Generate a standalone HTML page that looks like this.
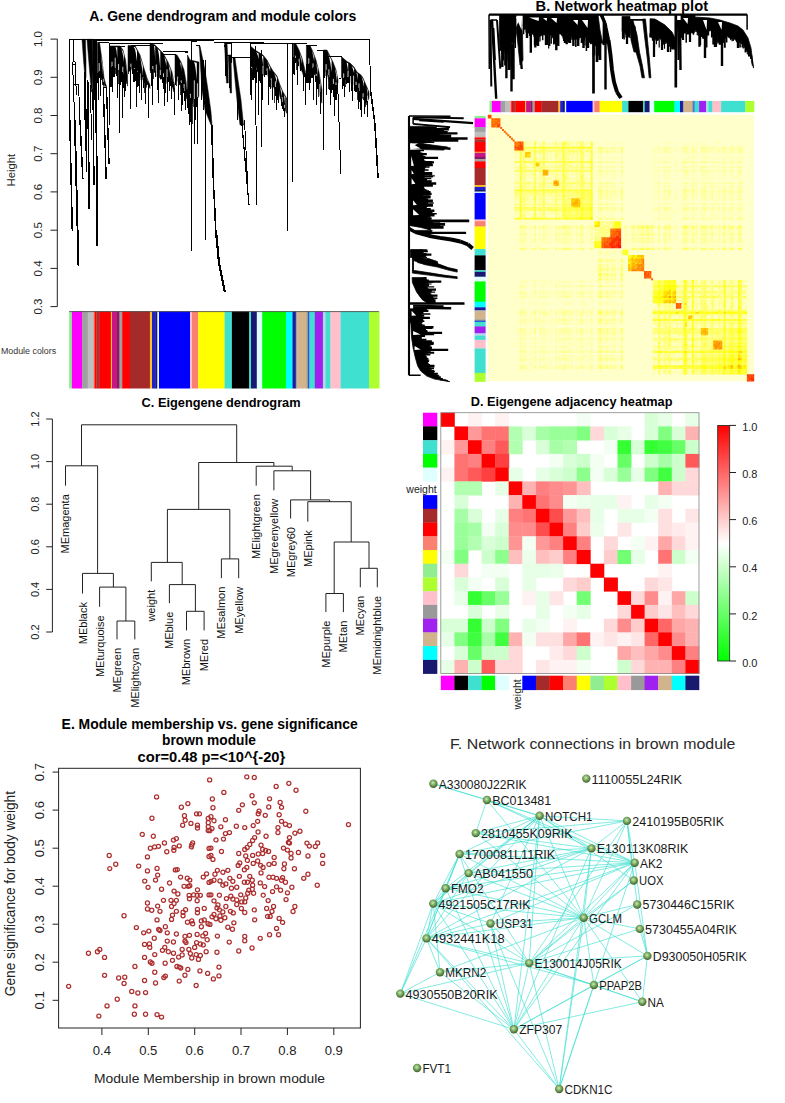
<!DOCTYPE html>
<html><head><meta charset="utf-8"><style>
html,body{margin:0;padding:0;background:#fff;}
svg{display:block;}
text{font-family:"Liberation Sans",sans-serif;}
</style></head><body>
<svg width="785" height="1103" viewBox="0 0 785 1103">
<rect width="785" height="1103" fill="#fff"/>
<text x="222.8" y="21.1" font-size="14" font-weight="bold" text-anchor="middle" fill="#000" textLength="267" lengthAdjust="spacingAndGlyphs">A. Gene dendrogram and module colors</text>
<path d="M57.3 39.1V306.6" stroke="#222" stroke-width="1" fill="none"/>
<path d="M50.5 39.1H57.3" stroke="#222" stroke-width="1"/>
<text x="42.3" y="39.1" font-size="11.5" text-anchor="middle" fill="#222" transform="rotate(-90 42.3 39.1)">1.0</text>
<path d="M50.5 77.3H57.3" stroke="#222" stroke-width="1"/>
<text x="42.3" y="77.3" font-size="11.5" text-anchor="middle" fill="#222" transform="rotate(-90 42.3 77.3)">0.9</text>
<path d="M50.5 115.5H57.3" stroke="#222" stroke-width="1"/>
<text x="42.3" y="115.5" font-size="11.5" text-anchor="middle" fill="#222" transform="rotate(-90 42.3 115.5)">0.8</text>
<path d="M50.5 153.7H57.3" stroke="#222" stroke-width="1"/>
<text x="42.3" y="153.7" font-size="11.5" text-anchor="middle" fill="#222" transform="rotate(-90 42.3 153.7)">0.7</text>
<path d="M50.5 191.9H57.3" stroke="#222" stroke-width="1"/>
<text x="42.3" y="191.9" font-size="11.5" text-anchor="middle" fill="#222" transform="rotate(-90 42.3 191.9)">0.6</text>
<path d="M50.5 230.2H57.3" stroke="#222" stroke-width="1"/>
<text x="42.3" y="230.2" font-size="11.5" text-anchor="middle" fill="#222" transform="rotate(-90 42.3 230.2)">0.5</text>
<path d="M50.5 268.4H57.3" stroke="#222" stroke-width="1"/>
<text x="42.3" y="268.4" font-size="11.5" text-anchor="middle" fill="#222" transform="rotate(-90 42.3 268.4)">0.4</text>
<path d="M50.5 306.6H57.3" stroke="#222" stroke-width="1"/>
<text x="42.3" y="306.6" font-size="11.5" text-anchor="middle" fill="#222" transform="rotate(-90 42.3 306.6)">0.3</text>
<text x="14.8" y="170.2" font-size="11.3" text-anchor="middle" fill="#222" transform="rotate(-90 14.8 170.2)">Height</text>
<text x="0.9" y="354.1" font-size="8.9" text-anchor="start" fill="#333">Module colors</text>
<rect x="69.1" y="311.2" width="3.1" height="77.3" fill="#90ee90"/>
<rect x="71.9" y="311.2" width="10.5" height="77.3" fill="#ff00ff"/>
<rect x="82.1" y="311.2" width="5.9" height="77.3" fill="#a0a0a0"/>
<rect x="87.7" y="311.2" width="6.2" height="77.3" fill="#bebebe"/>
<rect x="93.6" y="311.2" width="1.3" height="77.3" fill="#fa8072"/>
<rect x="94.6" y="311.2" width="2.1" height="77.3" fill="#ff0000"/>
<rect x="96.4" y="311.2" width="3.5" height="77.3" fill="#b03030"/>
<rect x="99.6" y="311.2" width="11.6" height="77.3" fill="#ff0000"/>
<rect x="110.9" y="311.2" width="1.4" height="77.3" fill="#ffc125"/>
<rect x="112" y="311.2" width="5.3" height="77.3" fill="#c71585"/>
<rect x="117" y="311.2" width="2.8" height="77.3" fill="#8b1a5a"/>
<rect x="119.5" y="311.2" width="3" height="77.3" fill="#a0a0a0"/>
<rect x="122.2" y="311.2" width="7.8" height="77.3" fill="#ff0000"/>
<rect x="129.7" y="311.2" width="20.5" height="77.3" fill="#a52a2a"/>
<rect x="149.9" y="311.2" width="2.4" height="77.3" fill="#ffc125"/>
<rect x="152" y="311.2" width="3.6" height="77.3" fill="#2020d0"/>
<rect x="155.3" y="311.2" width="2.4" height="77.3" fill="#191970"/>
<rect x="157.4" y="311.2" width="1.9" height="77.3" fill="#e0ffff"/>
<rect x="159" y="311.2" width="31.3" height="77.3" fill="#0000ff"/>
<rect x="190" y="311.2" width="2.3" height="77.3" fill="#ffc0cb"/>
<rect x="192" y="311.2" width="6.5" height="77.3" fill="#fa8072"/>
<rect x="198.2" y="311.2" width="26.7" height="77.3" fill="#ffff00"/>
<rect x="224.6" y="311.2" width="7.6" height="77.3" fill="#40e0d0"/>
<rect x="231.9" y="311.2" width="17.6" height="77.3" fill="#000000"/>
<rect x="249.2" y="311.2" width="2.1" height="77.3" fill="#40e0d0"/>
<rect x="251" y="311.2" width="6.1" height="77.3" fill="#191970"/>
<rect x="256.8" y="311.2" width="5.7" height="77.3" fill="#e0ffff"/>
<rect x="262.2" y="311.2" width="24.1" height="77.3" fill="#00ff00"/>
<rect x="286" y="311.2" width="6.8" height="77.3" fill="#00ffff"/>
<rect x="292.5" y="311.2" width="3.6" height="77.3" fill="#1c1ca0"/>
<rect x="295.8" y="311.2" width="1.8" height="77.3" fill="#a0a0a0"/>
<rect x="297.3" y="311.2" width="9.6" height="77.3" fill="#d2b48c"/>
<rect x="306.6" y="311.2" width="1.8" height="77.3" fill="#999999"/>
<rect x="308.1" y="311.2" width="1.6" height="77.3" fill="#2040e0"/>
<rect x="309.4" y="311.2" width="5.7" height="77.3" fill="#40e0d0"/>
<rect x="314.8" y="311.2" width="8.4" height="77.3" fill="#a020f0"/>
<rect x="322.9" y="311.2" width="3.1" height="77.3" fill="#add8e6"/>
<rect x="325.7" y="311.2" width="5" height="77.3" fill="#40e0d0"/>
<rect x="330.4" y="311.2" width="10.5" height="77.3" fill="#ffc0cb"/>
<rect x="340.6" y="311.2" width="28.7" height="77.3" fill="#40e0d0"/>
<rect x="369" y="311.2" width="10.5" height="77.3" fill="#adff2f"/>
<path d="M69.1 311.6H378.9" stroke="#555" stroke-width="0.9"/>
<path d="M82 39.3L83.5 60L85 78L86 78L86 60L85.4 39.3ZM87 39.3L89.5 70L91.5 92L92.5 92L93 70L92.8 39.3ZM97.5 42.2L99.5 42.2L102 60L104 78L106.5 87L106.5 87.6L106.1 87.6L106.1 86L105.2 84.5L105.2 86.5L103.9 83.3L103.9 87.2L102.4 78.6L102.4 79.9L101.5 77.8L101.5 79.9L99.8 73.3L99.8 73.4L98.8 75L98.8 75.4L97.5 76.5ZM110 46L120 46L123 50L125.5 60L127.5 75L127.5 86.1L127 80.7L127 84L125.3 78.6L125.3 78.7L123.8 75.6L123.8 78.2L121.7 74.9L121.7 74.6L119.7 71.6L119.7 72.7L118.3 72.8L118.3 72.3L116.7 70.9L116.7 70.9L115 69L115 71L113.3 68.4L113.3 71L112 66.5L112 70.5L110 68.4ZM128 45.6L135 45.6L140 55L143 65L147 78L150 85L150 88.4L148.1 84.1L148.1 85.3L146.5 83.3L146.5 87.5L144.8 81.6L144.8 82.9L143.3 79.9L143.3 80.2L141.7 79.2L141.7 81.7L140.6 77L140.6 79.4L139.3 74.3L139.3 76.6L137.2 73.2L137.2 74.3L135.7 72.4L135.7 75.4L133.7 69.3L133.7 73.7L132.8 70.2L132.8 70.9L131.1 68L131.1 70.5L129.9 71L129.9 71L128 71.7ZM150 43L155 45L160 50L163 53L168 62L172 72L174.5 85L174.5 92.9L173.8 90.4L173.8 91.7L171.7 84.2L171.7 84.5L170.1 81.3L170.1 82.8L168.9 80.4L168.9 80.8L166.8 78.5L166.8 83.4L164.8 79L164.8 80.5L163 76.2L163 78.4L160.9 75L160.9 79.8L159.4 76.5L159.4 78L157.9 73.7L157.9 75L156.5 72.1L156.5 76.4L154.7 71.6L154.7 72.4L153.2 72.1L153.2 71.6L151.7 70.7L151.7 71L150 70.7ZM175 54.4L177 55L181 62L184 70L186 81L188 95L188 104.1L187.5 98.5L187.5 101.8L186.7 96L186.7 98.8L185.4 93L185.4 94.2L184.2 91.1L184.2 90.6L182 88.6L182 88.7L180.9 86.4L180.9 86.2L179.3 84.2L179.3 84.7L177.1 80.3L177.1 81.4L175 77.2ZM187.5 55L190 60L199 62L198.8 96.3L196.6 99.9L196.6 101.9L195.1 102L195.1 101.9L193.6 100.1L193.6 106.8L192.7 99.3L192.7 103.7L191 100.5L191 104.1L189.2 96.7L189.2 98.1L187.5 95.5ZM199 46L199.5 50L202 90L205 110L211 125L212 125L211 112L208 90L205 70L200 46ZM224.5 43L225.3 60L226.5 83L228.3 83L227.8 60L227 43ZM228.3 55L229.2 75L230.2 93L231.6 93L231.4 75L231 55ZM233 58L235 80L237 100L240 125L243.5 125L241 100L238 80L235 58ZM250.5 46L255 50L259 52.5L263 55L267 60L270 66L273 71L277 76L280 85L283 92L286.5 98L286.5 113.3L285.1 109.1L285.1 111L283.6 106.1L283.6 107.6L281.6 99.3L281.6 103.4L280.6 96L280.6 98.8L278.9 92.7L278.9 94.5L277.6 90.5L277.6 93.5L275.5 89.3L275.5 89.5L274.5 87.2L274.5 89.4L273.5 86L273.5 87.2L271.9 85.3L271.9 87.5L269.9 80.4L269.9 81.2L268.5 76.6L268.5 77.5L266.6 73.2L266.6 74.6L265.8 71.6L265.8 74.3L264.4 73.7L264.4 74.9L262.5 75.5L262.5 78.8L260.6 74L260.6 74.3L259.4 71.4L259.4 72.3L258 69.1L258 71.5L255.8 72.9L255.8 73.7L254.8 72.4L254.8 75.7L253.1 72.6L253.1 73L251.4 71.2L251.4 71.6L250.5 70.3ZM293.5 43.9L296 44L299 50L302 58L305 70L306.5 76L306.5 78.3L306.1 77.8L306.1 79.4L303.9 74.1L303.9 77.1L302 71L302 71.4L300.4 67L300.4 69.1L298.6 61.8L298.6 66.2L297.4 60.7L297.4 63.3L295.3 58.7L295.3 59.8L293.5 57.3ZM306.4 45.6L310 45.6L313 52L316 60L319 72L322 90L321.8 103.2L319.8 94.1L319.8 95.8L318.5 88.2L318.5 87.7L316.4 80.6L316.4 82.2L314.7 73.7L314.7 75L312.6 70.3L312.6 69.9L311.5 68.4L311.5 68.8L310.5 66.3L310.5 69L309.3 67L309.3 69.5L308.5 64.8L308.5 66.6L306.4 65.2ZM323.5 50L327 50L330 56L333 62L336 70L338 80L338 82.8L336.9 84.4L336.9 85.8L335.9 87L335.9 87.7L333.8 88L333.8 89.9L333 85.2L333 89.3L331.4 83.8L331.4 85.2L329.9 81.1L329.9 83.2L328.8 77.5L328.8 81.3L327.2 72.9L327.2 74.8L325.5 71.2L325.5 75.9L323.5 71.2ZM341.5 56.5L343 58L347 61.5L350 63L354 67L357 72L361 75L363 78L366 85L369 92L369 97.7L368.4 99.5L368.4 99.5L366.4 103.2L366.4 105L364.9 101.1L364.9 102.4L363.7 99.5L363.7 99.9L361.7 97.6L361.7 98.6L359.9 93.6L359.9 93.7L358.4 91.8L358.4 93L356.9 88.1L356.9 89.6L354.8 84.6L354.8 86.7L352.8 84.3L352.8 88.5L351.9 82.8L351.9 87.5L350 79.1L350 81.7L348.9 79.2L348.9 80.4L347 75.8L347 79.6L345.6 79.5L345.6 79L344.4 80.3L344.4 80.4L343.2 79L343.2 80.1L341.5 77.3Z" fill="#000" stroke="#000" stroke-width="0.5"/>
<path d="M100.7 52.2L101 54.2L101.3 56.3L101.6 58.3L101.9 60.3L102.1 62.5L102.4 65.1L102.4 75L102.1 69.2L101.9 64.3L101.6 60.4L101.3 57.1L101 54.4L100.7 52.2ZM104.2 79.9L104.4 80.6L104.5 81.3L104.7 82L104.9 82.6L105.1 83.3L105.3 84L105.3 84.9L105.1 83.9L104.9 83L104.7 82.2L104.5 81.4L104.4 80.6L104.2 79.9ZM115.2 47.3L115.6 47.3L115.9 47.3L116.3 47.3L116.6 47.3L116.9 47.3L117.3 47.3L117.3 58.3L116.9 54.7L116.6 51.8L116.3 49.7L115.9 48.3L115.6 47.5L115.2 47.3ZM120.9 48.5L121.4 49.1L121.9 49.8L122.3 50.4L122.8 51.1L123.3 52.6L123.8 54.6L123.8 62.5L123.3 57.9L122.8 54.3L122.3 52.1L121.9 50.5L121.4 49.3L120.9 48.5ZM125.3 60.3L125.4 61L125.6 62.1L125.8 63.4L126 64.7L126.1 66L126.3 67.3L126.3 72.4L126.1 69.4L126 66.8L125.8 64.5L125.6 62.5L125.4 61.1L125.3 60.3ZM133.1 46.9L133.7 46.9L134.4 46.9L135 47L135.7 48.2L136.3 49.4L137 50.6L137 61.5L136.3 56.7L135.7 52.6L135 49.3L134.4 47.9L133.7 47.1L133.1 46.9ZM139.4 55.1L140 56.2L140.5 58.1L141.1 60L141.7 61.9L142.3 63.8L142.8 65.7L142.8 75.9L142.3 70.6L141.7 66L141.1 62.2L140.5 59L140 56.4L139.4 55.1ZM145.3 73.8L145.7 75L146.1 76.3L146.4 77.5L146.8 78.7L147.2 79.7L147.6 80.6L147.6 81.7L147.2 80.5L146.8 79.1L146.4 77.7L146.1 76.4L145.7 75.1L145.3 73.8ZM153.8 45.8L154.1 45.9L154.3 46L154.5 46.1L154.8 46.2L155 46.3L155.2 46.5L155.2 61.9L155 56.6L154.8 52.5L154.5 49.5L154.3 47.4L154.1 46.2L153.8 45.8ZM157.3 48.6L157.8 49.1L158.3 49.6L158.8 50.1L159.3 50.6L159.8 51.1L160.3 51.6L160.3 70.5L159.8 63.8L159.3 58.3L158.8 54.2L158.3 51.3L157.8 49.4L157.3 48.6ZM163.7 55.6L164.2 56.4L164.6 57.2L165.1 58L165.5 58.8L166 59.7L166.4 60.5L166.4 66.7L166 63.9L165.5 61.4L165.1 59.4L164.6 57.8L164.2 56.5L163.7 55.6ZM168.2 63.7L168.6 64.7L169 65.7L169.3 66.6L169.7 67.6L170.1 68.6L170.5 69.5L170.5 77.9L170.1 74.1L169.7 71L169.3 68.5L169 66.4L168.6 64.9L168.2 63.7ZM172 73.2L172.2 74.3L172.4 75.4L172.6 76.6L172.9 77.8L173.1 78.9L173.3 80.1L173.3 83.8L173.1 81.4L172.9 79.3L172.6 77.4L172.4 75.8L172.2 74.4L172 73.2ZM179.7 61L179.9 61.4L180.2 61.9L180.5 62.4L180.8 62.9L181.1 63.5L181.3 64.2L181.3 71.9L181.1 68.6L180.8 66.1L180.5 64.1L180.2 62.6L179.9 61.6L179.7 61ZM184.1 71.9L184.6 74.4L185 76.8L185.5 79.3L185.9 81.8L186.4 84.8L186.8 87.9L186.8 90.4L186.4 86.4L185.9 82.8L185.5 79.8L185 77.1L184.6 74.4L184.1 71.9ZM193.6 62.1L194.2 62.2L194.7 62.3L195.2 62.5L195.7 62.6L196.3 62.7L196.8 62.8L196.8 80.2L196.3 74.4L195.7 69.7L195.2 66.3L194.7 63.9L194.2 62.6L193.6 62.1ZM255.8 51.8L256.3 52.1L256.8 52.4L257.2 52.7L257.7 53L258.1 53.3L258.6 53.6L258.6 59.3L258.1 57.1L257.7 55.3L257.2 53.9L256.8 52.9L256.3 52.2L255.8 51.8ZM261.2 55.2L261.6 55.4L261.9 55.6L262.3 55.8L262.6 56.1L263 56.3L263.3 56.7L263.3 69L263 64.6L262.6 61.1L262.3 58.5L261.9 56.7L261.6 55.6L261.2 55.2ZM266.4 60.5L267 61.4L267.7 62.6L268.3 63.9L268.9 65.1L269.5 66.4L270.2 67.6L270.2 71.6L269.5 69.1L268.9 66.8L268.3 64.7L267.7 63L267 61.4L266.4 60.5ZM273.8 73.3L274.3 74L274.8 74.6L275.4 75.2L275.9 75.9L276.4 76.5L276.9 77.2L276.9 84.1L276.4 81.2L275.9 78.7L275.4 76.8L274.8 75.2L274.3 74.1L273.8 73.3ZM279.3 84.1L279.7 85.3L280.1 86.5L280.5 87.5L280.9 88.5L281.4 89.5L281.8 90.4L281.8 97.9L281.4 94.5L280.9 91.6L280.5 89.1L280.1 87.2L279.7 85.5L279.3 84.1ZM283.5 94.1L283.8 94.6L284.1 95.1L284.4 95.7L284.7 96.2L285 96.7L285.3 97.2L285.3 107.3L285 103.4L284.7 100.3L284.4 97.9L284.1 96L283.8 94.8L283.5 94.1ZM299.3 52.2L299.7 53.2L300.1 54.1L300.4 55.1L300.8 56.1L301.1 57L301.5 58L301.5 64.2L301.1 61.2L300.8 58.6L300.4 56.4L300.1 54.7L299.7 53.3L299.3 52.2ZM303.5 65.1L303.8 66.3L304.1 67.6L304.4 68.8L304.7 70L305 71.3L305.3 72.5L305.3 73.4L305 71.9L304.7 70.4L304.4 69L304.1 67.7L303.8 66.4L303.5 65.1ZM310.9 48.8L311.5 50L312 51.2L312.5 52.3L313.1 53.5L313.6 55L314.2 56.4L314.2 61.2L313.6 58.1L313.1 55.5L312.5 53.3L312 51.6L311.5 50.1L310.9 48.8ZM316 61.3L316.3 62.3L316.5 63.4L316.8 64.4L317 65.5L317.3 66.5L317.6 67.6L317.6 77L317.3 72.8L317 69.3L316.8 66.5L316.5 64.2L316.3 62.5L316 61.3ZM319.1 74.1L319.4 75.8L319.7 77.5L320 79.1L320.2 80.8L320.5 82.4L320.8 84.1L320.8 88.9L320.5 85.7L320.2 82.7L320 80.2L319.7 77.9L319.4 75.9L319.1 74.1ZM327.7 52.7L328.3 54L329 55.3L329.6 56.5L330.3 57.8L330.9 59.1L331.6 60.4L331.6 72.3L330.9 67.1L330.3 62.7L329.6 59.1L329 56.3L328.3 54.2L327.7 52.7ZM334.4 67.1L334.8 68.2L335.2 69.2L335.6 70.3L336 71.3L336.4 73.3L336.8 75.3L336.8 82.3L336.4 78L336 74.2L335.6 71.8L335.2 69.8L334.8 68.3L334.4 67.1ZM346.2 62.1L346.5 62.4L346.9 62.7L347.2 62.9L347.6 63.1L347.9 63.2L348.2 63.4L348.2 73.9L347.9 70.3L347.6 67.4L347.2 65.2L346.9 63.6L346.5 62.6L346.2 62.1ZM350.9 65.2L351.4 65.7L352 66.3L352.5 66.8L353 67.3L353.5 67.8L354.1 68.4L354.1 73.2L353.5 71L353 69.3L352.5 67.8L352 66.7L351.4 65.8L350.9 65.2ZM356.1 71.8L356.4 72.3L356.6 72.7L356.9 73.1L357.1 73.4L357.4 73.6L357.6 73.8L357.6 80.5L357.4 78.1L357.1 76.2L356.9 74.6L356.6 73.3L356.4 72.4L356.1 71.8ZM361.1 76.5L361.6 77.1L362 77.8L362.5 78.5L363 79.2L363.4 80.3L363.9 81.3L363.9 87L363.4 84.1L363 81.6L362.5 79.8L362 78.3L361.6 77.3L361.1 76.5ZM366.3 86.9L366.5 87.5L366.8 88.1L367 88.7L367.3 89.3L367.5 89.9L367.8 90.5L367.8 96.6L367.5 94L367.3 91.8L367 90L366.8 88.6L366.5 87.6L366.3 86.9Z" fill="#fff"/>
<path d="M99.2 63.1L99.2 76.6M103.2 78.8L103.2 84.8M112 61.7L112 71.5M115.2 57.7L115.2 73.1M118.6 63.9L118.6 75.3M122.8 66.8L122.8 78.7M130.9 63.6L130.9 72.5M134.4 68.1L134.4 74.8M137.3 71.3L137.3 77.1M140.2 73.3L140.2 79.5M143 77.4L143 83M152.8 66L152.8 74.6M156.3 64.6L156.3 76.8M160.3 69.8L160.3 79.5M163.5 73.3L163.5 81.4M167 69.3L167 83.1M171.1 80.7L171.1 86.1M177.7 76.6L177.7 83.7M181.2 80.3L181.2 89.3M184.1 84L184.1 93.8M190.3 93.7L190.3 103.1M194.3 80.3L194.3 104.6M197.4 83.3L197.4 102.1M251.7 66.8L251.7 74.6M255.8 67.6L255.8 75.5M258.5 67L258.5 74M263 65.8L263 78.4M267.1 68.2L267.1 77M271.2 78.4L271.2 86.4M275.4 81.3L275.4 92.1M278.7 91.3L278.7 95.4M282.2 97.1L282.2 106.2M284.7 104.8L284.7 112.3M295.3 55.7L295.3 62.9M299.2 58.7L299.2 67.4M303.9 73.5L303.9 76.9M308.8 58.2L308.8 69.2M313 63.4L313 73.4M316.2 73.9L316.2 82.7M319.8 84L319.8 96.7M326.1 64.1L326.1 76.3M328.9 69.3L328.9 81.8M333.4 78.9L333.4 90.3M336 82.4L336 89.9M343.7 73.3L343.7 82.6M348 71.1L348 81.7M350.6 76.1L350.6 85.1M353.6 75.7L353.6 88M356.1 81.8L356.1 89.9M359 83.4L359 95.7M363.1 93.2L363.1 101.9M367.6 95.5L367.6 104.9" stroke="#fff" stroke-width="0.80" fill="none"/>
<path d="M69.5 39.3L369.5 39.3M93 40.4L214 40.4M98.5 42.2L109 42.2M109 43.7L150 43.7M109.5 46L125 46M131 45.6L150 45.6M150 43L163 43M163 51.8L188 51.8M163 54.4L175.5 54.4M191.1 41L197.2 41M185 52L188 52M195.5 45.6L200 45.6M214 42.6L264 42.6M231.6 43L231.6 63M232 57.9L250 57.9M250 43.7L295 43.7M250.3 43.7L250.3 95M293 43.9L307 43.9M306.4 45.4L317 45.4M317 50L326 50M326 56.2L341.5 56.2M69.5 39.3L69.8 120M73.2 39.3L73.2 61.5M72.8 61.5L75.3 61.5M72.8 61.5L72.8 64M75.3 61.5L75.3 64M72.8 64L75.3 64M72.8 64L73.2 84M75.3 64L76.3 95M73.2 84L78.5 84M73.2 84L74.8 120M78.5 84L80 120M84 70L84.5 120M90.5 85L91.5 140M92 88L92.5 110M94.6 39.3L95 100M99.4 71.4L99.4 77.5M100.4 72.7L100.4 80.1M98 72L98 100M100.5 71.9L100.5 96M103.3 87.5L106.5 87.5M109.5 43.7L109.5 125M113.2 66.2L113.2 71.1M116.3 69.1L116.3 75.5M121.8 72.7L121.8 81.9M123.3 74.3L123.3 87.6M117.5 68.7L117.5 98M119.5 69.8L119.5 108M122 71.9L122 118M124 74.5L124 97M119.3 69.7L119.3 133M112 65.5L112 92M130.2 68.3L130.2 80.9M132.2 68.2L132.2 73.8M135.2 70.4L135.2 80.7M139.8 74.2L139.8 93.2M141.5 76.1L141.5 84.5M143 78L143 87.5M130.3 67.2L130.3 108.5M136 70.1L136 106.8M141 74.5L141 100M145.4 79.9L145.4 103.7M148 82.7L148 117.5M151.7 69L151.7 85.6M155.6 71.2L155.6 76.7M165.3 77.7L165.3 92.7M167.1 78.1L167.1 88.2M168.5 78.5L168.5 81.8M172.3 83.6L172.3 87M152.6 68.5L152.6 104.5M158.3 72.1L158.3 103M164.5 76.3L164.5 106M167 77.1L167 101.5M171.3 80.5L171.3 99M174.8 88.2L174.8 114.5M175.9 76.5L175.9 84.6M183.7 88.2L183.7 93.2M187.6 98L187.6 101.9M181.3 83.4L181.3 110.6M185.9 91.9L185.9 109.9M187.4 96.4L187.4 108.3M178 78.1L178 100M191.1 41L191.1 251.3M188.1 94.2L188.1 114.3M189.7 97L189.7 115.2M190.6 98.4L190.6 122.1M195.5 99.3L195.5 119.6M194.6 98.6L194.6 144M197 96.8L197 144M189 94.8L189 125M203 60L203 110M205.2 60L205.2 240M201 60L201 100M224.5 43L232 43M226 55L232 55M225.5 60L225.8 76M229 70L229.3 88M236 80L240.5 122M244.5 120L248 190M237 95L237.5 120M252.2 69.9L252.2 79.9M254.1 71L254.1 77.5M256.7 69.5L256.7 82.9M258.6 69L258.6 82.9M259.9 71.2L259.9 80.9M266.7 71.1L266.7 75.4M268.5 75.4L268.5 86.9M270.6 80.2L270.6 88.7M275.7 87.3L275.7 95.8M278.8 90.6L278.8 103M282.4 102.1L282.4 108.7M283.5 105.6L283.5 111.1M284.8 107.5L284.8 117.2M258 67L258 115M262 73.9L262 100M268 73.1L268 104.5M276 86.6L276 110M251 68.2L251 100M272 82.1L272 100M255 44L257 205.4M261.3 50.4L261.3 147.3M287.2 43.7L287.2 231M292.5 43.7L292.5 182M295 57.7L295 62.7M298.8 61.8L298.8 65.8M300.2 63.9L300.2 70.5M302.4 69.1L302.4 72.4M306.2 75.4L306.2 77.8M297 58.6L297 85.4M303 69.5L303 90.8M305.9 74L305.9 104.5M294 56.1L294 75M310.6 65.3L310.6 83.3M313.7 69.5L313.7 73.4M315.8 76.1L315.8 81.9M320.5 94.7L320.5 106.2M309 63.2L309 90M313 67.4L313 100M320 91.6L320 114M316 75.8L316 105M323.2 50L323.2 149.5M329.2 77.3L329.2 90.4M331 81.6L331 93.3M337.6 81.4L337.6 83.1M326 70.2L326 95M330 78.3L330 105M334 85.2L334 116M338.5 78.5L341 78.5M337.5 80L340.9 174.2M346.3 76.4L346.3 84.4M349.9 78.8L349.9 92M352.5 83.7L352.5 88.4M359 90.8L359 102.1M344.5 77.4L344.5 97.1M352.5 82.7L352.5 101M358 88.4L358 109M361 92.6L361 116.9M364 97.7L364 113.7M367 101.1L367 116.9M369.5 39.3L370.5 90" stroke="#000" stroke-width="1.00" fill="none" shape-rendering="crispEdges"/>
<path d="M69.8 120L72.3 231M80 120L82.8 178.6M85.4 78L86.5 171.6" stroke="#000" stroke-width="1.50" fill="none" shape-rendering="crispEdges"/>
<path d="M74.8 120L78.5 266.4M96 39.3L97 245.6" stroke="#000" stroke-width="1.90" fill="none" shape-rendering="crispEdges"/>
<path d="M87.7 80L89.3 208.6M105.3 83.5L105.3 85.5M110.8 67.1L110.8 86.7M114.2 67.2L114.2 77.2M125.4 77.1L125.4 90.9M133.7 69.3L133.7 81.7M137.3 72.1L137.3 86.8M138.7 73.3L138.7 85.5M161 75L161 79.1M170.6 80.1L170.6 86.4M181.5 84.7L181.5 94.3M196.7 98.2L196.7 107.3M211.7 125L213.7 190M213.9 190L215.7 230M251 69.2L251 80.7M261.1 73.4L261.1 82.8M301.3 66.4L301.3 70M312.6 67.9L312.6 77.8M324 69.1L324 78.1M332.7 84.1L332.7 90.1M333.9 86.1L333.9 96.5M336.1 84.8L336.1 100.2M351.6 82.1L351.6 91.3M356 84.7L356 92M360.9 93.5L360.9 110.4M367.4 100.5L367.4 106.7M370.5 90L372.5 105M372.5 105L375 125M375 125L378 178" stroke="#000" stroke-width="1.60" fill="none" shape-rendering="crispEdges"/>
<path d="M93.2 39.3L93.9 184.7M103.3 87.5L106.2 179.3M106.5 87.5L109 163.9" stroke="#000" stroke-width="1.40" fill="none" shape-rendering="crispEdges"/>
<path d="M98 73L98 82.6M103.8 81.7L103.8 84.6M112.2 66.4L112.2 81.2M120.5 71.5L120.5 85.1M157.3 72.4L157.3 89.6M162.7 75.9L162.7 83M163.7 76.6L163.7 89.1M169.5 78.9L169.5 90.5M182.5 86.4L182.5 105M184.9 90.6L184.9 100.7M194.4 99.6L194.4 112.6M253.1 70.4L253.1 79.9M255.3 71.1L255.3 76.9M262.7 73.9L262.7 78.7M264.7 71.2L264.7 77M265.7 70L265.7 75.2M269.7 78.1L269.7 87.3M277.7 89.2L277.7 100M280.2 92.9L280.2 97.1M281.4 98.1L281.4 105.5M293.9 57L293.9 74.2M304 72.1L304 76.7M306.9 63.7L306.9 82.5M309 64.2L309 82.6M311.6 66.5L311.6 78.4M317.1 81L317.1 88.8M342.2 76.1L342.2 89M344 77.9L344 86.3M348.1 76.8L348.1 82.6M354.7 82.3L354.7 91" stroke="#000" stroke-width="1.30" fill="none" shape-rendering="crispEdges"/>
<path d="M102.3 77.2L102.3 85.1M115.3 68.3L115.3 74.4M118.5 70.2L118.5 83.7M128.6 70.2L128.6 74.4M144.8 80.1L144.8 92.8M146.8 82.6L146.8 85M148.8 84.4L148.8 94.9M150.4 68.3L150.4 73.3M153.4 69.9L153.4 79.2M158.9 73.5L158.9 80.1M173.3 86.1L173.3 89.1M176.9 77.5L176.9 85.5M178.3 79.5L178.3 94.7M180 82.2L180 94.9M185.9 92.9L185.9 100.6M192.4 100.2L192.4 124.1M197.7 96.8L197.7 116.2M272.8 84.9L272.8 97.2M274.1 86.1L274.1 103.3M296.9 59.4L296.9 69.9M318.4 86L318.4 97.3M326 71.2L326 85.3M328 74.6L328 89M345 77.8L345 87M357.5 88.3L357.5 99.8M363 96.8L363 100.4M364.7 99.5L364.7 108.1M365.6 100.6L365.6 107.1" stroke="#000" stroke-width="0.80" fill="none" shape-rendering="crispEdges"/>
<path d="M215.9 230L219.2 265M219.4 265L224.8 292" stroke="#000" stroke-width="2.20" fill="none" shape-rendering="crispEdges"/>
<path d="M225 45L227.5 83M242 125L249 205.4" stroke="#000" stroke-width="1.20" fill="none" shape-rendering="crispEdges"/>
<text x="621.8" y="10.7" font-size="14.6" font-weight="bold" text-anchor="middle" fill="#000" textLength="172.5" lengthAdjust="spacingAndGlyphs">B. Network heatmap plot</text>
<path d="M499.5 14.6L516 14.6L516 34.4L515.2 35.2L515.2 38.2L514.2 37.1L514.2 43L513 40.5L513 41.8L511.7 43.6L511.7 47.2L509.9 49.2L509.9 50L508 50.5L508 53.1L506 48.9L506 50.8L504.3 49.5L504.3 52.7L502.7 47.6L502.7 49L500.6 45.1L500.6 50.9L499.5 43.1ZM516 28L518 45L520 65L523 60L522.5 35L521 17ZM523 14.6L566 14.6L566 35.6L565.6 32.9L565.6 35.7L564.2 33L564.2 33.6L562.3 32.7L562.3 36.4L560.4 31.4L560.4 32.9L558.2 34L558.2 34.3L556.9 34.2L556.9 37.6L556 36.9L556 39.7L553.8 34.5L553.8 35.7L552.9 33L552.9 36.9L551 33.2L551 35.4L548.9 32.7L548.9 34.2L547.8 33.7L547.8 35.4L546.6 32.8L546.6 36.5L545.5 33.7L545.5 33.9L544 32.5L544 34.1L542.7 32.6L542.7 34.9L541.6 31.9L541.6 35.8L540.6 32.6L540.6 36.2L539.6 32.8L539.6 36.8L537.6 35.8L537.6 36.6L535.8 33.3L535.8 36.3L534.6 33.7L534.6 37L533.5 32.4L533.5 34.7L532.4 32.4L532.4 33.2L530.3 31.6L530.3 34L528.9 30.2L528.9 32.9L527.9 28.4L527.9 30.8L526.3 29.4L526.3 29.5L524.4 27.8L524.4 27.4L523 25.7ZM566 14.6L590 14.6L590 38.3L589.1 35.4L589.1 38.4L587.3 38.6L587.3 39.4L586.3 36.3L586.3 37.7L584.6 36.4L584.6 40.8L582.9 36.4L582.9 39.3L582.1 37.8L582.1 38.1L581.2 35.8L581.2 38L579.1 35.2L579.1 39.3L577.4 35.7L577.4 37.7L575.6 34L575.6 37.5L574.6 34.7L574.6 35L573.3 36L573.3 35.3L571.7 33L571.7 36.9L570.2 34.3L570.2 34.3L569.3 32.3L569.3 33.5L567.5 31.4L567.5 33.1L566 32.4ZM590 14.6L603 14.6L603 42.1L601.6 42.3L601.6 42.5L599.5 41.3L599.5 43L597.5 44.5L597.5 45.4L595.9 44.2L595.9 46.1L594.7 44.4L594.7 46.7L592.9 43.8L592.9 43.6L590.9 42.6L590.9 44L590 41.2ZM598 14.6L600 30L603 45L609 42L607 30L603 14.6ZM622 16.5L630 16.5L630 38L628.5 34.6L628.5 36.8L627.4 33.8L627.4 37L625.3 33.6L625.3 32.7L624.5 32.7L624.5 32.6L622.9 31.2L622.9 34.1L622 29.9ZM629.5 20.6L632 35L636 52L640 66L642 77.8L644.5 77.8L642.5 66L639.5 52L637 35L633 20.6ZM630 26L631 40L634 52L637.6 52L637 40L635 26ZM642.6 19L645 40L647.5 60L649.2 77.8L650.9 77.8L649.5 60L647.5 40L645.5 19ZM650 18.7L655 19L665 25L672 32L676 40L676 48.5L674.9 46.3L674.9 48.1L673.3 48.1L673.3 49L672.5 47.9L672.5 48L671.3 46.2L671.3 49.2L669.9 43.6L669.9 46.2L668.9 43.4L668.9 45.4L667.5 42.2L667.5 44.5L665.5 41L665.5 43.8L664 37.9L664 39.6L663 38.5L663 39.8L661.2 38L661.2 38.1L659.9 37.2L659.9 38.2L658.6 35.5L658.6 39.8L657.6 38.3L657.6 40.4L656.5 37.3L656.5 41.1L655.2 37L655.2 40.3L653.1 37.3L653.1 37.9L652.2 36.5L652.2 38.2L651.3 36.8L651.3 36.6L650 33.3ZM681 14.6L695 14.6L695 31.9L694.2 28.5L694.2 32.8L692.3 29.3L692.3 31.3L690.2 33.2L690.2 33.7L688.3 31.5L688.3 31.5L686.1 30.5L686.1 32L684.7 29.8L684.7 31.8L683.4 30.7L683.4 33.5L682.3 28.3L682.3 31.7L681 30.8ZM695 17L710 18L720 20L730 23L738 26L743 30L748 38L751 48L753.5 68L753.5 68.1L752.4 61L752.4 65.7L750.9 55L750.9 58.6L749.3 52.8L749.3 54.4L747.4 51L747.4 54.3L746.6 47.8L746.6 50.4L744.6 45.5L744.6 47.7L743.6 42.8L743.6 44.3L741.5 40.2L741.5 44.1L739.7 40.8L739.7 42.6L737.8 38.2L737.8 43L736.3 38.7L736.3 41.1L734.5 38.3L734.5 39.5L732.6 38.4L732.6 39.2L730.8 35.8L730.8 40.1L729.3 36.2L729.3 38.1L727.3 35.5L727.3 36.6L725.3 36.4L725.3 39L723.7 38.9L723.7 42.9L721.9 40.9L721.9 44L720.6 39.2L720.6 42.4L719.4 39.8L719.4 40.2L718.3 41L718.3 43.1L716.5 39.1L716.5 39.7L714.4 35.6L714.4 40.2L713.3 33.6L713.3 35.9L712.3 31.3L712.3 32.9L710.5 28.5L710.5 30.9L709.1 30.7L709.1 30.8L707.7 33.4L707.7 34.2L706.8 34.3L706.8 37.6L705.4 36.3L705.4 38.4L703.4 37.1L703.4 38.9L702.5 36.3L702.5 37.1L701.5 34.5L701.5 37L699.6 33.7L699.6 35L698.4 31.8L698.4 35.5L696.2 28.8L696.2 31.3L695 28.1Z" fill="#000" stroke="#000" stroke-width="0.75"/>
<path d="M516 17L522 17L521.6 30ZM529 17.5L539 17.5L538.6 21ZM543 18L547 18L546.6 21ZM551 18L557 18L556.6 23ZM573 20L578 20L577.6 25ZM582 20L588 20L587.6 28ZM703 20L707 20L706.6 30ZM718 22L722 22L721.6 30ZM683 18L688 18L687.6 24ZM662 21L668 21L667.6 27Z" fill="#fff"/>
<path d="M489 14.6L747.1 14.6M678 20L678.5 60" stroke="#000" stroke-width="2.10" fill="none"/>
<path d="M747.1 14.6L747.1 29.8M489 14.6L489.3 69M490.5 20L497 20M500.5 45L500.5 49.6M509.8 47.3L509.8 66.5M513.4 39.3L513.4 43.9M515.3 34L515.3 47.9M523.6 25L523.6 34.2M526.2 26.4L526.2 32.4M529.6 29.4L529.6 36.1M532.6 31.2L532.6 34.6M534.2 31.9L534.2 37M538.6 33.2L538.6 41.5M541.4 31.1L541.4 35M542.7 30.9L542.7 40.3M551.2 31.6L551.2 43.8M552.9 32.8L552.9 38.2M553.8 33.5L553.8 44.5M556.2 35L556.2 44.4M557.5 33.5L557.5 45.8M558.7 32.1L558.7 46M562 31.1L562 35.5M565.2 31.9L565.2 34.9M570.4 32.3L570.4 39.2M575.8 33.8L575.8 47.1M577.3 34.2L577.3 39.6M578.5 34.5L578.5 45.7M580.1 34.7L580.1 37.9M586.4 35.7L586.4 51M587.6 35.8L587.6 41.3M591 40.2L591 44.2M599.5 41.3L599.5 57.2M601.6 39.5L601.6 43.4M624.1 30.4L624.1 39.4M626.2 31.8L626.2 37.6M652.6 35.4L652.6 40.7M654.4 36.6L654.4 47M660.4 35.2L660.4 39.5M662.4 36.4L662.4 44.9M669.4 42.4L669.4 46.6M670.5 43.4L670.5 51.9M681.2 28L681.2 37.6M686.2 29.1L686.2 42.7M690 30.3L690 34.4M692.4 29.2L692.4 33.6M693.5 28.6L693.5 34.8M700.7 33L700.7 36.4M702.1 34.2L702.1 36.7M705.3 35.8L705.3 40.1M709.7 26.8L709.7 29.9M718.4 38.1L718.4 41.4M721.8 39.5L721.8 49.5M722.8 38.5L722.8 41.9M726.7 33.8L726.7 42.6M728.8 34.1L728.8 37.3M733.2 35.9L733.2 41M735.1 36.8L735.1 39M740.1 39.4L740.1 47.4M745.3 44.8L745.3 52.5M747.1 48.9L747.1 52.1M752.2 59.6L752.2 63.4" stroke="#000" stroke-width="1.50" fill="none"/>
<path d="M490.5 20L491.3 86.4M497 20L500.3 68.6M505.1 48.7L505.1 65.4M524.7 25.6L524.7 29.7M546 32.1L546 39.2M547.5 31.6L547.5 45M560.4 30.7L560.4 34.5M568.9 31.7L568.9 42.8M572.2 32.8L572.2 39.8M589.3 34.9L589.3 42.8M657.6 35.7L657.6 40.7M666.3 39.3L666.3 41.9M672.7 45.3L672.7 49.4M682.3 28.2L682.3 37.9M683.3 28.4L683.3 31.6M688 29.7L688 34.6M706.5 33.5L706.5 47.6M708.2 30L708.2 35.5M711.9 30.1L711.9 37.4M716.1 37.2L716.1 46.9M724.8 36.1L724.8 47.7M730.9 34.9L730.9 39.2M749 52.2L749 56.4" stroke="#000" stroke-width="1.95" fill="none"/>
<path d="M492 20L496.2 98.7M508.3 48.5L508.3 54.7M511.8 44.1L511.8 50.7M502.3 46.1L502.3 67M506.4 48.3L506.4 78.3M511.5 43.9L511.5 91.5M513.5 38.1L513.5 79.3M509 46.9L509 70M521 60L521.7 69M527.9 27.7L527.9 33.5M535.3 32.3L535.3 47.4M537 33.2L537 45M544.3 31.5L544.3 35.2M554.8 34.2L554.8 43.8M564.2 31.7L564.2 40.9M527 25.9L527 38M530.8 29.5L530.8 52.8M535 31.1L535 45M538 32.6L538 46M556.3 33.8L556.3 50.3M546 31.1L546 45M566.7 30.9L566.7 44.2M573.4 33.1L573.4 46M574.6 33.5L574.6 39.7M582.5 35.1L582.5 43.1M583.5 35.2L583.5 47.9M565 29.6L565 43M570 31.1L570 43M578 33.4L578 46M588 34.9L588 48M598 41.7L598 55.6M605.5 30L605.5 89.5M650.5 33.2L650.5 37.6M663.3 37L663.3 44.4M680 20L680.5 70M685 28.7L685 33.6M691 29.8L691 32.8M699.5 31.9L699.5 46.7M703.4 35.2L703.4 38.4M713.5 33.7L713.5 44.6M715.1 36.8L715.1 42.4M719.8 38.6L719.8 44.7M738.2 38.3L738.2 47.7M751.2 55.4L751.2 58.9M705 35.5L705 58M722 38.5L722 66M700 31.5L700 45M715 35.8L715 47M738 37.2L738 48" stroke="#000" stroke-width="2.40" fill="none"/>
<path d="M493.5 28L495 60M624.6 19.8L643.4 19.8" stroke="#000" stroke-width="1.80" fill="none"/>
<path d="M502 46.7L502 54M503.4 48.1L503.4 60.6M507 49.5L507 61.5M531.1 30.7L531.1 33.5M540 32.1L540 41.6M548.7 31.1L548.7 48.4M549.8 30.7L549.8 46M563 31.4L563 38.5M567.7 31.3L567.7 40.8M581.3 34.9L581.3 43.1M585 35.4L585 45.5M593.2 41.5L593.2 56.7M594.8 42.5L594.8 55.6M596.8 42.1L596.8 57.8M622.6 29.5L622.6 38.9M628.2 33.3L628.2 37.4M656.4 36L656.4 44.3M659.2 35.2L659.2 47.6M661.4 35.9L661.4 40.8M664.5 37.7L664.5 48.8M668 41L668 45.7M674.3 46.3L674.3 49.7M696 27.9L696 31.7M697.3 29.4L697.3 35.3M717 37.6L717 43.7M732.1 35.4L732.1 41.2M736.5 37.5L736.5 42.2M742.2 40.6L742.2 47.6M743.3 41.2L743.3 48.6" stroke="#000" stroke-width="1.20" fill="none"/>
<path d="M593.5 40.8L593.5 93.6M597 41.1L597 62M600 40.1L600 60M675.8 14.6L675.8 87.5" stroke="#000" stroke-width="2.70" fill="none"/>
<path d="M601 14.6L605 23M605 23L606 28M606 28L608.5 40" stroke="#000" stroke-width="3.30" fill="none"/>
<path d="M608.5 40L610.5 55M610.5 55L612 70M612 70L614 82M614 82L617 92M617 92L621 98" stroke="#000" stroke-width="3.90" fill="none"/>
<path d="M623 28.7L623 38M627 31.3L627 44M654 35.8L654 57M662 35.2L662 50M668 40L668 52M683 27.3L683 40M690 29.3L690 42" stroke="#000" stroke-width="2.25" fill="none"/>
<rect x="489.5" y="100.9" width="2.7" height="11.3" fill="#90ee90"/>
<rect x="491.9" y="100.9" width="9" height="11.3" fill="#ff00ff"/>
<rect x="500.6" y="100.9" width="5.1" height="11.3" fill="#a0a0a0"/>
<rect x="505.4" y="100.9" width="5.3" height="11.3" fill="#bebebe"/>
<rect x="510.4" y="100.9" width="1.2" height="11.3" fill="#fa8072"/>
<rect x="511.3" y="100.9" width="1.8" height="11.3" fill="#ff0000"/>
<rect x="512.8" y="100.9" width="3" height="11.3" fill="#b03030"/>
<rect x="515.5" y="100.9" width="9.9" height="11.3" fill="#ff0000"/>
<rect x="525.2" y="100.9" width="1.2" height="11.3" fill="#ffc125"/>
<rect x="526.1" y="100.9" width="4.6" height="11.3" fill="#c71585"/>
<rect x="530.4" y="100.9" width="2.4" height="11.3" fill="#8b1a5a"/>
<rect x="532.5" y="100.9" width="2.6" height="11.3" fill="#a0a0a0"/>
<rect x="534.8" y="100.9" width="6.7" height="11.3" fill="#ff0000"/>
<rect x="541.2" y="100.9" width="17.5" height="11.3" fill="#a52a2a"/>
<rect x="558.4" y="100.9" width="2.1" height="11.3" fill="#ffc125"/>
<rect x="560.2" y="100.9" width="3.1" height="11.3" fill="#2020d0"/>
<rect x="563" y="100.9" width="2.1" height="11.3" fill="#191970"/>
<rect x="564.8" y="100.9" width="1.7" height="11.3" fill="#e0ffff"/>
<rect x="566.2" y="100.9" width="26.7" height="11.3" fill="#0000ff"/>
<rect x="592.6" y="100.9" width="2" height="11.3" fill="#ffc0cb"/>
<rect x="594.3" y="100.9" width="5.6" height="11.3" fill="#fa8072"/>
<rect x="599.6" y="100.9" width="22.8" height="11.3" fill="#ffff00"/>
<rect x="622.1" y="100.9" width="6.5" height="11.3" fill="#40e0d0"/>
<rect x="628.4" y="100.9" width="15.1" height="11.3" fill="#000000"/>
<rect x="643.1" y="100.9" width="1.8" height="11.3" fill="#40e0d0"/>
<rect x="644.7" y="100.9" width="5.2" height="11.3" fill="#191970"/>
<rect x="649.6" y="100.9" width="4.9" height="11.3" fill="#e0ffff"/>
<rect x="654.2" y="100.9" width="20.6" height="11.3" fill="#00ff00"/>
<rect x="674.5" y="100.9" width="5.8" height="11.3" fill="#00ffff"/>
<rect x="680" y="100.9" width="3.1" height="11.3" fill="#1c1ca0"/>
<rect x="682.9" y="100.9" width="1.6" height="11.3" fill="#a0a0a0"/>
<rect x="684.1" y="100.9" width="8.2" height="11.3" fill="#d2b48c"/>
<rect x="692.1" y="100.9" width="1.6" height="11.3" fill="#999999"/>
<rect x="693.4" y="100.9" width="1.4" height="11.3" fill="#2040e0"/>
<rect x="694.5" y="100.9" width="4.9" height="11.3" fill="#40e0d0"/>
<rect x="699.1" y="100.9" width="7.2" height="11.3" fill="#a020f0"/>
<rect x="706" y="100.9" width="2.7" height="11.3" fill="#add8e6"/>
<rect x="708.4" y="100.9" width="4.3" height="11.3" fill="#40e0d0"/>
<rect x="712.4" y="100.9" width="9" height="11.3" fill="#ffc0cb"/>
<rect x="721.1" y="100.9" width="24.5" height="11.3" fill="#40e0d0"/>
<rect x="745.3" y="100.9" width="9" height="11.3" fill="#adff2f"/>
<path d="M409 126.4L409 143L424.1 143L424.7 142.3L427 142.3L426.2 141.2L430.6 141.2L428.7 140L429.7 140L431.1 138.7L433.8 138.7L435.3 136.9L435.9 136.9L436.4 135L438.3 135L435.2 133L436.6 133L435.6 131.2L438 131.2L434.1 129.7L435.3 129.7L432.3 127.5L436.7 127.5L430.7 126.4ZM419.2 143L432.2 145L447.4 147L443.6 150.1L424.5 149.6L410.8 148ZM409 150.1L409 193.2L425 193.2L422.9 192.8L425 192.8L423 191.4L423.5 191.4L422.8 189.6L425.6 189.6L421.8 187.6L422.9 187.6L423.8 185.4L424 185.4L423.9 184.1L426.5 184.1L426 183.2L428.1 183.2L424.2 181L425.1 181L423 180.1L426 180.1L423.2 178.2L424.8 178.2L422.8 176L424 176L423.6 175L424.9 175L422.9 173.7L425.7 173.7L423.6 172.7L423.7 172.7L422.7 171.1L423.9 171.1L422.7 169.9L424.5 169.9L422.2 168.7L425.1 168.7L422.7 167.7L425.5 167.7L422.9 166.7L425.9 166.7L425.1 164.7L425.8 164.7L423.2 162.9L425.5 162.9L423.6 161.7L426.1 161.7L422.5 160.6L424.3 160.6L422.5 159.5L423.2 159.5L422 157.4L423.8 157.4L420.9 156L422.9 156L419.5 155L421.4 155L420.3 153.4L420.4 153.4L419.1 151.5L418.7 151.5L417.5 150.1ZM409 193.2L409 217.4L427.1 217.4L424.9 216.4L427.2 216.4L427.3 214.7L427.9 214.7L425.6 213.6L426.6 213.6L425.6 211.9L428.9 211.9L425.6 210.2L427.8 210.2L426.7 209.4L426.9 209.4L425.1 208.5L426.8 208.5L424.7 206.4L427.8 206.4L425 204.7L426.6 204.7L423.8 202.9L426.4 202.9L424.4 201.9L424.6 201.9L425.3 200.6L424.8 200.6L423.1 199L426 199L424 197.5L424 197.5L422.5 196.6L423.4 196.6L421.8 194.7L423.1 194.7L422.6 193.2ZM409 217.4L409 230.4L430 230.4L430.1 229L430.3 229L429.3 226.9L430.6 226.9L431.8 224.9L432.5 224.9L431.5 223.2L433 223.2L431.7 222.1L433.5 222.1L431.3 220.2L431.1 220.2L430.4 218.3L431.4 218.3L429.3 217.4ZM409 225.4L420.7 227.4L432.2 230.4L429.9 236.4L420.7 234.4L409 230.4ZM410.4 249.5L410.4 257.5L426.9 257.5L424.2 256.1L425.9 256.1L423.7 254.9L426.1 254.9L423.5 252.8L422.8 252.8L422.8 252L422.7 252L421.7 250.4L423.9 250.4L420.6 249.5ZM413.6 257L424.5 259.5L437.5 263.6L448.2 267.6L457.2 269.6L457.2 272.1L448.2 270.1L437.5 267.1L424.5 264.6L413.6 260.5ZM417.7 257.5L428.4 258.5L437.5 261.6L437.5 265.2L428.4 264.6L417.7 262.6ZM412.4 270.2L428.4 272.6L443.6 275.1L457.2 276.8L457.2 278.5L443.6 277.1L428.4 275.1L412.4 273.1ZM412.1 277.6L412.4 282.6L416.9 292.7L422.3 299.7L428.4 303.7L434.9 303.7L433.2 302.6L434.5 302.6L434.5 301L435.2 301L434.4 300.2L434.4 300.2L433.1 299L435.4 299L431.1 297.7L433.1 297.7L430.9 296.6L432.5 296.6L430 295.2L431.8 295.2L429.1 293.2L431.2 293.2L426.8 291.7L428 291.7L427.2 290.7L428.2 290.7L426.8 288.8L426.9 288.8L426.3 287.6L427 287.6L424.9 286.2L428.2 286.2L427.1 285.3L428.7 285.3L426.3 284.1L429.2 284.1L426 282.9L428.6 282.9L426.3 280.7L426.8 280.7L425.7 279.8L427 279.8L425.9 279L425.8 279L423.3 277.6ZM409 308.8L409 322.8L422.2 322.8L419.6 322L422.9 322L420.2 320.1L421.7 320.1L423.1 318L423.6 318L421.9 316.1L421.9 316.1L421.1 313.9L422.3 313.9L420.6 312.5L422.1 312.5L421.2 311.2L423.4 311.2L419.4 310L422 310L421.3 308.8ZM410.8 322.8L411.6 337.9L413.1 347.9L415.4 358L417.7 366L420.7 371L426.8 376.1L434.5 379.1L449.7 381.6L449.8 381.6L444.3 380.5L447.9 380.5L439.8 379L442.6 379L438.1 377.3L439.4 377.3L436.8 375.4L439.2 375.4L434.3 374.6L436.3 374.6L432.5 372.6L434.2 372.6L430.5 371.6L431.6 371.6L428.5 369.5L431.5 369.5L429 367.7L430.3 367.7L427 365.8L430.7 365.8L427.4 364.4L429.2 364.4L427.1 362.5L428 362.5L427.1 360.6L427.7 360.6L425.2 358.8L428.4 358.8L425.5 357.3L426.9 357.3L424.9 355.3L425.7 355.3L425.6 353.3L427.6 353.3L427.5 351.6L430.5 351.6L429 349.9L431.4 349.9L427.8 348.6L430.2 348.6L428.2 347.3L428.5 347.3L429.2 346.3L430.7 346.3L427.7 344.4L428.1 344.4L425 342.3L428.5 342.3L423.5 341.2L425.2 341.2L421.7 340.2L423 340.2L419.6 338.4L421.5 338.4L421.3 336.9L421.4 336.9L423.3 335.6L423.9 335.6L424 334.7L426.5 334.7L425.6 333.3L427.2 333.3L426.1 331.3L427.5 331.3L425.6 330.4L426.2 330.4L424.2 329.3L426 329.3L423.5 327.4L424.5 327.4L422.1 326.2L425 326.2L419.8 324L421.7 324L419.3 322.8Z" fill="#000" stroke="#000" stroke-width="0.75"/>
<path d="M410.8 143L410.8 149L420.7 148.6ZM411.2 156.1L411.2 166.1L413.9 165.7ZM411.6 170.1L411.6 174.2L413.9 173.8ZM411.6 178.2L411.6 184.2L415.4 183.8ZM413.1 200.3L413.1 205.3L416.9 204.9ZM413.1 209.3L413.1 215.3L419.2 214.9ZM413.1 330.9L413.1 334.9L420.7 334.5ZM414.6 345.9L414.6 349.9L420.7 349.5ZM411.6 310.8L411.6 315.8L416.2 315.4ZM413.9 289.7L413.9 295.7L418.4 295.3Z" fill="#fff"/>
<path d="M409 115.9L409 375.2M413.1 305.8L443.6 306.3" stroke="#000" stroke-width="2.10" fill="none"/>
<path d="M409 375.2L420.6 375.2M409 115.9L450.5 116.2M413.1 117.4L413.1 123.9M432.2 127.4L435.7 127.4M433.9 136.8L448.5 136.8M427.8 140.4L431.4 140.4M423.7 142.3L434.3 142.3M416.9 150.6L424 150.6M418 153.2L422.5 153.2M420.2 156.7L425.4 156.7M421.7 159.7L424.2 159.7M422.2 161.4L426.1 161.4M423.1 165.8L429.5 165.8M421.6 168.6L424.6 168.6M421.4 169.9L428.6 169.9M421.9 178.4L431.3 178.4M422.9 180L427 180M423.4 181L431.8 181M424.5 183.4L431.7 183.4M423.4 184.7L432.8 184.7M422.4 185.9L432.9 185.9M421.6 189.2L424.9 189.2M422.2 192.4L424.5 192.4M422.5 197.7L427.7 197.7M423.6 203.1L433.7 203.1M423.9 204.6L428.1 204.6M424.1 205.8L432.7 205.8M424.3 207.5L426.8 207.5M425 213.7L436.7 213.7M425.2 214.9L429.4 214.9M428.5 218.3L431.6 218.3M429.4 226.9L441.4 226.9M428 229.1L431 229.1M421.1 251.6L427.9 251.6M422.1 253.7L426.5 253.7M424.8 280.2L428.9 280.2M425.8 282.1L433.7 282.1M424.7 288.1L428 288.1M425.6 290.1L432.1 290.1M430.2 297.1L433.4 297.1M431 298.2L437.4 298.2M419.2 309L426.5 309M420.1 314L430.4 314M421 317.9L424.1 317.9M420.1 320.2L423.5 320.2M419.7 321.3L424.4 321.3M423 328.5L425.6 328.5M423.9 330L425.8 330M425.2 333.2L428.5 333.2M418.3 337.6L420.7 337.6M426.9 346.4L429.4 346.4M427.9 349.8L435.6 349.8M427.2 350.8L429.8 350.8M423.6 354.7L430.4 354.7M423.9 356.8L426.3 356.8M425.3 361.2L429.1 361.2M425.9 363.1L427.6 363.1M427.9 368.2L434 368.2M432 373.4L437.9 373.4M435.2 375.2L437.6 375.2M443.3 380.3L446.2 380.3" stroke="#000" stroke-width="1.50" fill="none"/>
<path d="M413.1 117.4L463.7 118.2M413.1 123.9L450.1 127.3M435 132L447.7 132M417.4 151.8L420.5 151.8M422.4 173.1L427.8 173.1M421.9 174.6L432.2 174.6M421.3 187.6L424.2 187.6M422.1 196.2L430.5 196.2M422.8 199.5L428.2 199.5M424.5 216.6L430.5 216.6M425.1 285.3L428.9 285.3M427.8 294L429.8 294M432.4 300.4L435.5 300.4M419.3 310L426.8 310M419.5 311.1L422 311.1M420.5 315.8L424.2 315.8M423.4 334.3L434.1 334.3M420.7 336.1L425 336.1M420.8 339.8L426.4 339.8M426.2 344L433.6 344M425.4 352.8L434.2 352.8M424.5 358.9L427.8 358.9M437.6 377.1L440.8 377.1" stroke="#000" stroke-width="1.95" fill="none"/>
<path d="M413.1 118.9L473.1 123.1M434.8 135.3L439.6 135.3M431.5 138.8L436.5 138.8M433 129.3L448.9 129.3M434.7 133.4L457.5 133.4M431.3 138.5L467.6 138.5M426.9 140.5L458.3 140.5M433.6 136L451.2 136M443.6 148L450.5 148.7M419 155L423.4 155M422.5 162.4L434 162.4M423.1 164.2L432.2 164.2M421.9 171.4L424.7 171.4M424 182L431.3 182M422 191.5L429 191.5M417.6 154.1L426.8 154.1M420.3 157.9L438.1 157.9M421.6 162.1L432.2 162.1M422.8 165.1L432.9 165.1M423.6 183.5L436.2 183.5M421.6 173.2L432.2 173.2M421.4 193.9L431.6 193.9M423.1 200.7L432.9 200.7M423.4 201.9L428.2 201.9M424.6 209.8L430.7 209.8M424.7 210.8L434.4 210.8M420.5 192.2L430.6 192.2M421.6 197.3L430.6 197.3M423.3 205.3L432.9 205.3M424.5 215.3L434.5 215.3M429.7 225.4L440.3 225.4M420.7 232.9L466.1 232.9M423.2 278.1L426.6 278.1M426.1 291L431.7 291M413.1 307.8L451.2 308.3M419.8 312.8L423.5 312.8M420.6 318.8L422.9 318.8M422.2 327.3L433.5 327.3M424.7 331.2L427.2 331.2M423.5 341.4L431.9 341.4M425.9 343L430.2 343M427.3 347.7L431.9 347.7M427 366.2L434.2 366.2M440.1 379.3L442.8 379.3M425 332.9L442.1 332.9M427.2 349.9L448.2 349.9M421.9 327.8L432.2 327.8M425.2 342.9L433.7 342.9M426.2 366L434.5 366" stroke="#000" stroke-width="2.40" fill="none"/>
<path d="M419.2 120.4L443.6 121.9M413 252.1L413 271" stroke="#000" stroke-width="1.80" fill="none"/>
<path d="M433.5 128.9L439 128.9M434.5 130.4L444 130.4M435.6 133.9L444.7 133.9M421.3 158.2L423.4 158.2M422.4 167.2L429.6 167.2M421.6 175.9L434.8 175.9M421.3 177L432.9 177M421.8 190.2L427.2 190.2M421.7 195L429 195M424.5 208.6L430.7 208.6M424.9 212.3L432.5 212.3M429.5 220.5L441.1 220.5M430.3 222.2L440.2 222.2M430 224.2L441.9 224.2M420.3 250.1L427.5 250.1M423.2 255.7L426.4 255.7M425.3 284L431.6 284M424.7 286.9L434.2 286.9M425.2 289.1L429 289.1M426.6 292.2L435.1 292.2M429.1 295.7L432.7 295.7M433.2 302.1L435.8 302.1M419.1 323.8L422 323.8M420.3 325.2L424.7 325.2M426.5 345L431.2 345M424.9 360.1L429.2 360.1M426.5 364.5L430 364.5M428.8 370.3L434.1 370.3M429.3 371.3L434.9 371.3" stroke="#000" stroke-width="1.20" fill="none"/>
<path d="M428.9 220.9L469.2 220.9M429.2 224.4L445.1 224.4M428.5 227.4L443.6 227.4M409 303.5L464.5 303.5" stroke="#000" stroke-width="2.70" fill="none"/>
<path d="M409 228.4L415.4 232.4M415.4 232.4L419.2 233.4M419.2 233.4L428.4 235.9" stroke="#000" stroke-width="3.30" fill="none"/>
<path d="M428.4 235.9L439.8 237.9M439.8 237.9L451.2 239.5M451.2 239.5L460.4 241.5M460.4 241.5L468 244.5M468 244.5L472.6 248.5" stroke="#000" stroke-width="3.90" fill="none"/>
<path d="M419.8 250.5L426.8 250.5M421.7 254.5L431.4 254.5M425.1 281.6L441.3 281.6M424.7 289.7L436 289.7M428.4 295.7L437.5 295.7M418.7 310.8L428.4 310.8M420.2 317.8L429.9 317.8" stroke="#000" stroke-width="2.25" fill="none"/>
<rect x="474.6" y="115.9" width="11" height="2.7" fill="#90ee90"/>
<rect x="474.6" y="118.3" width="11" height="9" fill="#ff00ff"/>
<rect x="474.6" y="127" width="11" height="5.1" fill="#a0a0a0"/>
<rect x="474.6" y="131.8" width="11" height="5.4" fill="#bebebe"/>
<rect x="474.6" y="136.9" width="11" height="1.2" fill="#fa8072"/>
<rect x="474.6" y="137.7" width="11" height="1.8" fill="#ff0000"/>
<rect x="474.6" y="139.3" width="11" height="3" fill="#b03030"/>
<rect x="474.6" y="142" width="11" height="10" fill="#ff0000"/>
<rect x="474.6" y="151.7" width="11" height="1.2" fill="#ffc125"/>
<rect x="474.6" y="152.7" width="11" height="4.6" fill="#c71585"/>
<rect x="474.6" y="156.9" width="11" height="2.4" fill="#8b1a5a"/>
<rect x="474.6" y="159.1" width="11" height="2.6" fill="#a0a0a0"/>
<rect x="474.6" y="161.4" width="11" height="6.7" fill="#ff0000"/>
<rect x="474.6" y="167.8" width="11" height="17.6" fill="#a52a2a"/>
<rect x="474.6" y="185.1" width="11" height="2.1" fill="#ffc125"/>
<rect x="474.6" y="186.9" width="11" height="3.1" fill="#2020d0"/>
<rect x="474.6" y="189.8" width="11" height="2.1" fill="#191970"/>
<rect x="474.6" y="191.6" width="11" height="1.7" fill="#e0ffff"/>
<rect x="474.6" y="192.9" width="11" height="26.9" fill="#0000ff"/>
<rect x="474.6" y="219.5" width="11" height="2" fill="#ffc0cb"/>
<rect x="474.6" y="221.2" width="11" height="5.6" fill="#fa8072"/>
<rect x="474.6" y="226.5" width="11" height="22.9" fill="#ffff00"/>
<rect x="474.6" y="249.1" width="11" height="6.6" fill="#40e0d0"/>
<rect x="474.6" y="255.4" width="11" height="15.1" fill="#000000"/>
<rect x="474.6" y="270.2" width="11" height="1.8" fill="#40e0d0"/>
<rect x="474.6" y="271.8" width="11" height="5.3" fill="#191970"/>
<rect x="474.6" y="276.7" width="11" height="4.9" fill="#e0ffff"/>
<rect x="474.6" y="281.4" width="11" height="20.7" fill="#00ff00"/>
<rect x="474.6" y="301.7" width="11" height="5.9" fill="#00ffff"/>
<rect x="474.6" y="307.3" width="11" height="3.1" fill="#1c1ca0"/>
<rect x="474.6" y="310.1" width="11" height="1.6" fill="#a0a0a0"/>
<rect x="474.6" y="311.4" width="11" height="8.3" fill="#d2b48c"/>
<rect x="474.6" y="319.4" width="11" height="1.6" fill="#999999"/>
<rect x="474.6" y="320.7" width="11" height="1.4" fill="#2040e0"/>
<rect x="474.6" y="321.8" width="11" height="4.9" fill="#40e0d0"/>
<rect x="474.6" y="326.4" width="11" height="7.2" fill="#a020f0"/>
<rect x="474.6" y="333.4" width="11" height="2.7" fill="#add8e6"/>
<rect x="474.6" y="335.8" width="11" height="4.3" fill="#40e0d0"/>
<rect x="474.6" y="339.8" width="11" height="9" fill="#ffc0cb"/>
<rect x="474.6" y="348.5" width="11" height="24.6" fill="#40e0d0"/>
<rect x="474.6" y="372.9" width="11" height="9" fill="#adff2f"/>
<rect x="487.8" y="114.7" width="266.2" height="266.6" fill="#ffffcc"/>
<path d="M526.8 141.4h2v2h-2zM530.4 141.4h2v2h-2zM537.5 141.4h2v2h-2zM546.4 141.4h2v2h-2zM560.6 141.4h2v2h-2zM573 141.4h3.7v2h-3.7zM585.4 141.4h5.5v2h-5.5zM597.8 141.4h2v2h-2zM601.4 141.4h2v2h-2zM606.7 141.4h2v2h-2zM610.3 141.4h2v2h-2zM619.1 141.4h3.7v2h-3.7zM665.3 141.4h2v2h-2zM668.8 141.4h3.7v2h-3.7zM693.7 141.4h2v2h-2zM700.8 141.4h2v2h-2zM715 141.4h5.5v2h-5.5zM729.2 141.4h2v2h-2zM738 141.4h2v2h-2zM530.4 143.1h3.7v2h-3.7zM541 143.1h2v2h-2zM546.4 143.1h2v2h-2zM549.9 143.1h2v2h-2zM574.8 143.1h2v2h-2zM610.3 143.1h2v2h-2zM613.8 143.1h2v2h-2zM619.1 143.1h2v2h-2zM661.7 143.1h2v2h-2zM668.8 143.1h2v2h-2zM675.9 143.1h2v2h-2zM683 143.1h7.3v2h-7.3zM695.4 143.1h2v2h-2zM699 143.1h2v2h-2zM702.5 143.1h3.7v2h-3.7zM525.1 144.9h2v2h-2zM528.6 144.9h2v2h-2zM532.2 144.9h2v2h-2zM541 144.9h2v2h-2zM546.4 144.9h3.7v2h-3.7zM553.5 144.9h2v2h-2zM569.4 144.9h2v2h-2zM573 144.9h3.7v2h-3.7zM578.3 144.9h2v2h-2zM583.6 144.9h3.7v2h-3.7zM589 144.9h2v2h-2zM656.4 144.9h2v2h-2zM691.9 144.9h2v2h-2zM702.5 144.9h2v2h-2zM707.9 144.9h2v2h-2zM713.2 144.9h2v2h-2zM736.3 144.9h2v2h-2zM743.4 144.9h2v2h-2zM594.3 146.7h2v2h-2zM615.6 146.7h5.5v2h-5.5zM652.8 146.7h3.7v2h-3.7zM659.9 146.7h2v2h-2zM667 146.7h2v2h-2zM670.6 146.7h2v2h-2zM675.9 146.7h2v2h-2zM681.2 146.7h2v2h-2zM688.3 146.7h2v2h-2zM693.7 146.7h2v2h-2zM699 146.7h2v2h-2zM707.9 146.7h2v2h-2zM713.2 146.7h2v2h-2zM716.7 146.7h2v2h-2zM725.6 146.7h3.7v2h-3.7zM736.3 146.7h2v2h-2zM741.6 146.7h2v2h-2zM537.5 148.5h2v2h-2zM551.7 148.5h2v2h-2zM573 148.5h2v2h-2zM583.6 148.5h3.7v2h-3.7zM601.4 148.5h5.5v2h-5.5zM610.3 148.5h3.7v2h-3.7zM615.6 148.5h5.5v2h-5.5zM652.8 148.5h3.7v2h-3.7zM665.3 148.5h3.7v2h-3.7zM672.4 148.5h5.5v2h-5.5zM679.5 148.5h3.7v2h-3.7zM688.3 148.5h2v2h-2zM693.7 148.5h3.7v2h-3.7zM706.1 148.5h5.5v2h-5.5zM715 148.5h2v2h-2zM720.3 148.5h3.7v2h-3.7zM729.2 148.5h2v2h-2zM734.5 148.5h2v2h-2zM741.6 148.5h3.7v2h-3.7zM594.3 150.2h2v2h-2zM608.5 150.2h2v2h-2zM617.4 150.2h3.7v2h-3.7zM652.8 150.2h3.7v2h-3.7zM667 150.2h2v2h-2zM674.1 150.2h3.7v2h-3.7zM681.2 150.2h2v2h-2zM686.6 150.2h3.7v2h-3.7zM693.7 150.2h2v2h-2zM715 150.2h3.7v2h-3.7zM727.4 150.2h3.7v2h-3.7zM736.3 150.2h2v2h-2zM518 152h2v2h-2zM530.4 152h3.7v2h-3.7zM541 152h2v2h-2zM548.1 152h3.7v2h-3.7zM553.5 152h2v2h-2zM557 152h2v2h-2zM560.6 152h2v2h-2zM574.8 152h2v2h-2zM578.3 152h2v2h-2zM583.6 152h7.3v2h-7.3zM594.3 152h2v2h-2zM601.4 152h2v2h-2zM604.9 152h2v2h-2zM612 152h5.5v2h-5.5zM619.1 152h2v2h-2zM652.8 152h3.7v2h-3.7zM663.5 152h2v2h-2zM667 152h2v2h-2zM681.2 152h3.7v2h-3.7zM686.6 152h3.7v2h-3.7zM693.7 152h5.5v2h-5.5zM700.8 152h9.1v2h-9.1zM711.4 152h2v2h-2zM715 152h2v2h-2zM718.5 152h2v2h-2zM722.1 152h2v2h-2zM727.4 152h3.7v2h-3.7zM732.7 152h2v2h-2zM743.4 152h2v2h-2zM514.4 153.8h2v2h-2zM530.4 153.8h2v2h-2zM553.5 153.8h2v2h-2zM573 153.8h2v2h-2zM578.3 153.8h2v2h-2zM585.4 153.8h2v2h-2zM596.1 153.8h2v2h-2zM604.9 153.8h2v2h-2zM652.8 153.8h2v2h-2zM679.5 153.8h2v2h-2zM690.1 153.8h2v2h-2zM697.2 153.8h2v2h-2zM725.6 153.8h2v2h-2zM518 155.6h2v2h-2zM535.7 155.6h2v2h-2zM544.6 155.6h7.3v2h-7.3zM560.6 155.6h2v2h-2zM574.8 155.6h2v2h-2zM578.3 155.6h2v2h-2zM583.6 155.6h2v2h-2zM587.2 155.6h3.7v2h-3.7zM597.8 155.6h2v2h-2zM601.4 155.6h2v2h-2zM608.5 155.6h2v2h-2zM617.4 155.6h2v2h-2zM620.9 155.6h2v2h-2zM668.8 155.6h2v2h-2zM675.9 155.6h2v2h-2zM688.3 155.6h2v2h-2zM691.9 155.6h3.7v2h-3.7zM700.8 155.6h2v2h-2zM704.3 155.6h7.3v2h-7.3zM718.5 155.6h2v2h-2zM723.8 155.6h2v2h-2zM727.4 155.6h2v2h-2zM730.9 155.6h3.7v2h-3.7zM738 155.6h2v2h-2zM741.6 155.6h2v2h-2zM514.4 157.4h3.7v2h-3.7zM525.1 157.4h3.7v2h-3.7zM530.4 157.4h2v2h-2zM537.5 157.4h2v2h-2zM544.6 157.4h2v2h-2zM553.5 157.4h2v2h-2zM557 157.4h2v2h-2zM573 157.4h2v2h-2zM578.3 157.4h2v2h-2zM585.4 157.4h3.7v2h-3.7zM597.8 157.4h2v2h-2zM601.4 157.4h3.7v2h-3.7zM606.7 157.4h2v2h-2zM610.3 157.4h3.7v2h-3.7zM617.4 157.4h2v2h-2zM652.8 157.4h2v2h-2zM658.2 157.4h2v2h-2zM663.5 157.4h7.3v2h-7.3zM672.4 157.4h2v2h-2zM675.9 157.4h2v2h-2zM683 157.4h2v2h-2zM686.6 157.4h3.7v2h-3.7zM693.7 157.4h3.7v2h-3.7zM700.8 157.4h3.7v2h-3.7zM706.1 157.4h2v2h-2zM709.6 157.4h3.7v2h-3.7zM715 157.4h5.5v2h-5.5zM722.1 157.4h2v2h-2zM727.4 157.4h5.5v2h-5.5zM734.5 157.4h9.1v2h-9.1zM516.2 159.1h3.7v2h-3.7zM525.1 159.1h2v2h-2zM557 159.1h2v2h-2zM560.6 159.1h2v2h-2zM574.8 159.1h2v2h-2zM585.4 159.1h3.7v2h-3.7zM606.7 159.1h2v2h-2zM620.9 159.1h2v2h-2zM654.6 159.1h3.7v2h-3.7zM686.6 159.1h3.7v2h-3.7zM730.9 159.1h2v2h-2zM734.5 159.1h2v2h-2zM594.3 160.9h2v2h-2zM601.4 160.9h2v2h-2zM608.5 160.9h2v2h-2zM619.1 160.9h2v2h-2zM654.6 160.9h2v2h-2zM661.7 160.9h2v2h-2zM667 160.9h2v2h-2zM674.1 160.9h3.7v2h-3.7zM681.2 160.9h2v2h-2zM688.3 160.9h3.7v2h-3.7zM693.7 160.9h2v2h-2zM699 160.9h2v2h-2zM706.1 160.9h3.7v2h-3.7zM713.2 160.9h2v2h-2zM727.4 160.9h2v2h-2zM736.3 160.9h2v2h-2zM528.6 162.7h2v2h-2zM548.1 162.7h2v2h-2zM569.4 162.7h2v2h-2zM573 162.7h2v2h-2zM583.6 162.7h3.7v2h-3.7zM599.6 162.7h3.7v2h-3.7zM606.7 162.7h2v2h-2zM617.4 162.7h5.5v2h-5.5zM652.8 162.7h2v2h-2zM663.5 162.7h3.7v2h-3.7zM674.1 162.7h2v2h-2zM677.7 162.7h2v2h-2zM681.2 162.7h5.5v2h-5.5zM688.3 162.7h2v2h-2zM691.9 162.7h5.5v2h-5.5zM700.8 162.7h2v2h-2zM704.3 162.7h2v2h-2zM715 162.7h2v2h-2zM718.5 162.7h3.7v2h-3.7zM723.8 162.7h2v2h-2zM727.4 162.7h2v2h-2zM730.9 162.7h2v2h-2zM734.5 162.7h2v2h-2zM738 162.7h2v2h-2zM514.4 164.5h2v2h-2zM521.5 164.5h2v2h-2zM530.4 164.5h2v2h-2zM544.6 164.5h3.7v2h-3.7zM549.9 164.5h3.7v2h-3.7zM557 164.5h2v2h-2zM560.6 164.5h2v2h-2zM573 164.5h2v2h-2zM589 164.5h2v2h-2zM599.6 164.5h2v2h-2zM606.7 164.5h2v2h-2zM610.3 164.5h2v2h-2zM615.6 164.5h2v2h-2zM619.1 164.5h2v2h-2zM654.6 164.5h2v2h-2zM670.6 164.5h2v2h-2zM675.9 164.5h2v2h-2zM681.2 164.5h3.7v2h-3.7zM693.7 164.5h3.7v2h-3.7zM713.2 164.5h2v2h-2zM732.7 164.5h2v2h-2zM741.6 164.5h2v2h-2zM594.3 166.2h2v2h-2zM601.4 166.2h5.5v2h-5.5zM608.5 166.2h2v2h-2zM619.1 166.2h2v2h-2zM652.8 166.2h2v2h-2zM661.7 166.2h2v2h-2zM667 166.2h2v2h-2zM675.9 166.2h2v2h-2zM686.6 166.2h5.5v2h-5.5zM693.7 166.2h3.7v2h-3.7zM699 166.2h2v2h-2zM706.1 166.2h5.5v2h-5.5zM715 166.2h2v2h-2zM729.2 166.2h2v2h-2zM732.7 166.2h2v2h-2zM736.3 166.2h2v2h-2zM516.2 168h3.7v2h-3.7zM525.1 168h2v2h-2zM544.6 168h3.7v2h-3.7zM549.9 168h2v2h-2zM557 168h2v2h-2zM573 168h3.7v2h-3.7zM652.8 168h2v2h-2zM675.9 168h2v2h-2zM681.2 168h2v2h-2zM693.7 168h2v2h-2zM699 168h3.7v2h-3.7zM718.5 168h3.7v2h-3.7zM723.8 168h2v2h-2zM601.4 169.8h2v2h-2zM608.5 169.8h2v2h-2zM617.4 169.8h3.7v2h-3.7zM652.8 169.8h5.5v2h-5.5zM667 169.8h2v2h-2zM672.4 169.8h10.8v2h-10.8zM688.3 169.8h2v2h-2zM699 169.8h2v2h-2zM707.9 169.8h2v2h-2zM716.7 169.8h2v2h-2zM725.6 169.8h3.7v2h-3.7zM732.7 169.8h2v2h-2zM736.3 169.8h2v2h-2zM528.6 171.6h3.7v2h-3.7zM537.5 171.6h2v2h-2zM541 171.6h2v2h-2zM578.3 171.6h2v2h-2zM585.4 171.6h3.7v2h-3.7zM596.1 171.6h12.6v2h-12.6zM610.3 171.6h2v2h-2zM613.8 171.6h2v2h-2zM652.8 171.6h3.7v2h-3.7zM663.5 171.6h2v2h-2zM667 171.6h3.7v2h-3.7zM683 171.6h2v2h-2zM686.6 171.6h3.7v2h-3.7zM691.9 171.6h2v2h-2zM700.8 171.6h9.1v2h-9.1zM711.4 171.6h3.7v2h-3.7zM718.5 171.6h2v2h-2zM725.6 171.6h2v2h-2zM730.9 171.6h3.7v2h-3.7zM736.3 171.6h3.7v2h-3.7zM514.4 173.4h5.5v2h-5.5zM528.6 173.4h2v2h-2zM537.5 173.4h2v2h-2zM541 173.4h2v2h-2zM553.5 173.4h2v2h-2zM557 173.4h2v2h-2zM560.6 173.4h2v2h-2zM569.4 173.4h2v2h-2zM573 173.4h2v2h-2zM578.3 173.4h2v2h-2zM583.6 173.4h5.5v2h-5.5zM596.1 173.4h3.7v2h-3.7zM601.4 173.4h5.5v2h-5.5zM612 173.4h2v2h-2zM615.6 173.4h2v2h-2zM652.8 173.4h3.7v2h-3.7zM658.2 173.4h2v2h-2zM665.3 173.4h2v2h-2zM668.8 173.4h2v2h-2zM675.9 173.4h2v2h-2zM683 173.4h2v2h-2zM691.9 173.4h5.5v2h-5.5zM700.8 173.4h2v2h-2zM704.3 173.4h5.5v2h-5.5zM711.4 173.4h2v2h-2zM718.5 173.4h2v2h-2zM722.1 173.4h2v2h-2zM730.9 173.4h2v2h-2zM736.3 173.4h3.7v2h-3.7zM518 175.1h2v2h-2zM525.1 175.1h2v2h-2zM528.6 175.1h2v2h-2zM535.7 175.1h2v2h-2zM551.7 175.1h2v2h-2zM557 175.1h2v2h-2zM574.8 175.1h2v2h-2zM583.6 175.1h3.7v2h-3.7zM597.8 175.1h7.3v2h-7.3zM613.8 175.1h2v2h-2zM619.1 175.1h3.7v2h-3.7zM663.5 175.1h2v2h-2zM667 175.1h3.7v2h-3.7zM675.9 175.1h2v2h-2zM684.8 175.1h2v2h-2zM688.3 175.1h2v2h-2zM702.5 175.1h3.7v2h-3.7zM718.5 175.1h2v2h-2zM723.8 175.1h2v2h-2zM727.4 175.1h5.5v2h-5.5zM736.3 175.1h3.7v2h-3.7zM516.2 176.9h2v2h-2zM525.1 176.9h2v2h-2zM528.6 176.9h2v2h-2zM537.5 176.9h2v2h-2zM541 176.9h2v2h-2zM551.7 176.9h2v2h-2zM557 176.9h2v2h-2zM560.6 176.9h2v2h-2zM569.4 176.9h7.3v2h-7.3zM578.3 176.9h2v2h-2zM583.6 176.9h2v2h-2zM589 176.9h2v2h-2zM596.1 176.9h7.3v2h-7.3zM604.9 176.9h10.8v2h-10.8zM620.9 176.9h2v2h-2zM652.8 176.9h3.7v2h-3.7zM658.2 176.9h2v2h-2zM663.5 176.9h7.3v2h-7.3zM684.8 176.9h5.5v2h-5.5zM695.4 176.9h3.7v2h-3.7zM700.8 176.9h10.8v2h-10.8zM715 176.9h2v2h-2zM718.5 176.9h2v2h-2zM722.1 176.9h3.7v2h-3.7zM730.9 176.9h10.8v2h-10.8zM521.5 178.7h2v2h-2zM537.5 178.7h2v2h-2zM548.1 178.7h3.7v2h-3.7zM557 178.7h2v2h-2zM573 178.7h3.7v2h-3.7zM587.2 178.7h2v2h-2zM597.8 178.7h2v2h-2zM601.4 178.7h2v2h-2zM606.7 178.7h2v2h-2zM620.9 178.7h2v2h-2zM652.8 178.7h2v2h-2zM665.3 178.7h2v2h-2zM674.1 178.7h2v2h-2zM691.9 178.7h5.5v2h-5.5zM704.3 178.7h3.7v2h-3.7zM720.3 178.7h2v2h-2zM723.8 178.7h2v2h-2zM739.8 178.7h2v2h-2zM518 180.5h2v2h-2zM525.1 180.5h3.7v2h-3.7zM530.4 180.5h2v2h-2zM546.4 180.5h2v2h-2zM560.6 180.5h2v2h-2zM569.4 180.5h3.7v2h-3.7zM585.4 180.5h2v2h-2zM606.7 180.5h2v2h-2zM658.2 180.5h2v2h-2zM681.2 180.5h2v2h-2zM691.9 180.5h2v2h-2zM699 180.5h3.7v2h-3.7zM722.1 180.5h2v2h-2zM739.8 180.5h2v2h-2zM601.4 182.2h2v2h-2zM608.5 182.2h2v2h-2zM619.1 182.2h2v2h-2zM652.8 182.2h5.5v2h-5.5zM667 182.2h2v2h-2zM672.4 182.2h2v2h-2zM688.3 182.2h2v2h-2zM693.7 182.2h2v2h-2zM707.9 182.2h3.7v2h-3.7zM713.2 182.2h5.5v2h-5.5zM732.7 182.2h3.7v2h-3.7zM741.6 182.2h2v2h-2zM525.1 184h2v2h-2zM530.4 184h3.7v2h-3.7zM537.5 184h2v2h-2zM541 184h2v2h-2zM546.4 184h7.3v2h-7.3zM560.6 184h2v2h-2zM569.4 184h2v2h-2zM583.6 184h3.7v2h-3.7zM589 184h2v2h-2zM599.6 184h3.7v2h-3.7zM606.7 184h2v2h-2zM612 184h2v2h-2zM656.4 184h2v2h-2zM663.5 184h2v2h-2zM684.8 184h2v2h-2zM690.1 184h2v2h-2zM693.7 184h3.7v2h-3.7zM704.3 184h2v2h-2zM709.6 184h2v2h-2zM713.2 184h2v2h-2zM729.2 184h2v2h-2zM739.8 184h2v2h-2zM608.5 185.8h2v2h-2zM619.1 185.8h2v2h-2zM652.8 185.8h5.5v2h-5.5zM667 185.8h2v2h-2zM681.2 185.8h2v2h-2zM686.6 185.8h5.5v2h-5.5zM693.7 185.8h3.7v2h-3.7zM713.2 185.8h2v2h-2zM722.1 185.8h2v2h-2zM727.4 185.8h3.7v2h-3.7zM732.7 185.8h2v2h-2zM736.3 185.8h2v2h-2zM514.4 187.6h2v2h-2zM525.1 187.6h2v2h-2zM528.6 187.6h2v2h-2zM532.2 187.6h2v2h-2zM537.5 187.6h2v2h-2zM546.4 187.6h2v2h-2zM549.9 187.6h2v2h-2zM553.5 187.6h2v2h-2zM557 187.6h2v2h-2zM560.6 187.6h2v2h-2zM569.4 187.6h2v2h-2zM583.6 187.6h5.5v2h-5.5zM597.8 187.6h2v2h-2zM601.4 187.6h2v2h-2zM606.7 187.6h2v2h-2zM613.8 187.6h3.7v2h-3.7zM684.8 187.6h2v2h-2zM691.9 187.6h2v2h-2zM700.8 187.6h2v2h-2zM704.3 187.6h2v2h-2zM720.3 187.6h2v2h-2zM723.8 187.6h2v2h-2zM727.4 187.6h2v2h-2zM730.9 187.6h2v2h-2zM738 187.6h2v2h-2zM741.6 187.6h2v2h-2zM603.2 189.3h2v2h-2zM615.6 189.3h5.5v2h-5.5zM652.8 189.3h3.7v2h-3.7zM674.1 189.3h3.7v2h-3.7zM681.2 189.3h2v2h-2zM690.1 189.3h2v2h-2zM706.1 189.3h5.5v2h-5.5zM713.2 189.3h3.7v2h-3.7zM732.7 189.3h2v2h-2zM736.3 189.3h2v2h-2zM741.6 189.3h2v2h-2zM608.5 191.1h2v2h-2zM615.6 191.1h2v2h-2zM619.1 191.1h2v2h-2zM652.8 191.1h3.7v2h-3.7zM675.9 191.1h2v2h-2zM688.3 191.1h3.7v2h-3.7zM693.7 191.1h2v2h-2zM706.1 191.1h2v2h-2zM709.6 191.1h2v2h-2zM715 191.1h3.7v2h-3.7zM732.7 191.1h5.5v2h-5.5zM741.6 191.1h2v2h-2zM601.4 192.9h2v2h-2zM612 192.9h2v2h-2zM615.6 192.9h2v2h-2zM619.1 192.9h2v2h-2zM652.8 192.9h3.7v2h-3.7zM663.5 192.9h5.5v2h-5.5zM670.6 192.9h2v2h-2zM674.1 192.9h3.7v2h-3.7zM686.6 192.9h2v2h-2zM693.7 192.9h2v2h-2zM699 192.9h2v2h-2zM706.1 192.9h2v2h-2zM709.6 192.9h2v2h-2zM715 192.9h2v2h-2zM722.1 192.9h2v2h-2zM727.4 192.9h3.7v2h-3.7zM732.7 192.9h2v2h-2zM612 194.7h2v2h-2zM615.6 194.7h5.5v2h-5.5zM652.8 194.7h2v2h-2zM665.3 194.7h3.7v2h-3.7zM674.1 194.7h3.7v2h-3.7zM679.5 194.7h2v2h-2zM688.3 194.7h3.7v2h-3.7zM702.5 194.7h2v2h-2zM707.9 194.7h2v2h-2zM715 194.7h5.5v2h-5.5zM722.1 194.7h2v2h-2zM727.4 194.7h10.8v2h-10.8zM518 196.5h2v2h-2zM535.7 196.5h2v2h-2zM546.4 196.5h2v2h-2zM549.9 196.5h2v2h-2zM553.5 196.5h2v2h-2zM557 196.5h2v2h-2zM560.6 196.5h2v2h-2zM601.4 196.5h3.7v2h-3.7zM610.3 196.5h5.5v2h-5.5zM617.4 196.5h2v2h-2zM658.2 196.5h3.7v2h-3.7zM663.5 196.5h7.3v2h-7.3zM675.9 196.5h2v2h-2zM686.6 196.5h3.7v2h-3.7zM691.9 196.5h2v2h-2zM695.4 196.5h2v2h-2zM700.8 196.5h2v2h-2zM706.1 196.5h2v2h-2zM711.4 196.5h2v2h-2zM715 196.5h2v2h-2zM718.5 196.5h2v2h-2zM722.1 196.5h2v2h-2zM729.2 196.5h5.5v2h-5.5zM738 196.5h5.5v2h-5.5zM549.9 198.2h2v2h-2zM553.5 198.2h2v2h-2zM601.4 198.2h5.5v2h-5.5zM608.5 198.2h2v2h-2zM612 198.2h3.7v2h-3.7zM619.1 198.2h2v2h-2zM652.8 198.2h3.7v2h-3.7zM661.7 198.2h3.7v2h-3.7zM667 198.2h3.7v2h-3.7zM672.4 198.2h5.5v2h-5.5zM686.6 198.2h2v2h-2zM695.4 198.2h2v2h-2zM700.8 198.2h2v2h-2zM706.1 198.2h5.5v2h-5.5zM715 198.2h5.5v2h-5.5zM729.2 198.2h2v2h-2zM732.7 198.2h2v2h-2zM736.3 198.2h2v2h-2zM514.4 200h2v2h-2zM518 200h2v2h-2zM521.5 200h2v2h-2zM526.8 200h2v2h-2zM530.4 200h2v2h-2zM535.7 200h3.7v2h-3.7zM541 200h2v2h-2zM546.4 200h2v2h-2zM549.9 200h3.7v2h-3.7zM596.1 200h5.5v2h-5.5zM612 200h2v2h-2zM672.4 200h2v2h-2zM681.2 200h3.7v2h-3.7zM707.9 200h2v2h-2zM716.7 200h2v2h-2zM723.8 200h2v2h-2zM727.4 200h2v2h-2zM514.4 201.8h5.5v2h-5.5zM525.1 201.8h2v2h-2zM528.6 201.8h2v2h-2zM532.2 201.8h2v2h-2zM541 201.8h2v2h-2zM548.1 201.8h5.5v2h-5.5zM597.8 201.8h9.1v2h-9.1zM612 201.8h3.7v2h-3.7zM620.9 201.8h2v2h-2zM654.6 201.8h2v2h-2zM658.2 201.8h2v2h-2zM663.5 201.8h3.7v2h-3.7zM668.8 201.8h2v2h-2zM683 201.8h3.7v2h-3.7zM688.3 201.8h5.5v2h-5.5zM699 201.8h7.3v2h-7.3zM711.4 201.8h7.3v2h-7.3zM722.1 201.8h3.7v2h-3.7zM729.2 201.8h5.5v2h-5.5zM738 201.8h3.7v2h-3.7zM603.2 203.6h2v2h-2zM608.5 203.6h2v2h-2zM612 203.6h2v2h-2zM615.6 203.6h2v2h-2zM652.8 203.6h2v2h-2zM667 203.6h2v2h-2zM674.1 203.6h2v2h-2zM681.2 203.6h2v2h-2zM688.3 203.6h2v2h-2zM693.7 203.6h2v2h-2zM706.1 203.6h2v2h-2zM709.6 203.6h2v2h-2zM715 203.6h3.7v2h-3.7zM727.4 203.6h3.7v2h-3.7zM732.7 203.6h3.7v2h-3.7zM743.4 203.6h2v2h-2zM518 205.3h2v2h-2zM525.1 205.3h7.3v2h-7.3zM544.6 205.3h3.7v2h-3.7zM549.9 205.3h2v2h-2zM603.2 205.3h2v2h-2zM608.5 205.3h2v2h-2zM658.2 205.3h2v2h-2zM677.7 205.3h2v2h-2zM700.8 205.3h2v2h-2zM704.3 205.3h2v2h-2zM715 205.3h2v2h-2zM730.9 205.3h2v2h-2zM608.5 207.1h2v2h-2zM615.6 207.1h5.5v2h-5.5zM654.6 207.1h2v2h-2zM659.9 207.1h2v2h-2zM667 207.1h2v2h-2zM675.9 207.1h2v2h-2zM681.2 207.1h2v2h-2zM707.9 207.1h2v2h-2zM713.2 207.1h3.7v2h-3.7zM727.4 207.1h2v2h-2zM732.7 207.1h5.5v2h-5.5zM604.9 208.9h2v2h-2zM608.5 208.9h2v2h-2zM652.8 208.9h5.5v2h-5.5zM672.4 208.9h5.5v2h-5.5zM681.2 208.9h2v2h-2zM688.3 208.9h2v2h-2zM693.7 208.9h2v2h-2zM709.6 208.9h2v2h-2zM713.2 208.9h5.5v2h-5.5zM722.1 208.9h2v2h-2zM732.7 208.9h2v2h-2zM736.3 208.9h2v2h-2zM743.4 208.9h2v2h-2zM518 210.7h2v2h-2zM521.5 210.7h2v2h-2zM525.1 210.7h2v2h-2zM528.6 210.7h2v2h-2zM535.7 210.7h2v2h-2zM546.4 210.7h5.5v2h-5.5zM557 210.7h2v2h-2zM560.6 210.7h2v2h-2zM597.8 210.7h5.5v2h-5.5zM606.7 210.7h5.5v2h-5.5zM613.8 210.7h2v2h-2zM619.1 210.7h3.7v2h-3.7zM652.8 210.7h3.7v2h-3.7zM658.2 210.7h3.7v2h-3.7zM663.5 210.7h2v2h-2zM668.8 210.7h2v2h-2zM672.4 210.7h2v2h-2zM675.9 210.7h3.7v2h-3.7zM683 210.7h3.7v2h-3.7zM691.9 210.7h3.7v2h-3.7zM700.8 210.7h2v2h-2zM704.3 210.7h2v2h-2zM709.6 210.7h3.7v2h-3.7zM715 210.7h2v2h-2zM722.1 210.7h3.7v2h-3.7zM727.4 210.7h7.3v2h-7.3zM738 210.7h3.7v2h-3.7zM514.4 212.5h2v2h-2zM518 212.5h2v2h-2zM521.5 212.5h2v2h-2zM525.1 212.5h3.7v2h-3.7zM530.4 212.5h3.7v2h-3.7zM535.7 212.5h2v2h-2zM544.6 212.5h5.5v2h-5.5zM553.5 212.5h2v2h-2zM557 212.5h2v2h-2zM560.6 212.5h2v2h-2zM599.6 212.5h2v2h-2zM604.9 212.5h2v2h-2zM608.5 212.5h2v2h-2zM620.9 212.5h2v2h-2zM659.9 212.5h2v2h-2zM663.5 212.5h3.7v2h-3.7zM668.8 212.5h2v2h-2zM675.9 212.5h2v2h-2zM683 212.5h7.3v2h-7.3zM691.9 212.5h5.5v2h-5.5zM699 212.5h7.3v2h-7.3zM711.4 212.5h3.7v2h-3.7zM716.7 212.5h3.7v2h-3.7zM722.1 212.5h3.7v2h-3.7zM727.4 212.5h2v2h-2zM736.3 212.5h5.5v2h-5.5zM514.4 214.2h2v2h-2zM525.1 214.2h2v2h-2zM528.6 214.2h5.5v2h-5.5zM544.6 214.2h3.7v2h-3.7zM551.7 214.2h2v2h-2zM560.6 214.2h2v2h-2zM597.8 214.2h10.8v2h-10.8zM610.3 214.2h3.7v2h-3.7zM620.9 214.2h2v2h-2zM652.8 214.2h2v2h-2zM661.7 214.2h9.1v2h-9.1zM677.7 214.2h2v2h-2zM683 214.2h5.5v2h-5.5zM691.9 214.2h2v2h-2zM695.4 214.2h2v2h-2zM700.8 214.2h5.5v2h-5.5zM709.6 214.2h7.3v2h-7.3zM718.5 214.2h2v2h-2zM722.1 214.2h3.7v2h-3.7zM727.4 214.2h3.7v2h-3.7zM732.7 214.2h3.7v2h-3.7zM738 214.2h3.7v2h-3.7zM514.4 216h2v2h-2zM518 216h2v2h-2zM525.1 216h2v2h-2zM528.6 216h2v2h-2zM537.5 216h2v2h-2zM549.9 216h2v2h-2zM557 216h2v2h-2zM596.1 216h5.5v2h-5.5zM603.2 216h2v2h-2zM606.7 216h2v2h-2zM610.3 216h3.7v2h-3.7zM620.9 216h2v2h-2zM654.6 216h2v2h-2zM665.3 216h2v2h-2zM668.8 216h2v2h-2zM683 216h3.7v2h-3.7zM688.3 216h2v2h-2zM691.9 216h2v2h-2zM702.5 216h2v2h-2zM709.6 216h3.7v2h-3.7zM715 216h3.7v2h-3.7zM722.1 216h7.3v2h-7.3zM730.9 216h2v2h-2zM736.3 216h7.3v2h-7.3zM608.5 217.8h2v2h-2zM615.6 217.8h5.5v2h-5.5zM652.8 217.8h2v2h-2zM667 217.8h2v2h-2zM672.4 217.8h2v2h-2zM681.2 217.8h2v2h-2zM688.3 217.8h2v2h-2zM693.7 217.8h2v2h-2zM699 217.8h2v2h-2zM707.9 217.8h2v2h-2zM715 217.8h3.7v2h-3.7zM732.7 217.8h2v2h-2zM736.3 217.8h2v2h-2zM741.6 217.8h3.7v2h-3.7zM519.7 221.3h2v2h-2zM523.3 221.3h3.7v2h-3.7zM533.9 221.3h2v2h-2zM539.3 221.3h2v2h-2zM642.2 221.3h3.7v2h-3.7zM654.6 221.3h2v2h-2zM670.6 221.3h2v2h-2zM674.1 221.3h2v2h-2zM681.2 221.3h2v2h-2zM711.4 221.3h2v2h-2zM723.8 221.3h2v2h-2zM732.7 221.3h2v2h-2zM738 221.3h2v2h-2zM526.8 223.1h2v2h-2zM544.6 223.1h3.7v2h-3.7zM549.9 223.1h2v2h-2zM573 223.1h2v2h-2zM589 223.1h2v2h-2zM638.6 223.1h2v2h-2zM652.8 223.1h2v2h-2zM665.3 223.1h3.7v2h-3.7zM690.1 223.1h2v2h-2zM695.4 223.1h2v2h-2zM723.8 223.1h2v2h-2zM727.4 223.1h2v2h-2zM514.4 224.9h2v2h-2zM528.6 224.9h3.7v2h-3.7zM544.6 224.9h9.1v2h-9.1zM560.6 224.9h2v2h-2zM573 224.9h3.7v2h-3.7zM583.6 224.9h2v2h-2zM587.2 224.9h3.7v2h-3.7zM626.2 224.9h3.7v2h-3.7zM635.1 224.9h2v2h-2zM644 224.9h2v2h-2zM649.3 224.9h2v2h-2zM654.6 224.9h2v2h-2zM670.6 224.9h7.3v2h-7.3zM681.2 224.9h2v2h-2zM688.3 224.9h3.7v2h-3.7zM707.9 224.9h2v2h-2zM713.2 224.9h2v2h-2zM716.7 224.9h2v2h-2zM727.4 224.9h2v2h-2zM734.5 224.9h3.7v2h-3.7zM535.7 226.7h3.7v2h-3.7zM544.6 226.7h2v2h-2zM548.1 226.7h3.7v2h-3.7zM557 226.7h2v2h-2zM573 226.7h3.7v2h-3.7zM583.6 226.7h7.3v2h-7.3zM622.7 226.7h2v2h-2zM626.2 226.7h2v2h-2zM635.1 226.7h2v2h-2zM654.6 226.7h3.7v2h-3.7zM661.7 226.7h2v2h-2zM672.4 226.7h3.7v2h-3.7zM677.7 226.7h2v2h-2zM690.1 226.7h2v2h-2zM699 226.7h2v2h-2zM713.2 226.7h2v2h-2zM720.3 226.7h2v2h-2zM734.5 226.7h2v2h-2zM743.4 226.7h2v2h-2zM514.4 228.4h2v2h-2zM521.5 228.4h2v2h-2zM525.1 228.4h2v2h-2zM528.6 228.4h3.7v2h-3.7zM533.9 228.4h3.7v2h-3.7zM539.3 228.4h2v2h-2zM542.8 228.4h10.8v2h-10.8zM555.2 228.4h3.7v2h-3.7zM560.6 228.4h2v2h-2zM565.9 228.4h2v2h-2zM569.4 228.4h3.7v2h-3.7zM574.8 228.4h2v2h-2zM583.6 228.4h2v2h-2zM587.2 228.4h2v2h-2zM624.4 228.4h3.7v2h-3.7zM629.8 228.4h2v2h-2zM633.3 228.4h2v2h-2zM638.6 228.4h2v2h-2zM649.3 228.4h3.7v2h-3.7zM656.4 228.4h2v2h-2zM667 228.4h2v2h-2zM674.1 228.4h3.7v2h-3.7zM688.3 228.4h3.7v2h-3.7zM693.7 228.4h3.7v2h-3.7zM699 228.4h2v2h-2zM702.5 228.4h2v2h-2zM706.1 228.4h5.5v2h-5.5zM715 228.4h2v2h-2zM722.1 228.4h2v2h-2zM727.4 228.4h2v2h-2zM732.7 228.4h5.5v2h-5.5zM521.5 230.2h2v2h-2zM530.4 230.2h2v2h-2zM539.3 230.2h2v2h-2zM544.6 230.2h5.5v2h-5.5zM562.3 230.2h2v2h-2zM569.4 230.2h3.7v2h-3.7zM574.8 230.2h5.5v2h-5.5zM587.2 230.2h3.7v2h-3.7zM624.4 230.2h5.5v2h-5.5zM631.5 230.2h2v2h-2zM638.6 230.2h2v2h-2zM644 230.2h2v2h-2zM649.3 230.2h2v2h-2zM663.5 230.2h5.5v2h-5.5zM675.9 230.2h2v2h-2zM681.2 230.2h2v2h-2zM688.3 230.2h3.7v2h-3.7zM693.7 230.2h2v2h-2zM707.9 230.2h5.5v2h-5.5zM715 230.2h2v2h-2zM720.3 230.2h3.7v2h-3.7zM727.4 230.2h2v2h-2zM732.7 230.2h2v2h-2zM521.5 232h2v2h-2zM525.1 232h3.7v2h-3.7zM539.3 232h2v2h-2zM544.6 232h3.7v2h-3.7zM549.9 232h2v2h-2zM571.2 232h2v2h-2zM574.8 232h2v2h-2zM581.9 232h2v2h-2zM585.4 232h3.7v2h-3.7zM624.4 232h3.7v2h-3.7zM636.9 232h3.7v2h-3.7zM649.3 232h2v2h-2zM652.8 232h3.7v2h-3.7zM667 232h2v2h-2zM674.1 232h3.7v2h-3.7zM681.2 232h2v2h-2zM688.3 232h2v2h-2zM697.2 232h2v2h-2zM706.1 232h5.5v2h-5.5zM713.2 232h3.7v2h-3.7zM727.4 232h2v2h-2zM736.3 232h2v2h-2zM514.4 233.8h2v2h-2zM530.4 233.8h3.7v2h-3.7zM535.7 233.8h3.7v2h-3.7zM544.6 233.8h2v2h-2zM549.9 233.8h5.5v2h-5.5zM557 233.8h2v2h-2zM560.6 233.8h2v2h-2zM583.6 233.8h2v2h-2zM587.2 233.8h3.7v2h-3.7zM622.7 233.8h2v2h-2zM626.2 233.8h3.7v2h-3.7zM635.1 233.8h2v2h-2zM644 233.8h2v2h-2zM652.8 233.8h2v2h-2zM661.7 233.8h2v2h-2zM672.4 233.8h3.7v2h-3.7zM681.2 233.8h2v2h-2zM688.3 233.8h2v2h-2zM707.9 233.8h2v2h-2zM713.2 233.8h3.7v2h-3.7zM736.3 233.8h2v2h-2zM523.3 235.6h2v2h-2zM528.6 235.6h2v2h-2zM533.9 235.6h2v2h-2zM539.3 235.6h2v2h-2zM542.8 235.6h2v2h-2zM549.9 235.6h2v2h-2zM555.2 235.6h2v2h-2zM558.8 235.6h2v2h-2zM564.1 235.6h2v2h-2zM571.2 235.6h2v2h-2zM576.5 235.6h10.8v2h-10.8zM590.7 235.6h2v2h-2zM631.5 235.6h2v2h-2zM640.4 235.6h2v2h-2zM647.5 235.6h3.7v2h-3.7zM652.8 235.6h2v2h-2zM658.2 235.6h2v2h-2zM663.5 235.6h5.5v2h-5.5zM670.6 235.6h2v2h-2zM675.9 235.6h2v2h-2zM684.8 235.6h2v2h-2zM688.3 235.6h2v2h-2zM691.9 235.6h2v2h-2zM695.4 235.6h2v2h-2zM704.3 235.6h2v2h-2zM711.4 235.6h2v2h-2zM722.1 235.6h2v2h-2zM727.4 235.6h2v2h-2zM730.9 235.6h2v2h-2zM739.8 235.6h2v2h-2zM514.4 237.3h3.7v2h-3.7zM521.5 237.3h2v2h-2zM530.4 237.3h2v2h-2zM537.5 237.3h2v2h-2zM544.6 237.3h2v2h-2zM549.9 237.3h2v2h-2zM569.4 237.3h2v2h-2zM583.6 237.3h2v2h-2zM587.2 237.3h3.7v2h-3.7zM622.7 237.3h7.3v2h-7.3zM635.1 237.3h2v2h-2zM638.6 237.3h2v2h-2zM644 237.3h2v2h-2zM649.3 237.3h2v2h-2zM652.8 237.3h3.7v2h-3.7zM667 237.3h2v2h-2zM674.1 237.3h3.7v2h-3.7zM681.2 237.3h2v2h-2zM688.3 237.3h3.7v2h-3.7zM693.7 237.3h2v2h-2zM697.2 237.3h3.7v2h-3.7zM707.9 237.3h3.7v2h-3.7zM715 237.3h3.7v2h-3.7zM722.1 237.3h2v2h-2zM734.5 237.3h3.7v2h-3.7zM521.5 239.1h2v2h-2zM525.1 239.1h2v2h-2zM530.4 239.1h2v2h-2zM546.4 239.1h2v2h-2zM549.9 239.1h2v2h-2zM557 239.1h2v2h-2zM565.9 239.1h12.6v2h-12.6zM587.2 239.1h3.7v2h-3.7zM635.1 239.1h2v2h-2zM644 239.1h2v2h-2zM649.3 239.1h2v2h-2zM652.8 239.1h3.7v2h-3.7zM667 239.1h2v2h-2zM672.4 239.1h2v2h-2zM675.9 239.1h3.7v2h-3.7zM681.2 239.1h2v2h-2zM688.3 239.1h2v2h-2zM693.7 239.1h3.7v2h-3.7zM706.1 239.1h5.5v2h-5.5zM715 239.1h3.7v2h-3.7zM722.1 239.1h2v2h-2zM727.4 239.1h2v2h-2zM732.7 239.1h2v2h-2zM741.6 239.1h2v2h-2zM516.2 240.9h2v2h-2zM525.1 240.9h2v2h-2zM544.6 240.9h2v2h-2zM548.1 240.9h3.7v2h-3.7zM560.6 240.9h2v2h-2zM569.4 240.9h3.7v2h-3.7zM574.8 240.9h2v2h-2zM583.6 240.9h2v2h-2zM622.7 240.9h2v2h-2zM628 240.9h2v2h-2zM635.1 240.9h2v2h-2zM638.6 240.9h2v2h-2zM644 240.9h2v2h-2zM649.3 240.9h2v2h-2zM652.8 240.9h2v2h-2zM656.4 240.9h2v2h-2zM667 240.9h2v2h-2zM674.1 240.9h2v2h-2zM681.2 240.9h2v2h-2zM688.3 240.9h3.7v2h-3.7zM693.7 240.9h2v2h-2zM699 240.9h2v2h-2zM709.6 240.9h2v2h-2zM713.2 240.9h5.5v2h-5.5zM727.4 240.9h3.7v2h-3.7zM736.3 240.9h2v2h-2zM519.7 242.7h3.7v2h-3.7zM525.1 242.7h2v2h-2zM537.5 242.7h2v2h-2zM546.4 242.7h2v2h-2zM560.6 242.7h9.1v2h-9.1zM576.5 242.7h2v2h-2zM580.1 242.7h2v2h-2zM590.7 242.7h2v2h-2zM622.7 242.7h2v2h-2zM642.2 242.7h2v2h-2zM645.7 242.7h2v2h-2zM663.5 242.7h3.7v2h-3.7zM677.7 242.7h2v2h-2zM681.2 242.7h5.5v2h-5.5zM693.7 242.7h2v2h-2zM699 242.7h2v2h-2zM702.5 242.7h3.7v2h-3.7zM707.9 242.7h2v2h-2zM718.5 242.7h2v2h-2zM729.2 242.7h3.7v2h-3.7zM738 242.7h2v2h-2zM519.7 244.4h5.5v2h-5.5zM528.6 244.4h3.7v2h-3.7zM535.7 244.4h2v2h-2zM542.8 244.4h2v2h-2zM562.3 244.4h2v2h-2zM567.7 244.4h3.7v2h-3.7zM580.1 244.4h2v2h-2zM590.7 244.4h2v2h-2zM624.4 244.4h2v2h-2zM629.8 244.4h2v2h-2zM635.1 244.4h2v2h-2zM638.6 244.4h5.5v2h-5.5zM651.1 244.4h2v2h-2zM663.5 244.4h3.7v2h-3.7zM675.9 244.4h2v2h-2zM683 244.4h3.7v2h-3.7zM691.9 244.4h2v2h-2zM700.8 244.4h2v2h-2zM704.3 244.4h3.7v2h-3.7zM711.4 244.4h2v2h-2zM715 244.4h2v2h-2zM722.1 244.4h3.7v2h-3.7zM730.9 244.4h2v2h-2zM736.3 244.4h2v2h-2zM741.6 244.4h2v2h-2zM514.4 246.2h3.7v2h-3.7zM519.7 246.2h7.3v2h-7.3zM533.9 246.2h7.3v2h-7.3zM542.8 246.2h2v2h-2zM548.1 246.2h2v2h-2zM555.2 246.2h2v2h-2zM558.8 246.2h2v2h-2zM562.3 246.2h7.3v2h-7.3zM571.2 246.2h2v2h-2zM580.1 246.2h2v2h-2zM583.6 246.2h2v2h-2zM590.7 246.2h2v2h-2zM624.4 246.2h2v2h-2zM631.5 246.2h3.7v2h-3.7zM636.9 246.2h2v2h-2zM640.4 246.2h5.5v2h-5.5zM647.5 246.2h7.3v2h-7.3zM656.4 246.2h3.7v2h-3.7zM665.3 246.2h3.7v2h-3.7zM670.6 246.2h2v2h-2zM677.7 246.2h2v2h-2zM683 246.2h2v2h-2zM686.6 246.2h3.7v2h-3.7zM691.9 246.2h5.5v2h-5.5zM700.8 246.2h5.5v2h-5.5zM707.9 246.2h2v2h-2zM711.4 246.2h2v2h-2zM716.7 246.2h3.7v2h-3.7zM722.1 246.2h2v2h-2zM727.4 246.2h5.5v2h-5.5zM738 246.2h3.7v2h-3.7zM514.4 248h2v2h-2zM528.6 248h2v2h-2zM532.2 248h2v2h-2zM535.7 248h2v2h-2zM548.1 248h5.5v2h-5.5zM574.8 248h2v2h-2zM583.6 248h7.3v2h-7.3zM622.7 248h2v2h-2zM626.2 248h3.7v2h-3.7zM654.6 248h3.7v2h-3.7zM661.7 248h2v2h-2zM672.4 248h2v2h-2zM679.5 248h3.7v2h-3.7zM690.1 248h2v2h-2zM716.7 248h2v2h-2zM725.6 248h2v2h-2zM734.5 248h3.7v2h-3.7zM741.6 248h2v2h-2zM599.6 249.8h2v2h-2zM606.7 249.8h2v2h-2zM610.3 249.8h2v2h-2zM613.8 249.8h3.7v2h-3.7zM620.9 249.8h2v2h-2zM601.4 251.6h5.5v2h-5.5zM610.3 251.6h2v2h-2zM617.4 251.6h3.7v2h-3.7zM597.8 253.3h10.8v2h-10.8zM610.3 253.3h2v2h-2zM620.9 253.3h2v2h-2zM597.8 255.1h2v2h-2zM603.2 255.1h2v2h-2zM606.7 255.1h2v2h-2zM610.3 255.1h2v2h-2zM613.8 255.1h2v2h-2zM620.9 255.1h2v2h-2zM601.4 256.9h2v2h-2zM617.4 256.9h2v2h-2zM603.2 258.7h2v2h-2zM608.5 258.7h2v2h-2zM619.1 258.7h2v2h-2zM601.4 260.4h2v2h-2zM619.1 260.4h2v2h-2zM597.8 262.2h3.7v2h-3.7zM606.7 262.2h2v2h-2zM610.3 262.2h5.5v2h-5.5zM617.4 262.2h2v2h-2zM604.9 264h2v2h-2zM619.1 264h2v2h-2zM596.1 265.8h2v2h-2zM601.4 265.8h5.5v2h-5.5zM610.3 265.8h2v2h-2zM613.8 265.8h2v2h-2zM617.4 265.8h2v2h-2zM608.5 267.6h2v2h-2zM617.4 267.6h3.7v2h-3.7zM594.3 269.3h2v2h-2zM615.6 269.3h5.5v2h-5.5zM594.3 271.1h2v2h-2zM597.8 271.1h2v2h-2zM603.2 271.1h2v2h-2zM606.7 271.1h2v2h-2zM610.3 271.1h5.5v2h-5.5zM619.1 271.1h2v2h-2zM615.6 272.9h2v2h-2zM608.5 274.7h2v2h-2zM619.1 274.7h2v2h-2zM597.8 276.4h2v2h-2zM601.4 276.4h5.5v2h-5.5zM608.5 276.4h7.3v2h-7.3zM619.1 276.4h2v2h-2zM601.4 278.2h2v2h-2zM617.4 278.2h3.7v2h-3.7zM519.7 280h9.1v2h-9.1zM530.4 280h2v2h-2zM535.7 280h2v2h-2zM539.3 280h9.1v2h-9.1zM549.9 280h3.7v2h-3.7zM555.2 280h2v2h-2zM558.8 280h2v2h-2zM562.3 280h7.3v2h-7.3zM571.2 280h2v2h-2zM576.5 280h2v2h-2zM581.9 280h3.7v2h-3.7zM587.2 280h2v2h-2zM590.7 280h2v2h-2zM596.1 280h2v2h-2zM604.9 280h10.8v2h-10.8zM619.1 280h2v2h-2zM688.3 280h2v2h-2zM693.7 280h2v2h-2zM706.1 280h2v2h-2zM709.6 280h2v2h-2zM713.2 280h5.5v2h-5.5zM720.3 280h2v2h-2zM725.6 280h3.7v2h-3.7zM732.7 280h2v2h-2zM519.7 281.8h7.3v2h-7.3zM532.2 281.8h3.7v2h-3.7zM537.5 281.8h2v2h-2zM542.8 281.8h5.5v2h-5.5zM549.9 281.8h2v2h-2zM555.2 281.8h2v2h-2zM558.8 281.8h2v2h-2zM562.3 281.8h5.5v2h-5.5zM571.2 281.8h2v2h-2zM574.8 281.8h2v2h-2zM580.1 281.8h5.5v2h-5.5zM589 281.8h2v2h-2zM594.3 281.8h2v2h-2zM597.8 281.8h3.7v2h-3.7zM604.9 281.8h2v2h-2zM610.3 281.8h3.7v2h-3.7zM620.9 281.8h2v2h-2zM675.9 281.8h2v2h-2zM697.2 281.8h3.7v2h-3.7zM706.1 281.8h2v2h-2zM709.6 281.8h2v2h-2zM713.2 281.8h2v2h-2zM725.6 281.8h3.7v2h-3.7zM734.5 281.8h2v2h-2zM743.4 281.8h2v2h-2zM518 283.5h2v2h-2zM532.2 283.5h2v2h-2zM542.8 283.5h2v2h-2zM555.2 283.5h5.5v2h-5.5zM581.9 283.5h2v2h-2zM599.6 283.5h3.7v2h-3.7zM613.8 283.5h2v2h-2zM619.1 283.5h3.7v2h-3.7zM677.7 283.5h3.7v2h-3.7zM688.3 283.5h2v2h-2zM693.7 283.5h2v2h-2zM699 283.5h2v2h-2zM706.1 283.5h2v2h-2zM709.6 283.5h2v2h-2zM720.3 283.5h2v2h-2zM729.2 283.5h2v2h-2zM732.7 283.5h3.7v2h-3.7zM741.6 283.5h2v2h-2zM530.4 285.3h2v2h-2zM546.4 285.3h2v2h-2zM549.9 285.3h2v2h-2zM553.5 285.3h2v2h-2zM569.4 285.3h2v2h-2zM574.8 285.3h2v2h-2zM578.3 285.3h2v2h-2zM583.6 285.3h2v2h-2zM608.5 285.3h2v2h-2zM619.1 285.3h2v2h-2zM519.7 287.1h2v2h-2zM569.4 287.1h2v2h-2zM580.1 287.1h2v2h-2zM583.6 287.1h3.7v2h-3.7zM675.9 287.1h2v2h-2zM679.5 287.1h2v2h-2zM688.3 287.1h3.7v2h-3.7zM706.1 287.1h2v2h-2zM709.6 287.1h2v2h-2zM713.2 287.1h3.7v2h-3.7zM720.3 287.1h2v2h-2zM727.4 287.1h2v2h-2zM736.3 287.1h2v2h-2zM741.6 287.1h2v2h-2zM745.1 287.1h2v2h-2zM516.2 288.9h2v2h-2zM533.9 288.9h2v2h-2zM539.3 288.9h2v2h-2zM571.2 288.9h2v2h-2zM587.2 288.9h2v2h-2zM599.6 288.9h2v2h-2zM606.7 288.9h2v2h-2zM620.9 288.9h2v2h-2zM675.9 288.9h7.3v2h-7.3zM690.1 288.9h2v2h-2zM699 288.9h2v2h-2zM713.2 288.9h2v2h-2zM716.7 288.9h2v2h-2zM745.1 288.9h2v2h-2zM525.1 290.7h2v2h-2zM530.4 290.7h2v2h-2zM535.7 290.7h2v2h-2zM544.6 290.7h2v2h-2zM548.1 290.7h3.7v2h-3.7zM557 290.7h2v2h-2zM565.9 290.7h2v2h-2zM569.4 290.7h3.7v2h-3.7zM574.8 290.7h2v2h-2zM583.6 290.7h5.5v2h-5.5zM603.2 290.7h2v2h-2zM608.5 290.7h2v2h-2zM615.6 290.7h3.7v2h-3.7zM514.4 292.4h2v2h-2zM521.5 292.4h2v2h-2zM530.4 292.4h2v2h-2zM535.7 292.4h2v2h-2zM546.4 292.4h2v2h-2zM549.9 292.4h3.7v2h-3.7zM565.9 292.4h5.5v2h-5.5zM574.8 292.4h2v2h-2zM585.4 292.4h5.5v2h-5.5zM596.1 292.4h2v2h-2zM603.2 292.4h2v2h-2zM608.5 292.4h2v2h-2zM615.6 292.4h5.5v2h-5.5zM519.7 294.2h7.3v2h-7.3zM530.4 294.2h2v2h-2zM533.9 294.2h2v2h-2zM539.3 294.2h2v2h-2zM542.8 294.2h3.7v2h-3.7zM548.1 294.2h3.7v2h-3.7zM555.2 294.2h2v2h-2zM558.8 294.2h2v2h-2zM565.9 294.2h7.3v2h-7.3zM576.5 294.2h2v2h-2zM580.1 294.2h2v2h-2zM587.2 294.2h2v2h-2zM590.7 294.2h2v2h-2zM596.1 294.2h2v2h-2zM601.4 294.2h5.5v2h-5.5zM608.5 294.2h7.3v2h-7.3zM619.1 294.2h2v2h-2zM677.7 294.2h2v2h-2zM681.2 294.2h2v2h-2zM693.7 294.2h2v2h-2zM699 294.2h2v2h-2zM706.1 294.2h2v2h-2zM720.3 294.2h2v2h-2zM725.6 294.2h2v2h-2zM734.5 294.2h3.7v2h-3.7zM743.4 294.2h3.7v2h-3.7zM514.4 296h3.7v2h-3.7zM528.6 296h3.7v2h-3.7zM544.6 296h7.3v2h-7.3zM569.4 296h3.7v2h-3.7zM574.8 296h2v2h-2zM583.6 296h7.3v2h-7.3zM514.4 297.8h2v2h-2zM519.7 297.8h2v2h-2zM537.5 297.8h2v2h-2zM565.9 297.8h2v2h-2zM594.3 297.8h2v2h-2zM597.8 297.8h2v2h-2zM608.5 297.8h2v2h-2zM619.1 297.8h2v2h-2zM693.7 297.8h2v2h-2zM697.2 297.8h2v2h-2zM706.1 297.8h5.5v2h-5.5zM715 297.8h3.7v2h-3.7zM725.6 297.8h2v2h-2zM734.5 297.8h3.7v2h-3.7zM743.4 297.8h2v2h-2zM521.5 299.5h2v2h-2zM530.4 299.5h2v2h-2zM542.8 299.5h2v2h-2zM555.2 299.5h2v2h-2zM571.2 299.5h3.7v2h-3.7zM581.9 299.5h3.7v2h-3.7zM590.7 299.5h2v2h-2zM597.8 299.5h3.7v2h-3.7zM606.7 299.5h2v2h-2zM612 299.5h2v2h-2zM620.9 299.5h2v2h-2zM697.2 299.5h2v2h-2zM707.9 299.5h2v2h-2zM713.2 299.5h3.7v2h-3.7zM722.1 299.5h2v2h-2zM727.4 299.5h3.7v2h-3.7zM521.5 301.3h3.7v2h-3.7zM533.9 301.3h3.7v2h-3.7zM542.8 301.3h2v2h-2zM551.7 301.3h2v2h-2zM562.3 301.3h2v2h-2zM565.9 301.3h3.7v2h-3.7zM571.2 301.3h2v2h-2zM576.5 301.3h2v2h-2zM581.9 301.3h2v2h-2zM594.3 301.3h2v2h-2zM597.8 301.3h5.5v2h-5.5zM604.9 301.3h3.7v2h-3.7zM610.3 301.3h2v2h-2zM613.8 301.3h2v2h-2zM675.9 301.3h2v2h-2zM688.3 301.3h3.7v2h-3.7zM693.7 301.3h2v2h-2zM706.1 301.3h5.5v2h-5.5zM734.5 301.3h2v2h-2zM741.6 301.3h2v2h-2zM516.2 303.1h2v2h-2zM519.7 303.1h5.5v2h-5.5zM528.6 303.1h3.7v2h-3.7zM533.9 303.1h2v2h-2zM537.5 303.1h7.3v2h-7.3zM546.4 303.1h3.7v2h-3.7zM562.3 303.1h10.8v2h-10.8zM580.1 303.1h7.3v2h-7.3zM597.8 303.1h2v2h-2zM601.4 303.1h5.5v2h-5.5zM608.5 303.1h5.5v2h-5.5zM617.4 303.1h2v2h-2zM654.6 303.1h2v2h-2zM659.9 303.1h3.7v2h-3.7zM674.1 303.1h2v2h-2zM693.7 303.1h2v2h-2zM706.1 303.1h2v2h-2zM716.7 303.1h2v2h-2zM741.6 303.1h2v2h-2zM745.1 303.1h2v2h-2zM535.7 304.9h2v2h-2zM542.8 304.9h2v2h-2zM578.3 304.9h2v2h-2zM583.6 304.9h2v2h-2zM587.2 304.9h2v2h-2zM599.6 304.9h2v2h-2zM612 304.9h2v2h-2zM615.6 304.9h2v2h-2zM619.1 304.9h2v2h-2zM656.4 304.9h2v2h-2zM661.7 304.9h2v2h-2zM667 304.9h2v2h-2zM688.3 304.9h2v2h-2zM697.2 304.9h2v2h-2zM715 304.9h3.7v2h-3.7zM725.6 304.9h5.5v2h-5.5zM734.5 304.9h2v2h-2zM745.1 304.9h2v2h-2zM521.5 306.7h2v2h-2zM526.8 306.7h2v2h-2zM542.8 306.7h2v2h-2zM567.7 306.7h2v2h-2zM620.9 306.7h2v2h-2zM656.4 306.7h2v2h-2zM659.9 306.7h3.7v2h-3.7zM681.2 306.7h2v2h-2zM693.7 306.7h2v2h-2zM709.6 306.7h2v2h-2zM715 306.7h2v2h-2zM722.1 306.7h2v2h-2zM741.6 306.7h3.7v2h-3.7zM519.7 308.4h7.3v2h-7.3zM533.9 308.4h5.5v2h-5.5zM541 308.4h3.7v2h-3.7zM553.5 308.4h2v2h-2zM558.8 308.4h2v2h-2zM562.3 308.4h2v2h-2zM573 308.4h2v2h-2zM576.5 308.4h2v2h-2zM580.1 308.4h3.7v2h-3.7zM590.7 308.4h2v2h-2zM594.3 308.4h2v2h-2zM597.8 308.4h2v2h-2zM603.2 308.4h5.5v2h-5.5zM610.3 308.4h7.3v2h-7.3zM620.9 308.4h2v2h-2zM661.7 308.4h2v2h-2zM667 308.4h2v2h-2zM679.5 308.4h2v2h-2zM688.3 308.4h2v2h-2zM693.7 308.4h2v2h-2zM697.2 308.4h2v2h-2zM709.6 308.4h2v2h-2zM716.7 308.4h2v2h-2zM725.6 308.4h3.7v2h-3.7zM736.3 308.4h2v2h-2zM516.2 310.2h2v2h-2zM525.1 310.2h2v2h-2zM530.4 310.2h2v2h-2zM535.7 310.2h3.7v2h-3.7zM544.6 310.2h3.7v2h-3.7zM573 310.2h3.7v2h-3.7zM583.6 310.2h7.3v2h-7.3zM615.6 310.2h5.5v2h-5.5zM516.2 312h2v2h-2zM535.7 312h2v2h-2zM548.1 312h3.7v2h-3.7zM557 312h2v2h-2zM560.6 312h2v2h-2zM574.8 312h2v2h-2zM583.6 312h7.3v2h-7.3zM608.5 312h2v2h-2zM615.6 312h3.7v2h-3.7zM516.2 313.8h2v2h-2zM523.3 313.8h3.7v2h-3.7zM530.4 313.8h3.7v2h-3.7zM539.3 313.8h2v2h-2zM544.6 313.8h2v2h-2zM549.9 313.8h2v2h-2zM558.8 313.8h2v2h-2zM565.9 313.8h2v2h-2zM569.4 313.8h3.7v2h-3.7zM585.4 313.8h3.7v2h-3.7zM619.1 313.8h2v2h-2zM516.2 315.5h2v2h-2zM519.7 315.5h7.3v2h-7.3zM528.6 315.5h9.1v2h-9.1zM539.3 315.5h2v2h-2zM542.8 315.5h3.7v2h-3.7zM548.1 315.5h3.7v2h-3.7zM555.2 315.5h2v2h-2zM558.8 315.5h2v2h-2zM564.1 315.5h2v2h-2zM567.7 315.5h3.7v2h-3.7zM574.8 315.5h3.7v2h-3.7zM581.9 315.5h2v2h-2zM585.4 315.5h2v2h-2zM589 315.5h3.7v2h-3.7zM597.8 315.5h2v2h-2zM601.4 315.5h14.4v2h-14.4zM619.1 315.5h2v2h-2zM652.8 315.5h2v2h-2zM656.4 315.5h2v2h-2zM659.9 315.5h2v2h-2zM674.1 315.5h2v2h-2zM677.7 315.5h2v2h-2zM681.2 315.5h2v2h-2zM693.7 315.5h2v2h-2zM706.1 315.5h2v2h-2zM709.6 315.5h2v2h-2zM720.3 315.5h2v2h-2zM725.6 315.5h2v2h-2zM729.2 315.5h2v2h-2zM732.7 315.5h2v2h-2zM743.4 315.5h3.7v2h-3.7zM526.8 317.3h2v2h-2zM533.9 317.3h2v2h-2zM539.3 317.3h2v2h-2zM557 317.3h3.7v2h-3.7zM562.3 317.3h3.7v2h-3.7zM567.7 317.3h2v2h-2zM574.8 317.3h2v2h-2zM596.1 317.3h9.1v2h-9.1zM610.3 317.3h2v2h-2zM613.8 317.3h2v2h-2zM620.9 317.3h2v2h-2zM659.9 317.3h3.7v2h-3.7zM674.1 317.3h2v2h-2zM699 317.3h2v2h-2zM725.6 317.3h3.7v2h-3.7zM741.6 317.3h2v2h-2zM518 319.1h2v2h-2zM528.6 319.1h2v2h-2zM535.7 319.1h2v2h-2zM544.6 319.1h3.7v2h-3.7zM551.7 319.1h3.7v2h-3.7zM560.6 319.1h2v2h-2zM569.4 319.1h2v2h-2zM574.8 319.1h2v2h-2zM583.6 319.1h7.3v2h-7.3zM608.5 319.1h2v2h-2zM617.4 319.1h3.7v2h-3.7zM514.4 320.9h2v2h-2zM519.7 320.9h7.3v2h-7.3zM528.6 320.9h3.7v2h-3.7zM533.9 320.9h9.1v2h-9.1zM546.4 320.9h2v2h-2zM551.7 320.9h2v2h-2zM555.2 320.9h5.5v2h-5.5zM564.1 320.9h3.7v2h-3.7zM576.5 320.9h2v2h-2zM581.9 320.9h5.5v2h-5.5zM590.7 320.9h2v2h-2zM601.4 320.9h3.7v2h-3.7zM610.3 320.9h7.3v2h-7.3zM619.1 320.9h2v2h-2zM652.8 320.9h2v2h-2zM656.4 320.9h2v2h-2zM667 320.9h2v2h-2zM670.6 320.9h2v2h-2zM674.1 320.9h3.7v2h-3.7zM679.5 320.9h3.7v2h-3.7zM688.3 320.9h2v2h-2zM693.7 320.9h2v2h-2zM706.1 320.9h3.7v2h-3.7zM713.2 320.9h2v2h-2zM725.6 320.9h2v2h-2zM516.2 322.6h2v2h-2zM521.5 322.6h2v2h-2zM525.1 322.6h2v2h-2zM530.4 322.6h2v2h-2zM535.7 322.6h5.5v2h-5.5zM546.4 322.6h2v2h-2zM549.9 322.6h3.7v2h-3.7zM557 322.6h3.7v2h-3.7zM569.4 322.6h3.7v2h-3.7zM585.4 322.6h3.7v2h-3.7zM596.1 322.6h2v2h-2zM601.4 322.6h2v2h-2zM608.5 322.6h2v2h-2zM612 322.6h2v2h-2zM619.1 322.6h2v2h-2zM525.1 324.4h3.7v2h-3.7zM549.9 324.4h2v2h-2zM604.9 324.4h2v2h-2zM610.3 324.4h2v2h-2zM654.6 324.4h2v2h-2zM670.6 324.4h3.7v2h-3.7zM677.7 324.4h2v2h-2zM681.2 324.4h2v2h-2zM706.1 324.4h2v2h-2zM713.2 324.4h3.7v2h-3.7zM725.6 324.4h2v2h-2zM734.5 324.4h2v2h-2zM516.2 326.2h2v2h-2zM519.7 326.2h2v2h-2zM533.9 326.2h2v2h-2zM539.3 326.2h5.5v2h-5.5zM553.5 326.2h2v2h-2zM565.9 326.2h2v2h-2zM574.8 326.2h2v2h-2zM585.4 326.2h2v2h-2zM590.7 326.2h2v2h-2zM599.6 326.2h3.7v2h-3.7zM610.3 326.2h2v2h-2zM613.8 326.2h3.7v2h-3.7zM654.6 326.2h3.7v2h-3.7zM661.7 326.2h2v2h-2zM667 326.2h2v2h-2zM690.1 326.2h2v2h-2zM706.1 326.2h2v2h-2zM715 326.2h3.7v2h-3.7zM725.6 326.2h2v2h-2zM734.5 326.2h2v2h-2zM514.4 328h2v2h-2zM525.1 328h2v2h-2zM528.6 328h3.7v2h-3.7zM535.7 328h2v2h-2zM541 328h2v2h-2zM544.6 328h3.7v2h-3.7zM549.9 328h2v2h-2zM553.5 328h2v2h-2zM560.6 328h2v2h-2zM569.4 328h3.7v2h-3.7zM574.8 328h2v2h-2zM578.3 328h2v2h-2zM583.6 328h5.5v2h-5.5zM617.4 328h3.7v2h-3.7zM516.2 329.8h3.7v2h-3.7zM525.1 329.8h2v2h-2zM530.4 329.8h2v2h-2zM544.6 329.8h2v2h-2zM548.1 329.8h3.7v2h-3.7zM567.7 329.8h2v2h-2zM574.8 329.8h2v2h-2zM585.4 329.8h5.5v2h-5.5zM601.4 329.8h2v2h-2zM615.6 329.8h2v2h-2zM619.1 329.8h2v2h-2zM516.2 331.5h2v2h-2zM525.1 331.5h2v2h-2zM528.6 331.5h2v2h-2zM535.7 331.5h2v2h-2zM544.6 331.5h9.1v2h-9.1zM557 331.5h2v2h-2zM560.6 331.5h2v2h-2zM574.8 331.5h2v2h-2zM578.3 331.5h2v2h-2zM583.6 331.5h5.5v2h-5.5zM608.5 331.5h2v2h-2zM615.6 331.5h5.5v2h-5.5zM521.5 333.3h2v2h-2zM525.1 333.3h2v2h-2zM528.6 333.3h3.7v2h-3.7zM533.9 333.3h2v2h-2zM539.3 333.3h2v2h-2zM544.6 333.3h3.7v2h-3.7zM549.9 333.3h3.7v2h-3.7zM562.3 333.3h5.5v2h-5.5zM569.4 333.3h3.7v2h-3.7zM576.5 333.3h2v2h-2zM601.4 333.3h2v2h-2zM604.9 333.3h2v2h-2zM612 333.3h2v2h-2zM617.4 333.3h2v2h-2zM652.8 333.3h5.5v2h-5.5zM659.9 333.3h2v2h-2zM667 333.3h2v2h-2zM670.6 333.3h2v2h-2zM674.1 333.3h3.7v2h-3.7zM688.3 333.3h2v2h-2zM693.7 333.3h2v2h-2zM697.2 333.3h3.7v2h-3.7zM518 335.1h5.5v2h-5.5zM525.1 335.1h2v2h-2zM528.6 335.1h2v2h-2zM533.9 335.1h2v2h-2zM539.3 335.1h2v2h-2zM542.8 335.1h5.5v2h-5.5zM549.9 335.1h2v2h-2zM555.2 335.1h2v2h-2zM562.3 335.1h2v2h-2zM567.7 335.1h2v2h-2zM571.2 335.1h3.7v2h-3.7zM580.1 335.1h2v2h-2zM590.7 335.1h2v2h-2zM597.8 335.1h2v2h-2zM601.4 335.1h7.3v2h-7.3zM610.3 335.1h3.7v2h-3.7zM615.6 335.1h2v2h-2zM619.1 335.1h2v2h-2zM670.6 335.1h5.5v2h-5.5zM693.7 335.1h2v2h-2zM707.9 335.1h2v2h-2zM521.5 336.9h2v2h-2zM528.6 336.9h3.7v2h-3.7zM539.3 336.9h2v2h-2zM549.9 336.9h2v2h-2zM555.2 336.9h3.7v2h-3.7zM562.3 336.9h5.5v2h-5.5zM571.2 336.9h2v2h-2zM576.5 336.9h2v2h-2zM581.9 336.9h3.7v2h-3.7zM587.2 336.9h3.7v2h-3.7zM601.4 336.9h5.5v2h-5.5zM610.3 336.9h5.5v2h-5.5zM652.8 336.9h5.5v2h-5.5zM659.9 336.9h2v2h-2zM670.6 336.9h2v2h-2zM674.1 336.9h2v2h-2zM679.5 336.9h3.7v2h-3.7zM688.3 336.9h2v2h-2zM525.1 338.6h2v2h-2zM530.4 338.6h2v2h-2zM544.6 338.6h3.7v2h-3.7zM569.4 338.6h2v2h-2zM574.8 338.6h2v2h-2zM583.6 338.6h7.3v2h-7.3zM594.3 338.6h2v2h-2zM603.2 338.6h2v2h-2zM608.5 338.6h2v2h-2zM617.4 338.6h3.7v2h-3.7zM518 340.4h3.7v2h-3.7zM533.9 340.4h2v2h-2zM537.5 340.4h2v2h-2zM544.6 340.4h2v2h-2zM555.2 340.4h5.5v2h-5.5zM562.3 340.4h2v2h-2zM574.8 340.4h2v2h-2zM580.1 340.4h3.7v2h-3.7zM585.4 340.4h3.7v2h-3.7zM597.8 340.4h3.7v2h-3.7zM604.9 340.4h3.7v2h-3.7zM613.8 340.4h2v2h-2zM652.8 340.4h3.7v2h-3.7zM659.9 340.4h3.7v2h-3.7zM672.4 340.4h2v2h-2zM693.7 340.4h2v2h-2zM697.2 340.4h2v2h-2zM514.4 342.2h2v2h-2zM521.5 342.2h5.5v2h-5.5zM530.4 342.2h2v2h-2zM535.7 342.2h2v2h-2zM539.3 342.2h2v2h-2zM549.9 342.2h2v2h-2zM555.2 342.2h2v2h-2zM562.3 342.2h10.8v2h-10.8zM574.8 342.2h10.8v2h-10.8zM587.2 342.2h5.5v2h-5.5zM601.4 342.2h7.3v2h-7.3zM610.3 342.2h5.5v2h-5.5zM617.4 342.2h2v2h-2zM652.8 342.2h2v2h-2zM659.9 342.2h2v2h-2zM670.6 342.2h3.7v2h-3.7zM677.7 342.2h3.7v2h-3.7zM697.2 342.2h3.7v2h-3.7zM514.4 344h2v2h-2zM519.7 344h2v2h-2zM523.3 344h2v2h-2zM530.4 344h2v2h-2zM542.8 344h2v2h-2zM555.2 344h2v2h-2zM564.1 344h2v2h-2zM567.7 344h2v2h-2zM571.2 344h7.3v2h-7.3zM581.9 344h2v2h-2zM585.4 344h2v2h-2zM589 344h3.7v2h-3.7zM597.8 344h2v2h-2zM610.3 344h5.5v2h-5.5zM619.1 344h3.7v2h-3.7zM652.8 344h2v2h-2zM661.7 344h2v2h-2zM670.6 344h2v2h-2zM675.9 344h3.7v2h-3.7zM681.2 344h2v2h-2zM699 344h2v2h-2zM514.4 345.8h2v2h-2zM525.1 345.8h2v2h-2zM528.6 345.8h3.7v2h-3.7zM535.7 345.8h2v2h-2zM541 345.8h2v2h-2zM544.6 345.8h7.3v2h-7.3zM567.7 345.8h5.5v2h-5.5zM585.4 345.8h3.7v2h-3.7zM615.6 345.8h2v2h-2zM619.1 345.8h2v2h-2zM521.5 347.5h2v2h-2zM535.7 347.5h2v2h-2zM541 347.5h2v2h-2zM551.7 347.5h2v2h-2zM560.6 347.5h2v2h-2zM599.6 347.5h2v2h-2zM603.2 347.5h2v2h-2zM652.8 347.5h2v2h-2zM656.4 347.5h2v2h-2zM659.9 347.5h2v2h-2zM667 347.5h2v2h-2zM688.3 347.5h2v2h-2zM521.5 349.3h2v2h-2zM525.1 349.3h2v2h-2zM530.4 349.3h2v2h-2zM546.4 349.3h2v2h-2zM549.9 349.3h2v2h-2zM553.5 349.3h2v2h-2zM558.8 349.3h2v2h-2zM565.9 349.3h5.5v2h-5.5zM574.8 349.3h2v2h-2zM581.9 349.3h9.1v2h-9.1zM601.4 349.3h3.7v2h-3.7zM608.5 349.3h5.5v2h-5.5zM617.4 349.3h3.7v2h-3.7zM672.4 349.3h2v2h-2zM679.5 349.3h2v2h-2zM528.6 351.1h2v2h-2zM535.7 351.1h2v2h-2zM541 351.1h2v2h-2zM548.1 351.1h5.5v2h-5.5zM560.6 351.1h2v2h-2zM573 351.1h3.7v2h-3.7zM583.6 351.1h7.3v2h-7.3zM594.3 351.1h3.7v2h-3.7zM617.4 351.1h2v2h-2zM519.7 352.9h2v2h-2zM526.8 352.9h2v2h-2zM542.8 352.9h3.7v2h-3.7zM589 352.9h2v2h-2zM620.9 352.9h2v2h-2zM652.8 352.9h3.7v2h-3.7zM667 352.9h2v2h-2zM670.6 352.9h2v2h-2zM677.7 352.9h2v2h-2zM681.2 352.9h2v2h-2zM688.3 352.9h3.7v2h-3.7zM693.7 352.9h2v2h-2zM697.2 352.9h3.7v2h-3.7zM519.7 354.6h2v2h-2zM523.3 354.6h3.7v2h-3.7zM528.6 354.6h3.7v2h-3.7zM533.9 354.6h3.7v2h-3.7zM542.8 354.6h2v2h-2zM548.1 354.6h2v2h-2zM558.8 354.6h3.7v2h-3.7zM565.9 354.6h3.7v2h-3.7zM573 354.6h2v2h-2zM576.5 354.6h2v2h-2zM580.1 354.6h2v2h-2zM583.6 354.6h7.3v2h-7.3zM596.1 354.6h3.7v2h-3.7zM601.4 354.6h5.5v2h-5.5zM608.5 354.6h2v2h-2zM612 354.6h3.7v2h-3.7zM619.1 354.6h2v2h-2zM652.8 354.6h3.7v2h-3.7zM659.9 354.6h2v2h-2zM672.4 354.6h2v2h-2zM677.7 354.6h2v2h-2zM681.2 354.6h2v2h-2zM690.1 354.6h2v2h-2zM514.4 356.4h2v2h-2zM521.5 356.4h5.5v2h-5.5zM530.4 356.4h2v2h-2zM539.3 356.4h2v2h-2zM548.1 356.4h2v2h-2zM557 356.4h3.7v2h-3.7zM565.9 356.4h7.3v2h-7.3zM574.8 356.4h3.7v2h-3.7zM583.6 356.4h2v2h-2zM587.2 356.4h2v2h-2zM613.8 356.4h3.7v2h-3.7zM619.1 356.4h2v2h-2zM656.4 356.4h2v2h-2zM672.4 356.4h2v2h-2zM677.7 356.4h2v2h-2zM688.3 356.4h2v2h-2zM528.6 358.2h5.5v2h-5.5zM535.7 358.2h2v2h-2zM544.6 358.2h7.3v2h-7.3zM560.6 358.2h2v2h-2zM567.7 358.2h3.7v2h-3.7zM574.8 358.2h2v2h-2zM578.3 358.2h2v2h-2zM583.6 358.2h2v2h-2zM589 358.2h2v2h-2zM608.5 358.2h2v2h-2zM615.6 358.2h5.5v2h-5.5zM525.1 360h2v2h-2zM528.6 360h2v2h-2zM537.5 360h3.7v2h-3.7zM542.8 360h3.7v2h-3.7zM549.9 360h2v2h-2zM555.2 360h2v2h-2zM558.8 360h2v2h-2zM562.3 360h10.8v2h-10.8zM574.8 360h3.7v2h-3.7zM580.1 360h5.5v2h-5.5zM587.2 360h2v2h-2zM590.7 360h2v2h-2zM594.3 360h2v2h-2zM601.4 360h3.7v2h-3.7zM612 360h2v2h-2zM652.8 360h2v2h-2zM656.4 360h2v2h-2zM688.3 360h2v2h-2zM521.5 361.7h2v2h-2zM530.4 361.7h3.7v2h-3.7zM535.7 361.7h2v2h-2zM549.9 361.7h2v2h-2zM555.2 361.7h2v2h-2zM564.1 361.7h2v2h-2zM567.7 361.7h2v2h-2zM576.5 361.7h2v2h-2zM580.1 361.7h2v2h-2zM587.2 361.7h2v2h-2zM597.8 361.7h5.5v2h-5.5zM610.3 361.7h2v2h-2zM620.9 361.7h2v2h-2zM654.6 361.7h3.7v2h-3.7zM667 361.7h2v2h-2zM670.6 361.7h2v2h-2zM674.1 361.7h2v2h-2zM677.7 361.7h2v2h-2zM697.2 361.7h3.7v2h-3.7zM518 363.5h3.7v2h-3.7zM523.3 363.5h2v2h-2zM530.4 363.5h2v2h-2zM533.9 363.5h2v2h-2zM539.3 363.5h2v2h-2zM542.8 363.5h9.1v2h-9.1zM558.8 363.5h2v2h-2zM562.3 363.5h3.7v2h-3.7zM567.7 363.5h2v2h-2zM571.2 363.5h2v2h-2zM580.1 363.5h3.7v2h-3.7zM585.4 363.5h2v2h-2zM589 363.5h3.7v2h-3.7zM597.8 363.5h2v2h-2zM601.4 363.5h2v2h-2zM604.9 363.5h3.7v2h-3.7zM610.3 363.5h2v2h-2zM613.8 363.5h2v2h-2zM617.4 363.5h2v2h-2zM620.9 363.5h2v2h-2zM659.9 363.5h2v2h-2zM667 363.5h2v2h-2zM670.6 363.5h2v2h-2zM681.2 363.5h2v2h-2zM514.4 365.3h2v2h-2zM528.6 365.3h3.7v2h-3.7zM535.7 365.3h2v2h-2zM544.6 365.3h7.3v2h-7.3zM560.6 365.3h2v2h-2zM569.4 365.3h2v2h-2zM574.8 365.3h2v2h-2zM583.6 365.3h7.3v2h-7.3zM594.3 365.3h2v2h-2zM615.6 365.3h2v2h-2zM619.1 365.3h2v2h-2zM530.4 367.1h2v2h-2zM549.9 367.1h5.5v2h-5.5zM557 367.1h2v2h-2zM569.4 367.1h2v2h-2zM574.8 367.1h2v2h-2zM583.6 367.1h7.3v2h-7.3zM608.5 367.1h2v2h-2zM619.1 367.1h2v2h-2zM519.7 368.9h3.7v2h-3.7zM528.6 368.9h3.7v2h-3.7zM537.5 368.9h2v2h-2zM555.2 368.9h2v2h-2zM560.6 368.9h5.5v2h-5.5zM569.4 368.9h2v2h-2zM589 368.9h3.7v2h-3.7zM612 368.9h2v2h-2zM617.4 368.9h2v2h-2zM620.9 368.9h2v2h-2zM656.4 368.9h2v2h-2zM659.9 368.9h2v2h-2zM674.1 368.9h3.7v2h-3.7zM679.5 368.9h2v2h-2zM690.1 368.9h2v2h-2zM518 370.6h2v2h-2zM521.5 370.6h2v2h-2zM525.1 370.6h2v2h-2zM576.5 370.6h2v2h-2zM581.9 370.6h2v2h-2zM590.7 370.6h2v2h-2zM599.6 370.6h2v2h-2zM654.6 370.6h2v2h-2zM667 370.6h2v2h-2zM670.6 370.6h2v2h-2zM679.5 370.6h2v2h-2zM688.3 370.6h2v2h-2zM659.9 372.4h3.7v2h-3.7zM667 372.4h2v2h-2zM675.9 372.4h3.7v2h-3.7zM688.3 372.4h2v2h-2z" fill="#ffffb8"/>
<path d="M525.1 141.4h2v2h-2zM528.6 141.4h2v2h-2zM535.7 141.4h2v2h-2zM539.3 141.4h2v2h-2zM558.8 141.4h2v2h-2zM569.4 141.4h2v2h-2zM578.3 141.4h2v2h-2zM525.1 143.1h2v2h-2zM528.6 143.1h2v2h-2zM544.6 143.1h2v2h-2zM548.1 143.1h2v2h-2zM551.7 143.1h2v2h-2zM569.4 143.1h3.7v2h-3.7zM576.5 143.1h2v2h-2zM583.6 143.1h3.7v2h-3.7zM558.8 144.9h2v2h-2zM565.9 144.9h2v2h-2zM571.2 144.9h2v2h-2zM601.4 146.7h5.5v2h-5.5zM613.8 146.7h2v2h-2zM668.8 146.7h2v2h-2zM686.6 146.7h2v2h-2zM695.4 146.7h2v2h-2zM706.1 146.7h2v2h-2zM709.6 146.7h2v2h-2zM715 146.7h2v2h-2zM718.5 146.7h2v2h-2zM729.2 146.7h2v2h-2zM732.7 146.7h2v2h-2zM525.1 148.5h3.7v2h-3.7zM530.4 148.5h3.7v2h-3.7zM535.7 148.5h2v2h-2zM548.1 148.5h3.7v2h-3.7zM557 148.5h2v2h-2zM560.6 148.5h2v2h-2zM569.4 148.5h2v2h-2zM574.8 148.5h2v2h-2zM578.3 148.5h2v2h-2zM587.2 148.5h3.7v2h-3.7zM606.7 148.5h2v2h-2zM613.8 148.5h2v2h-2zM658.2 148.5h2v2h-2zM663.5 148.5h2v2h-2zM668.8 148.5h2v2h-2zM683 148.5h5.5v2h-5.5zM691.9 148.5h2v2h-2zM700.8 148.5h5.5v2h-5.5zM711.4 148.5h2v2h-2zM718.5 148.5h2v2h-2zM723.8 148.5h2v2h-2zM727.4 148.5h2v2h-2zM730.9 148.5h3.7v2h-3.7zM739.8 148.5h2v2h-2zM601.4 150.2h5.5v2h-5.5zM610.3 150.2h3.7v2h-3.7zM658.2 150.2h2v2h-2zM663.5 150.2h2v2h-2zM668.8 150.2h2v2h-2zM683 150.2h2v2h-2zM695.4 150.2h2v2h-2zM702.5 150.2h2v2h-2zM706.1 150.2h2v2h-2zM709.6 150.2h3.7v2h-3.7zM722.1 150.2h2v2h-2zM730.9 150.2h3.7v2h-3.7zM514.4 152h3.7v2h-3.7zM521.5 152h2v2h-2zM535.7 152h2v2h-2zM544.6 152h3.7v2h-3.7zM567.7 152h5.5v2h-5.5zM597.8 152h2v2h-2zM606.7 152h2v2h-2zM610.3 152h2v2h-2zM658.2 152h2v2h-2zM665.3 152h2v2h-2zM668.8 152h2v2h-2zM684.8 152h2v2h-2zM691.9 152h2v2h-2zM723.8 152h2v2h-2zM730.9 152h2v2h-2zM738 152h3.7v2h-3.7zM521.5 153.8h2v2h-2zM532.2 153.8h2v2h-2zM544.6 153.8h3.7v2h-3.7zM549.9 153.8h2v2h-2zM557 153.8h2v2h-2zM565.9 153.8h2v2h-2zM583.6 153.8h2v2h-2zM514.4 155.6h3.7v2h-3.7zM530.4 155.6h2v2h-2zM539.3 155.6h2v2h-2zM553.5 155.6h2v2h-2zM557 155.6h3.7v2h-3.7zM565.9 155.6h3.7v2h-3.7zM571.2 155.6h3.7v2h-3.7zM585.4 155.6h2v2h-2zM599.6 155.6h2v2h-2zM521.5 157.4h2v2h-2zM528.6 157.4h2v2h-2zM532.2 157.4h2v2h-2zM560.6 157.4h2v2h-2zM571.2 157.4h2v2h-2zM574.8 157.4h2v2h-2zM599.6 157.4h2v2h-2zM613.8 157.4h2v2h-2zM620.9 157.4h2v2h-2zM684.8 157.4h2v2h-2zM691.9 157.4h2v2h-2zM704.3 157.4h2v2h-2zM723.8 157.4h2v2h-2zM521.5 159.1h2v2h-2zM526.8 159.1h2v2h-2zM530.4 159.1h3.7v2h-3.7zM535.7 159.1h3.7v2h-3.7zM544.6 159.1h3.7v2h-3.7zM565.9 159.1h2v2h-2zM578.3 159.1h2v2h-2zM603.2 160.9h3.7v2h-3.7zM652.8 160.9h2v2h-2zM665.3 160.9h2v2h-2zM668.8 160.9h2v2h-2zM686.6 160.9h2v2h-2zM695.4 160.9h2v2h-2zM709.6 160.9h3.7v2h-3.7zM715 160.9h2v2h-2zM722.1 160.9h2v2h-2zM729.2 160.9h5.5v2h-5.5zM514.4 162.7h2v2h-2zM521.5 162.7h2v2h-2zM525.1 162.7h2v2h-2zM532.2 162.7h2v2h-2zM541 162.7h2v2h-2zM549.9 162.7h3.7v2h-3.7zM558.8 162.7h2v2h-2zM571.2 162.7h2v2h-2zM587.2 162.7h3.7v2h-3.7zM532.2 164.5h2v2h-2zM548.1 164.5h2v2h-2zM567.7 164.5h3.7v2h-3.7zM514.4 166.2h2v2h-2zM528.6 166.2h2v2h-2zM548.1 166.2h2v2h-2zM597.8 166.2h2v2h-2zM606.7 166.2h2v2h-2zM610.3 166.2h5.5v2h-5.5zM658.2 166.2h2v2h-2zM663.5 166.2h3.7v2h-3.7zM683 166.2h2v2h-2zM711.4 166.2h2v2h-2zM718.5 166.2h2v2h-2zM722.1 166.2h3.7v2h-3.7zM727.4 166.2h2v2h-2zM535.7 168h2v2h-2zM548.1 168h2v2h-2zM567.7 168h2v2h-2zM571.2 168h2v2h-2zM587.2 168h2v2h-2zM603.2 169.8h3.7v2h-3.7zM612 169.8h3.7v2h-3.7zM665.3 169.8h2v2h-2zM693.7 169.8h3.7v2h-3.7zM702.5 169.8h2v2h-2zM706.1 169.8h2v2h-2zM709.6 169.8h3.7v2h-3.7zM715 169.8h2v2h-2zM718.5 169.8h2v2h-2zM722.1 169.8h2v2h-2zM729.2 169.8h2v2h-2zM516.2 171.6h2v2h-2zM525.1 171.6h3.7v2h-3.7zM532.2 171.6h2v2h-2zM551.7 171.6h3.7v2h-3.7zM557 171.6h3.7v2h-3.7zM567.7 171.6h2v2h-2zM571.2 171.6h2v2h-2zM574.8 171.6h2v2h-2zM589 171.6h2v2h-2zM620.9 171.6h2v2h-2zM684.8 171.6h2v2h-2zM723.8 171.6h2v2h-2zM739.8 171.6h2v2h-2zM525.1 173.4h3.7v2h-3.7zM532.2 173.4h2v2h-2zM549.9 173.4h3.7v2h-3.7zM567.7 173.4h2v2h-2zM571.2 173.4h2v2h-2zM574.8 173.4h2v2h-2zM599.6 173.4h2v2h-2zM606.7 173.4h2v2h-2zM610.3 173.4h2v2h-2zM613.8 173.4h2v2h-2zM620.9 173.4h2v2h-2zM663.5 173.4h2v2h-2zM684.8 173.4h3.7v2h-3.7zM702.5 173.4h2v2h-2zM723.8 173.4h2v2h-2zM739.8 173.4h2v2h-2zM516.2 175.1h2v2h-2zM521.5 175.1h2v2h-2zM537.5 175.1h5.5v2h-5.5zM549.9 175.1h2v2h-2zM558.8 175.1h2v2h-2zM565.9 175.1h3.7v2h-3.7zM571.2 175.1h2v2h-2zM521.5 176.9h2v2h-2zM526.8 176.9h2v2h-2zM535.7 176.9h2v2h-2zM546.4 176.9h5.5v2h-5.5zM585.4 176.9h2v2h-2zM683 176.9h2v2h-2zM691.9 176.9h2v2h-2zM711.4 176.9h2v2h-2zM516.2 178.7h2v2h-2zM535.7 178.7h2v2h-2zM544.6 178.7h3.7v2h-3.7zM553.5 178.7h2v2h-2zM565.9 178.7h5.5v2h-5.5zM585.4 178.7h2v2h-2zM528.6 180.5h2v2h-2zM544.6 180.5h2v2h-2zM551.7 180.5h2v2h-2zM558.8 180.5h2v2h-2zM565.9 180.5h3.7v2h-3.7zM573 180.5h2v2h-2zM597.8 182.2h2v2h-2zM603.2 182.2h3.7v2h-3.7zM612 182.2h3.7v2h-3.7zM663.5 182.2h3.7v2h-3.7zM668.8 182.2h2v2h-2zM686.6 182.2h2v2h-2zM695.4 182.2h2v2h-2zM700.8 182.2h7.3v2h-7.3zM718.5 182.2h2v2h-2zM722.1 182.2h2v2h-2zM727.4 182.2h3.7v2h-3.7zM521.5 184h2v2h-2zM526.8 184h3.7v2h-3.7zM544.6 184h2v2h-2zM571.2 184h2v2h-2zM578.3 184h2v2h-2zM587.2 184h2v2h-2zM514.4 185.8h2v2h-2zM518 185.8h2v2h-2zM528.6 185.8h2v2h-2zM535.7 185.8h2v2h-2zM544.6 185.8h2v2h-2zM548.1 185.8h2v2h-2zM553.5 185.8h2v2h-2zM573 185.8h3.7v2h-3.7zM578.3 185.8h2v2h-2zM585.4 185.8h3.7v2h-3.7zM597.8 185.8h2v2h-2zM601.4 185.8h5.5v2h-5.5zM610.3 185.8h5.5v2h-5.5zM658.2 185.8h2v2h-2zM663.5 185.8h3.7v2h-3.7zM668.8 185.8h2v2h-2zM683 185.8h3.7v2h-3.7zM700.8 185.8h7.3v2h-7.3zM709.6 185.8h3.7v2h-3.7zM715 185.8h2v2h-2zM718.5 185.8h2v2h-2zM739.8 185.8h2v2h-2zM521.5 187.6h2v2h-2zM530.4 187.6h2v2h-2zM565.9 187.6h3.7v2h-3.7zM574.8 187.6h2v2h-2zM601.4 189.3h2v2h-2zM604.9 189.3h2v2h-2zM612 189.3h3.7v2h-3.7zM665.3 189.3h3.7v2h-3.7zM686.6 189.3h3.7v2h-3.7zM693.7 189.3h3.7v2h-3.7zM722.1 189.3h2v2h-2zM727.4 189.3h3.7v2h-3.7zM601.4 191.1h5.5v2h-5.5zM610.3 191.1h3.7v2h-3.7zM658.2 191.1h2v2h-2zM665.3 191.1h5.5v2h-5.5zM686.6 191.1h2v2h-2zM695.4 191.1h2v2h-2zM700.8 191.1h3.7v2h-3.7zM718.5 191.1h2v2h-2zM722.1 191.1h2v2h-2zM727.4 191.1h3.7v2h-3.7zM518 192.9h2v2h-2zM526.8 192.9h3.7v2h-3.7zM532.2 192.9h2v2h-2zM548.1 192.9h2v2h-2zM551.7 192.9h3.7v2h-3.7zM560.6 192.9h2v2h-2zM597.8 192.9h2v2h-2zM603.2 192.9h3.7v2h-3.7zM610.3 192.9h2v2h-2zM613.8 192.9h2v2h-2zM658.2 192.9h2v2h-2zM684.8 192.9h2v2h-2zM691.9 192.9h2v2h-2zM695.4 192.9h2v2h-2zM700.8 192.9h5.5v2h-5.5zM711.4 192.9h2v2h-2zM718.5 192.9h2v2h-2zM723.8 192.9h2v2h-2zM730.9 192.9h2v2h-2zM738 192.9h3.7v2h-3.7zM525.1 194.7h2v2h-2zM528.6 194.7h2v2h-2zM537.5 194.7h2v2h-2zM541 194.7h2v2h-2zM544.6 194.7h5.5v2h-5.5zM551.7 194.7h3.7v2h-3.7zM560.6 194.7h2v2h-2zM597.8 194.7h2v2h-2zM601.4 194.7h5.5v2h-5.5zM610.3 194.7h2v2h-2zM613.8 194.7h2v2h-2zM658.2 194.7h2v2h-2zM663.5 194.7h2v2h-2zM668.8 194.7h2v2h-2zM683 194.7h5.5v2h-5.5zM691.9 194.7h2v2h-2zM695.4 194.7h2v2h-2zM700.8 194.7h2v2h-2zM704.3 194.7h3.7v2h-3.7zM709.6 194.7h2v2h-2zM738 194.7h3.7v2h-3.7zM514.4 196.5h3.7v2h-3.7zM521.5 196.5h2v2h-2zM525.1 196.5h2v2h-2zM537.5 196.5h2v2h-2zM551.7 196.5h2v2h-2zM573 196.5h2v2h-2zM597.8 196.5h3.7v2h-3.7zM604.9 196.5h3.7v2h-3.7zM620.9 196.5h2v2h-2zM683 196.5h3.7v2h-3.7zM702.5 196.5h3.7v2h-3.7zM723.8 196.5h2v2h-2zM516.2 198.2h3.7v2h-3.7zM525.1 198.2h2v2h-2zM528.6 198.2h3.7v2h-3.7zM535.7 198.2h2v2h-2zM541 198.2h2v2h-2zM544.6 198.2h5.5v2h-5.5zM557 198.2h2v2h-2zM597.8 198.2h2v2h-2zM606.7 198.2h2v2h-2zM610.3 198.2h2v2h-2zM658.2 198.2h2v2h-2zM665.3 198.2h2v2h-2zM683 198.2h2v2h-2zM702.5 198.2h3.7v2h-3.7zM711.4 198.2h2v2h-2zM722.1 198.2h3.7v2h-3.7zM727.4 198.2h2v2h-2zM730.9 198.2h2v2h-2zM739.8 198.2h2v2h-2zM528.6 200h2v2h-2zM553.5 200h2v2h-2zM558.8 200h2v2h-2zM569.4 200h2v2h-2zM521.5 201.8h2v2h-2zM530.4 201.8h2v2h-2zM544.6 201.8h3.7v2h-3.7zM558.8 201.8h3.7v2h-3.7zM606.7 201.8h2v2h-2zM516.2 203.6h2v2h-2zM601.4 203.6h2v2h-2zM604.9 203.6h2v2h-2zM610.3 203.6h2v2h-2zM613.8 203.6h2v2h-2zM658.2 203.6h2v2h-2zM663.5 203.6h3.7v2h-3.7zM668.8 203.6h2v2h-2zM683 203.6h5.5v2h-5.5zM691.9 203.6h2v2h-2zM695.4 203.6h2v2h-2zM700.8 203.6h3.7v2h-3.7zM718.5 203.6h2v2h-2zM722.1 203.6h3.7v2h-3.7zM730.9 203.6h2v2h-2zM738 203.6h2v2h-2zM514.4 205.3h2v2h-2zM521.5 205.3h2v2h-2zM532.2 205.3h2v2h-2zM557 205.3h3.7v2h-3.7zM601.4 207.1h5.5v2h-5.5zM610.3 207.1h3.7v2h-3.7zM652.8 207.1h2v2h-2zM683 207.1h2v2h-2zM688.3 207.1h2v2h-2zM693.7 207.1h3.7v2h-3.7zM700.8 207.1h2v2h-2zM704.3 207.1h3.7v2h-3.7zM709.6 207.1h2v2h-2zM722.1 207.1h2v2h-2zM729.2 207.1h3.7v2h-3.7zM739.8 207.1h2v2h-2zM597.8 208.9h2v2h-2zM601.4 208.9h3.7v2h-3.7zM610.3 208.9h3.7v2h-3.7zM663.5 208.9h2v2h-2zM667 208.9h3.7v2h-3.7zM686.6 208.9h2v2h-2zM695.4 208.9h2v2h-2zM700.8 208.9h3.7v2h-3.7zM706.1 208.9h2v2h-2zM711.4 208.9h2v2h-2zM718.5 208.9h2v2h-2zM727.4 208.9h5.5v2h-5.5zM738 208.9h2v2h-2zM516.2 210.7h2v2h-2zM526.8 210.7h2v2h-2zM516.2 212.5h2v2h-2zM528.6 212.5h2v2h-2zM549.9 212.5h3.7v2h-3.7zM558.8 212.5h2v2h-2zM521.5 214.2h2v2h-2zM535.7 214.2h2v2h-2zM541 214.2h2v2h-2zM557 214.2h3.7v2h-3.7zM658.2 214.2h2v2h-2zM521.5 216h2v2h-2zM535.7 216h2v2h-2zM544.6 216h2v2h-2zM601.4 217.8h5.5v2h-5.5zM612 217.8h2v2h-2zM665.3 217.8h2v2h-2zM686.6 217.8h2v2h-2zM695.4 217.8h2v2h-2zM700.8 217.8h2v2h-2zM706.1 217.8h2v2h-2zM709.6 217.8h3.7v2h-3.7zM718.5 217.8h2v2h-2zM722.1 217.8h2v2h-2zM727.4 217.8h3.7v2h-3.7zM603.2 221.3h2v2h-2zM608.5 221.3h2v2h-2zM601.4 223.1h7.3v2h-7.3zM612 223.1h2v2h-2zM525.1 224.9h2v2h-2zM539.3 224.9h2v2h-2zM555.2 224.9h2v2h-2zM558.8 224.9h2v2h-2zM565.9 224.9h7.3v2h-7.3zM581.9 224.9h2v2h-2zM599.6 224.9h3.7v2h-3.7zM608.5 224.9h3.7v2h-3.7zM624.4 224.9h2v2h-2zM638.6 224.9h2v2h-2zM652.8 224.9h2v2h-2zM665.3 224.9h3.7v2h-3.7zM693.7 224.9h2v2h-2zM706.1 224.9h2v2h-2zM709.6 224.9h2v2h-2zM715 224.9h2v2h-2zM722.1 224.9h2v2h-2zM732.7 224.9h2v2h-2zM528.6 226.7h3.7v2h-3.7zM546.4 226.7h2v2h-2zM569.4 226.7h2v2h-2zM597.8 226.7h2v2h-2zM606.7 226.7h2v2h-2zM610.3 226.7h2v2h-2zM644 226.7h2v2h-2zM675.9 226.7h2v2h-2zM681.2 226.7h2v2h-2zM688.3 226.7h2v2h-2zM707.9 226.7h2v2h-2zM736.3 226.7h2v2h-2zM519.7 228.4h2v2h-2zM523.3 228.4h2v2h-2zM558.8 228.4h2v2h-2zM562.3 228.4h3.7v2h-3.7zM567.7 228.4h2v2h-2zM576.5 228.4h2v2h-2zM580.1 228.4h3.7v2h-3.7zM590.7 228.4h2v2h-2zM596.1 228.4h3.7v2h-3.7zM631.5 228.4h2v2h-2zM636.9 228.4h2v2h-2zM640.4 228.4h3.7v2h-3.7zM647.5 228.4h2v2h-2zM658.2 228.4h2v2h-2zM663.5 228.4h3.7v2h-3.7zM668.8 228.4h2v2h-2zM683 228.4h5.5v2h-5.5zM691.9 228.4h2v2h-2zM700.8 228.4h2v2h-2zM704.3 228.4h2v2h-2zM711.4 228.4h2v2h-2zM718.5 228.4h2v2h-2zM723.8 228.4h2v2h-2zM729.2 228.4h3.7v2h-3.7zM738 228.4h2v2h-2zM519.7 230.2h2v2h-2zM523.3 230.2h2v2h-2zM533.9 230.2h2v2h-2zM542.8 230.2h2v2h-2zM555.2 230.2h2v2h-2zM558.8 230.2h2v2h-2zM564.1 230.2h5.5v2h-5.5zM580.1 230.2h3.7v2h-3.7zM590.7 230.2h2v2h-2zM594.3 230.2h3.7v2h-3.7zM633.3 230.2h2v2h-2zM636.9 230.2h2v2h-2zM640.4 230.2h3.7v2h-3.7zM647.5 230.2h2v2h-2zM651.1 230.2h2v2h-2zM658.2 230.2h2v2h-2zM668.8 230.2h2v2h-2zM683 230.2h5.5v2h-5.5zM691.9 230.2h2v2h-2zM695.4 230.2h2v2h-2zM700.8 230.2h7.3v2h-7.3zM718.5 230.2h2v2h-2zM723.8 230.2h2v2h-2zM729.2 230.2h3.7v2h-3.7zM738 230.2h3.7v2h-3.7zM519.7 232h2v2h-2zM523.3 232h2v2h-2zM533.9 232h2v2h-2zM542.8 232h2v2h-2zM555.2 232h2v2h-2zM558.8 232h2v2h-2zM562.3 232h9.1v2h-9.1zM576.5 232h2v2h-2zM580.1 232h2v2h-2zM590.7 232h2v2h-2zM596.1 232h2v2h-2zM631.5 232h3.7v2h-3.7zM640.4 232h2v2h-2zM658.2 232h2v2h-2zM663.5 232h3.7v2h-3.7zM668.8 232h2v2h-2zM683 232h2v2h-2zM686.6 232h2v2h-2zM691.9 232h5.5v2h-5.5zM700.8 232h5.5v2h-5.5zM718.5 232h2v2h-2zM722.1 232h2v2h-2zM729.2 232h5.5v2h-5.5zM738 232h2v2h-2zM521.5 233.8h2v2h-2zM525.1 233.8h2v2h-2zM539.3 233.8h2v2h-2zM546.4 233.8h2v2h-2zM569.4 233.8h3.7v2h-3.7zM574.8 233.8h2v2h-2zM596.1 233.8h2v2h-2zM599.6 233.8h2v2h-2zM608.5 233.8h2v2h-2zM649.3 233.8h2v2h-2zM654.6 233.8h2v2h-2zM667 233.8h2v2h-2zM675.9 233.8h2v2h-2zM693.7 233.8h2v2h-2zM706.1 233.8h2v2h-2zM709.6 233.8h2v2h-2zM727.4 233.8h3.7v2h-3.7zM732.7 233.8h2v2h-2zM594.3 235.6h2v2h-2zM597.8 235.6h2v2h-2zM606.7 235.6h2v2h-2zM523.3 237.3h3.7v2h-3.7zM539.3 237.3h2v2h-2zM546.4 237.3h2v2h-2zM558.8 237.3h2v2h-2zM564.1 237.3h5.5v2h-5.5zM571.2 237.3h2v2h-2zM576.5 237.3h2v2h-2zM580.1 237.3h3.7v2h-3.7zM597.8 237.3h3.7v2h-3.7zM636.9 237.3h2v2h-2zM651.1 237.3h2v2h-2zM663.5 237.3h3.7v2h-3.7zM686.6 237.3h2v2h-2zM695.4 237.3h2v2h-2zM702.5 237.3h5.5v2h-5.5zM718.5 237.3h2v2h-2zM727.4 237.3h3.7v2h-3.7zM732.7 237.3h2v2h-2zM523.3 239.1h2v2h-2zM539.3 239.1h2v2h-2zM542.8 239.1h2v2h-2zM555.2 239.1h2v2h-2zM558.8 239.1h2v2h-2zM562.3 239.1h3.7v2h-3.7zM580.1 239.1h3.7v2h-3.7zM590.7 239.1h2v2h-2zM596.1 239.1h2v2h-2zM624.4 239.1h2v2h-2zM631.5 239.1h3.7v2h-3.7zM636.9 239.1h7.3v2h-7.3zM645.7 239.1h2v2h-2zM651.1 239.1h2v2h-2zM665.3 239.1h2v2h-2zM668.8 239.1h2v2h-2zM683 239.1h2v2h-2zM686.6 239.1h2v2h-2zM700.8 239.1h3.7v2h-3.7zM711.4 239.1h2v2h-2zM718.5 239.1h2v2h-2zM729.2 239.1h3.7v2h-3.7zM739.8 239.1h2v2h-2zM519.7 240.9h3.7v2h-3.7zM530.4 240.9h2v2h-2zM539.3 240.9h2v2h-2zM542.8 240.9h2v2h-2zM546.4 240.9h2v2h-2zM555.2 240.9h2v2h-2zM558.8 240.9h2v2h-2zM562.3 240.9h2v2h-2zM565.9 240.9h3.7v2h-3.7zM576.5 240.9h2v2h-2zM624.4 240.9h2v2h-2zM633.3 240.9h2v2h-2zM636.9 240.9h2v2h-2zM665.3 240.9h2v2h-2zM668.8 240.9h2v2h-2zM686.6 240.9h2v2h-2zM695.4 240.9h2v2h-2zM702.5 240.9h2v2h-2zM706.1 240.9h2v2h-2zM718.5 240.9h2v2h-2zM722.1 240.9h2v2h-2zM732.7 240.9h2v2h-2zM645.7 246.2h2v2h-2zM663.5 246.2h2v2h-2zM668.8 246.2h2v2h-2zM684.8 246.2h2v2h-2zM723.8 246.2h2v2h-2zM530.4 248h2v2h-2zM544.6 248h3.7v2h-3.7zM569.4 248h2v2h-2zM635.1 248h2v2h-2zM644 248h2v2h-2zM667 248h2v2h-2zM675.9 248h2v2h-2zM688.3 248h2v2h-2zM693.7 248h2v2h-2zM706.1 248h3.7v2h-3.7zM713.2 248h3.7v2h-3.7zM597.8 251.6h2v2h-2zM612 251.6h3.7v2h-3.7zM601.4 258.7h2v2h-2zM604.9 258.7h2v2h-2zM612 258.7h2v2h-2zM603.2 260.4h3.7v2h-3.7zM612 260.4h3.7v2h-3.7zM620.9 262.2h2v2h-2zM601.4 264h3.7v2h-3.7zM610.3 264h5.5v2h-5.5zM597.8 265.8h2v2h-2zM612 265.8h2v2h-2zM601.4 267.6h5.5v2h-5.5zM612 267.6h2v2h-2zM601.4 269.3h3.7v2h-3.7zM612 269.3h2v2h-2zM599.6 271.1h2v2h-2zM620.9 271.1h2v2h-2zM612 272.9h2v2h-2zM619.1 272.9h2v2h-2zM601.4 274.7h3.7v2h-3.7zM606.7 276.4h2v2h-2zM603.2 278.2h2v2h-2zM610.3 278.2h3.7v2h-3.7zM533.9 280h2v2h-2zM580.1 280h2v2h-2zM597.8 280h2v2h-2zM681.2 280h2v2h-2zM686.6 280h2v2h-2zM707.9 280h2v2h-2zM734.5 280h3.7v2h-3.7zM745.1 280h2v2h-2zM606.7 281.8h2v2h-2zM679.5 281.8h2v2h-2zM688.3 281.8h3.7v2h-3.7zM729.2 281.8h2v2h-2zM732.7 281.8h2v2h-2zM741.6 281.8h2v2h-2zM697.2 283.5h2v2h-2zM715 283.5h2v2h-2zM722.1 283.5h2v2h-2zM727.4 283.5h2v2h-2zM736.3 283.5h2v2h-2zM521.5 285.3h5.5v2h-5.5zM539.3 285.3h2v2h-2zM558.8 285.3h2v2h-2zM564.1 285.3h5.5v2h-5.5zM571.2 285.3h2v2h-2zM576.5 285.3h2v2h-2zM587.2 285.3h2v2h-2zM601.4 285.3h5.5v2h-5.5zM686.6 287.1h2v2h-2zM693.7 287.1h2v2h-2zM707.9 287.1h2v2h-2zM722.1 287.1h2v2h-2zM725.6 287.1h2v2h-2zM729.2 287.1h2v2h-2zM693.7 288.9h2v2h-2zM706.1 288.9h2v2h-2zM709.6 288.9h2v2h-2zM720.3 288.9h2v2h-2zM727.4 288.9h3.7v2h-3.7zM732.7 288.9h3.7v2h-3.7zM521.5 290.7h3.7v2h-3.7zM539.3 290.7h2v2h-2zM546.4 290.7h2v2h-2zM555.2 290.7h2v2h-2zM558.8 290.7h2v2h-2zM567.7 290.7h2v2h-2zM576.5 290.7h2v2h-2zM581.9 290.7h2v2h-2zM601.4 290.7h2v2h-2zM604.9 290.7h2v2h-2zM610.3 290.7h2v2h-2zM619.1 290.7h2v2h-2zM525.1 292.4h2v2h-2zM533.9 292.4h2v2h-2zM539.3 292.4h2v2h-2zM542.8 292.4h2v2h-2zM555.2 292.4h2v2h-2zM558.8 292.4h2v2h-2zM562.3 292.4h3.7v2h-3.7zM571.2 292.4h2v2h-2zM576.5 292.4h2v2h-2zM590.7 292.4h2v2h-2zM597.8 292.4h2v2h-2zM601.4 292.4h2v2h-2zM604.9 292.4h2v2h-2zM610.3 292.4h5.5v2h-5.5zM675.9 292.4h2v2h-2zM681.2 292.4h2v2h-2zM688.3 292.4h2v2h-2zM716.7 292.4h2v2h-2zM732.7 292.4h2v2h-2zM745.1 292.4h2v2h-2zM562.3 294.2h3.7v2h-3.7zM581.9 294.2h2v2h-2zM597.8 294.2h2v2h-2zM606.7 294.2h2v2h-2zM620.9 294.2h2v2h-2zM675.9 294.2h2v2h-2zM679.5 294.2h2v2h-2zM686.6 294.2h2v2h-2zM690.1 294.2h2v2h-2zM707.9 294.2h2v2h-2zM716.7 294.2h2v2h-2zM722.1 294.2h2v2h-2zM732.7 294.2h2v2h-2zM741.6 294.2h2v2h-2zM519.7 296h7.3v2h-7.3zM533.9 296h2v2h-2zM555.2 296h2v2h-2zM558.8 296h2v2h-2zM564.1 296h2v2h-2zM567.7 296h2v2h-2zM576.5 296h2v2h-2zM581.9 296h2v2h-2zM601.4 296h5.5v2h-5.5zM612 296h3.7v2h-3.7zM619.1 296h2v2h-2zM677.7 297.8h2v2h-2zM681.2 297.8h2v2h-2zM713.2 297.8h2v2h-2zM722.1 297.8h2v2h-2zM729.2 297.8h2v2h-2zM732.7 297.8h2v2h-2zM745.1 297.8h2v2h-2zM679.5 299.5h2v2h-2zM695.4 299.5h2v2h-2zM699 299.5h2v2h-2zM706.1 299.5h2v2h-2zM709.6 299.5h2v2h-2zM695.4 301.3h2v2h-2zM713.2 301.3h3.7v2h-3.7zM727.4 301.3h3.7v2h-3.7zM599.6 303.1h2v2h-2zM606.7 303.1h2v2h-2zM620.9 303.1h2v2h-2zM665.3 303.1h3.7v2h-3.7zM686.6 303.1h2v2h-2zM709.6 303.1h2v2h-2zM729.2 303.1h2v2h-2zM670.6 304.9h2v2h-2zM707.9 304.9h2v2h-2zM713.2 304.9h2v2h-2zM654.6 306.7h2v2h-2zM667 306.7h2v2h-2zM672.4 306.7h2v2h-2zM688.3 306.7h2v2h-2zM699 306.7h2v2h-2zM707.9 306.7h2v2h-2zM713.2 306.7h2v2h-2zM718.5 306.7h2v2h-2zM727.4 306.7h3.7v2h-3.7zM745.1 306.7h2v2h-2zM599.6 308.4h2v2h-2zM652.8 308.4h2v2h-2zM665.3 308.4h2v2h-2zM670.6 308.4h2v2h-2zM695.4 308.4h2v2h-2zM720.3 308.4h2v2h-2zM734.5 308.4h2v2h-2zM743.4 308.4h3.7v2h-3.7zM521.5 310.2h3.7v2h-3.7zM539.3 310.2h2v2h-2zM549.9 310.2h2v2h-2zM558.8 310.2h2v2h-2zM567.7 310.2h5.5v2h-5.5zM576.5 310.2h2v2h-2zM580.1 310.2h2v2h-2zM601.4 310.2h5.5v2h-5.5zM612 310.2h2v2h-2zM521.5 312h2v2h-2zM525.1 312h2v2h-2zM530.4 312h2v2h-2zM544.6 312h3.7v2h-3.7zM558.8 312h2v2h-2zM565.9 312h5.5v2h-5.5zM576.5 312h2v2h-2zM601.4 312h3.7v2h-3.7zM619.1 312h2v2h-2zM519.7 313.8h3.7v2h-3.7zM533.9 313.8h2v2h-2zM546.4 313.8h2v2h-2zM555.2 313.8h2v2h-2zM562.3 313.8h3.7v2h-3.7zM567.7 313.8h2v2h-2zM576.5 313.8h2v2h-2zM581.9 313.8h2v2h-2zM590.7 313.8h2v2h-2zM601.4 313.8h5.5v2h-5.5zM610.3 313.8h5.5v2h-5.5zM652.8 313.8h2v2h-2zM659.9 313.8h2v2h-2zM667 313.8h2v2h-2zM675.9 313.8h2v2h-2zM690.1 313.8h2v2h-2zM695.4 313.8h2v2h-2zM699 313.8h2v2h-2zM709.6 313.8h2v2h-2zM713.2 313.8h3.7v2h-3.7zM722.1 313.8h2v2h-2zM725.6 313.8h2v2h-2zM736.3 313.8h2v2h-2zM562.3 315.5h2v2h-2zM580.1 315.5h2v2h-2zM599.6 315.5h2v2h-2zM620.9 315.5h2v2h-2zM654.6 315.5h2v2h-2zM665.3 315.5h2v2h-2zM679.5 315.5h2v2h-2zM695.4 315.5h2v2h-2zM699 315.5h2v2h-2zM727.4 315.5h2v2h-2zM736.3 315.5h2v2h-2zM654.6 317.3h2v2h-2zM667 317.3h2v2h-2zM686.6 317.3h2v2h-2zM695.4 317.3h3.7v2h-3.7zM706.1 317.3h2v2h-2zM709.6 317.3h2v2h-2zM722.1 317.3h2v2h-2zM729.2 317.3h2v2h-2zM736.3 317.3h2v2h-2zM521.5 319.1h2v2h-2zM525.1 319.1h2v2h-2zM530.4 319.1h2v2h-2zM549.9 319.1h2v2h-2zM565.9 319.1h3.7v2h-3.7zM576.5 319.1h2v2h-2zM601.4 319.1h5.5v2h-5.5zM542.8 320.9h2v2h-2zM562.3 320.9h2v2h-2zM580.1 320.9h2v2h-2zM597.8 320.9h2v2h-2zM604.9 320.9h3.7v2h-3.7zM620.9 320.9h2v2h-2zM659.9 320.9h3.7v2h-3.7zM697.2 320.9h2v2h-2zM709.6 320.9h2v2h-2zM715 320.9h3.7v2h-3.7zM720.3 320.9h2v2h-2zM519.7 322.6h2v2h-2zM523.3 322.6h2v2h-2zM533.9 322.6h2v2h-2zM542.8 322.6h2v2h-2zM555.2 322.6h2v2h-2zM562.3 322.6h7.3v2h-7.3zM576.5 322.6h2v2h-2zM580.1 322.6h3.7v2h-3.7zM590.7 322.6h2v2h-2zM603.2 322.6h3.7v2h-3.7zM610.3 322.6h2v2h-2zM613.8 322.6h2v2h-2zM672.4 322.6h3.7v2h-3.7zM681.2 322.6h2v2h-2zM686.6 322.6h5.5v2h-5.5zM720.3 322.6h2v2h-2zM656.4 324.4h2v2h-2zM690.1 324.4h2v2h-2zM693.7 324.4h2v2h-2zM707.9 324.4h3.7v2h-3.7zM722.1 324.4h2v2h-2zM727.4 324.4h2v2h-2zM736.3 324.4h2v2h-2zM745.1 324.4h2v2h-2zM672.4 326.2h2v2h-2zM679.5 326.2h2v2h-2zM686.6 326.2h3.7v2h-3.7zM720.3 326.2h2v2h-2zM736.3 326.2h2v2h-2zM741.6 326.2h2v2h-2zM521.5 328h2v2h-2zM555.2 328h2v2h-2zM558.8 328h2v2h-2zM564.1 328h5.5v2h-5.5zM576.5 328h2v2h-2zM580.1 328h3.7v2h-3.7zM590.7 328h2v2h-2zM601.4 328h5.5v2h-5.5zM612 328h2v2h-2zM521.5 329.8h3.7v2h-3.7zM542.8 329.8h2v2h-2zM546.4 329.8h2v2h-2zM555.2 329.8h2v2h-2zM558.8 329.8h2v2h-2zM564.1 329.8h3.7v2h-3.7zM569.4 329.8h3.7v2h-3.7zM576.5 329.8h2v2h-2zM581.9 329.8h2v2h-2zM603.2 329.8h3.7v2h-3.7zM610.3 329.8h5.5v2h-5.5zM521.5 331.5h2v2h-2zM530.4 331.5h2v2h-2zM555.2 331.5h2v2h-2zM558.8 331.5h2v2h-2zM565.9 331.5h7.3v2h-7.3zM580.1 331.5h2v2h-2zM601.4 331.5h5.5v2h-5.5zM610.3 331.5h2v2h-2zM519.7 333.3h2v2h-2zM523.3 333.3h2v2h-2zM542.8 333.3h2v2h-2zM555.2 333.3h2v2h-2zM558.8 333.3h2v2h-2zM567.7 333.3h2v2h-2zM580.1 333.3h3.7v2h-3.7zM590.7 333.3h2v2h-2zM597.8 333.3h2v2h-2zM603.2 333.3h2v2h-2zM606.7 333.3h2v2h-2zM610.3 333.3h2v2h-2zM613.8 333.3h2v2h-2zM620.9 333.3h2v2h-2zM661.7 333.3h2v2h-2zM672.4 333.3h2v2h-2zM690.1 333.3h2v2h-2zM720.3 333.3h2v2h-2zM599.6 335.1h2v2h-2zM620.9 335.1h2v2h-2zM652.8 335.1h2v2h-2zM659.9 335.1h2v2h-2zM667 335.1h2v2h-2zM677.7 335.1h3.7v2h-3.7zM697.2 335.1h2v2h-2zM713.2 335.1h2v2h-2zM716.7 335.1h2v2h-2zM725.6 335.1h2v2h-2zM519.7 336.9h2v2h-2zM523.3 336.9h2v2h-2zM533.9 336.9h2v2h-2zM542.8 336.9h2v2h-2zM558.8 336.9h2v2h-2zM567.7 336.9h2v2h-2zM580.1 336.9h2v2h-2zM590.7 336.9h2v2h-2zM597.8 336.9h2v2h-2zM606.7 336.9h2v2h-2zM661.7 336.9h2v2h-2zM672.4 336.9h2v2h-2zM675.9 336.9h2v2h-2zM686.6 336.9h2v2h-2zM690.1 336.9h2v2h-2zM693.7 336.9h2v2h-2zM697.2 336.9h2v2h-2zM713.2 336.9h2v2h-2zM720.3 336.9h2v2h-2zM521.5 338.6h3.7v2h-3.7zM533.9 338.6h2v2h-2zM539.3 338.6h2v2h-2zM542.8 338.6h2v2h-2zM549.9 338.6h2v2h-2zM558.8 338.6h2v2h-2zM565.9 338.6h2v2h-2zM571.2 338.6h2v2h-2zM581.9 338.6h2v2h-2zM590.7 338.6h2v2h-2zM601.4 338.6h2v2h-2zM612 338.6h2v2h-2zM620.9 340.4h2v2h-2zM670.6 340.4h2v2h-2zM674.1 340.4h2v2h-2zM677.7 340.4h3.7v2h-3.7zM686.6 340.4h2v2h-2zM707.9 340.4h3.7v2h-3.7zM519.7 342.2h2v2h-2zM533.9 342.2h2v2h-2zM542.8 342.2h2v2h-2zM558.8 342.2h2v2h-2zM597.8 342.2h2v2h-2zM620.9 342.2h2v2h-2zM656.4 342.2h2v2h-2zM674.1 342.2h2v2h-2zM686.6 342.2h2v2h-2zM693.7 342.2h2v2h-2zM665.3 344h3.7v2h-3.7zM693.7 344h2v2h-2zM707.9 344h2v2h-2zM725.6 344h2v2h-2zM519.7 345.8h3.7v2h-3.7zM539.3 345.8h2v2h-2zM542.8 345.8h2v2h-2zM555.2 345.8h2v2h-2zM558.8 345.8h2v2h-2zM564.1 345.8h3.7v2h-3.7zM576.5 345.8h2v2h-2zM581.9 345.8h2v2h-2zM590.7 345.8h2v2h-2zM601.4 345.8h5.5v2h-5.5zM610.3 345.8h5.5v2h-5.5zM679.5 345.8h2v2h-2zM661.7 347.5h2v2h-2zM681.2 347.5h2v2h-2zM693.7 347.5h3.7v2h-3.7zM699 347.5h2v2h-2zM706.1 347.5h2v2h-2zM709.6 347.5h2v2h-2zM523.3 349.3h2v2h-2zM533.9 349.3h2v2h-2zM539.3 349.3h2v2h-2zM542.8 349.3h2v2h-2zM555.2 349.3h2v2h-2zM562.3 349.3h3.7v2h-3.7zM571.2 349.3h2v2h-2zM576.5 349.3h2v2h-2zM580.1 349.3h2v2h-2zM590.7 349.3h2v2h-2zM597.8 349.3h2v2h-2zM604.9 349.3h2v2h-2zM613.8 349.3h2v2h-2zM656.4 349.3h2v2h-2zM659.9 349.3h2v2h-2zM667 349.3h2v2h-2zM670.6 349.3h2v2h-2zM686.6 349.3h2v2h-2zM690.1 349.3h2v2h-2zM697.2 349.3h2v2h-2zM521.5 351.1h2v2h-2zM525.1 351.1h2v2h-2zM530.4 351.1h2v2h-2zM539.3 351.1h2v2h-2zM544.6 351.1h3.7v2h-3.7zM565.9 351.1h2v2h-2zM569.4 351.1h3.7v2h-3.7zM576.5 351.1h2v2h-2zM601.4 351.1h3.7v2h-3.7zM619.1 351.1h2v2h-2zM659.9 352.9h2v2h-2zM686.6 352.9h2v2h-2zM707.9 352.9h2v2h-2zM716.7 352.9h2v2h-2zM521.5 354.6h2v2h-2zM539.3 354.6h2v2h-2zM555.2 354.6h2v2h-2zM562.3 354.6h3.7v2h-3.7zM571.2 354.6h2v2h-2zM581.9 354.6h2v2h-2zM590.7 354.6h2v2h-2zM606.7 354.6h2v2h-2zM610.3 354.6h2v2h-2zM656.4 354.6h2v2h-2zM661.7 354.6h2v2h-2zM674.1 354.6h2v2h-2zM679.5 354.6h2v2h-2zM688.3 354.6h2v2h-2zM697.2 354.6h2v2h-2zM519.7 356.4h2v2h-2zM533.9 356.4h2v2h-2zM542.8 356.4h2v2h-2zM555.2 356.4h2v2h-2zM562.3 356.4h3.7v2h-3.7zM580.1 356.4h3.7v2h-3.7zM590.7 356.4h2v2h-2zM601.4 356.4h7.3v2h-7.3zM610.3 356.4h3.7v2h-3.7zM654.6 356.4h2v2h-2zM659.9 356.4h3.7v2h-3.7zM670.6 356.4h2v2h-2zM674.1 356.4h3.7v2h-3.7zM679.5 356.4h2v2h-2zM690.1 356.4h2v2h-2zM521.5 358.2h5.5v2h-5.5zM533.9 358.2h2v2h-2zM565.9 358.2h2v2h-2zM571.2 358.2h2v2h-2zM576.5 358.2h2v2h-2zM580.1 358.2h3.7v2h-3.7zM601.4 358.2h5.5v2h-5.5zM612 358.2h2v2h-2zM519.7 360h5.5v2h-5.5zM533.9 360h2v2h-2zM597.8 360h2v2h-2zM604.9 360h3.7v2h-3.7zM610.3 360h2v2h-2zM613.8 360h2v2h-2zM654.6 360h2v2h-2zM661.7 360h2v2h-2zM665.3 360h3.7v2h-3.7zM670.6 360h2v2h-2zM652.8 361.7h2v2h-2zM661.7 361.7h2v2h-2zM681.2 361.7h2v2h-2zM599.6 363.5h2v2h-2zM652.8 363.5h2v2h-2zM656.4 363.5h2v2h-2zM686.6 363.5h5.5v2h-5.5zM697.2 363.5h3.7v2h-3.7zM525.1 365.3h2v2h-2zM565.9 365.3h3.7v2h-3.7zM576.5 365.3h2v2h-2zM581.9 365.3h2v2h-2zM601.4 365.3h5.5v2h-5.5zM521.5 367.1h2v2h-2zM525.1 367.1h2v2h-2zM544.6 367.1h3.7v2h-3.7zM558.8 367.1h2v2h-2zM565.9 367.1h3.7v2h-3.7zM571.2 367.1h2v2h-2zM580.1 367.1h2v2h-2zM603.2 367.1h2v2h-2zM612 367.1h2v2h-2zM654.6 368.9h2v2h-2zM667 368.9h2v2h-2zM699 368.9h2v2h-2zM681.2 370.6h2v2h-2zM652.8 372.4h2v2h-2zM665.3 372.4h2v2h-2zM670.6 372.4h2v2h-2zM679.5 372.4h3.7v2h-3.7zM697.2 372.4h2v2h-2z" fill="#ffffa3"/>
<path d="M567.7 141.4h2v2h-2zM571.2 141.4h2v2h-2zM539.3 143.1h2v2h-2zM553.5 143.1h2v2h-2zM558.8 143.1h2v2h-2zM567.7 143.1h2v2h-2zM539.3 144.9h2v2h-2zM576.5 144.9h2v2h-2zM606.7 146.7h2v2h-2zM610.3 146.7h3.7v2h-3.7zM658.2 146.7h2v2h-2zM663.5 146.7h3.7v2h-3.7zM683 146.7h2v2h-2zM691.9 146.7h2v2h-2zM700.8 146.7h5.5v2h-5.5zM711.4 146.7h2v2h-2zM722.1 146.7h2v2h-2zM730.9 146.7h2v2h-2zM738 146.7h3.7v2h-3.7zM539.3 148.5h3.7v2h-3.7zM544.6 148.5h3.7v2h-3.7zM553.5 148.5h3.7v2h-3.7zM558.8 148.5h2v2h-2zM565.9 148.5h2v2h-2zM571.2 148.5h2v2h-2zM576.5 148.5h2v2h-2zM597.8 148.5h2v2h-2zM738 148.5h2v2h-2zM525.1 150.2h3.7v2h-3.7zM565.9 150.2h2v2h-2zM583.6 150.2h2v2h-2zM597.8 150.2h2v2h-2zM613.8 150.2h2v2h-2zM665.3 150.2h2v2h-2zM684.8 150.2h2v2h-2zM691.9 150.2h2v2h-2zM700.8 150.2h2v2h-2zM704.3 150.2h2v2h-2zM718.5 150.2h2v2h-2zM723.8 150.2h2v2h-2zM738 150.2h3.7v2h-3.7zM523.3 152h2v2h-2zM537.5 152h2v2h-2zM573 152h2v2h-2zM576.5 152h2v2h-2zM599.6 152h2v2h-2zM620.9 152h2v2h-2zM523.3 153.8h2v2h-2zM539.3 153.8h2v2h-2zM558.8 153.8h2v2h-2zM567.7 153.8h5.5v2h-5.5zM576.5 155.6h2v2h-2zM535.7 157.4h2v2h-2zM539.3 157.4h2v2h-2zM546.4 157.4h2v2h-2zM549.9 157.4h2v2h-2zM555.2 157.4h2v2h-2zM558.8 157.4h2v2h-2zM567.7 157.4h2v2h-2zM576.5 157.4h2v2h-2zM555.2 159.1h2v2h-2zM558.8 159.1h2v2h-2zM567.7 159.1h2v2h-2zM571.2 159.1h2v2h-2zM576.5 159.1h2v2h-2zM589 159.1h2v2h-2zM606.7 160.9h2v2h-2zM610.3 160.9h5.5v2h-5.5zM658.2 160.9h2v2h-2zM663.5 160.9h2v2h-2zM683 160.9h2v2h-2zM700.8 160.9h3.7v2h-3.7zM718.5 160.9h2v2h-2zM723.8 160.9h2v2h-2zM738 160.9h3.7v2h-3.7zM530.4 162.7h2v2h-2zM539.3 162.7h2v2h-2zM555.2 162.7h2v2h-2zM567.7 162.7h2v2h-2zM576.5 162.7h2v2h-2zM525.1 164.5h2v2h-2zM539.3 164.5h2v2h-2zM555.2 164.5h2v2h-2zM565.9 164.5h2v2h-2zM571.2 164.5h2v2h-2zM516.2 166.2h3.7v2h-3.7zM521.5 166.2h2v2h-2zM526.8 166.2h2v2h-2zM530.4 166.2h2v2h-2zM535.7 166.2h5.5v2h-5.5zM546.4 166.2h2v2h-2zM549.9 166.2h7.3v2h-7.3zM558.8 166.2h2v2h-2zM565.9 166.2h2v2h-2zM569.4 166.2h5.5v2h-5.5zM576.5 166.2h3.7v2h-3.7zM583.6 166.2h2v2h-2zM587.2 166.2h2v2h-2zM668.8 166.2h2v2h-2zM684.8 166.2h2v2h-2zM691.9 166.2h2v2h-2zM700.8 166.2h5.5v2h-5.5zM730.9 166.2h2v2h-2zM738 166.2h3.7v2h-3.7zM521.5 168h2v2h-2zM558.8 168h2v2h-2zM565.9 168h2v2h-2zM576.5 168h2v2h-2zM597.8 169.8h2v2h-2zM606.7 169.8h2v2h-2zM610.3 169.8h2v2h-2zM658.2 169.8h2v2h-2zM663.5 169.8h2v2h-2zM668.8 169.8h2v2h-2zM683 169.8h2v2h-2zM686.6 169.8h2v2h-2zM691.9 169.8h2v2h-2zM700.8 169.8h2v2h-2zM704.3 169.8h2v2h-2zM723.8 169.8h2v2h-2zM730.9 169.8h2v2h-2zM738 169.8h3.7v2h-3.7zM521.5 171.6h2v2h-2zM549.9 171.6h2v2h-2zM555.2 171.6h2v2h-2zM565.9 171.6h2v2h-2zM576.5 171.6h2v2h-2zM521.5 173.4h2v2h-2zM530.4 173.4h2v2h-2zM539.3 173.4h2v2h-2zM558.8 173.4h2v2h-2zM565.9 173.4h2v2h-2zM576.5 173.4h2v2h-2zM555.2 175.1h2v2h-2zM576.5 175.1h2v2h-2zM530.4 176.9h2v2h-2zM539.3 176.9h2v2h-2zM544.6 176.9h2v2h-2zM558.8 176.9h2v2h-2zM567.7 176.9h2v2h-2zM576.5 176.9h2v2h-2zM539.3 178.7h2v2h-2zM558.8 178.7h2v2h-2zM571.2 178.7h2v2h-2zM576.5 178.7h3.7v2h-3.7zM583.6 178.7h2v2h-2zM516.2 180.5h2v2h-2zM521.5 180.5h2v2h-2zM539.3 180.5h2v2h-2zM583.6 180.5h2v2h-2zM521.5 182.2h2v2h-2zM530.4 182.2h3.7v2h-3.7zM535.7 182.2h5.5v2h-5.5zM544.6 182.2h2v2h-2zM548.1 182.2h2v2h-2zM576.5 182.2h2v2h-2zM587.2 182.2h2v2h-2zM610.3 182.2h2v2h-2zM658.2 182.2h2v2h-2zM683 182.2h3.7v2h-3.7zM691.9 182.2h2v2h-2zM711.4 182.2h2v2h-2zM723.8 182.2h2v2h-2zM730.9 182.2h2v2h-2zM738 182.2h3.7v2h-3.7zM558.8 184h2v2h-2zM565.9 184h3.7v2h-3.7zM516.2 185.8h2v2h-2zM521.5 185.8h2v2h-2zM526.8 185.8h2v2h-2zM530.4 185.8h3.7v2h-3.7zM539.3 185.8h3.7v2h-3.7zM546.4 185.8h2v2h-2zM549.9 185.8h3.7v2h-3.7zM557 185.8h2v2h-2zM560.6 185.8h2v2h-2zM567.7 185.8h3.7v2h-3.7zM589 185.8h2v2h-2zM606.7 185.8h2v2h-2zM620.9 185.8h2v2h-2zM691.9 185.8h2v2h-2zM723.8 185.8h2v2h-2zM730.9 185.8h2v2h-2zM738 185.8h2v2h-2zM558.8 187.6h2v2h-2zM571.2 187.6h2v2h-2zM576.5 187.6h2v2h-2zM606.7 189.3h2v2h-2zM610.3 189.3h2v2h-2zM658.2 189.3h2v2h-2zM663.5 189.3h2v2h-2zM668.8 189.3h2v2h-2zM683 189.3h2v2h-2zM700.8 189.3h5.5v2h-5.5zM711.4 189.3h2v2h-2zM718.5 189.3h2v2h-2zM730.9 189.3h2v2h-2zM738 189.3h3.7v2h-3.7zM597.8 191.1h2v2h-2zM606.7 191.1h2v2h-2zM613.8 191.1h2v2h-2zM663.5 191.1h2v2h-2zM683 191.1h3.7v2h-3.7zM691.9 191.1h2v2h-2zM704.3 191.1h2v2h-2zM711.4 191.1h2v2h-2zM723.8 191.1h2v2h-2zM730.9 191.1h2v2h-2zM738 191.1h3.7v2h-3.7zM521.5 192.9h3.7v2h-3.7zM537.5 192.9h5.5v2h-5.5zM544.6 192.9h3.7v2h-3.7zM557 192.9h2v2h-2zM565.9 192.9h2v2h-2zM569.4 192.9h2v2h-2zM574.8 192.9h2v2h-2zM599.6 192.9h2v2h-2zM606.7 192.9h2v2h-2zM668.8 192.9h2v2h-2zM683 192.9h2v2h-2zM514.4 194.7h3.7v2h-3.7zM526.8 194.7h2v2h-2zM530.4 194.7h3.7v2h-3.7zM535.7 194.7h2v2h-2zM549.9 194.7h2v2h-2zM557 194.7h3.7v2h-3.7zM606.7 194.7h2v2h-2zM711.4 194.7h2v2h-2zM723.8 194.7h2v2h-2zM526.8 196.5h2v2h-2zM539.3 196.5h2v2h-2zM558.8 196.5h2v2h-2zM565.9 196.5h2v2h-2zM569.4 196.5h2v2h-2zM574.8 196.5h2v2h-2zM514.4 198.2h2v2h-2zM521.5 198.2h2v2h-2zM526.8 198.2h2v2h-2zM532.2 198.2h2v2h-2zM537.5 198.2h3.7v2h-3.7zM551.7 198.2h2v2h-2zM560.6 198.2h2v2h-2zM599.6 198.2h2v2h-2zM684.8 198.2h2v2h-2zM691.9 198.2h2v2h-2zM738 198.2h2v2h-2zM525.1 200h2v2h-2zM539.3 200h2v2h-2zM583.6 200h2v2h-2zM565.9 201.8h2v2h-2zM569.4 201.8h2v2h-2zM518 203.6h2v2h-2zM521.5 203.6h2v2h-2zM525.1 203.6h2v2h-2zM528.6 203.6h5.5v2h-5.5zM535.7 203.6h2v2h-2zM539.3 203.6h3.7v2h-3.7zM544.6 203.6h9.1v2h-9.1zM555.2 203.6h2v2h-2zM560.6 203.6h2v2h-2zM597.8 203.6h2v2h-2zM606.7 203.6h2v2h-2zM704.3 203.6h2v2h-2zM711.4 203.6h2v2h-2zM739.8 203.6h2v2h-2zM539.3 205.3h2v2h-2zM551.7 205.3h2v2h-2zM597.8 207.1h2v2h-2zM613.8 207.1h2v2h-2zM658.2 207.1h2v2h-2zM663.5 207.1h3.7v2h-3.7zM668.8 207.1h2v2h-2zM684.8 207.1h3.7v2h-3.7zM691.9 207.1h2v2h-2zM702.5 207.1h2v2h-2zM711.4 207.1h2v2h-2zM718.5 207.1h2v2h-2zM723.8 207.1h2v2h-2zM738 207.1h2v2h-2zM606.7 208.9h2v2h-2zM613.8 208.9h2v2h-2zM658.2 208.9h2v2h-2zM665.3 208.9h2v2h-2zM683 208.9h3.7v2h-3.7zM691.9 208.9h2v2h-2zM704.3 208.9h2v2h-2zM723.8 208.9h2v2h-2zM739.8 208.9h2v2h-2zM523.3 210.7h2v2h-2zM539.3 210.7h2v2h-2zM551.7 210.7h3.7v2h-3.7zM573 210.7h2v2h-2zM539.3 214.2h2v2h-2zM555.2 214.2h2v2h-2zM532.2 216h2v2h-2zM558.8 216h2v2h-2zM597.8 217.8h2v2h-2zM610.3 217.8h2v2h-2zM613.8 217.8h2v2h-2zM663.5 217.8h2v2h-2zM668.8 217.8h2v2h-2zM683 217.8h2v2h-2zM702.5 217.8h3.7v2h-3.7zM730.9 217.8h2v2h-2zM739.8 217.8h2v2h-2zM599.6 221.3h2v2h-2zM604.9 221.3h3.7v2h-3.7zM612 221.3h2v2h-2zM608.5 223.1h3.7v2h-3.7zM521.5 224.9h3.7v2h-3.7zM542.8 224.9h2v2h-2zM564.1 224.9h2v2h-2zM576.5 224.9h2v2h-2zM580.1 224.9h2v2h-2zM590.7 224.9h2v2h-2zM603.2 224.9h3.7v2h-3.7zM631.5 224.9h3.7v2h-3.7zM636.9 224.9h2v2h-2zM658.2 224.9h2v2h-2zM663.5 224.9h2v2h-2zM668.8 224.9h2v2h-2zM686.6 224.9h2v2h-2zM691.9 224.9h2v2h-2zM695.4 224.9h2v2h-2zM702.5 224.9h2v2h-2zM718.5 224.9h2v2h-2zM729.2 224.9h3.7v2h-3.7zM739.8 224.9h2v2h-2zM525.1 226.7h2v2h-2zM565.9 226.7h2v2h-2zM571.2 226.7h2v2h-2zM594.3 226.7h2v2h-2zM603.2 226.7h3.7v2h-3.7zM612 226.7h2v2h-2zM649.3 226.7h2v2h-2zM652.8 226.7h2v2h-2zM667 226.7h2v2h-2zM693.7 226.7h2v2h-2zM706.1 226.7h2v2h-2zM709.6 226.7h2v2h-2zM715 226.7h2v2h-2zM732.7 226.7h2v2h-2zM606.7 228.4h2v2h-2zM645.7 228.4h2v2h-2zM739.8 228.4h2v2h-2zM597.8 230.2h3.7v2h-3.7zM603.2 230.2h5.5v2h-5.5zM645.7 230.2h2v2h-2zM594.3 232h2v2h-2zM597.8 232h3.7v2h-3.7zM603.2 232h2v2h-2zM606.7 232h3.7v2h-3.7zM642.2 232h2v2h-2zM645.7 232h3.7v2h-3.7zM651.1 232h2v2h-2zM684.8 232h2v2h-2zM711.4 232h2v2h-2zM723.8 232h2v2h-2zM739.8 232h2v2h-2zM519.7 233.8h2v2h-2zM533.9 233.8h2v2h-2zM542.8 233.8h2v2h-2zM558.8 233.8h2v2h-2zM562.3 233.8h7.3v2h-7.3zM576.5 233.8h2v2h-2zM581.9 233.8h2v2h-2zM594.3 233.8h2v2h-2zM601.4 233.8h7.3v2h-7.3zM624.4 233.8h2v2h-2zM633.3 233.8h2v2h-2zM636.9 233.8h3.7v2h-3.7zM658.2 233.8h2v2h-2zM663.5 233.8h3.7v2h-3.7zM686.6 233.8h2v2h-2zM695.4 233.8h2v2h-2zM702.5 233.8h2v2h-2zM718.5 233.8h2v2h-2zM722.1 233.8h2v2h-2zM739.8 233.8h2v2h-2zM596.1 235.6h2v2h-2zM604.9 235.6h2v2h-2zM608.5 235.6h2v2h-2zM519.7 237.3h2v2h-2zM533.9 237.3h2v2h-2zM542.8 237.3h2v2h-2zM555.2 237.3h2v2h-2zM562.3 237.3h2v2h-2zM590.7 237.3h2v2h-2zM596.1 237.3h2v2h-2zM631.5 237.3h3.7v2h-3.7zM640.4 237.3h3.7v2h-3.7zM647.5 237.3h2v2h-2zM658.2 237.3h2v2h-2zM668.8 237.3h2v2h-2zM683 237.3h3.7v2h-3.7zM691.9 237.3h2v2h-2zM700.8 237.3h2v2h-2zM711.4 237.3h2v2h-2zM723.8 237.3h2v2h-2zM730.9 237.3h2v2h-2zM738 237.3h3.7v2h-3.7zM519.7 239.1h2v2h-2zM533.9 239.1h2v2h-2zM594.3 239.1h2v2h-2zM599.6 239.1h2v2h-2zM647.5 239.1h2v2h-2zM658.2 239.1h2v2h-2zM663.5 239.1h2v2h-2zM684.8 239.1h2v2h-2zM691.9 239.1h2v2h-2zM704.3 239.1h2v2h-2zM723.8 239.1h2v2h-2zM738 239.1h2v2h-2zM523.3 240.9h2v2h-2zM533.9 240.9h2v2h-2zM564.1 240.9h2v2h-2zM580.1 240.9h3.7v2h-3.7zM590.7 240.9h2v2h-2zM631.5 240.9h2v2h-2zM640.4 240.9h3.7v2h-3.7zM645.7 240.9h3.7v2h-3.7zM651.1 240.9h2v2h-2zM658.2 240.9h2v2h-2zM663.5 240.9h2v2h-2zM683 240.9h3.7v2h-3.7zM700.8 240.9h2v2h-2zM704.3 240.9h2v2h-2zM711.4 240.9h2v2h-2zM730.9 240.9h2v2h-2zM738 240.9h3.7v2h-3.7zM525.1 248h2v2h-2zM558.8 248h2v2h-2zM624.4 248h2v2h-2zM636.9 248h2v2h-2zM649.3 248h2v2h-2zM652.8 248h2v2h-2zM695.4 248h2v2h-2zM709.6 248h2v2h-2zM722.1 248h2v2h-2zM727.4 248h3.7v2h-3.7zM732.7 248h2v2h-2zM606.7 251.6h2v2h-2zM620.9 251.6h2v2h-2zM597.8 258.7h2v2h-2zM610.3 258.7h2v2h-2zM613.8 258.7h2v2h-2zM597.8 260.4h2v2h-2zM606.7 260.4h2v2h-2zM610.3 260.4h2v2h-2zM597.8 264h2v2h-2zM606.7 264h2v2h-2zM620.9 264h2v2h-2zM606.7 265.8h2v2h-2zM610.3 267.6h2v2h-2zM613.8 267.6h2v2h-2zM604.9 269.3h2v2h-2zM610.3 269.3h2v2h-2zM613.8 269.3h2v2h-2zM601.4 272.9h5.5v2h-5.5zM613.8 272.9h2v2h-2zM604.9 274.7h2v2h-2zM610.3 274.7h5.5v2h-5.5zM599.6 276.4h2v2h-2zM620.9 276.4h2v2h-2zM604.9 278.2h2v2h-2zM613.8 278.2h2v2h-2zM599.6 280h2v2h-2zM620.9 280h2v2h-2zM690.1 280h2v2h-2zM702.5 280h2v2h-2zM718.5 280h2v2h-2zM741.6 280h2v2h-2zM686.6 281.8h2v2h-2zM693.7 281.8h3.7v2h-3.7zM702.5 281.8h2v2h-2zM722.1 281.8h2v2h-2zM675.9 283.5h2v2h-2zM690.1 283.5h2v2h-2zM695.4 283.5h2v2h-2zM718.5 283.5h2v2h-2zM519.7 285.3h2v2h-2zM533.9 285.3h2v2h-2zM542.8 285.3h2v2h-2zM555.2 285.3h2v2h-2zM562.3 285.3h2v2h-2zM580.1 285.3h3.7v2h-3.7zM597.8 285.3h2v2h-2zM606.7 285.3h2v2h-2zM610.3 285.3h5.5v2h-5.5zM677.7 287.1h2v2h-2zM695.4 287.1h3.7v2h-3.7zM732.7 287.1h2v2h-2zM686.6 288.9h2v2h-2zM695.4 288.9h2v2h-2zM702.5 288.9h2v2h-2zM718.5 288.9h2v2h-2zM722.1 288.9h2v2h-2zM519.7 290.7h2v2h-2zM533.9 290.7h2v2h-2zM542.8 290.7h2v2h-2zM562.3 290.7h3.7v2h-3.7zM580.1 290.7h2v2h-2zM590.7 290.7h2v2h-2zM597.8 290.7h2v2h-2zM606.7 290.7h2v2h-2zM612 290.7h3.7v2h-3.7zM677.7 290.7h3.7v2h-3.7zM699 290.7h2v2h-2zM715 290.7h2v2h-2zM725.6 290.7h5.5v2h-5.5zM734.5 290.7h3.7v2h-3.7zM745.1 290.7h2v2h-2zM519.7 292.4h2v2h-2zM523.3 292.4h2v2h-2zM580.1 292.4h3.7v2h-3.7zM606.7 292.4h2v2h-2zM679.5 292.4h2v2h-2zM686.6 292.4h2v2h-2zM690.1 292.4h2v2h-2zM693.7 292.4h5.5v2h-5.5zM707.9 292.4h3.7v2h-3.7zM718.5 292.4h5.5v2h-5.5zM725.6 292.4h5.5v2h-5.5zM734.5 292.4h3.7v2h-3.7zM741.6 292.4h3.7v2h-3.7zM599.6 294.2h2v2h-2zM695.4 294.2h2v2h-2zM702.5 294.2h2v2h-2zM709.6 294.2h2v2h-2zM715 294.2h2v2h-2zM729.2 294.2h2v2h-2zM539.3 296h2v2h-2zM542.8 296h2v2h-2zM562.3 296h2v2h-2zM565.9 296h2v2h-2zM580.1 296h2v2h-2zM590.7 296h2v2h-2zM597.8 296h2v2h-2zM610.3 296h2v2h-2zM722.1 296h2v2h-2zM734.5 296h2v2h-2zM741.6 296h2v2h-2zM675.9 297.8h2v2h-2zM686.6 297.8h2v2h-2zM695.4 297.8h2v2h-2zM700.8 297.8h2v2h-2zM718.5 297.8h3.7v2h-3.7zM675.9 299.5h2v2h-2zM681.2 299.5h2v2h-2zM686.6 299.5h2v2h-2zM693.7 299.5h2v2h-2zM702.5 299.5h2v2h-2zM718.5 299.5h2v2h-2zM725.6 299.5h2v2h-2zM681.2 301.3h2v2h-2zM686.6 301.3h2v2h-2zM718.5 301.3h5.5v2h-5.5zM732.7 301.3h2v2h-2zM743.4 301.3h2v2h-2zM656.4 303.1h2v2h-2zM670.6 303.1h3.7v2h-3.7zM695.4 303.1h5.5v2h-5.5zM702.5 303.1h2v2h-2zM713.2 303.1h2v2h-2zM732.7 303.1h2v2h-2zM659.9 304.9h2v2h-2zM663.5 304.9h2v2h-2zM686.6 304.9h2v2h-2zM690.1 304.9h2v2h-2zM695.4 304.9h2v2h-2zM718.5 304.9h2v2h-2zM722.1 304.9h2v2h-2zM732.7 304.9h2v2h-2zM663.5 306.7h3.7v2h-3.7zM702.5 306.7h2v2h-2zM706.1 306.7h2v2h-2zM672.4 308.4h3.7v2h-3.7zM686.6 308.4h2v2h-2zM715 308.4h2v2h-2zM722.1 308.4h2v2h-2zM519.7 310.2h2v2h-2zM533.9 310.2h2v2h-2zM542.8 310.2h2v2h-2zM555.2 310.2h2v2h-2zM562.3 310.2h5.5v2h-5.5zM581.9 310.2h2v2h-2zM590.7 310.2h2v2h-2zM610.3 310.2h2v2h-2zM613.8 310.2h2v2h-2zM523.3 312h2v2h-2zM539.3 312h2v2h-2zM555.2 312h2v2h-2zM564.1 312h2v2h-2zM571.2 312h2v2h-2zM580.1 312h3.7v2h-3.7zM604.9 312h2v2h-2zM610.3 312h5.5v2h-5.5zM542.8 313.8h2v2h-2zM580.1 313.8h2v2h-2zM597.8 313.8h2v2h-2zM606.7 313.8h2v2h-2zM654.6 313.8h2v2h-2zM661.7 313.8h2v2h-2zM665.3 313.8h2v2h-2zM670.6 313.8h5.5v2h-5.5zM677.7 313.8h2v2h-2zM681.2 313.8h2v2h-2zM688.3 313.8h2v2h-2zM700.8 313.8h2v2h-2zM706.1 313.8h2v2h-2zM718.5 313.8h2v2h-2zM727.4 313.8h2v2h-2zM734.5 313.8h2v2h-2zM741.6 313.8h5.5v2h-5.5zM686.6 315.5h2v2h-2zM697.2 315.5h2v2h-2zM718.5 315.5h2v2h-2zM734.5 315.5h2v2h-2zM652.8 317.3h2v2h-2zM656.4 317.3h2v2h-2zM665.3 317.3h2v2h-2zM677.7 317.3h2v2h-2zM702.5 317.3h2v2h-2zM716.7 317.3h2v2h-2zM732.7 317.3h2v2h-2zM743.4 317.3h2v2h-2zM519.7 319.1h2v2h-2zM523.3 319.1h2v2h-2zM539.3 319.1h2v2h-2zM542.8 319.1h2v2h-2zM555.2 319.1h2v2h-2zM558.8 319.1h2v2h-2zM564.1 319.1h2v2h-2zM571.2 319.1h2v2h-2zM580.1 319.1h3.7v2h-3.7zM597.8 319.1h2v2h-2zM610.3 319.1h3.7v2h-3.7zM599.6 320.9h2v2h-2zM654.6 320.9h2v2h-2zM665.3 320.9h2v2h-2zM672.4 320.9h2v2h-2zM702.5 320.9h2v2h-2zM718.5 320.9h2v2h-2zM722.1 320.9h2v2h-2zM727.4 320.9h3.7v2h-3.7zM732.7 320.9h5.5v2h-5.5zM741.6 320.9h5.5v2h-5.5zM597.8 322.6h2v2h-2zM606.7 322.6h2v2h-2zM620.9 322.6h2v2h-2zM654.6 322.6h3.7v2h-3.7zM659.9 322.6h3.7v2h-3.7zM665.3 322.6h3.7v2h-3.7zM670.6 322.6h2v2h-2zM675.9 322.6h3.7v2h-3.7zM695.4 322.6h3.7v2h-3.7zM702.5 322.6h2v2h-2zM706.1 322.6h5.5v2h-5.5zM715 322.6h2v2h-2zM725.6 322.6h2v2h-2zM734.5 322.6h2v2h-2zM659.9 324.4h2v2h-2zM665.3 324.4h2v2h-2zM675.9 324.4h2v2h-2zM688.3 324.4h2v2h-2zM695.4 324.4h2v2h-2zM700.8 324.4h3.7v2h-3.7zM718.5 324.4h2v2h-2zM729.2 324.4h2v2h-2zM732.7 324.4h2v2h-2zM741.6 324.4h3.7v2h-3.7zM663.5 326.2h2v2h-2zM675.9 326.2h2v2h-2zM709.6 326.2h2v2h-2zM718.5 326.2h2v2h-2zM722.1 326.2h2v2h-2zM727.4 326.2h3.7v2h-3.7zM732.7 326.2h2v2h-2zM743.4 326.2h3.7v2h-3.7zM519.7 328h2v2h-2zM523.3 328h2v2h-2zM533.9 328h2v2h-2zM539.3 328h2v2h-2zM542.8 328h2v2h-2zM562.3 328h2v2h-2zM610.3 328h2v2h-2zM613.8 328h2v2h-2zM670.6 328h2v2h-2zM686.6 328h2v2h-2zM697.2 328h2v2h-2zM519.7 329.8h2v2h-2zM533.9 329.8h2v2h-2zM539.3 329.8h2v2h-2zM562.3 329.8h2v2h-2zM580.1 329.8h2v2h-2zM590.7 329.8h2v2h-2zM597.8 329.8h2v2h-2zM606.7 329.8h2v2h-2zM652.8 329.8h3.7v2h-3.7zM661.7 329.8h2v2h-2zM667 329.8h2v2h-2zM672.4 329.8h2v2h-2zM675.9 329.8h2v2h-2zM679.5 329.8h2v2h-2zM690.1 329.8h2v2h-2zM693.7 329.8h5.5v2h-5.5zM707.9 329.8h2v2h-2zM725.6 329.8h2v2h-2zM519.7 331.5h2v2h-2zM523.3 331.5h2v2h-2zM539.3 331.5h2v2h-2zM542.8 331.5h2v2h-2zM562.3 331.5h3.7v2h-3.7zM576.5 331.5h2v2h-2zM581.9 331.5h2v2h-2zM590.7 331.5h2v2h-2zM612 331.5h3.7v2h-3.7zM599.6 333.3h2v2h-2zM679.5 333.3h2v2h-2zM686.6 333.3h2v2h-2zM695.4 333.3h2v2h-2zM707.9 333.3h3.7v2h-3.7zM713.2 333.3h2v2h-2zM725.6 333.3h2v2h-2zM665.3 335.1h2v2h-2zM695.4 335.1h2v2h-2zM702.5 335.1h2v2h-2zM706.1 335.1h2v2h-2zM709.6 335.1h2v2h-2zM720.3 335.1h2v2h-2zM741.6 335.1h2v2h-2zM599.6 336.9h2v2h-2zM620.9 336.9h2v2h-2zM665.3 336.9h3.7v2h-3.7zM695.4 336.9h2v2h-2zM699 336.9h2v2h-2zM706.1 336.9h5.5v2h-5.5zM716.7 336.9h2v2h-2zM725.6 336.9h2v2h-2zM519.7 338.6h2v2h-2zM555.2 338.6h2v2h-2zM562.3 338.6h3.7v2h-3.7zM567.7 338.6h2v2h-2zM576.5 338.6h2v2h-2zM580.1 338.6h2v2h-2zM604.9 338.6h2v2h-2zM610.3 338.6h2v2h-2zM613.8 338.6h2v2h-2zM675.9 340.4h2v2h-2zM706.1 340.4h2v2h-2zM725.6 340.4h2v2h-2zM599.6 342.2h2v2h-2zM663.5 342.2h2v2h-2zM667 342.2h2v2h-2zM681.2 342.2h2v2h-2zM695.4 342.2h2v2h-2zM690.1 344h2v2h-2zM709.6 344h2v2h-2zM523.3 345.8h2v2h-2zM533.9 345.8h2v2h-2zM562.3 345.8h2v2h-2zM580.1 345.8h2v2h-2zM597.8 345.8h2v2h-2zM606.7 345.8h2v2h-2zM652.8 345.8h2v2h-2zM656.4 345.8h2v2h-2zM661.7 345.8h2v2h-2zM665.3 345.8h2v2h-2zM670.6 345.8h5.5v2h-5.5zM677.7 345.8h2v2h-2zM686.6 345.8h3.7v2h-3.7zM693.7 345.8h2v2h-2zM697.2 345.8h3.7v2h-3.7zM665.3 347.5h2v2h-2zM670.6 347.5h2v2h-2zM674.1 347.5h2v2h-2zM707.9 347.5h2v2h-2zM725.6 347.5h2v2h-2zM519.7 349.3h2v2h-2zM606.7 349.3h2v2h-2zM620.9 349.3h2v2h-2zM654.6 349.3h2v2h-2zM661.7 349.3h2v2h-2zM665.3 349.3h2v2h-2zM668.8 349.3h2v2h-2zM674.1 349.3h2v2h-2zM677.7 349.3h2v2h-2zM681.2 349.3h2v2h-2zM693.7 349.3h2v2h-2zM699 349.3h2v2h-2zM523.3 351.1h2v2h-2zM533.9 351.1h2v2h-2zM542.8 351.1h2v2h-2zM555.2 351.1h2v2h-2zM558.8 351.1h2v2h-2zM564.1 351.1h2v2h-2zM567.7 351.1h2v2h-2zM580.1 351.1h3.7v2h-3.7zM604.9 351.1h2v2h-2zM610.3 351.1h3.7v2h-3.7zM663.5 352.9h3.7v2h-3.7zM672.4 352.9h2v2h-2zM695.4 352.9h2v2h-2zM702.5 352.9h2v2h-2zM706.1 352.9h2v2h-2zM709.6 352.9h2v2h-2zM713.2 352.9h2v2h-2zM720.3 352.9h2v2h-2zM725.6 352.9h2v2h-2zM620.9 354.6h2v2h-2zM663.5 354.6h3.7v2h-3.7zM686.6 354.6h2v2h-2zM693.7 354.6h2v2h-2zM699 354.6h2v2h-2zM597.8 356.4h2v2h-2zM620.9 356.4h2v2h-2zM663.5 356.4h5.5v2h-5.5zM693.7 356.4h2v2h-2zM697.2 356.4h3.7v2h-3.7zM519.7 358.2h2v2h-2zM539.3 358.2h2v2h-2zM542.8 358.2h2v2h-2zM555.2 358.2h2v2h-2zM558.8 358.2h2v2h-2zM562.3 358.2h3.7v2h-3.7zM590.7 358.2h2v2h-2zM597.8 358.2h2v2h-2zM610.3 358.2h2v2h-2zM613.8 358.2h2v2h-2zM599.6 360h2v2h-2zM620.9 360h2v2h-2zM659.9 360h2v2h-2zM674.1 360h5.5v2h-5.5zM690.1 360h2v2h-2zM693.7 360h2v2h-2zM697.2 360h3.7v2h-3.7zM663.5 361.7h3.7v2h-3.7zM668.8 361.7h2v2h-2zM686.6 361.7h3.7v2h-3.7zM693.7 361.7h3.7v2h-3.7zM663.5 363.5h3.7v2h-3.7zM693.7 363.5h2v2h-2zM519.7 365.3h5.5v2h-5.5zM533.9 365.3h2v2h-2zM539.3 365.3h2v2h-2zM542.8 365.3h2v2h-2zM555.2 365.3h2v2h-2zM558.8 365.3h2v2h-2zM562.3 365.3h3.7v2h-3.7zM571.2 365.3h2v2h-2zM580.1 365.3h2v2h-2zM610.3 365.3h5.5v2h-5.5zM519.7 367.1h2v2h-2zM523.3 367.1h2v2h-2zM533.9 367.1h2v2h-2zM539.3 367.1h2v2h-2zM542.8 367.1h2v2h-2zM555.2 367.1h2v2h-2zM562.3 367.1h3.7v2h-3.7zM576.5 367.1h2v2h-2zM581.9 367.1h2v2h-2zM590.7 367.1h2v2h-2zM597.8 367.1h2v2h-2zM601.4 367.1h2v2h-2zM604.9 367.1h3.7v2h-3.7zM610.3 367.1h2v2h-2zM613.8 367.1h2v2h-2zM652.8 368.9h2v2h-2zM665.3 368.9h2v2h-2zM668.8 368.9h2v2h-2zM686.6 368.9h2v2h-2zM693.7 368.9h2v2h-2zM697.2 368.9h2v2h-2zM707.9 368.9h2v2h-2zM665.3 370.6h2v2h-2zM674.1 370.6h2v2h-2zM686.6 370.6h2v2h-2zM690.1 370.6h2v2h-2zM693.7 370.6h2v2h-2zM697.2 370.6h3.7v2h-3.7zM663.5 372.4h2v2h-2zM686.6 372.4h2v2h-2zM693.7 372.4h2v2h-2zM699 372.4h2v2h-2z" fill="#ffff8f"/>
<path d="M523.3 141.4h2v2h-2zM565.9 141.4h2v2h-2zM581.9 141.4h2v2h-2zM523.3 143.1h2v2h-2zM555.2 143.1h2v2h-2zM565.9 143.1h2v2h-2zM581.9 143.1h2v2h-2zM523.3 144.9h2v2h-2zM555.2 144.9h2v2h-2zM564.1 144.9h2v2h-2zM567.7 144.9h2v2h-2zM581.9 144.9h2v2h-2zM597.8 146.7h2v2h-2zM684.8 146.7h2v2h-2zM723.8 146.7h2v2h-2zM528.6 148.5h2v2h-2zM567.7 148.5h2v2h-2zM581.9 148.5h2v2h-2zM599.6 148.5h2v2h-2zM620.9 148.5h2v2h-2zM514.4 150.2h5.5v2h-5.5zM523.3 150.2h2v2h-2zM528.6 150.2h3.7v2h-3.7zM535.7 150.2h3.7v2h-3.7zM544.6 150.2h10.8v2h-10.8zM557 150.2h5.5v2h-5.5zM564.1 150.2h2v2h-2zM569.4 150.2h2v2h-2zM576.5 150.2h3.7v2h-3.7zM581.9 150.2h2v2h-2zM585.4 150.2h2v2h-2zM589 150.2h2v2h-2zM599.6 150.2h2v2h-2zM606.7 150.2h2v2h-2zM620.9 150.2h2v2h-2zM539.3 152h2v2h-2zM555.2 152h2v2h-2zM558.8 152h2v2h-2zM564.1 152h3.7v2h-3.7zM564.1 153.8h2v2h-2zM576.5 153.8h2v2h-2zM581.9 153.8h2v2h-2zM521.5 155.6h3.7v2h-3.7zM580.1 155.6h2v2h-2zM523.3 157.4h2v2h-2zM564.1 157.4h3.7v2h-3.7zM539.3 159.1h2v2h-2zM564.1 159.1h2v2h-2zM597.8 160.9h2v2h-2zM684.8 160.9h2v2h-2zM691.9 160.9h2v2h-2zM704.3 160.9h2v2h-2zM523.3 162.7h2v2h-2zM565.9 162.7h2v2h-2zM580.1 162.7h3.7v2h-3.7zM523.3 164.5h2v2h-2zM558.8 164.5h2v2h-2zM581.9 164.5h2v2h-2zM525.1 166.2h2v2h-2zM532.2 166.2h2v2h-2zM544.6 166.2h2v2h-2zM560.6 166.2h2v2h-2zM564.1 166.2h2v2h-2zM567.7 166.2h2v2h-2zM574.8 166.2h2v2h-2zM585.4 166.2h2v2h-2zM589 166.2h2v2h-2zM599.6 166.2h2v2h-2zM620.9 166.2h2v2h-2zM555.2 168h2v2h-2zM564.1 168h2v2h-2zM580.1 168h3.7v2h-3.7zM684.8 169.8h2v2h-2zM523.3 171.6h2v2h-2zM539.3 171.6h2v2h-2zM523.3 173.4h2v2h-2zM555.2 173.4h2v2h-2zM564.1 173.4h2v2h-2zM580.1 173.4h3.7v2h-3.7zM523.3 175.1h2v2h-2zM564.1 175.1h2v2h-2zM523.3 176.9h2v2h-2zM565.9 176.9h2v2h-2zM523.3 178.7h2v2h-2zM555.2 178.7h2v2h-2zM523.3 180.5h2v2h-2zM580.1 180.5h2v2h-2zM516.2 182.2h3.7v2h-3.7zM525.1 182.2h2v2h-2zM541 182.2h2v2h-2zM546.4 182.2h2v2h-2zM551.7 182.2h2v2h-2zM560.6 182.2h2v2h-2zM565.9 182.2h2v2h-2zM569.4 182.2h2v2h-2zM580.1 182.2h2v2h-2zM585.4 182.2h2v2h-2zM589 182.2h2v2h-2zM606.7 182.2h2v2h-2zM620.9 182.2h2v2h-2zM523.3 184h2v2h-2zM564.1 184h2v2h-2zM576.5 184h2v2h-2zM523.3 185.8h3.7v2h-3.7zM537.5 185.8h2v2h-2zM558.8 185.8h2v2h-2zM564.1 185.8h3.7v2h-3.7zM571.2 185.8h2v2h-2zM576.5 185.8h2v2h-2zM581.9 185.8h3.7v2h-3.7zM599.6 185.8h2v2h-2zM523.3 187.6h2v2h-2zM539.3 187.6h2v2h-2zM555.2 187.6h2v2h-2zM564.1 187.6h2v2h-2zM581.9 187.6h2v2h-2zM597.8 189.3h2v2h-2zM684.8 189.3h2v2h-2zM691.9 189.3h2v2h-2zM723.8 189.3h2v2h-2zM518 191.1h2v2h-2zM523.3 191.1h5.5v2h-5.5zM530.4 191.1h3.7v2h-3.7zM539.3 191.1h3.7v2h-3.7zM546.4 191.1h3.7v2h-3.7zM557 191.1h5.5v2h-5.5zM567.7 191.1h2v2h-2zM571.2 191.1h2v2h-2zM514.4 192.9h3.7v2h-3.7zM525.1 192.9h2v2h-2zM530.4 192.9h2v2h-2zM535.7 192.9h2v2h-2zM549.9 192.9h2v2h-2zM555.2 192.9h2v2h-2zM558.8 192.9h2v2h-2zM567.7 192.9h2v2h-2zM571.2 192.9h3.7v2h-3.7zM578.3 192.9h2v2h-2zM585.4 192.9h2v2h-2zM620.9 192.9h2v2h-2zM518 194.7h2v2h-2zM521.5 194.7h2v2h-2zM539.3 194.7h2v2h-2zM564.1 194.7h12.6v2h-12.6zM578.3 194.7h2v2h-2zM599.6 194.7h2v2h-2zM620.9 194.7h2v2h-2zM523.3 196.5h2v2h-2zM555.2 196.5h2v2h-2zM567.7 196.5h2v2h-2zM571.2 196.5h2v2h-2zM578.3 196.5h2v2h-2zM558.8 198.2h2v2h-2zM564.1 198.2h7.3v2h-7.3zM585.4 198.2h2v2h-2zM620.9 198.2h2v2h-2zM565.9 200h3.7v2h-3.7zM585.4 200h2v2h-2zM589 200h2v2h-2zM539.3 201.8h2v2h-2zM567.7 201.8h2v2h-2zM583.6 201.8h3.7v2h-3.7zM523.3 203.6h2v2h-2zM526.8 203.6h2v2h-2zM557 203.6h3.7v2h-3.7zM599.6 203.6h2v2h-2zM620.9 203.6h2v2h-2zM523.3 205.3h2v2h-2zM565.9 205.3h5.5v2h-5.5zM583.6 205.3h2v2h-2zM589 205.3h2v2h-2zM528.6 207.1h2v2h-2zM535.7 207.1h2v2h-2zM541 207.1h2v2h-2zM546.4 207.1h2v2h-2zM553.5 207.1h3.7v2h-3.7zM606.7 207.1h2v2h-2zM620.9 207.1h2v2h-2zM514.4 208.9h5.5v2h-5.5zM521.5 208.9h3.7v2h-3.7zM526.8 208.9h2v2h-2zM535.7 208.9h3.7v2h-3.7zM541 208.9h2v2h-2zM546.4 208.9h2v2h-2zM558.8 208.9h3.7v2h-3.7zM599.6 208.9h2v2h-2zM620.9 208.9h2v2h-2zM558.8 210.7h2v2h-2zM574.8 210.7h2v2h-2zM578.3 210.7h2v2h-2zM523.3 212.5h2v2h-2zM539.3 212.5h2v2h-2zM555.2 212.5h2v2h-2zM565.9 212.5h2v2h-2zM571.2 212.5h5.5v2h-5.5zM523.3 216h2v2h-2zM539.3 216h2v2h-2zM555.2 216h2v2h-2zM573 216h2v2h-2zM578.3 216h2v2h-2zM606.7 217.8h2v2h-2zM658.2 217.8h2v2h-2zM684.8 217.8h2v2h-2zM691.9 217.8h2v2h-2zM723.8 217.8h2v2h-2zM738 217.8h2v2h-2zM601.4 221.3h2v2h-2zM599.6 223.1h2v2h-2zM519.7 224.9h2v2h-2zM533.9 224.9h2v2h-2zM562.3 224.9h2v2h-2zM606.7 224.9h2v2h-2zM640.4 224.9h3.7v2h-3.7zM647.5 224.9h2v2h-2zM651.1 224.9h2v2h-2zM683 224.9h2v2h-2zM700.8 224.9h2v2h-2zM704.3 224.9h2v2h-2zM711.4 224.9h2v2h-2zM723.8 224.9h2v2h-2zM738 224.9h2v2h-2zM521.5 226.7h3.7v2h-3.7zM539.3 226.7h2v2h-2zM558.8 226.7h2v2h-2zM567.7 226.7h2v2h-2zM576.5 226.7h2v2h-2zM581.9 226.7h2v2h-2zM596.1 226.7h2v2h-2zM599.6 226.7h3.7v2h-3.7zM608.5 226.7h2v2h-2zM624.4 226.7h2v2h-2zM636.9 226.7h3.7v2h-3.7zM686.6 226.7h2v2h-2zM695.4 226.7h2v2h-2zM718.5 226.7h2v2h-2zM722.1 226.7h2v2h-2zM727.4 226.7h3.7v2h-3.7zM594.3 228.4h2v2h-2zM599.6 228.4h7.3v2h-7.3zM608.5 228.4h2v2h-2zM601.4 230.2h2v2h-2zM608.5 230.2h2v2h-2zM601.4 232h2v2h-2zM604.9 232h2v2h-2zM523.3 233.8h2v2h-2zM555.2 233.8h2v2h-2zM580.1 233.8h2v2h-2zM590.7 233.8h2v2h-2zM597.8 233.8h2v2h-2zM631.5 233.8h2v2h-2zM640.4 233.8h2v2h-2zM651.1 233.8h2v2h-2zM668.8 233.8h2v2h-2zM683 233.8h3.7v2h-3.7zM691.9 233.8h2v2h-2zM700.8 233.8h2v2h-2zM704.3 233.8h2v2h-2zM711.4 233.8h2v2h-2zM723.8 233.8h2v2h-2zM730.9 233.8h2v2h-2zM599.6 235.6h5.5v2h-5.5zM645.7 237.3h2v2h-2zM691.9 240.9h2v2h-2zM723.8 240.9h2v2h-2zM521.5 248h3.7v2h-3.7zM539.3 248h2v2h-2zM555.2 248h2v2h-2zM565.9 248h3.7v2h-3.7zM571.2 248h2v2h-2zM576.5 248h2v2h-2zM580.1 248h3.7v2h-3.7zM638.6 248h2v2h-2zM663.5 248h3.7v2h-3.7zM668.8 248h2v2h-2zM686.6 248h2v2h-2zM718.5 248h2v2h-2zM599.6 251.6h2v2h-2zM606.7 258.7h2v2h-2zM599.6 264h2v2h-2zM599.6 265.8h2v2h-2zM620.9 265.8h2v2h-2zM597.8 267.6h2v2h-2zM606.7 267.6h2v2h-2zM597.8 269.3h2v2h-2zM610.3 272.9h2v2h-2zM597.8 274.7h2v2h-2zM597.8 278.2h2v2h-2zM606.7 278.2h2v2h-2zM654.6 280h2v2h-2zM695.4 280h2v2h-2zM700.8 280h2v2h-2zM711.4 280h2v2h-2zM722.1 280h2v2h-2zM729.2 280h3.7v2h-3.7zM652.8 281.8h2v2h-2zM718.5 281.8h2v2h-2zM700.8 283.5h3.7v2h-3.7zM711.4 283.5h2v2h-2zM730.9 283.5h2v2h-2zM590.7 285.3h2v2h-2zM679.5 285.3h3.7v2h-3.7zM707.9 285.3h5.5v2h-5.5zM700.8 287.1h2v2h-2zM718.5 287.1h2v2h-2zM730.9 287.1h2v2h-2zM700.8 288.9h2v2h-2zM730.9 288.9h2v2h-2zM620.9 290.7h2v2h-2zM675.9 290.7h2v2h-2zM681.2 290.7h2v2h-2zM686.6 290.7h2v2h-2zM693.7 290.7h3.7v2h-3.7zM700.8 290.7h2v2h-2zM706.1 290.7h3.7v2h-3.7zM716.7 290.7h7.3v2h-7.3zM732.7 290.7h2v2h-2zM620.9 292.4h2v2h-2zM677.7 292.4h2v2h-2zM700.8 292.4h3.7v2h-3.7zM706.1 292.4h2v2h-2zM711.4 292.4h3.7v2h-3.7zM730.9 292.4h2v2h-2zM700.8 294.2h2v2h-2zM727.4 294.2h2v2h-2zM606.7 296h2v2h-2zM620.9 296h2v2h-2zM675.9 296h2v2h-2zM690.1 296h2v2h-2zM693.7 296h5.5v2h-5.5zM700.8 296h2v2h-2zM715 296h2v2h-2zM718.5 296h3.7v2h-3.7zM727.4 296h3.7v2h-3.7zM736.3 296h2v2h-2zM745.1 296h2v2h-2zM688.3 297.8h2v2h-2zM702.5 297.8h3.7v2h-3.7zM730.9 299.5h2v2h-2zM702.5 301.3h2v2h-2zM730.9 301.3h2v2h-2zM663.5 303.1h2v2h-2zM668.8 303.1h2v2h-2zM718.5 303.1h2v2h-2zM722.1 303.1h2v2h-2zM665.3 304.9h2v2h-2zM700.8 304.9h2v2h-2zM704.3 304.9h3.7v2h-3.7zM658.2 306.7h2v2h-2zM686.6 306.7h2v2h-2zM695.4 306.7h2v2h-2zM700.8 306.7h2v2h-2zM711.4 306.7h2v2h-2zM658.2 308.4h2v2h-2zM663.5 308.4h2v2h-2zM700.8 308.4h3.7v2h-3.7zM706.1 308.4h2v2h-2zM729.2 308.4h3.7v2h-3.7zM597.8 310.2h2v2h-2zM606.7 310.2h2v2h-2zM519.7 312h2v2h-2zM533.9 312h2v2h-2zM542.8 312h2v2h-2zM562.3 312h2v2h-2zM590.7 312h2v2h-2zM606.7 312h2v2h-2zM599.6 313.8h2v2h-2zM620.9 313.8h2v2h-2zM663.5 313.8h2v2h-2zM679.5 313.8h2v2h-2zM693.7 313.8h2v2h-2zM697.2 313.8h2v2h-2zM707.9 313.8h2v2h-2zM711.4 313.8h2v2h-2zM716.7 313.8h2v2h-2zM720.3 313.8h2v2h-2zM729.2 313.8h2v2h-2zM732.7 313.8h2v2h-2zM670.6 315.5h2v2h-2zM722.1 315.5h2v2h-2zM668.8 317.3h2v2h-2zM711.4 317.3h2v2h-2zM730.9 317.3h2v2h-2zM533.9 319.1h2v2h-2zM562.3 319.1h2v2h-2zM590.7 319.1h2v2h-2zM606.7 319.1h2v2h-2zM613.8 319.1h2v2h-2zM663.5 320.9h2v2h-2zM668.8 320.9h2v2h-2zM686.6 320.9h2v2h-2zM695.4 320.9h2v2h-2zM730.9 320.9h2v2h-2zM599.6 322.6h2v2h-2zM652.8 322.6h2v2h-2zM663.5 322.6h2v2h-2zM668.8 322.6h2v2h-2zM679.5 322.6h2v2h-2zM693.7 322.6h2v2h-2zM699 322.6h3.7v2h-3.7zM713.2 322.6h2v2h-2zM716.7 322.6h2v2h-2zM722.1 322.6h2v2h-2zM727.4 322.6h2v2h-2zM736.3 322.6h2v2h-2zM743.4 322.6h3.7v2h-3.7zM668.8 324.4h2v2h-2zM686.6 324.4h2v2h-2zM695.4 326.2h2v2h-2zM700.8 326.2h3.7v2h-3.7zM597.8 328h2v2h-2zM606.7 328h2v2h-2zM652.8 328h2v2h-2zM656.4 328h2v2h-2zM659.9 328h10.8v2h-10.8zM677.7 328h5.5v2h-5.5zM695.4 328h2v2h-2zM699 328h2v2h-2zM715 328h2v2h-2zM656.4 329.8h2v2h-2zM665.3 329.8h2v2h-2zM670.6 329.8h2v2h-2zM674.1 329.8h2v2h-2zM681.2 329.8h2v2h-2zM699 329.8h2v2h-2zM709.6 329.8h2v2h-2zM713.2 329.8h2v2h-2zM716.7 329.8h2v2h-2zM720.3 329.8h2v2h-2zM533.9 331.5h2v2h-2zM597.8 331.5h2v2h-2zM606.7 331.5h2v2h-2zM670.6 331.5h2v2h-2zM677.7 331.5h2v2h-2zM663.5 333.3h3.7v2h-3.7zM677.7 333.3h2v2h-2zM681.2 333.3h2v2h-2zM715 333.3h3.7v2h-3.7zM722.1 333.3h2v2h-2zM734.5 333.3h2v2h-2zM741.6 333.3h2v2h-2zM745.1 333.3h2v2h-2zM658.2 335.1h2v2h-2zM663.5 335.1h2v2h-2zM686.6 335.1h2v2h-2zM711.4 335.1h2v2h-2zM715 335.1h2v2h-2zM718.5 335.1h2v2h-2zM722.1 335.1h2v2h-2zM729.2 335.1h2v2h-2zM734.5 335.1h3.7v2h-3.7zM745.1 335.1h2v2h-2zM658.2 336.9h2v2h-2zM702.5 336.9h2v2h-2zM715 336.9h2v2h-2zM597.8 338.6h2v2h-2zM606.7 338.6h2v2h-2zM652.8 338.6h2v2h-2zM656.4 338.6h3.7v2h-3.7zM665.3 338.6h2v2h-2zM679.5 338.6h2v2h-2zM686.6 338.6h2v2h-2zM690.1 338.6h2v2h-2zM707.9 338.6h2v2h-2zM716.7 338.6h2v2h-2zM725.6 338.6h2v2h-2zM665.3 340.4h2v2h-2zM695.4 340.4h2v2h-2zM702.5 340.4h2v2h-2zM722.1 340.4h2v2h-2zM727.4 340.4h2v2h-2zM734.5 340.4h3.7v2h-3.7zM741.6 340.4h2v2h-2zM668.8 342.2h2v2h-2zM700.8 342.2h2v2h-2zM706.1 342.2h5.5v2h-5.5zM725.6 342.2h2v2h-2zM663.5 344h2v2h-2zM686.6 344h2v2h-2zM695.4 344h2v2h-2zM702.5 344h2v2h-2zM706.1 344h2v2h-2zM711.4 344h2v2h-2zM722.1 344h2v2h-2zM727.4 344h2v2h-2zM734.5 344h2v2h-2zM741.6 344h2v2h-2zM599.6 345.8h2v2h-2zM620.9 345.8h2v2h-2zM654.6 345.8h2v2h-2zM659.9 345.8h2v2h-2zM663.5 345.8h2v2h-2zM668.8 345.8h2v2h-2zM675.9 345.8h2v2h-2zM707.9 345.8h2v2h-2zM663.5 347.5h2v2h-2zM668.8 347.5h2v2h-2zM686.6 347.5h2v2h-2zM702.5 347.5h2v2h-2zM722.1 347.5h2v2h-2zM734.5 347.5h2v2h-2zM745.1 347.5h2v2h-2zM599.6 349.3h2v2h-2zM652.8 349.3h2v2h-2zM663.5 349.3h2v2h-2zM675.9 349.3h2v2h-2zM688.3 349.3h2v2h-2zM695.4 349.3h2v2h-2zM706.1 349.3h3.7v2h-3.7zM713.2 349.3h2v2h-2zM716.7 349.3h2v2h-2zM720.3 349.3h2v2h-2zM519.7 351.1h2v2h-2zM562.3 351.1h2v2h-2zM590.7 351.1h2v2h-2zM597.8 351.1h2v2h-2zM606.7 351.1h2v2h-2zM613.8 351.1h2v2h-2zM711.4 352.9h2v2h-2zM715 352.9h2v2h-2zM727.4 352.9h2v2h-2zM599.6 354.6h2v2h-2zM667 354.6h3.7v2h-3.7zM695.4 354.6h2v2h-2zM713.2 354.6h2v2h-2zM716.7 354.6h2v2h-2zM725.6 354.6h2v2h-2zM599.6 356.4h2v2h-2zM652.8 356.4h2v2h-2zM668.8 356.4h2v2h-2zM681.2 356.4h2v2h-2zM686.6 356.4h2v2h-2zM707.9 356.4h2v2h-2zM606.7 358.2h2v2h-2zM652.8 358.2h2v2h-2zM656.4 358.2h2v2h-2zM659.9 358.2h3.7v2h-3.7zM665.3 358.2h2v2h-2zM672.4 358.2h3.7v2h-3.7zM681.2 358.2h2v2h-2zM690.1 358.2h2v2h-2zM693.7 358.2h2v2h-2zM663.5 360h2v2h-2zM686.6 360h2v2h-2zM706.1 361.7h3.7v2h-3.7zM713.2 361.7h2v2h-2zM716.7 361.7h2v2h-2zM720.3 361.7h2v2h-2zM668.8 363.5h2v2h-2zM695.4 363.5h2v2h-2zM707.9 363.5h2v2h-2zM713.2 363.5h2v2h-2zM590.7 365.3h2v2h-2zM597.8 365.3h2v2h-2zM706.1 368.9h2v2h-2zM713.2 368.9h2v2h-2zM716.7 368.9h2v2h-2zM695.4 370.6h2v2h-2zM668.8 372.4h2v2h-2zM695.4 372.4h2v2h-2zM706.1 372.4h3.7v2h-3.7zM720.3 372.4h2v2h-2z" fill="#ffff7a"/>
<path d="M555.2 141.4h2v2h-2zM564.1 141.4h2v2h-2zM576.5 141.4h2v2h-2zM580.1 141.4h2v2h-2zM542.8 143.1h2v2h-2zM564.1 143.1h2v2h-2zM580.1 143.1h2v2h-2zM542.8 144.9h2v2h-2zM580.1 144.9h2v2h-2zM599.6 146.7h2v2h-2zM620.9 146.7h2v2h-2zM564.1 148.5h2v2h-2zM580.1 148.5h2v2h-2zM532.2 150.2h2v2h-2zM541 150.2h3.7v2h-3.7zM555.2 150.2h2v2h-2zM567.7 150.2h2v2h-2zM573 150.2h3.7v2h-3.7zM587.2 150.2h2v2h-2zM581.9 152h2v2h-2zM533.9 153.8h2v2h-2zM542.8 153.8h2v2h-2zM580.1 153.8h2v2h-2zM555.2 155.6h2v2h-2zM581.9 155.6h2v2h-2zM580.1 157.4h3.7v2h-3.7zM523.3 159.1h2v2h-2zM542.8 159.1h2v2h-2zM580.1 159.1h3.7v2h-3.7zM526.8 160.9h2v2h-2zM541 160.9h2v2h-2zM544.6 160.9h2v2h-2zM548.1 160.9h5.5v2h-5.5zM557 160.9h2v2h-2zM565.9 160.9h2v2h-2zM574.8 160.9h5.5v2h-5.5zM599.6 160.9h2v2h-2zM620.9 160.9h2v2h-2zM564.1 162.7h2v2h-2zM542.8 164.5h2v2h-2zM564.1 164.5h2v2h-2zM576.5 164.5h2v2h-2zM580.1 164.5h2v2h-2zM541 166.2h3.7v2h-3.7zM557 166.2h2v2h-2zM580.1 166.2h2v2h-2zM523.3 168h2v2h-2zM533.9 168h2v2h-2zM539.3 168h2v2h-2zM516.2 169.8h3.7v2h-3.7zM523.3 169.8h2v2h-2zM526.8 169.8h2v2h-2zM532.2 169.8h2v2h-2zM537.5 169.8h3.7v2h-3.7zM549.9 169.8h3.7v2h-3.7zM555.2 169.8h2v2h-2zM558.8 169.8h2v2h-2zM564.1 169.8h2v2h-2zM567.7 169.8h3.7v2h-3.7zM573 169.8h2v2h-2zM580.1 169.8h3.7v2h-3.7zM585.4 169.8h5.5v2h-5.5zM620.9 169.8h2v2h-2zM533.9 171.6h2v2h-2zM564.1 171.6h2v2h-2zM580.1 171.6h3.7v2h-3.7zM533.9 175.1h2v2h-2zM533.9 176.9h2v2h-2zM542.8 176.9h2v2h-2zM555.2 176.9h2v2h-2zM562.3 176.9h3.7v2h-3.7zM580.1 176.9h3.7v2h-3.7zM533.9 178.7h2v2h-2zM542.8 178.7h2v2h-2zM580.1 178.7h3.7v2h-3.7zM564.1 180.5h2v2h-2zM576.5 180.5h2v2h-2zM514.4 182.2h2v2h-2zM523.3 182.2h2v2h-2zM528.6 182.2h2v2h-2zM542.8 182.2h2v2h-2zM549.9 182.2h2v2h-2zM558.8 182.2h2v2h-2zM564.1 182.2h2v2h-2zM567.7 182.2h2v2h-2zM574.8 182.2h2v2h-2zM578.3 182.2h2v2h-2zM583.6 182.2h2v2h-2zM599.6 182.2h2v2h-2zM533.9 184h2v2h-2zM539.3 184h2v2h-2zM580.1 184h3.7v2h-3.7zM542.8 185.8h2v2h-2zM555.2 185.8h2v2h-2zM580.1 185.8h2v2h-2zM580.1 187.6h2v2h-2zM549.9 189.3h2v2h-2zM565.9 189.3h2v2h-2zM599.6 189.3h2v2h-2zM620.9 189.3h2v2h-2zM514.4 191.1h3.7v2h-3.7zM521.5 191.1h2v2h-2zM535.7 191.1h3.7v2h-3.7zM542.8 191.1h3.7v2h-3.7zM549.9 191.1h2v2h-2zM553.5 191.1h3.7v2h-3.7zM564.1 191.1h3.7v2h-3.7zM569.4 191.1h2v2h-2zM573 191.1h3.7v2h-3.7zM578.3 191.1h2v2h-2zM585.4 191.1h2v2h-2zM599.6 191.1h2v2h-2zM620.9 191.1h2v2h-2zM533.9 192.9h2v2h-2zM562.3 192.9h3.7v2h-3.7zM583.6 192.9h2v2h-2zM523.3 194.7h2v2h-2zM542.8 194.7h2v2h-2zM555.2 194.7h2v2h-2zM576.5 194.7h2v2h-2zM585.4 194.7h5.5v2h-5.5zM542.8 196.5h2v2h-2zM564.1 196.5h2v2h-2zM576.5 196.5h2v2h-2zM583.6 196.5h7.3v2h-7.3zM583.6 198.2h2v2h-2zM587.2 198.2h2v2h-2zM523.3 200h2v2h-2zM542.8 200h2v2h-2zM564.1 200h2v2h-2zM580.1 200h3.7v2h-3.7zM587.2 200h2v2h-2zM523.3 201.8h2v2h-2zM533.9 201.8h2v2h-2zM555.2 201.8h2v2h-2zM564.1 201.8h2v2h-2zM587.2 201.8h3.7v2h-3.7zM514.4 203.6h2v2h-2zM533.9 203.6h2v2h-2zM537.5 203.6h2v2h-2zM553.5 203.6h2v2h-2zM567.7 203.6h3.7v2h-3.7zM533.9 205.3h2v2h-2zM555.2 205.3h2v2h-2zM564.1 205.3h2v2h-2zM580.1 205.3h2v2h-2zM585.4 205.3h3.7v2h-3.7zM514.4 207.1h5.5v2h-5.5zM521.5 207.1h2v2h-2zM526.8 207.1h2v2h-2zM530.4 207.1h3.7v2h-3.7zM537.5 207.1h3.7v2h-3.7zM542.8 207.1h3.7v2h-3.7zM549.9 207.1h3.7v2h-3.7zM557 207.1h5.5v2h-5.5zM573 207.1h2v2h-2zM578.3 207.1h2v2h-2zM599.6 207.1h2v2h-2zM525.1 208.9h2v2h-2zM528.6 208.9h5.5v2h-5.5zM542.8 208.9h3.7v2h-3.7zM549.9 208.9h3.7v2h-3.7zM557 208.9h2v2h-2zM573 208.9h2v2h-2zM555.2 210.7h2v2h-2zM565.9 210.7h2v2h-2zM569.4 210.7h3.7v2h-3.7zM585.4 210.7h3.7v2h-3.7zM542.8 212.5h2v2h-2zM564.1 212.5h2v2h-2zM567.7 212.5h3.7v2h-3.7zM578.3 212.5h2v2h-2zM583.6 212.5h2v2h-2zM589 212.5h2v2h-2zM523.3 214.2h2v2h-2zM542.8 214.2h2v2h-2zM567.7 214.2h9.1v2h-9.1zM578.3 214.2h2v2h-2zM583.6 214.2h2v2h-2zM589 214.2h2v2h-2zM542.8 216h2v2h-2zM567.7 216h3.7v2h-3.7zM574.8 216h2v2h-2zM585.4 216h3.7v2h-3.7zM599.6 217.8h2v2h-2zM620.9 217.8h2v2h-2zM610.3 221.3h2v2h-2zM612 224.9h2v2h-2zM645.7 224.9h2v2h-2zM684.8 224.9h2v2h-2zM519.7 226.7h2v2h-2zM533.9 226.7h2v2h-2zM555.2 226.7h2v2h-2zM562.3 226.7h3.7v2h-3.7zM580.1 226.7h2v2h-2zM590.7 226.7h2v2h-2zM631.5 226.7h3.7v2h-3.7zM640.4 226.7h2v2h-2zM663.5 226.7h3.7v2h-3.7zM683 226.7h2v2h-2zM700.8 226.7h5.5v2h-5.5zM711.4 226.7h2v2h-2zM730.9 226.7h2v2h-2zM642.2 233.8h2v2h-2zM645.7 233.8h3.7v2h-3.7zM738 233.8h2v2h-2zM594.3 237.3h2v2h-2zM597.8 239.1h2v2h-2zM519.7 248h2v2h-2zM533.9 248h2v2h-2zM542.8 248h2v2h-2zM562.3 248h3.7v2h-3.7zM590.7 248h2v2h-2zM631.5 248h3.7v2h-3.7zM651.1 248h2v2h-2zM658.2 248h2v2h-2zM683 248h2v2h-2zM691.9 248h2v2h-2zM700.8 248h5.5v2h-5.5zM711.4 248h2v2h-2zM730.9 248h2v2h-2zM599.6 258.7h2v2h-2zM620.9 258.7h2v2h-2zM599.6 260.4h2v2h-2zM620.9 260.4h2v2h-2zM599.6 267.6h2v2h-2zM606.7 269.3h2v2h-2zM597.8 272.9h2v2h-2zM606.7 272.9h2v2h-2zM606.7 274.7h2v2h-2zM620.9 278.2h2v2h-2zM652.8 280h2v2h-2zM656.4 280h2v2h-2zM659.9 280h3.7v2h-3.7zM704.3 280h2v2h-2zM654.6 281.8h3.7v2h-3.7zM700.8 281.8h2v2h-2zM711.4 281.8h2v2h-2zM730.9 281.8h2v2h-2zM652.8 283.5h5.5v2h-5.5zM659.9 283.5h3.7v2h-3.7zM686.6 283.5h2v2h-2zM704.3 283.5h2v2h-2zM739.8 283.5h2v2h-2zM620.9 285.3h2v2h-2zM677.7 285.3h2v2h-2zM686.6 285.3h3.7v2h-3.7zM693.7 285.3h2v2h-2zM699 285.3h9.1v2h-9.1zM713.2 285.3h2v2h-2zM716.7 285.3h2v2h-2zM720.3 285.3h2v2h-2zM725.6 285.3h2v2h-2zM729.2 285.3h3.7v2h-3.7zM734.5 285.3h3.7v2h-3.7zM741.6 285.3h5.5v2h-5.5zM652.8 287.1h2v2h-2zM656.4 287.1h2v2h-2zM702.5 287.1h2v2h-2zM711.4 287.1h2v2h-2zM652.8 288.9h2v2h-2zM656.4 288.9h2v2h-2zM704.3 288.9h2v2h-2zM711.4 288.9h2v2h-2zM599.6 290.7h2v2h-2zM688.3 290.7h3.7v2h-3.7zM697.2 290.7h2v2h-2zM702.5 290.7h2v2h-2zM709.6 290.7h5.5v2h-5.5zM730.9 290.7h2v2h-2zM739.8 290.7h5.5v2h-5.5zM599.6 292.4h2v2h-2zM699 292.4h2v2h-2zM704.3 292.4h2v2h-2zM715 292.4h2v2h-2zM711.4 294.2h2v2h-2zM718.5 294.2h2v2h-2zM739.8 294.2h2v2h-2zM677.7 296h5.5v2h-5.5zM686.6 296h2v2h-2zM704.3 296h2v2h-2zM709.6 296h2v2h-2zM725.6 296h2v2h-2zM730.9 296h3.7v2h-3.7zM739.8 296h2v2h-2zM700.8 299.5h2v2h-2zM704.3 299.5h2v2h-2zM711.4 299.5h2v2h-2zM683 301.3h2v2h-2zM700.8 301.3h2v2h-2zM704.3 301.3h2v2h-2zM711.4 301.3h2v2h-2zM700.8 303.1h2v2h-2zM730.9 303.1h2v2h-2zM658.2 304.9h2v2h-2zM668.8 304.9h2v2h-2zM702.5 304.9h2v2h-2zM711.4 304.9h2v2h-2zM730.9 304.9h2v2h-2zM668.8 306.7h2v2h-2zM668.8 308.4h2v2h-2zM704.3 308.4h2v2h-2zM711.4 308.4h2v2h-2zM718.5 308.4h2v2h-2zM599.6 310.2h2v2h-2zM620.9 310.2h2v2h-2zM674.1 310.2h2v2h-2zM683 310.2h2v2h-2zM695.4 310.2h2v2h-2zM707.9 310.2h5.5v2h-5.5zM715 310.2h2v2h-2zM720.3 310.2h2v2h-2zM725.6 310.2h2v2h-2zM729.2 310.2h2v2h-2zM734.5 310.2h2v2h-2zM597.8 312h2v2h-2zM656.4 313.8h3.7v2h-3.7zM668.8 313.8h2v2h-2zM686.6 313.8h2v2h-2zM702.5 313.8h2v2h-2zM730.9 313.8h2v2h-2zM658.2 315.5h2v2h-2zM663.5 315.5h2v2h-2zM700.8 315.5h2v2h-2zM704.3 315.5h2v2h-2zM711.4 315.5h2v2h-2zM730.9 315.5h2v2h-2zM663.5 317.3h2v2h-2zM718.5 317.3h2v2h-2zM739.8 317.3h2v2h-2zM620.9 319.1h2v2h-2zM658.2 320.9h2v2h-2zM700.8 320.9h2v2h-2zM711.4 320.9h2v2h-2zM683 322.6h2v2h-2zM704.3 322.6h2v2h-2zM711.4 322.6h2v2h-2zM718.5 322.6h2v2h-2zM729.2 322.6h2v2h-2zM741.6 322.6h2v2h-2zM663.5 324.4h2v2h-2zM704.3 324.4h2v2h-2zM711.4 324.4h2v2h-2zM730.9 324.4h2v2h-2zM658.2 326.2h2v2h-2zM665.3 326.2h2v2h-2zM704.3 326.2h2v2h-2zM711.4 326.2h2v2h-2zM730.9 326.2h2v2h-2zM739.8 326.2h2v2h-2zM599.6 328h2v2h-2zM620.9 328h2v2h-2zM654.6 328h2v2h-2zM658.2 328h2v2h-2zM672.4 328h5.5v2h-5.5zM688.3 328h2v2h-2zM693.7 328h2v2h-2zM707.9 328h2v2h-2zM713.2 328h2v2h-2zM716.7 328h7.3v2h-7.3zM725.6 328h3.7v2h-3.7zM732.7 328h2v2h-2zM599.6 329.8h2v2h-2zM620.9 329.8h2v2h-2zM658.2 329.8h3.7v2h-3.7zM663.5 329.8h2v2h-2zM677.7 329.8h2v2h-2zM686.6 329.8h2v2h-2zM711.4 329.8h2v2h-2zM715 329.8h2v2h-2zM718.5 329.8h2v2h-2zM722.1 329.8h2v2h-2zM727.4 329.8h2v2h-2zM734.5 329.8h2v2h-2zM745.1 329.8h2v2h-2zM599.6 331.5h2v2h-2zM620.9 331.5h2v2h-2zM652.8 331.5h2v2h-2zM656.4 331.5h3.7v2h-3.7zM661.7 331.5h2v2h-2zM665.3 331.5h2v2h-2zM668.8 331.5h2v2h-2zM672.4 331.5h3.7v2h-3.7zM681.2 331.5h2v2h-2zM688.3 331.5h2v2h-2zM695.4 331.5h5.5v2h-5.5zM707.9 331.5h3.7v2h-3.7zM713.2 331.5h3.7v2h-3.7zM720.3 331.5h2v2h-2zM725.6 331.5h2v2h-2zM658.2 333.3h2v2h-2zM711.4 333.3h2v2h-2zM718.5 333.3h2v2h-2zM727.4 333.3h2v2h-2zM736.3 333.3h2v2h-2zM743.4 333.3h2v2h-2zM683 335.1h2v2h-2zM700.8 335.1h2v2h-2zM704.3 335.1h2v2h-2zM727.4 335.1h2v2h-2zM743.4 335.1h2v2h-2zM663.5 336.9h2v2h-2zM668.8 336.9h2v2h-2zM683 336.9h2v2h-2zM704.3 336.9h2v2h-2zM711.4 336.9h2v2h-2zM718.5 336.9h2v2h-2zM727.4 336.9h3.7v2h-3.7zM732.7 336.9h5.5v2h-5.5zM741.6 336.9h3.7v2h-3.7zM599.6 338.6h2v2h-2zM620.9 338.6h2v2h-2zM654.6 338.6h2v2h-2zM659.9 338.6h5.5v2h-5.5zM667 338.6h2v2h-2zM672.4 338.6h3.7v2h-3.7zM677.7 338.6h2v2h-2zM681.2 338.6h3.7v2h-3.7zM688.3 338.6h2v2h-2zM693.7 338.6h7.3v2h-7.3zM702.5 338.6h2v2h-2zM706.1 338.6h2v2h-2zM709.6 338.6h2v2h-2zM713.2 338.6h2v2h-2zM720.3 338.6h2v2h-2zM734.5 338.6h2v2h-2zM658.2 340.4h2v2h-2zM663.5 340.4h2v2h-2zM700.8 340.4h2v2h-2zM704.3 340.4h2v2h-2zM711.4 340.4h2v2h-2zM729.2 340.4h5.5v2h-5.5zM743.4 340.4h3.7v2h-3.7zM665.3 342.2h2v2h-2zM683 342.2h2v2h-2zM702.5 342.2h3.7v2h-3.7zM722.1 342.2h2v2h-2zM727.4 342.2h2v2h-2zM745.1 342.2h2v2h-2zM658.2 344h2v2h-2zM700.8 344h2v2h-2zM729.2 344h2v2h-2zM736.3 344h2v2h-2zM743.4 344h3.7v2h-3.7zM667 345.8h2v2h-2zM681.2 345.8h2v2h-2zM690.1 345.8h2v2h-2zM695.4 345.8h2v2h-2zM700.8 345.8h3.7v2h-3.7zM706.1 345.8h2v2h-2zM709.6 345.8h2v2h-2zM725.6 345.8h2v2h-2zM658.2 347.5h2v2h-2zM683 347.5h2v2h-2zM700.8 347.5h2v2h-2zM704.3 347.5h2v2h-2zM711.4 347.5h2v2h-2zM727.4 347.5h3.7v2h-3.7zM732.7 347.5h2v2h-2zM736.3 347.5h2v2h-2zM741.6 347.5h3.7v2h-3.7zM700.8 349.3h3.7v2h-3.7zM715 349.3h2v2h-2zM725.6 349.3h2v2h-2zM658.2 352.9h2v2h-2zM668.8 352.9h2v2h-2zM683 352.9h2v2h-2zM700.8 352.9h2v2h-2zM704.3 352.9h2v2h-2zM718.5 352.9h2v2h-2zM722.1 352.9h2v2h-2zM732.7 352.9h5.5v2h-5.5zM741.6 352.9h5.5v2h-5.5zM700.8 354.6h3.7v2h-3.7zM706.1 354.6h5.5v2h-5.5zM715 354.6h2v2h-2zM720.3 354.6h2v2h-2zM658.2 356.4h2v2h-2zM683 356.4h2v2h-2zM695.4 356.4h2v2h-2zM709.6 356.4h2v2h-2zM713.2 356.4h2v2h-2zM716.7 356.4h2v2h-2zM720.3 356.4h2v2h-2zM599.6 358.2h2v2h-2zM620.9 358.2h2v2h-2zM654.6 358.2h2v2h-2zM658.2 358.2h2v2h-2zM663.5 358.2h2v2h-2zM668.8 358.2h2v2h-2zM675.9 358.2h3.7v2h-3.7zM686.6 358.2h3.7v2h-3.7zM697.2 358.2h3.7v2h-3.7zM713.2 358.2h2v2h-2zM668.8 360h2v2h-2zM700.8 360h2v2h-2zM709.6 360h2v2h-2zM713.2 360h2v2h-2zM720.3 360h2v2h-2zM725.6 360h2v2h-2zM658.2 361.7h2v2h-2zM683 361.7h2v2h-2zM702.5 361.7h2v2h-2zM709.6 361.7h3.7v2h-3.7zM725.6 361.7h2v2h-2zM658.2 363.5h2v2h-2zM706.1 363.5h2v2h-2zM709.6 363.5h2v2h-2zM716.7 363.5h2v2h-2zM720.3 363.5h2v2h-2zM725.6 363.5h2v2h-2zM606.7 365.3h2v2h-2zM656.4 367.1h2v2h-2zM663.5 367.1h2v2h-2zM667 367.1h3.7v2h-3.7zM690.1 367.1h2v2h-2zM699 367.1h2v2h-2zM658.2 368.9h2v2h-2zM663.5 368.9h2v2h-2zM695.4 368.9h2v2h-2zM709.6 368.9h2v2h-2zM720.3 368.9h2v2h-2zM725.6 368.9h2v2h-2zM658.2 370.6h2v2h-2zM663.5 370.6h2v2h-2zM706.1 370.6h5.5v2h-5.5zM713.2 370.6h2v2h-2zM716.7 370.6h2v2h-2zM720.3 370.6h2v2h-2zM725.6 370.6h2v2h-2zM658.2 372.4h2v2h-2zM702.5 372.4h2v2h-2zM713.2 372.4h5.5v2h-5.5zM725.6 372.4h2v2h-2z" fill="#ffff66"/>
<path d="M533.9 141.4h2v2h-2zM542.8 141.4h2v2h-2zM562.3 141.4h2v2h-2zM533.9 143.1h2v2h-2zM533.9 144.9h2v2h-2zM523.3 146.7h2v2h-2zM553.5 146.7h3.7v2h-3.7zM567.7 146.7h2v2h-2zM523.3 148.5h2v2h-2zM533.9 148.5h2v2h-2zM590.7 148.5h2v2h-2zM519.7 150.2h3.7v2h-3.7zM539.3 150.2h2v2h-2zM562.3 150.2h2v2h-2zM571.2 150.2h2v2h-2zM580.1 150.2h2v2h-2zM542.8 152h2v2h-2zM562.3 152h2v2h-2zM580.1 152h2v2h-2zM555.2 153.8h2v2h-2zM542.8 155.6h2v2h-2zM564.1 155.6h2v2h-2zM533.9 157.4h2v2h-2zM542.8 157.4h2v2h-2zM562.3 157.4h2v2h-2zM533.9 159.1h2v2h-2zM514.4 160.9h5.5v2h-5.5zM521.5 160.9h2v2h-2zM530.4 160.9h5.5v2h-5.5zM537.5 160.9h3.7v2h-3.7zM542.8 160.9h2v2h-2zM546.4 160.9h2v2h-2zM553.5 160.9h3.7v2h-3.7zM558.8 160.9h3.7v2h-3.7zM564.1 160.9h2v2h-2zM567.7 160.9h2v2h-2zM573 160.9h2v2h-2zM581.9 160.9h5.5v2h-5.5zM589 160.9h2v2h-2zM562.3 162.7h2v2h-2zM533.9 164.5h2v2h-2zM562.3 164.5h2v2h-2zM523.3 166.2h2v2h-2zM533.9 166.2h2v2h-2zM562.3 166.2h2v2h-2zM581.9 166.2h2v2h-2zM542.8 168h2v2h-2zM562.3 168h2v2h-2zM514.4 169.8h2v2h-2zM525.1 169.8h2v2h-2zM528.6 169.8h3.7v2h-3.7zM533.9 169.8h2v2h-2zM541 169.8h2v2h-2zM548.1 169.8h2v2h-2zM557 169.8h2v2h-2zM560.6 169.8h2v2h-2zM571.2 169.8h2v2h-2zM576.5 169.8h3.7v2h-3.7zM599.6 169.8h2v2h-2zM562.3 171.6h2v2h-2zM533.9 173.4h2v2h-2zM562.3 173.4h2v2h-2zM542.8 175.1h2v2h-2zM580.1 175.1h3.7v2h-3.7zM590.7 175.1h2v2h-2zM562.3 178.7h3.7v2h-3.7zM519.7 180.5h2v2h-2zM533.9 180.5h2v2h-2zM562.3 180.5h2v2h-2zM581.9 180.5h2v2h-2zM590.7 180.5h2v2h-2zM519.7 182.2h2v2h-2zM526.8 182.2h2v2h-2zM533.9 182.2h2v2h-2zM562.3 182.2h2v2h-2zM571.2 182.2h3.7v2h-3.7zM581.9 182.2h2v2h-2zM542.8 184h2v2h-2zM562.3 184h2v2h-2zM533.9 185.8h2v2h-2zM562.3 185.8h2v2h-2zM533.9 187.6h2v2h-2zM542.8 187.6h2v2h-2zM590.7 187.6h2v2h-2zM514.4 189.3h2v2h-2zM523.3 189.3h3.7v2h-3.7zM530.4 189.3h2v2h-2zM535.7 189.3h7.3v2h-7.3zM544.6 189.3h3.7v2h-3.7zM551.7 189.3h9.1v2h-9.1zM562.3 189.3h2v2h-2zM571.2 189.3h5.5v2h-5.5zM578.3 189.3h3.7v2h-3.7zM590.7 189.3h2v2h-2zM528.6 191.1h2v2h-2zM533.9 191.1h2v2h-2zM551.7 191.1h2v2h-2zM576.5 191.1h2v2h-2zM583.6 191.1h2v2h-2zM587.2 191.1h3.7v2h-3.7zM576.5 192.9h2v2h-2zM580.1 192.9h2v2h-2zM587.2 192.9h3.7v2h-3.7zM519.7 194.7h2v2h-2zM533.9 194.7h2v2h-2zM580.1 194.7h5.5v2h-5.5zM523.3 198.2h2v2h-2zM542.8 198.2h2v2h-2zM555.2 198.2h2v2h-2zM562.3 198.2h2v2h-2zM580.1 198.2h2v2h-2zM589 198.2h2v2h-2zM533.9 200h2v2h-2zM555.2 200h2v2h-2zM562.3 200h2v2h-2zM590.7 200h2v2h-2zM562.3 201.8h2v2h-2zM581.9 201.8h2v2h-2zM542.8 203.6h2v2h-2zM564.1 203.6h3.7v2h-3.7zM587.2 203.6h3.7v2h-3.7zM542.8 205.3h2v2h-2zM562.3 205.3h2v2h-2zM581.9 205.3h2v2h-2zM523.3 207.1h3.7v2h-3.7zM548.1 207.1h2v2h-2zM562.3 207.1h2v2h-2zM565.9 207.1h3.7v2h-3.7zM571.2 207.1h2v2h-2zM583.6 207.1h3.7v2h-3.7zM533.9 208.9h2v2h-2zM539.3 208.9h2v2h-2zM548.1 208.9h2v2h-2zM553.5 208.9h3.7v2h-3.7zM567.7 208.9h2v2h-2zM574.8 208.9h2v2h-2zM578.3 208.9h2v2h-2zM583.6 208.9h2v2h-2zM533.9 210.7h2v2h-2zM564.1 210.7h2v2h-2zM567.7 210.7h2v2h-2zM580.1 210.7h5.5v2h-5.5zM589 210.7h2v2h-2zM533.9 212.5h2v2h-2zM580.1 212.5h2v2h-2zM585.4 212.5h3.7v2h-3.7zM564.1 214.2h3.7v2h-3.7zM576.5 214.2h2v2h-2zM585.4 214.2h3.7v2h-3.7zM533.9 216h2v2h-2zM564.1 216h3.7v2h-3.7zM571.2 216h2v2h-2zM576.5 216h2v2h-2zM583.6 216h2v2h-2zM521.5 217.8h2v2h-2zM548.1 217.8h2v2h-2zM553.5 217.8h2v2h-2zM560.6 217.8h3.7v2h-3.7zM573 217.8h2v2h-2zM542.8 226.7h2v2h-2zM647.5 226.7h2v2h-2zM651.1 226.7h2v2h-2zM658.2 226.7h2v2h-2zM668.8 226.7h2v2h-2zM723.8 226.7h2v2h-2zM738 226.7h3.7v2h-3.7zM640.4 248h3.7v2h-3.7zM645.7 248h3.7v2h-3.7zM684.8 248h2v2h-2zM723.8 248h2v2h-2zM738 248h3.7v2h-3.7zM620.9 267.6h2v2h-2zM620.9 269.3h2v2h-2zM620.9 272.9h2v2h-2zM599.6 274.7h2v2h-2zM620.9 274.7h2v2h-2zM599.6 278.2h2v2h-2zM683 280h2v2h-2zM723.8 280h2v2h-2zM659.9 281.8h3.7v2h-3.7zM683 281.8h2v2h-2zM704.3 281.8h2v2h-2zM739.8 281.8h2v2h-2zM683 283.5h2v2h-2zM599.6 285.3h2v2h-2zM695.4 285.3h2v2h-2zM722.1 285.3h2v2h-2zM727.4 285.3h2v2h-2zM732.7 285.3h2v2h-2zM654.6 287.1h2v2h-2zM659.9 287.1h2v2h-2zM683 287.1h2v2h-2zM704.3 287.1h2v2h-2zM654.6 288.9h2v2h-2zM683 288.9h2v2h-2zM739.8 288.9h2v2h-2zM683 292.4h2v2h-2zM739.8 292.4h2v2h-2zM683 294.2h2v2h-2zM730.9 294.2h2v2h-2zM599.6 296h2v2h-2zM683 296h2v2h-2zM706.1 296h3.7v2h-3.7zM716.7 296h2v2h-2zM683 297.8h2v2h-2zM691.9 297.8h2v2h-2zM711.4 297.8h2v2h-2zM739.8 297.8h2v2h-2zM683 299.5h2v2h-2zM739.8 299.5h2v2h-2zM739.8 301.3h2v2h-2zM711.4 303.1h2v2h-2zM739.8 303.1h2v2h-2zM739.8 304.9h2v2h-2zM704.3 306.7h2v2h-2zM723.8 306.7h2v2h-2zM739.8 308.4h2v2h-2zM652.8 310.2h5.5v2h-5.5zM659.9 310.2h3.7v2h-3.7zM665.3 310.2h9.1v2h-9.1zM686.6 310.2h5.5v2h-5.5zM697.2 310.2h3.7v2h-3.7zM704.3 310.2h3.7v2h-3.7zM713.2 310.2h2v2h-2zM716.7 310.2h2v2h-2zM722.1 310.2h2v2h-2zM730.9 310.2h2v2h-2zM736.3 310.2h2v2h-2zM743.4 310.2h3.7v2h-3.7zM620.9 312h2v2h-2zM683 313.8h2v2h-2zM704.3 313.8h2v2h-2zM739.8 313.8h2v2h-2zM683 315.5h2v2h-2zM702.5 315.5h2v2h-2zM739.8 315.5h2v2h-2zM683 317.3h2v2h-2zM700.8 317.3h2v2h-2zM704.3 317.3h2v2h-2zM670.6 319.1h2v2h-2zM704.3 320.9h2v2h-2zM658.2 322.6h2v2h-2zM732.7 322.6h2v2h-2zM683 324.4h2v2h-2zM683 326.2h2v2h-2zM690.1 328h2v2h-2zM711.4 328h2v2h-2zM729.2 328h2v2h-2zM734.5 328h3.7v2h-3.7zM741.6 328h5.5v2h-5.5zM688.3 329.8h2v2h-2zM732.7 329.8h2v2h-2zM736.3 329.8h2v2h-2zM741.6 329.8h3.7v2h-3.7zM654.6 331.5h2v2h-2zM659.9 331.5h2v2h-2zM679.5 331.5h2v2h-2zM683 331.5h2v2h-2zM686.6 331.5h2v2h-2zM690.1 331.5h2v2h-2zM693.7 331.5h2v2h-2zM718.5 331.5h2v2h-2zM722.1 331.5h2v2h-2zM727.4 331.5h2v2h-2zM734.5 331.5h2v2h-2zM743.4 331.5h2v2h-2zM668.8 333.3h2v2h-2zM683 333.3h2v2h-2zM729.2 333.3h2v2h-2zM732.7 333.3h2v2h-2zM668.8 335.1h2v2h-2zM730.9 335.1h3.7v2h-3.7zM722.1 336.9h2v2h-2zM730.9 336.9h2v2h-2zM745.1 336.9h2v2h-2zM670.6 338.6h2v2h-2zM675.9 338.6h2v2h-2zM700.8 338.6h2v2h-2zM711.4 338.6h2v2h-2zM715 338.6h2v2h-2zM718.5 338.6h2v2h-2zM727.4 338.6h2v2h-2zM736.3 338.6h2v2h-2zM743.4 338.6h3.7v2h-3.7zM683 340.4h2v2h-2zM711.4 342.2h2v2h-2zM732.7 342.2h5.5v2h-5.5zM741.6 342.2h3.7v2h-3.7zM668.8 344h2v2h-2zM683 344h2v2h-2zM732.7 344h2v2h-2zM704.3 345.8h2v2h-2zM711.4 345.8h2v2h-2zM658.2 349.3h2v2h-2zM683 349.3h2v2h-2zM704.3 349.3h2v2h-2zM709.6 349.3h2v2h-2zM734.5 349.3h2v2h-2zM741.6 349.3h2v2h-2zM599.6 351.1h2v2h-2zM620.9 351.1h2v2h-2zM652.8 351.1h2v2h-2zM679.5 351.1h2v2h-2zM729.2 352.9h3.7v2h-3.7zM658.2 354.6h2v2h-2zM704.3 354.6h2v2h-2zM711.4 354.6h2v2h-2zM741.6 354.6h2v2h-2zM700.8 356.4h2v2h-2zM706.1 356.4h2v2h-2zM725.6 356.4h2v2h-2zM734.5 356.4h2v2h-2zM667 358.2h2v2h-2zM683 358.2h2v2h-2zM707.9 358.2h3.7v2h-3.7zM725.6 358.2h2v2h-2zM658.2 360h2v2h-2zM695.4 360h2v2h-2zM702.5 360h2v2h-2zM706.1 360h3.7v2h-3.7zM715 360h3.7v2h-3.7zM700.8 361.7h2v2h-2zM704.3 361.7h2v2h-2zM715 361.7h2v2h-2zM722.1 361.7h2v2h-2zM729.2 361.7h2v2h-2zM734.5 361.7h3.7v2h-3.7zM741.6 361.7h3.7v2h-3.7zM683 363.5h2v2h-2zM700.8 363.5h3.7v2h-3.7zM711.4 363.5h2v2h-2zM715 363.5h2v2h-2zM734.5 363.5h2v2h-2zM741.6 363.5h2v2h-2zM599.6 365.3h2v2h-2zM620.9 365.3h2v2h-2zM599.6 367.1h2v2h-2zM620.9 367.1h2v2h-2zM654.6 367.1h2v2h-2zM661.7 367.1h2v2h-2zM665.3 367.1h2v2h-2zM670.6 367.1h9.1v2h-9.1zM681.2 367.1h2v2h-2zM686.6 367.1h3.7v2h-3.7zM700.8 368.9h3.7v2h-3.7zM715 368.9h2v2h-2zM722.1 368.9h2v2h-2zM727.4 368.9h2v2h-2zM734.5 368.9h3.7v2h-3.7zM683 370.6h2v2h-2zM700.8 370.6h5.5v2h-5.5zM711.4 370.6h2v2h-2zM715 370.6h2v2h-2zM734.5 370.6h2v2h-2zM683 372.4h2v2h-2zM700.8 372.4h2v2h-2zM709.6 372.4h3.7v2h-3.7z" fill="#ffff52"/>
<path d="M590.7 141.4h2v2h-2zM562.3 144.9h2v2h-2zM590.7 144.9h2v2h-2zM525.1 146.7h14.4v2h-14.4zM541 146.7h3.7v2h-3.7zM546.4 146.7h3.7v2h-3.7zM551.7 146.7h2v2h-2zM557 146.7h3.7v2h-3.7zM564.1 146.7h3.7v2h-3.7zM569.4 146.7h2v2h-2zM574.8 146.7h3.7v2h-3.7zM580.1 146.7h2v2h-2zM585.4 146.7h2v2h-2zM542.8 148.5h2v2h-2zM562.3 148.5h2v2h-2zM533.9 150.2h2v2h-2zM590.7 150.2h2v2h-2zM519.7 152h2v2h-2zM533.9 152h2v2h-2zM590.7 152h2v2h-2zM519.7 153.8h2v2h-2zM562.3 153.8h2v2h-2zM519.7 155.6h2v2h-2zM533.9 155.6h2v2h-2zM562.3 155.6h2v2h-2zM590.7 155.6h2v2h-2zM519.7 157.4h2v2h-2zM519.7 159.1h2v2h-2zM562.3 159.1h2v2h-2zM590.7 159.1h2v2h-2zM519.7 160.9h2v2h-2zM523.3 160.9h3.7v2h-3.7zM528.6 160.9h2v2h-2zM535.7 160.9h2v2h-2zM562.3 160.9h2v2h-2zM569.4 160.9h3.7v2h-3.7zM587.2 160.9h2v2h-2zM519.7 162.7h2v2h-2zM533.9 162.7h2v2h-2zM542.8 162.7h2v2h-2zM519.7 164.5h2v2h-2zM590.7 164.5h2v2h-2zM519.7 168h2v2h-2zM519.7 169.8h3.7v2h-3.7zM535.7 169.8h2v2h-2zM553.5 169.8h2v2h-2zM562.3 169.8h2v2h-2zM565.9 169.8h2v2h-2zM574.8 169.8h2v2h-2zM583.6 169.8h2v2h-2zM590.7 169.8h2v2h-2zM590.7 171.6h2v2h-2zM519.7 173.4h2v2h-2zM590.7 173.4h2v2h-2zM519.7 175.1h2v2h-2zM590.7 176.9h2v2h-2zM519.7 178.7h2v2h-2zM590.7 178.7h2v2h-2zM542.8 180.5h2v2h-2zM519.7 184h2v2h-2zM590.7 184h2v2h-2zM519.7 185.8h2v2h-2zM590.7 185.8h2v2h-2zM518 189.3h2v2h-2zM521.5 189.3h2v2h-2zM526.8 189.3h3.7v2h-3.7zM532.2 189.3h3.7v2h-3.7zM542.8 189.3h2v2h-2zM564.1 189.3h2v2h-2zM569.4 189.3h2v2h-2zM576.5 189.3h2v2h-2zM581.9 189.3h9.1v2h-9.1zM519.7 191.1h2v2h-2zM562.3 191.1h2v2h-2zM580.1 191.1h3.7v2h-3.7zM519.7 192.9h2v2h-2zM542.8 192.9h2v2h-2zM581.9 192.9h2v2h-2zM519.7 196.5h2v2h-2zM533.9 196.5h2v2h-2zM562.3 196.5h2v2h-2zM580.1 196.5h3.7v2h-3.7zM533.9 198.2h2v2h-2zM581.9 198.2h2v2h-2zM519.7 201.8h2v2h-2zM542.8 201.8h2v2h-2zM580.1 201.8h2v2h-2zM590.7 201.8h2v2h-2zM519.7 203.6h2v2h-2zM562.3 203.6h2v2h-2zM581.9 203.6h5.5v2h-5.5zM519.7 207.1h2v2h-2zM564.1 207.1h2v2h-2zM569.4 207.1h2v2h-2zM574.8 207.1h2v2h-2zM587.2 207.1h2v2h-2zM562.3 208.9h5.5v2h-5.5zM569.4 208.9h3.7v2h-3.7zM576.5 208.9h2v2h-2zM585.4 208.9h5.5v2h-5.5zM542.8 210.7h2v2h-2zM562.3 210.7h2v2h-2zM576.5 210.7h2v2h-2zM519.7 212.5h2v2h-2zM562.3 212.5h2v2h-2zM576.5 212.5h2v2h-2zM581.9 212.5h2v2h-2zM533.9 214.2h2v2h-2zM562.3 214.2h2v2h-2zM580.1 214.2h3.7v2h-3.7zM562.3 216h2v2h-2zM581.9 216h2v2h-2zM589 216h2v2h-2zM514.4 217.8h2v2h-2zM518 217.8h2v2h-2zM523.3 217.8h3.7v2h-3.7zM528.6 217.8h2v2h-2zM532.2 217.8h2v2h-2zM537.5 217.8h2v2h-2zM542.8 217.8h5.5v2h-5.5zM549.9 217.8h3.7v2h-3.7zM557 217.8h3.7v2h-3.7zM574.8 217.8h2v2h-2zM642.2 226.7h2v2h-2zM645.7 226.7h2v2h-2zM684.8 226.7h2v2h-2zM691.9 226.7h2v2h-2zM599.6 269.3h2v2h-2zM599.6 272.9h2v2h-2zM658.2 280h2v2h-2zM663.5 280h2v2h-2zM667 280h2v2h-2zM670.6 280h2v2h-2zM739.8 280h2v2h-2zM667 281.8h2v2h-2zM691.9 281.8h2v2h-2zM723.8 281.8h2v2h-2zM738 281.8h2v2h-2zM684.8 283.5h2v2h-2zM691.9 283.5h2v2h-2zM652.8 285.3h2v2h-2zM683 285.3h2v2h-2zM690.1 285.3h2v2h-2zM697.2 285.3h2v2h-2zM715 285.3h2v2h-2zM718.5 285.3h2v2h-2zM739.8 285.3h2v2h-2zM661.7 287.1h2v2h-2zM738 287.1h2v2h-2zM659.9 288.9h3.7v2h-3.7zM691.9 288.9h2v2h-2zM723.8 288.9h2v2h-2zM652.8 290.7h2v2h-2zM691.9 290.7h2v2h-2zM704.3 290.7h2v2h-2zM691.9 292.4h2v2h-2zM723.8 292.4h2v2h-2zM652.8 294.2h3.7v2h-3.7zM704.3 294.2h2v2h-2zM723.8 294.2h2v2h-2zM688.3 296h2v2h-2zM699 296h2v2h-2zM702.5 296h2v2h-2zM711.4 296h3.7v2h-3.7zM723.8 296h2v2h-2zM738 296h2v2h-2zM743.4 296h2v2h-2zM652.8 297.8h2v2h-2zM723.8 297.8h2v2h-2zM730.9 297.8h2v2h-2zM738 297.8h2v2h-2zM684.8 299.5h2v2h-2zM691.9 299.5h2v2h-2zM723.8 299.5h2v2h-2zM738 301.3h2v2h-2zM683 303.1h2v2h-2zM691.9 303.1h2v2h-2zM704.3 303.1h2v2h-2zM723.8 303.1h2v2h-2zM683 306.7h2v2h-2zM691.9 306.7h2v2h-2zM730.9 306.7h2v2h-2zM739.8 306.7h2v2h-2zM691.9 308.4h2v2h-2zM723.8 308.4h2v2h-2zM658.2 310.2h2v2h-2zM675.9 310.2h2v2h-2zM679.5 310.2h2v2h-2zM691.9 310.2h3.7v2h-3.7zM702.5 310.2h2v2h-2zM732.7 310.2h2v2h-2zM738 310.2h2v2h-2zM741.6 310.2h2v2h-2zM599.6 312h2v2h-2zM656.4 312h2v2h-2zM672.4 312h2v2h-2zM718.5 312h2v2h-2zM722.1 312h2v2h-2zM738 312h2v2h-2zM691.9 313.8h2v2h-2zM723.8 313.8h2v2h-2zM668.8 315.5h2v2h-2zM691.9 315.5h2v2h-2zM723.8 315.5h2v2h-2zM658.2 317.3h2v2h-2zM691.9 317.3h2v2h-2zM723.8 317.3h2v2h-2zM738 317.3h2v2h-2zM599.6 319.1h2v2h-2zM654.6 319.1h3.7v2h-3.7zM661.7 319.1h5.5v2h-5.5zM672.4 319.1h2v2h-2zM675.9 319.1h2v2h-2zM679.5 319.1h5.5v2h-5.5zM686.6 319.1h5.5v2h-5.5zM697.2 319.1h2v2h-2zM702.5 319.1h5.5v2h-5.5zM709.6 319.1h2v2h-2zM715 319.1h2v2h-2zM720.3 319.1h5.5v2h-5.5zM729.2 319.1h3.7v2h-3.7zM736.3 319.1h2v2h-2zM739.8 319.1h7.3v2h-7.3zM683 320.9h2v2h-2zM723.8 320.9h2v2h-2zM738 320.9h3.7v2h-3.7zM723.8 322.6h2v2h-2zM730.9 322.6h2v2h-2zM658.2 324.4h2v2h-2zM691.9 324.4h2v2h-2zM738 324.4h3.7v2h-3.7zM668.8 326.2h2v2h-2zM709.6 328h2v2h-2zM668.8 329.8h2v2h-2zM683 329.8h2v2h-2zM691.9 329.8h2v2h-2zM729.2 329.8h3.7v2h-3.7zM663.5 331.5h2v2h-2zM667 331.5h2v2h-2zM675.9 331.5h2v2h-2zM691.9 331.5h2v2h-2zM711.4 331.5h2v2h-2zM716.7 331.5h2v2h-2zM723.8 331.5h2v2h-2zM729.2 331.5h5.5v2h-5.5zM736.3 331.5h2v2h-2zM745.1 331.5h2v2h-2zM691.9 333.3h2v2h-2zM723.8 333.3h2v2h-2zM730.9 333.3h2v2h-2zM738 333.3h3.7v2h-3.7zM739.8 335.1h2v2h-2zM691.9 336.9h2v2h-2zM700.8 336.9h2v2h-2zM668.8 338.6h2v2h-2zM704.3 338.6h2v2h-2zM722.1 338.6h2v2h-2zM729.2 338.6h2v2h-2zM741.6 338.6h2v2h-2zM668.8 340.4h2v2h-2zM723.8 340.4h2v2h-2zM738 340.4h2v2h-2zM658.2 342.2h2v2h-2zM691.9 342.2h2v2h-2zM729.2 342.2h3.7v2h-3.7zM704.3 344h2v2h-2zM723.8 344h2v2h-2zM730.9 344h2v2h-2zM739.8 344h2v2h-2zM658.2 345.8h2v2h-2zM684.8 345.8h2v2h-2zM722.1 345.8h2v2h-2zM727.4 345.8h3.7v2h-3.7zM732.7 345.8h3.7v2h-3.7zM741.6 345.8h5.5v2h-5.5zM691.9 347.5h2v2h-2zM723.8 347.5h2v2h-2zM730.9 347.5h2v2h-2zM684.8 349.3h2v2h-2zM691.9 349.3h2v2h-2zM711.4 349.3h2v2h-2zM718.5 349.3h2v2h-2zM722.1 349.3h2v2h-2zM727.4 349.3h2v2h-2zM732.7 349.3h2v2h-2zM736.3 349.3h2v2h-2zM743.4 349.3h2v2h-2zM654.6 351.1h2v2h-2zM661.7 351.1h2v2h-2zM665.3 351.1h9.1v2h-9.1zM675.9 351.1h2v2h-2zM681.2 351.1h2v2h-2zM686.6 351.1h10.8v2h-10.8zM704.3 351.1h3.7v2h-3.7zM713.2 351.1h2v2h-2zM716.7 351.1h2v2h-2zM720.3 351.1h2v2h-2zM725.6 351.1h2v2h-2zM723.8 352.9h2v2h-2zM718.5 354.6h2v2h-2zM722.1 354.6h2v2h-2zM727.4 354.6h3.7v2h-3.7zM734.5 354.6h3.7v2h-3.7zM743.4 354.6h2v2h-2zM691.9 356.4h2v2h-2zM702.5 356.4h3.7v2h-3.7zM711.4 356.4h2v2h-2zM715 356.4h2v2h-2zM718.5 356.4h2v2h-2zM727.4 356.4h2v2h-2zM736.3 356.4h2v2h-2zM741.6 356.4h2v2h-2zM670.6 358.2h2v2h-2zM679.5 358.2h2v2h-2zM691.9 358.2h2v2h-2zM695.4 358.2h2v2h-2zM702.5 358.2h5.5v2h-5.5zM715 358.2h3.7v2h-3.7zM720.3 358.2h2v2h-2zM683 360h2v2h-2zM704.3 360h2v2h-2zM718.5 360h2v2h-2zM722.1 360h2v2h-2zM734.5 360h2v2h-2zM741.6 360h2v2h-2zM718.5 361.7h2v2h-2zM727.4 361.7h2v2h-2zM732.7 361.7h2v2h-2zM745.1 361.7h2v2h-2zM691.9 363.5h2v2h-2zM704.3 363.5h2v2h-2zM722.1 363.5h2v2h-2zM727.4 363.5h3.7v2h-3.7zM743.4 363.5h3.7v2h-3.7zM654.6 365.3h2v2h-2zM659.9 365.3h2v2h-2zM668.8 365.3h3.7v2h-3.7zM674.1 365.3h2v2h-2zM683 365.3h3.7v2h-3.7zM690.1 365.3h2v2h-2zM693.7 365.3h2v2h-2zM697.2 365.3h2v2h-2zM706.1 365.3h2v2h-2zM713.2 365.3h2v2h-2zM652.8 367.1h2v2h-2zM658.2 367.1h2v2h-2zM679.5 367.1h2v2h-2zM691.9 367.1h3.7v2h-3.7zM697.2 367.1h2v2h-2zM706.1 367.1h3.7v2h-3.7zM716.7 367.1h2v2h-2zM683 368.9h2v2h-2zM691.9 368.9h2v2h-2zM711.4 368.9h2v2h-2zM718.5 368.9h2v2h-2zM729.2 368.9h2v2h-2zM732.7 368.9h2v2h-2zM743.4 368.9h3.7v2h-3.7zM668.8 370.6h2v2h-2zM691.9 370.6h2v2h-2zM718.5 370.6h2v2h-2zM722.1 370.6h2v2h-2zM727.4 370.6h2v2h-2zM736.3 370.6h2v2h-2zM741.6 370.6h3.7v2h-3.7zM691.9 372.4h2v2h-2zM704.3 372.4h2v2h-2zM718.5 372.4h2v2h-2zM734.5 372.4h3.7v2h-3.7zM741.6 372.4h2v2h-2z" fill="#ffff3d"/>
<path d="M562.3 143.1h2v2h-2zM590.7 143.1h2v2h-2zM544.6 146.7h2v2h-2zM549.9 146.7h2v2h-2zM560.6 146.7h3.7v2h-3.7zM571.2 146.7h3.7v2h-3.7zM583.6 146.7h2v2h-2zM589 146.7h3.7v2h-3.7zM590.7 153.8h2v2h-2zM590.7 157.4h2v2h-2zM580.1 160.9h2v2h-2zM590.7 160.9h2v2h-2zM590.7 166.2h2v2h-2zM590.7 168h2v2h-2zM519.7 171.6h2v2h-2zM562.3 175.1h2v2h-2zM519.7 176.9h2v2h-2zM590.7 182.2h2v2h-2zM519.7 187.6h2v2h-2zM562.3 187.6h2v2h-2zM516.2 189.3h2v2h-2zM519.7 189.3h2v2h-2zM548.1 189.3h2v2h-2zM560.6 189.3h2v2h-2zM567.7 189.3h2v2h-2zM590.7 191.1h2v2h-2zM590.7 192.9h2v2h-2zM562.3 194.7h2v2h-2zM590.7 194.7h2v2h-2zM590.7 196.5h2v2h-2zM519.7 198.2h2v2h-2zM590.7 198.2h2v2h-2zM519.7 200h2v2h-2zM580.1 203.6h2v2h-2zM590.7 205.3h2v2h-2zM533.9 207.1h2v2h-2zM576.5 207.1h2v2h-2zM580.1 207.1h2v2h-2zM589 207.1h2v2h-2zM581.9 208.9h2v2h-2zM519.7 210.7h2v2h-2zM590.7 210.7h2v2h-2zM590.7 214.2h2v2h-2zM519.7 216h2v2h-2zM580.1 216h2v2h-2zM516.2 217.8h2v2h-2zM519.7 217.8h2v2h-2zM526.8 217.8h2v2h-2zM530.4 217.8h2v2h-2zM533.9 217.8h2v2h-2zM539.3 217.8h3.7v2h-3.7zM555.2 217.8h2v2h-2zM564.1 217.8h9.1v2h-9.1zM578.3 217.8h2v2h-2zM583.6 217.8h2v2h-2zM587.2 217.8h2v2h-2zM613.8 221.3h2v2h-2zM613.8 224.9h3.7v2h-3.7zM615.6 226.7h3.7v2h-3.7zM594.3 240.9h2v2h-2zM597.8 240.9h2v2h-2zM597.8 242.7h3.7v2h-3.7zM599.6 244.4h2v2h-2zM622.7 249.8h2v2h-2zM626.2 249.8h2v2h-2zM626.2 251.6h2v2h-2zM622.7 253.3h3.7v2h-3.7zM628 255.1h2v2h-2zM665.3 280h2v2h-2zM738 280h2v2h-2zM658.2 281.8h2v2h-2zM663.5 281.8h3.7v2h-3.7zM670.6 281.8h5.5v2h-5.5zM684.8 281.8h2v2h-2zM658.2 283.5h2v2h-2zM663.5 283.5h5.5v2h-5.5zM670.6 283.5h5.5v2h-5.5zM738 283.5h2v2h-2zM654.6 285.3h9.1v2h-9.1zM675.9 285.3h2v2h-2zM684.8 285.3h2v2h-2zM723.8 285.3h2v2h-2zM658.2 287.1h2v2h-2zM665.3 287.1h3.7v2h-3.7zM670.6 287.1h2v2h-2zM739.8 287.1h2v2h-2zM658.2 288.9h2v2h-2zM684.8 288.9h2v2h-2zM738 288.9h2v2h-2zM654.6 290.7h3.7v2h-3.7zM683 290.7h3.7v2h-3.7zM723.8 290.7h2v2h-2zM738 290.7h2v2h-2zM652.8 292.4h5.5v2h-5.5zM659.9 292.4h2v2h-2zM684.8 292.4h2v2h-2zM656.4 294.2h2v2h-2zM659.9 294.2h2v2h-2zM684.8 294.2h2v2h-2zM691.9 294.2h2v2h-2zM738 294.2h2v2h-2zM684.8 296h2v2h-2zM691.9 296h2v2h-2zM654.6 297.8h3.7v2h-3.7zM659.9 297.8h2v2h-2zM654.6 299.5h3.7v2h-3.7zM738 299.5h2v2h-2zM654.6 301.3h3.7v2h-3.7zM723.8 301.3h2v2h-2zM658.2 303.1h2v2h-2zM738 303.1h2v2h-2zM683 304.9h3.7v2h-3.7zM691.9 304.9h2v2h-2zM738 304.9h2v2h-2zM684.8 306.7h2v2h-2zM683 308.4h3.7v2h-3.7zM738 308.4h2v2h-2zM663.5 310.2h2v2h-2zM677.7 310.2h2v2h-2zM681.2 310.2h2v2h-2zM684.8 310.2h2v2h-2zM700.8 310.2h2v2h-2zM718.5 310.2h2v2h-2zM727.4 310.2h2v2h-2zM739.8 310.2h2v2h-2zM654.6 312h2v2h-2zM658.2 312h2v2h-2zM661.7 312h9.1v2h-9.1zM677.7 312h9.1v2h-9.1zM688.3 312h2v2h-2zM693.7 312h2v2h-2zM699 312h7.3v2h-7.3zM707.9 312h3.7v2h-3.7zM713.2 312h2v2h-2zM720.3 312h2v2h-2zM727.4 312h2v2h-2zM734.5 312h2v2h-2zM739.8 312h5.5v2h-5.5zM738 313.8h2v2h-2zM684.8 315.5h2v2h-2zM667 319.1h3.7v2h-3.7zM677.7 319.1h2v2h-2zM693.7 319.1h3.7v2h-3.7zM707.9 319.1h2v2h-2zM716.7 319.1h2v2h-2zM725.6 319.1h2v2h-2zM732.7 319.1h2v2h-2zM684.8 320.9h2v2h-2zM691.9 320.9h2v2h-2zM691.9 322.6h2v2h-2zM738 322.6h3.7v2h-3.7zM723.8 324.4h2v2h-2zM684.8 326.2h2v2h-2zM723.8 326.2h2v2h-2zM738 326.2h2v2h-2zM683 328h3.7v2h-3.7zM730.9 328h2v2h-2zM684.8 329.8h2v2h-2zM739.8 329.8h2v2h-2zM684.8 331.5h2v2h-2zM741.6 331.5h2v2h-2zM684.8 335.1h2v2h-2zM691.9 335.1h2v2h-2zM723.8 335.1h2v2h-2zM738 335.1h2v2h-2zM684.8 336.9h2v2h-2zM723.8 336.9h2v2h-2zM738 336.9h3.7v2h-3.7zM723.8 338.6h2v2h-2zM730.9 338.6h3.7v2h-3.7zM684.8 340.4h2v2h-2zM739.8 340.4h2v2h-2zM723.8 342.2h2v2h-2zM738 342.2h3.7v2h-3.7zM691.9 344h2v2h-2zM738 344h2v2h-2zM683 345.8h2v2h-2zM736.3 345.8h2v2h-2zM684.8 347.5h2v2h-2zM738 347.5h3.7v2h-3.7zM729.2 349.3h2v2h-2zM745.1 349.3h2v2h-2zM658.2 351.1h2v2h-2zM663.5 351.1h2v2h-2zM674.1 351.1h2v2h-2zM697.2 351.1h3.7v2h-3.7zM707.9 351.1h5.5v2h-5.5zM715 351.1h2v2h-2zM743.4 351.1h2v2h-2zM691.9 352.9h2v2h-2zM738 352.9h3.7v2h-3.7zM683 354.6h3.7v2h-3.7zM732.7 354.6h2v2h-2zM745.1 354.6h2v2h-2zM722.1 356.4h2v2h-2zM729.2 356.4h2v2h-2zM732.7 356.4h2v2h-2zM743.4 356.4h3.7v2h-3.7zM700.8 358.2h2v2h-2zM711.4 358.2h2v2h-2zM741.6 358.2h3.7v2h-3.7zM691.9 360h2v2h-2zM711.4 360h2v2h-2zM727.4 360h3.7v2h-3.7zM732.7 360h2v2h-2zM736.3 360h2v2h-2zM743.4 360h3.7v2h-3.7zM684.8 361.7h2v2h-2zM718.5 363.5h2v2h-2zM732.7 363.5h2v2h-2zM736.3 363.5h2v2h-2zM652.8 365.3h2v2h-2zM656.4 365.3h2v2h-2zM661.7 365.3h3.7v2h-3.7zM667 365.3h2v2h-2zM672.4 365.3h2v2h-2zM675.9 365.3h3.7v2h-3.7zM681.2 365.3h2v2h-2zM686.6 365.3h2v2h-2zM695.4 365.3h2v2h-2zM699 365.3h2v2h-2zM707.9 365.3h3.7v2h-3.7zM715 365.3h3.7v2h-3.7zM720.3 365.3h2v2h-2zM725.6 365.3h2v2h-2zM659.9 367.1h2v2h-2zM683 367.1h3.7v2h-3.7zM695.4 367.1h2v2h-2zM702.5 367.1h2v2h-2zM709.6 367.1h2v2h-2zM713.2 367.1h3.7v2h-3.7zM720.3 367.1h2v2h-2zM725.6 367.1h2v2h-2zM684.8 368.9h2v2h-2zM704.3 368.9h2v2h-2zM730.9 368.9h2v2h-2zM741.6 368.9h2v2h-2zM684.8 370.6h2v2h-2zM723.8 370.6h2v2h-2zM729.2 370.6h5.5v2h-5.5zM745.1 370.6h2v2h-2zM722.1 372.4h2v2h-2zM727.4 372.4h3.7v2h-3.7zM732.7 372.4h2v2h-2zM743.4 372.4h3.7v2h-3.7z" fill="#ffff29"/>
<path d="M539.3 146.7h2v2h-2zM578.3 146.7h2v2h-2zM581.9 146.7h2v2h-2zM587.2 146.7h2v2h-2zM590.7 162.7h2v2h-2zM519.7 166.2h2v2h-2zM590.7 203.6h2v2h-2zM519.7 205.3h2v2h-2zM581.9 207.1h2v2h-2zM519.7 208.9h2v2h-2zM580.1 208.9h2v2h-2zM590.7 212.5h2v2h-2zM519.7 214.2h2v2h-2zM590.7 216h2v2h-2zM535.7 217.8h2v2h-2zM576.5 217.8h2v2h-2zM585.4 217.8h2v2h-2zM589 217.8h2v2h-2zM596.1 221.3h2v2h-2zM615.6 221.3h5.5v2h-5.5zM594.3 223.1h3.7v2h-3.7zM613.8 223.1h7.3v2h-7.3zM617.4 224.9h3.7v2h-3.7zM613.8 226.7h2v2h-2zM619.1 226.7h2v2h-2zM596.1 240.9h2v2h-2zM599.6 240.9h2v2h-2zM594.3 242.7h3.7v2h-3.7zM594.3 244.4h5.5v2h-5.5zM594.3 246.2h7.3v2h-7.3zM624.4 249.8h2v2h-2zM622.7 251.6h3.7v2h-3.7zM626.2 253.3h2v2h-2zM629.8 255.1h2v2h-2zM628 256.9h3.7v2h-3.7zM668.8 280h2v2h-2zM672.4 280h3.7v2h-3.7zM668.8 281.8h2v2h-2zM668.8 283.5h2v2h-2zM723.8 283.5h2v2h-2zM691.9 285.3h2v2h-2zM738 285.3h2v2h-2zM663.5 287.1h2v2h-2zM672.4 287.1h3.7v2h-3.7zM691.9 287.1h2v2h-2zM723.8 287.1h2v2h-2zM663.5 288.9h5.5v2h-5.5zM670.6 288.9h3.7v2h-3.7zM659.9 290.7h3.7v2h-3.7zM661.7 292.4h2v2h-2zM738 292.4h2v2h-2zM661.7 294.2h2v2h-2zM670.6 294.2h2v2h-2zM652.8 296h5.5v2h-5.5zM661.7 297.8h2v2h-2zM667 297.8h2v2h-2zM684.8 297.8h2v2h-2zM652.8 299.5h2v2h-2zM659.9 299.5h3.7v2h-3.7zM652.8 301.3h2v2h-2zM659.9 301.3h2v2h-2zM684.8 301.3h2v2h-2zM691.9 301.3h2v2h-2zM723.8 304.9h2v2h-2zM723.8 310.2h2v2h-2zM670.6 312h2v2h-2zM674.1 312h2v2h-2zM686.6 312h2v2h-2zM690.1 312h3.7v2h-3.7zM715 312h2v2h-2zM725.6 312h2v2h-2zM730.9 312h2v2h-2zM736.3 312h2v2h-2zM745.1 312h2v2h-2zM684.8 313.8h2v2h-2zM738 315.5h2v2h-2zM684.8 317.3h2v2h-2zM658.2 319.1h3.7v2h-3.7zM674.1 319.1h2v2h-2zM684.8 319.1h2v2h-2zM691.9 319.1h2v2h-2zM699 319.1h3.7v2h-3.7zM711.4 319.1h3.7v2h-3.7zM727.4 319.1h2v2h-2zM734.5 319.1h2v2h-2zM738 319.1h2v2h-2zM691.9 326.2h2v2h-2zM691.9 328h2v2h-2zM723.8 328h2v2h-2zM738 328h3.7v2h-3.7zM723.8 329.8h2v2h-2zM691.9 338.6h2v2h-2zM738 338.6h3.7v2h-3.7zM691.9 340.4h2v2h-2zM684.8 342.2h2v2h-2zM723.8 345.8h2v2h-2zM730.9 345.8h2v2h-2zM723.8 349.3h2v2h-2zM730.9 349.3h2v2h-2zM739.8 349.3h2v2h-2zM656.4 351.1h2v2h-2zM659.9 351.1h2v2h-2zM677.7 351.1h2v2h-2zM683 351.1h2v2h-2zM700.8 351.1h3.7v2h-3.7zM718.5 351.1h2v2h-2zM722.1 351.1h3.7v2h-3.7zM727.4 351.1h3.7v2h-3.7zM732.7 351.1h3.7v2h-3.7zM741.6 351.1h2v2h-2zM745.1 351.1h2v2h-2zM684.8 352.9h2v2h-2zM691.9 354.6h2v2h-2zM723.8 354.6h2v2h-2zM730.9 354.6h2v2h-2zM723.8 356.4h2v2h-2zM730.9 356.4h2v2h-2zM684.8 358.2h2v2h-2zM718.5 358.2h2v2h-2zM722.1 358.2h2v2h-2zM727.4 358.2h3.7v2h-3.7zM734.5 358.2h3.7v2h-3.7zM745.1 358.2h2v2h-2zM723.8 360h2v2h-2zM691.9 361.7h2v2h-2zM723.8 361.7h2v2h-2zM730.9 361.7h2v2h-2zM738 361.7h3.7v2h-3.7zM684.8 363.5h2v2h-2zM730.9 363.5h2v2h-2zM658.2 365.3h2v2h-2zM665.3 365.3h2v2h-2zM688.3 365.3h2v2h-2zM691.9 365.3h2v2h-2zM700.8 365.3h2v2h-2zM711.4 365.3h2v2h-2zM734.5 365.3h2v2h-2zM700.8 367.1h2v2h-2zM711.4 367.1h2v2h-2zM722.1 367.1h2v2h-2zM734.5 367.1h2v2h-2zM723.8 368.9h2v2h-2zM684.8 372.4h2v2h-2zM723.8 372.4h2v2h-2zM730.9 372.4h2v2h-2z" fill="#ffff14"/>
<path d="M590.7 207.1h2v2h-2zM590.7 208.9h2v2h-2zM580.1 217.8h3.7v2h-3.7zM594.3 221.3h2v2h-2zM635.1 255.1h2v2h-2zM633.3 256.9h2v2h-2zM629.8 260.4h2v2h-2zM628 262.2h2v2h-2zM684.8 280h2v2h-2zM691.9 280h2v2h-2zM663.5 285.3h12.6v2h-12.6zM668.8 287.1h2v2h-2zM684.8 287.1h2v2h-2zM674.1 288.9h2v2h-2zM658.2 290.7h2v2h-2zM670.6 290.7h2v2h-2zM658.2 292.4h2v2h-2zM670.6 292.4h2v2h-2zM658.2 294.2h2v2h-2zM667 294.2h2v2h-2zM658.2 296h3.7v2h-3.7zM658.2 297.8h2v2h-2zM663.5 297.8h3.7v2h-3.7zM670.6 297.8h2v2h-2zM658.2 299.5h2v2h-2zM658.2 301.3h2v2h-2zM661.7 301.3h2v2h-2zM738 306.7h2v2h-2zM652.8 312h2v2h-2zM659.9 312h2v2h-2zM706.1 312h2v2h-2zM711.4 312h2v2h-2zM716.7 312h2v2h-2zM729.2 312h2v2h-2zM732.7 312h2v2h-2zM652.8 319.1h2v2h-2zM718.5 319.1h2v2h-2zM738 329.8h2v2h-2zM738 331.5h3.7v2h-3.7zM684.8 333.3h2v2h-2zM684.8 338.6h2v2h-2zM684.8 344h2v2h-2zM691.9 345.8h2v2h-2zM738 345.8h3.7v2h-3.7zM738 349.3h2v2h-2zM730.9 351.1h2v2h-2zM736.3 351.1h2v2h-2zM739.8 354.6h2v2h-2zM684.8 356.4h2v2h-2zM723.8 358.2h2v2h-2zM730.9 358.2h3.7v2h-3.7zM684.8 360h2v2h-2zM730.9 360h2v2h-2zM738 360h3.7v2h-3.7zM723.8 363.5h2v2h-2zM739.8 363.5h2v2h-2zM679.5 365.3h2v2h-2zM702.5 365.3h3.7v2h-3.7zM718.5 365.3h2v2h-2zM722.1 365.3h2v2h-2zM732.7 365.3h2v2h-2zM741.6 365.3h2v2h-2zM745.1 365.3h2v2h-2zM704.3 367.1h2v2h-2zM718.5 367.1h2v2h-2zM727.4 367.1h2v2h-2zM732.7 367.1h2v2h-2zM736.3 367.1h2v2h-2zM741.6 367.1h5.5v2h-5.5zM738 368.9h3.7v2h-3.7zM739.8 370.6h2v2h-2zM738 372.4h3.7v2h-3.7z" fill="#ffff00"/>
<path d="M526.8 153.8h3.7v2h-3.7zM526.8 155.6h2v2h-2zM578.3 198.2h2v2h-2zM573 200h2v2h-2zM571.2 205.3h2v2h-2zM590.7 217.8h2v2h-2zM597.8 221.3h2v2h-2zM597.8 223.1h2v2h-2zM594.3 224.9h5.5v2h-5.5zM631.5 255.1h3.7v2h-3.7zM635.1 256.9h5.5v2h-5.5zM628 258.7h2v2h-2zM628 260.4h2v2h-2zM629.8 262.2h2v2h-2zM635.1 262.2h2v2h-2zM629.8 264h2v2h-2zM629.8 265.8h2v2h-2zM668.8 288.9h2v2h-2zM663.5 290.7h5.5v2h-5.5zM672.4 290.7h2v2h-2zM663.5 292.4h3.7v2h-3.7zM663.5 294.2h2v2h-2zM668.8 294.2h2v2h-2zM672.4 294.2h3.7v2h-3.7zM661.7 296h2v2h-2zM667 296h2v2h-2zM670.6 296h2v2h-2zM668.8 297.8h2v2h-2zM672.4 297.8h3.7v2h-3.7zM663.5 299.5h2v2h-2zM667 299.5h2v2h-2zM670.6 299.5h3.7v2h-3.7zM667 301.3h2v2h-2zM670.6 301.3h2v2h-2zM684.8 303.1h2v2h-2zM675.9 312h2v2h-2zM695.4 312h3.7v2h-3.7zM723.8 312h2v2h-2zM690.1 317.3h2v2h-2zM684.8 322.6h2v2h-2zM684.8 324.4h2v2h-2zM684.8 351.1h2v2h-2zM738 351.1h2v2h-2zM738 354.6h2v2h-2zM738 356.4h3.7v2h-3.7zM738 363.5h2v2h-2zM723.8 365.3h2v2h-2zM727.4 365.3h3.7v2h-3.7zM736.3 365.3h2v2h-2zM743.4 365.3h2v2h-2zM729.2 367.1h2v2h-2zM738 370.6h2v2h-2z" fill="#ffe500"/>
<path d="M525.1 152h5.5v2h-5.5zM525.1 153.8h2v2h-2zM525.1 155.6h2v2h-2zM528.6 155.6h2v2h-2zM535.7 162.7h3.7v2h-3.7zM535.7 164.5h3.7v2h-3.7zM557 180.5h2v2h-2zM553.5 184h2v2h-2zM571.2 198.2h5.5v2h-5.5zM571.2 200h2v2h-2zM578.3 200h2v2h-2zM571.2 201.8h2v2h-2zM578.3 201.8h2v2h-2zM578.3 203.6h2v2h-2zM573 205.3h7.3v2h-7.3zM636.9 255.1h3.7v2h-3.7zM642.2 255.1h2v2h-2zM631.5 256.9h2v2h-2zM640.4 256.9h3.7v2h-3.7zM629.8 258.7h2v2h-2zM633.3 258.7h2v2h-2zM631.5 260.4h3.7v2h-3.7zM636.9 260.4h2v2h-2zM638.6 262.2h2v2h-2zM628 264h2v2h-2zM633.3 264h2v2h-2zM628 265.8h2v2h-2zM635.1 265.8h2v2h-2zM629.8 267.6h2v2h-2zM628 269.3h3.7v2h-3.7zM668.8 290.7h2v2h-2zM674.1 290.7h2v2h-2zM667 292.4h3.7v2h-3.7zM672.4 292.4h3.7v2h-3.7zM665.3 294.2h2v2h-2zM663.5 296h3.7v2h-3.7zM672.4 296h2v2h-2zM665.3 299.5h2v2h-2zM668.8 299.5h2v2h-2zM663.5 301.3h3.7v2h-3.7zM674.1 301.3h2v2h-2zM688.3 315.5h2v2h-2zM700.8 328h3.7v2h-3.7zM706.1 328h2v2h-2zM700.8 329.8h2v2h-2zM706.1 329.8h2v2h-2zM700.8 333.3h3.7v2h-3.7zM706.1 333.3h2v2h-2zM739.8 351.1h2v2h-2zM739.8 358.2h2v2h-2zM739.8 365.3h2v2h-2zM723.8 367.1h2v2h-2zM730.9 367.1h2v2h-2zM738 367.1h3.7v2h-3.7z" fill="#ffcc00"/>
<path d="M542.8 169.8h5.5v2h-5.5zM542.8 171.6h5.5v2h-5.5zM542.8 173.4h5.5v2h-5.5zM553.5 180.5h2v2h-2zM557 182.2h2v2h-2zM555.2 184h3.7v2h-3.7zM576.5 198.2h2v2h-2zM574.8 200h3.7v2h-3.7zM573 201.8h5.5v2h-5.5zM571.2 203.6h7.3v2h-7.3zM640.4 255.1h2v2h-2zM631.5 258.7h2v2h-2zM635.1 258.7h5.5v2h-5.5zM635.1 260.4h2v2h-2zM640.4 260.4h2v2h-2zM631.5 262.2h3.7v2h-3.7zM636.9 262.2h2v2h-2zM640.4 262.2h2v2h-2zM631.5 264h2v2h-2zM635.1 264h2v2h-2zM631.5 265.8h2v2h-2zM628 267.6h2v2h-2zM633.3 267.6h3.7v2h-3.7zM674.1 296h2v2h-2zM674.1 299.5h2v2h-2zM668.8 301.3h2v2h-2zM672.4 301.3h2v2h-2zM690.1 315.5h2v2h-2zM688.3 317.3h2v2h-2zM704.3 328h2v2h-2zM702.5 329.8h3.7v2h-3.7zM700.8 331.5h7.3v2h-7.3zM704.3 333.3h2v2h-2zM715 340.4h2v2h-2zM718.5 340.4h3.7v2h-3.7zM713.2 342.2h2v2h-2zM720.3 344h2v2h-2zM713.2 345.8h2v2h-2zM713.2 347.5h2v2h-2zM716.7 347.5h2v2h-2zM738 358.2h2v2h-2zM730.9 365.3h2v2h-2zM738 365.3h2v2h-2z" fill="#ffb200"/>
<path d="M555.2 180.5h2v2h-2zM553.5 182.2h3.7v2h-3.7zM640.4 258.7h2v2h-2zM638.6 260.4h2v2h-2zM636.9 264h3.7v2h-3.7zM642.2 264h2v2h-2zM633.3 265.8h2v2h-2zM636.9 265.8h2v2h-2zM640.4 265.8h2v2h-2zM631.5 267.6h2v2h-2zM638.6 267.6h2v2h-2zM636.9 269.3h2v2h-2zM668.8 296h2v2h-2zM713.2 340.4h2v2h-2zM716.7 340.4h2v2h-2zM715 342.2h3.7v2h-3.7zM720.3 342.2h2v2h-2zM713.2 344h7.3v2h-7.3zM716.7 345.8h5.5v2h-5.5zM715 347.5h2v2h-2zM718.5 347.5h3.7v2h-3.7z" fill="#ff9900"/>
<path d="M493.1 118.3h2v2h-2zM491.3 120h5.5v2h-5.5zM493.1 121.8h2v2h-2zM498.4 121.8h2v2h-2zM494.9 125.4h2v2h-2zM516.2 141.4h2v2h-2zM514.4 143.1h5.5v2h-5.5zM516.2 144.9h2v2h-2zM610.3 228.4h5.5v2h-5.5zM610.3 232h3.7v2h-3.7zM601.4 237.3h2v2h-2zM604.9 237.3h2v2h-2zM601.4 239.1h2v2h-2zM604.9 239.1h2v2h-2zM601.4 240.9h2v2h-2zM642.2 258.7h2v2h-2zM642.2 260.4h2v2h-2zM642.2 262.2h2v2h-2zM640.4 264h2v2h-2zM638.6 265.8h2v2h-2zM642.2 265.8h2v2h-2zM636.9 267.6h2v2h-2zM640.4 267.6h3.7v2h-3.7zM631.5 269.3h5.5v2h-5.5zM638.6 269.3h3.7v2h-3.7zM718.5 342.2h2v2h-2zM715 345.8h2v2h-2z" fill="#ff8000"/>
<path d="M491.3 118.3h2v2h-2zM494.9 118.3h5.5v2h-5.5zM496.7 120h3.7v2h-3.7zM491.3 121.8h2v2h-2zM494.9 121.8h3.7v2h-3.7zM491.3 123.6h5.5v2h-5.5zM491.3 125.4h3.7v2h-3.7zM500.2 127.1h2v2h-2zM502 128.9h2v2h-2zM503.8 130.7h2v2h-2zM505.5 132.5h2v2h-2zM507.3 134.3h2v2h-2zM509.1 136h2v2h-2zM510.9 137.8h2v2h-2zM512.6 139.6h2v2h-2zM514.4 141.4h2v2h-2zM518 141.4h2v2h-2zM521.5 141.4h2v2h-2zM521.5 143.1h2v2h-2zM514.4 144.9h2v2h-2zM518 144.9h2v2h-2zM514.4 148.5h3.7v2h-3.7zM615.6 228.4h5.5v2h-5.5zM610.3 230.2h5.5v2h-5.5zM613.8 232h3.7v2h-3.7zM610.3 233.8h3.7v2h-3.7zM615.6 233.8h2v2h-2zM612 235.6h3.7v2h-3.7zM603.2 237.3h2v2h-2zM606.7 237.3h2v2h-2zM603.2 239.1h2v2h-2zM606.7 239.1h3.7v2h-3.7zM603.2 240.9h3.7v2h-3.7zM608.5 240.9h2v2h-2zM601.4 242.7h2v2h-2zM604.9 242.7h3.7v2h-3.7zM601.4 244.4h2v2h-2zM601.4 246.2h2v2h-2zM642.2 269.3h2v2h-2zM644 271.1h2v2h-2zM647.5 271.1h2v2h-2zM645.7 272.9h2v2h-2zM649.3 272.9h2v2h-2zM644 274.7h2v2h-2zM649.3 274.7h2v2h-2zM645.7 276.4h3.7v2h-3.7zM651.1 278.2h2v2h-2zM675.9 303.1h3.7v2h-3.7zM675.9 304.9h5.5v2h-5.5zM677.7 306.7h3.7v2h-3.7z" fill="#ff6600"/>
<path d="M487.8 114.7h3.7v2h-3.7zM487.8 116.5h3.7v2h-3.7zM496.7 123.6h3.7v2h-3.7zM496.7 125.4h3.7v2h-3.7zM519.7 141.4h2v2h-2zM519.7 143.1h2v2h-2zM519.7 144.9h3.7v2h-3.7zM514.4 146.7h5.5v2h-5.5zM521.5 146.7h2v2h-2zM518 148.5h5.5v2h-5.5zM615.6 230.2h5.5v2h-5.5zM617.4 232h3.7v2h-3.7zM613.8 233.8h2v2h-2zM617.4 233.8h3.7v2h-3.7zM610.3 235.6h2v2h-2zM619.1 235.6h2v2h-2zM608.5 237.3h5.5v2h-5.5zM610.3 239.1h2v2h-2zM606.7 240.9h2v2h-2zM615.6 240.9h2v2h-2zM603.2 242.7h2v2h-2zM613.8 242.7h2v2h-2zM603.2 244.4h5.5v2h-5.5zM603.2 246.2h7.3v2h-7.3zM645.7 271.1h2v2h-2zM649.3 271.1h2v2h-2zM644 272.9h2v2h-2zM647.5 272.9h2v2h-2zM645.7 274.7h3.7v2h-3.7zM644 276.4h2v2h-2zM649.3 276.4h2v2h-2zM679.5 303.1h2v2h-2zM675.9 306.7h2v2h-2zM748.7 374.2h3.7v2h-3.7zM746.9 376h3.7v2h-3.7zM752.2 376h2v2h-2zM746.9 377.7h2v2h-2zM748.7 379.5h2v2h-2z" fill="#ff4d00"/>
<path d="M519.7 146.7h2v2h-2zM615.6 235.6h3.7v2h-3.7zM613.8 237.3h7.3v2h-7.3zM612 239.1h7.3v2h-7.3zM610.3 240.9h5.5v2h-5.5zM617.4 240.9h3.7v2h-3.7zM608.5 242.7h5.5v2h-5.5zM615.6 242.7h2v2h-2zM619.1 242.7h2v2h-2zM608.5 244.4h7.3v2h-7.3zM610.3 246.2h2v2h-2zM613.8 246.2h3.7v2h-3.7zM746.9 374.2h2v2h-2zM752.2 374.2h2v2h-2zM750.5 376h2v2h-2zM748.7 377.7h5.5v2h-5.5zM746.9 379.5h2v2h-2zM750.5 379.5h3.7v2h-3.7z" fill="#ff3300"/>
<path d="M619.1 239.1h2v2h-2zM617.4 242.7h2v2h-2zM615.6 244.4h5.5v2h-5.5zM612 246.2h2v2h-2zM617.4 246.2h2v2h-2z" fill="#ff1a00"/>
<path d="M619.1 246.2h2v2h-2z" fill="#ff0000"/>
<text x="221.1" y="407.4" font-size="12.8" font-weight="bold" text-anchor="middle" fill="#000" textLength="159" lengthAdjust="spacingAndGlyphs">C. Eigengene dendrogram</text>
<path d="M52.4 419V632" stroke="#222" stroke-width="1" fill="none"/>
<path d="M46.2 419H52.4" stroke="#222" stroke-width="1"/>
<text x="39.1" y="419" font-size="11" text-anchor="middle" fill="#222" transform="rotate(-90 39.1 419)">1.2</text>
<path d="M46.2 461.6H52.4" stroke="#222" stroke-width="1"/>
<text x="39.1" y="461.6" font-size="11" text-anchor="middle" fill="#222" transform="rotate(-90 39.1 461.6)">1.0</text>
<path d="M46.2 504.2H52.4" stroke="#222" stroke-width="1"/>
<text x="39.1" y="504.2" font-size="11" text-anchor="middle" fill="#222" transform="rotate(-90 39.1 504.2)">0.8</text>
<path d="M46.2 546.8H52.4" stroke="#222" stroke-width="1"/>
<text x="39.1" y="546.8" font-size="11" text-anchor="middle" fill="#222" transform="rotate(-90 39.1 546.8)">0.6</text>
<path d="M46.2 589.4H52.4" stroke="#222" stroke-width="1"/>
<text x="39.1" y="589.4" font-size="11" text-anchor="middle" fill="#222" transform="rotate(-90 39.1 589.4)">0.4</text>
<path d="M46.2 632H52.4" stroke="#222" stroke-width="1"/>
<text x="39.1" y="632" font-size="11" text-anchor="middle" fill="#222" transform="rotate(-90 39.1 632)">0.2</text>
<path d="M81.5 465.8L81.5 424.8L236.7 424.8L236.7 462.5M65.5 485.7L65.5 465.8L97.6 465.8L97.6 573.4M82.5 593.5L82.5 573.4L113.4 573.4L113.4 587.1M99.6 606.8L99.6 587.1L125.9 587.1L125.9 621M117 639.4L117 621L134.8 621L134.8 639.4M198.7 509.4L198.7 462.5L273.9 462.5L273.9 466.2M167.4 562.4L167.4 509.4L229.8 509.4L229.8 558.9M151.3 581.3L151.3 562.4L182.2 562.4L182.2 584.6M169.4 603.2L169.4 584.6L195.4 584.6L195.4 611.3M186.5 630.4L186.5 611.3L204.1 611.3L204.1 630.4M221.4 578.2L221.4 558.9L238.7 558.9L238.7 578.2M256.2 485.7L256.2 466.2L292.2 466.2L292.2 470.8M273.9 490.3L273.9 470.8L310.6 470.8L310.6 499.9M290.6 518.5L290.6 499.9L329.6 499.9L329.6 501.7M307.8 521.7L307.8 501.7L351.2 501.7L351.2 542M334.2 593.5L334.2 542L369 542L369 568.3M325.9 612.1L325.9 593.5L343.4 593.5L343.4 612.1M360.3 587.3L360.3 568.3L377.3 568.3L377.3 587.3" stroke="#222" stroke-width="1" fill="none"/>
<text x="69.5" y="494.2" font-size="11" text-anchor="end" fill="#111" transform="rotate(-90 69.5 494.2)">MEmagenta</text>
<text x="86.5" y="602" font-size="11" text-anchor="end" fill="#111" transform="rotate(-90 86.5 602)">MEblack</text>
<text x="103.6" y="615.3" font-size="11" text-anchor="end" fill="#111" transform="rotate(-90 103.6 615.3)">MEturquoise</text>
<text x="121" y="647.9" font-size="11" text-anchor="end" fill="#111" transform="rotate(-90 121 647.9)">MEgreen</text>
<text x="138.8" y="647.9" font-size="11" text-anchor="end" fill="#111" transform="rotate(-90 138.8 647.9)">MElightcyan</text>
<text x="155.3" y="589.8" font-size="11" text-anchor="end" fill="#111" transform="rotate(-90 155.3 589.8)">weight</text>
<text x="173.4" y="611.7" font-size="11" text-anchor="end" fill="#111" transform="rotate(-90 173.4 611.7)">MEblue</text>
<text x="190.5" y="638.9" font-size="11" text-anchor="end" fill="#111" transform="rotate(-90 190.5 638.9)">MEbrown</text>
<text x="208.1" y="638.9" font-size="11" text-anchor="end" fill="#111" transform="rotate(-90 208.1 638.9)">MEred</text>
<text x="225.4" y="586.7" font-size="11" text-anchor="end" fill="#111" transform="rotate(-90 225.4 586.7)">MEsalmon</text>
<text x="242.7" y="586.7" font-size="11" text-anchor="end" fill="#111" transform="rotate(-90 242.7 586.7)">MEyellow</text>
<text x="260.2" y="494.2" font-size="11" text-anchor="end" fill="#111" transform="rotate(-90 260.2 494.2)">MElightgreen</text>
<text x="277.9" y="498.8" font-size="11" text-anchor="end" fill="#111" transform="rotate(-90 277.9 498.8)">MEgreenyellow</text>
<text x="294.6" y="527" font-size="11" text-anchor="end" fill="#111" transform="rotate(-90 294.6 527)">MEgrey60</text>
<text x="311.8" y="530.2" font-size="11" text-anchor="end" fill="#111" transform="rotate(-90 311.8 530.2)">MEpink</text>
<text x="329.9" y="620.6" font-size="11" text-anchor="end" fill="#111" transform="rotate(-90 329.9 620.6)">MEpurple</text>
<text x="347.4" y="620.6" font-size="11" text-anchor="end" fill="#111" transform="rotate(-90 347.4 620.6)">MEtan</text>
<text x="364.3" y="595.8" font-size="11" text-anchor="end" fill="#111" transform="rotate(-90 364.3 595.8)">MEcyan</text>
<text x="381.3" y="595.8" font-size="11" text-anchor="end" fill="#111" transform="rotate(-90 381.3 595.8)">MEmidnightblue</text>
<text x="571.6" y="406.4" font-size="12.7" font-weight="bold" text-anchor="middle" fill="#000" textLength="201.8" lengthAdjust="spacingAndGlyphs">D. Eigengene adjacency heatmap</text>
<rect x="440.8" y="412.7" width="14" height="14.1" fill="#ff0000"/>
<rect x="468" y="412.7" width="14" height="14.1" fill="#fff2f2"/>
<rect x="495.2" y="412.7" width="14" height="14.1" fill="#fff2f2"/>
<rect x="576.7" y="412.7" width="14" height="14.1" fill="#f2fff2"/>
<rect x="644.6" y="412.7" width="14" height="14.1" fill="#d9ffd9"/>
<rect x="658.2" y="412.7" width="14" height="14.1" fill="#e6ffe6"/>
<rect x="685.4" y="412.7" width="14" height="14.1" fill="#e6ffe6"/>
<rect x="454.4" y="426.4" width="14" height="14.1" fill="#ff0000"/>
<rect x="468" y="426.4" width="14" height="14.1" fill="#ff9999"/>
<rect x="481.6" y="426.4" width="14" height="14.1" fill="#ff7373"/>
<rect x="495.2" y="426.4" width="14" height="14.1" fill="#ff7373"/>
<rect x="508.7" y="426.4" width="14" height="14.1" fill="#b2ffb2"/>
<rect x="522.3" y="426.4" width="14" height="14.1" fill="#d9ffd9"/>
<rect x="535.9" y="426.4" width="14" height="14.1" fill="#a6ffa6"/>
<rect x="549.5" y="426.4" width="14" height="14.1" fill="#99ff99"/>
<rect x="563.1" y="426.4" width="14" height="14.1" fill="#99ff99"/>
<rect x="576.7" y="426.4" width="14" height="14.1" fill="#80ff80"/>
<rect x="590.3" y="426.4" width="14" height="14.1" fill="#ffd9d9"/>
<rect x="603.9" y="426.4" width="14" height="14.1" fill="#d9ffd9"/>
<rect x="617.5" y="426.4" width="14" height="14.1" fill="#e6ffe6"/>
<rect x="644.6" y="426.4" width="14" height="14.1" fill="#d9ffd9"/>
<rect x="658.2" y="426.4" width="14" height="14.1" fill="#80ff80"/>
<rect x="671.8" y="426.4" width="14" height="14.1" fill="#d9ffd9"/>
<rect x="685.4" y="426.4" width="14" height="14.1" fill="#ffb2b2"/>
<rect x="440.8" y="440.2" width="14" height="14.1" fill="#fff2f2"/>
<rect x="454.4" y="440.2" width="14" height="14.1" fill="#ff9999"/>
<rect x="468" y="440.2" width="14" height="14.1" fill="#ff0000"/>
<rect x="481.6" y="440.2" width="14" height="14.1" fill="#ff8080"/>
<rect x="495.2" y="440.2" width="14" height="14.1" fill="#ff5959"/>
<rect x="508.7" y="440.2" width="14" height="14.1" fill="#b2ffb2"/>
<rect x="535.9" y="440.2" width="14" height="14.1" fill="#d9ffd9"/>
<rect x="549.5" y="440.2" width="14" height="14.1" fill="#a6ffa6"/>
<rect x="563.1" y="440.2" width="14" height="14.1" fill="#b2ffb2"/>
<rect x="603.9" y="440.2" width="14" height="14.1" fill="#f2fff2"/>
<rect x="617.5" y="440.2" width="14" height="14.1" fill="#33ff33"/>
<rect x="631.1" y="440.2" width="14" height="14.1" fill="#d9ffd9"/>
<rect x="644.6" y="440.2" width="14" height="14.1" fill="#33ff33"/>
<rect x="658.2" y="440.2" width="14" height="14.1" fill="#40ff40"/>
<rect x="671.8" y="440.2" width="14" height="14.1" fill="#66ff66"/>
<rect x="685.4" y="440.2" width="14" height="14.1" fill="#ccffcc"/>
<rect x="454.4" y="453.9" width="14" height="14.1" fill="#ff7373"/>
<rect x="468" y="453.9" width="14" height="14.1" fill="#ff8080"/>
<rect x="481.6" y="453.9" width="14" height="14.1" fill="#ff0000"/>
<rect x="495.2" y="453.9" width="14" height="14.1" fill="#ff4040"/>
<rect x="549.5" y="453.9" width="14" height="14.1" fill="#f2fff2"/>
<rect x="563.1" y="453.9" width="14" height="14.1" fill="#d9ffd9"/>
<rect x="576.7" y="453.9" width="14" height="14.1" fill="#ccffcc"/>
<rect x="590.3" y="453.9" width="14" height="14.1" fill="#f2fff2"/>
<rect x="617.5" y="453.9" width="14" height="14.1" fill="#66ff66"/>
<rect x="644.6" y="453.9" width="14" height="14.1" fill="#ccffcc"/>
<rect x="658.2" y="453.9" width="14" height="14.1" fill="#a6ffa6"/>
<rect x="671.8" y="453.9" width="14" height="14.1" fill="#ccffcc"/>
<rect x="685.4" y="453.9" width="14" height="14.1" fill="#ff5959"/>
<rect x="440.8" y="467.6" width="14" height="14.1" fill="#fff2f2"/>
<rect x="454.4" y="467.6" width="14" height="14.1" fill="#ff7373"/>
<rect x="468" y="467.6" width="14" height="14.1" fill="#ff5959"/>
<rect x="481.6" y="467.6" width="14" height="14.1" fill="#ff4040"/>
<rect x="495.2" y="467.6" width="14" height="14.1" fill="#ff0000"/>
<rect x="508.7" y="467.6" width="14" height="14.1" fill="#e6ffe6"/>
<rect x="535.9" y="467.6" width="14" height="14.1" fill="#e6ffe6"/>
<rect x="549.5" y="467.6" width="14" height="14.1" fill="#d9ffd9"/>
<rect x="563.1" y="467.6" width="14" height="14.1" fill="#ccffcc"/>
<rect x="576.7" y="467.6" width="14" height="14.1" fill="#8cff8c"/>
<rect x="590.3" y="467.6" width="14" height="14.1" fill="#f2fff2"/>
<rect x="603.9" y="467.6" width="14" height="14.1" fill="#d9ffd9"/>
<rect x="617.5" y="467.6" width="14" height="14.1" fill="#99ff99"/>
<rect x="631.1" y="467.6" width="14" height="14.1" fill="#e6ffe6"/>
<rect x="644.6" y="467.6" width="14" height="14.1" fill="#80ff80"/>
<rect x="658.2" y="467.6" width="14" height="14.1" fill="#40ff40"/>
<rect x="671.8" y="467.6" width="14" height="14.1" fill="#ccffcc"/>
<rect x="685.4" y="467.6" width="14" height="14.1" fill="#ffd9d9"/>
<rect x="454.4" y="481.4" width="14" height="14.1" fill="#b2ffb2"/>
<rect x="468" y="481.4" width="14" height="14.1" fill="#b2ffb2"/>
<rect x="495.2" y="481.4" width="14" height="14.1" fill="#e6ffe6"/>
<rect x="508.7" y="481.4" width="14" height="14.1" fill="#ff0000"/>
<rect x="522.3" y="481.4" width="14" height="14.1" fill="#ffb2b2"/>
<rect x="535.9" y="481.4" width="14" height="14.1" fill="#ff8080"/>
<rect x="549.5" y="481.4" width="14" height="14.1" fill="#ff8c8c"/>
<rect x="563.1" y="481.4" width="14" height="14.1" fill="#ff9494"/>
<rect x="576.7" y="481.4" width="14" height="14.1" fill="#ffbfbf"/>
<rect x="658.2" y="481.4" width="14" height="14.1" fill="#ffb2b2"/>
<rect x="671.8" y="481.4" width="14" height="14.1" fill="#ffd9d9"/>
<rect x="685.4" y="481.4" width="14" height="14.1" fill="#ffd9d9"/>
<rect x="454.4" y="495.1" width="14" height="14.1" fill="#d9ffd9"/>
<rect x="508.7" y="495.1" width="14" height="14.1" fill="#ffb2b2"/>
<rect x="522.3" y="495.1" width="14" height="14.1" fill="#ff0000"/>
<rect x="535.9" y="495.1" width="14" height="14.1" fill="#ff7373"/>
<rect x="549.5" y="495.1" width="14" height="14.1" fill="#ff8c8c"/>
<rect x="563.1" y="495.1" width="14" height="14.1" fill="#f2fff2"/>
<rect x="576.7" y="495.1" width="14" height="14.1" fill="#ebffeb"/>
<rect x="590.3" y="495.1" width="14" height="14.1" fill="#e6ffe6"/>
<rect x="603.9" y="495.1" width="14" height="14.1" fill="#e6ffe6"/>
<rect x="617.5" y="495.1" width="14" height="14.1" fill="#fff2f2"/>
<rect x="644.6" y="495.1" width="14" height="14.1" fill="#e6ffe6"/>
<rect x="658.2" y="495.1" width="14" height="14.1" fill="#f2fff2"/>
<rect x="454.4" y="508.8" width="14" height="14.1" fill="#a6ffa6"/>
<rect x="468" y="508.8" width="14" height="14.1" fill="#d9ffd9"/>
<rect x="495.2" y="508.8" width="14" height="14.1" fill="#e6ffe6"/>
<rect x="508.7" y="508.8" width="14" height="14.1" fill="#ff8080"/>
<rect x="522.3" y="508.8" width="14" height="14.1" fill="#ff7373"/>
<rect x="535.9" y="508.8" width="14" height="14.1" fill="#ff0000"/>
<rect x="549.5" y="508.8" width="14" height="14.1" fill="#ff4d4d"/>
<rect x="563.1" y="508.8" width="14" height="14.1" fill="#ff9999"/>
<rect x="576.7" y="508.8" width="14" height="14.1" fill="#ffbfbf"/>
<rect x="590.3" y="508.8" width="14" height="14.1" fill="#e6ffe6"/>
<rect x="617.5" y="508.8" width="14" height="14.1" fill="#e6ffe6"/>
<rect x="631.1" y="508.8" width="14" height="14.1" fill="#e6ffe6"/>
<rect x="644.6" y="508.8" width="14" height="14.1" fill="#f2fff2"/>
<rect x="658.2" y="508.8" width="14" height="14.1" fill="#ffe0e0"/>
<rect x="685.4" y="508.8" width="14" height="14.1" fill="#ffe6e6"/>
<rect x="454.4" y="522.6" width="14" height="14.1" fill="#99ff99"/>
<rect x="468" y="522.6" width="14" height="14.1" fill="#a6ffa6"/>
<rect x="481.6" y="522.6" width="14" height="14.1" fill="#f2fff2"/>
<rect x="495.2" y="522.6" width="14" height="14.1" fill="#d9ffd9"/>
<rect x="508.7" y="522.6" width="14" height="14.1" fill="#ff8c8c"/>
<rect x="522.3" y="522.6" width="14" height="14.1" fill="#ff8c8c"/>
<rect x="535.9" y="522.6" width="14" height="14.1" fill="#ff4d4d"/>
<rect x="549.5" y="522.6" width="14" height="14.1" fill="#ff0000"/>
<rect x="563.1" y="522.6" width="14" height="14.1" fill="#ff8080"/>
<rect x="576.7" y="522.6" width="14" height="14.1" fill="#ffcccc"/>
<rect x="590.3" y="522.6" width="14" height="14.1" fill="#ebffeb"/>
<rect x="617.5" y="522.6" width="14" height="14.1" fill="#ffe6e6"/>
<rect x="658.2" y="522.6" width="14" height="14.1" fill="#ffe0e0"/>
<rect x="671.8" y="522.6" width="14" height="14.1" fill="#ffebeb"/>
<rect x="685.4" y="522.6" width="14" height="14.1" fill="#fff2f2"/>
<rect x="454.4" y="536.3" width="14" height="14.1" fill="#99ff99"/>
<rect x="468" y="536.3" width="14" height="14.1" fill="#b2ffb2"/>
<rect x="481.6" y="536.3" width="14" height="14.1" fill="#d9ffd9"/>
<rect x="495.2" y="536.3" width="14" height="14.1" fill="#ccffcc"/>
<rect x="508.7" y="536.3" width="14" height="14.1" fill="#ff9494"/>
<rect x="522.3" y="536.3" width="14" height="14.1" fill="#f2fff2"/>
<rect x="535.9" y="536.3" width="14" height="14.1" fill="#ff9999"/>
<rect x="549.5" y="536.3" width="14" height="14.1" fill="#ff8080"/>
<rect x="563.1" y="536.3" width="14" height="14.1" fill="#ff0000"/>
<rect x="576.7" y="536.3" width="14" height="14.1" fill="#ff8080"/>
<rect x="603.9" y="536.3" width="14" height="14.1" fill="#ffd9d9"/>
<rect x="631.1" y="536.3" width="14" height="14.1" fill="#f2fff2"/>
<rect x="644.6" y="536.3" width="14" height="14.1" fill="#fff2f2"/>
<rect x="658.2" y="536.3" width="14" height="14.1" fill="#ffa6a6"/>
<rect x="671.8" y="536.3" width="14" height="14.1" fill="#ffd9d9"/>
<rect x="685.4" y="536.3" width="14" height="14.1" fill="#fff2f2"/>
<rect x="440.8" y="550" width="14" height="14.1" fill="#f2fff2"/>
<rect x="454.4" y="550" width="14" height="14.1" fill="#80ff80"/>
<rect x="481.6" y="550" width="14" height="14.1" fill="#ccffcc"/>
<rect x="495.2" y="550" width="14" height="14.1" fill="#8cff8c"/>
<rect x="508.7" y="550" width="14" height="14.1" fill="#ffbfbf"/>
<rect x="522.3" y="550" width="14" height="14.1" fill="#ebffeb"/>
<rect x="535.9" y="550" width="14" height="14.1" fill="#ffbfbf"/>
<rect x="549.5" y="550" width="14" height="14.1" fill="#ffcccc"/>
<rect x="563.1" y="550" width="14" height="14.1" fill="#ff8080"/>
<rect x="576.7" y="550" width="14" height="14.1" fill="#ff0000"/>
<rect x="603.9" y="550" width="14" height="14.1" fill="#ffcccc"/>
<rect x="617.5" y="550" width="14" height="14.1" fill="#73ff73"/>
<rect x="631.1" y="550" width="14" height="14.1" fill="#e6ffe6"/>
<rect x="658.2" y="550" width="14" height="14.1" fill="#ff7373"/>
<rect x="671.8" y="550" width="14" height="14.1" fill="#ccffcc"/>
<rect x="685.4" y="550" width="14" height="14.1" fill="#f2fff2"/>
<rect x="454.4" y="563.7" width="14" height="14.1" fill="#ffd9d9"/>
<rect x="481.6" y="563.7" width="14" height="14.1" fill="#f2fff2"/>
<rect x="495.2" y="563.7" width="14" height="14.1" fill="#f2fff2"/>
<rect x="522.3" y="563.7" width="14" height="14.1" fill="#e6ffe6"/>
<rect x="535.9" y="563.7" width="14" height="14.1" fill="#e6ffe6"/>
<rect x="549.5" y="563.7" width="14" height="14.1" fill="#ebffeb"/>
<rect x="590.3" y="563.7" width="14" height="14.1" fill="#ff0000"/>
<rect x="658.2" y="563.7" width="14" height="14.1" fill="#fff2f2"/>
<rect x="454.4" y="577.5" width="14" height="14.1" fill="#d9ffd9"/>
<rect x="468" y="577.5" width="14" height="14.1" fill="#f2fff2"/>
<rect x="495.2" y="577.5" width="14" height="14.1" fill="#d9ffd9"/>
<rect x="522.3" y="577.5" width="14" height="14.1" fill="#e6ffe6"/>
<rect x="563.1" y="577.5" width="14" height="14.1" fill="#ffd9d9"/>
<rect x="576.7" y="577.5" width="14" height="14.1" fill="#ffcccc"/>
<rect x="603.9" y="577.5" width="14" height="14.1" fill="#ff0000"/>
<rect x="644.6" y="577.5" width="14" height="14.1" fill="#ffd9d9"/>
<rect x="658.2" y="577.5" width="14" height="14.1" fill="#ffe6e6"/>
<rect x="454.4" y="591.2" width="14" height="14.1" fill="#e6ffe6"/>
<rect x="468" y="591.2" width="14" height="14.1" fill="#33ff33"/>
<rect x="481.6" y="591.2" width="14" height="14.1" fill="#66ff66"/>
<rect x="495.2" y="591.2" width="14" height="14.1" fill="#99ff99"/>
<rect x="522.3" y="591.2" width="14" height="14.1" fill="#fff2f2"/>
<rect x="535.9" y="591.2" width="14" height="14.1" fill="#e6ffe6"/>
<rect x="549.5" y="591.2" width="14" height="14.1" fill="#ffe6e6"/>
<rect x="576.7" y="591.2" width="14" height="14.1" fill="#73ff73"/>
<rect x="617.5" y="591.2" width="14" height="14.1" fill="#ff0000"/>
<rect x="631.1" y="591.2" width="14" height="14.1" fill="#ffd9d9"/>
<rect x="644.6" y="591.2" width="14" height="14.1" fill="#ff8c8c"/>
<rect x="658.2" y="591.2" width="14" height="14.1" fill="#fff2f2"/>
<rect x="671.8" y="591.2" width="14" height="14.1" fill="#ffa6a6"/>
<rect x="685.4" y="591.2" width="14" height="14.1" fill="#ccffcc"/>
<rect x="468" y="604.9" width="14" height="14.1" fill="#d9ffd9"/>
<rect x="495.2" y="604.9" width="14" height="14.1" fill="#e6ffe6"/>
<rect x="535.9" y="604.9" width="14" height="14.1" fill="#e6ffe6"/>
<rect x="563.1" y="604.9" width="14" height="14.1" fill="#f2fff2"/>
<rect x="576.7" y="604.9" width="14" height="14.1" fill="#e6ffe6"/>
<rect x="617.5" y="604.9" width="14" height="14.1" fill="#ffd9d9"/>
<rect x="631.1" y="604.9" width="14" height="14.1" fill="#ff0000"/>
<rect x="644.6" y="604.9" width="14" height="14.1" fill="#ffcccc"/>
<rect x="658.2" y="604.9" width="14" height="14.1" fill="#ffe6e6"/>
<rect x="671.8" y="604.9" width="14" height="14.1" fill="#ffbfbf"/>
<rect x="685.4" y="604.9" width="14" height="14.1" fill="#ffd9d9"/>
<rect x="440.8" y="618.7" width="14" height="14.1" fill="#d9ffd9"/>
<rect x="454.4" y="618.7" width="14" height="14.1" fill="#d9ffd9"/>
<rect x="468" y="618.7" width="14" height="14.1" fill="#33ff33"/>
<rect x="481.6" y="618.7" width="14" height="14.1" fill="#ccffcc"/>
<rect x="495.2" y="618.7" width="14" height="14.1" fill="#80ff80"/>
<rect x="522.3" y="618.7" width="14" height="14.1" fill="#e6ffe6"/>
<rect x="535.9" y="618.7" width="14" height="14.1" fill="#f2fff2"/>
<rect x="563.1" y="618.7" width="14" height="14.1" fill="#fff2f2"/>
<rect x="603.9" y="618.7" width="14" height="14.1" fill="#ffd9d9"/>
<rect x="617.5" y="618.7" width="14" height="14.1" fill="#ff8c8c"/>
<rect x="631.1" y="618.7" width="14" height="14.1" fill="#ffcccc"/>
<rect x="644.6" y="618.7" width="14" height="14.1" fill="#ff0000"/>
<rect x="658.2" y="618.7" width="14" height="14.1" fill="#ff6666"/>
<rect x="671.8" y="618.7" width="14" height="14.1" fill="#ffa6a6"/>
<rect x="685.4" y="618.7" width="14" height="14.1" fill="#ffb2b2"/>
<rect x="440.8" y="632.4" width="14" height="14.1" fill="#e6ffe6"/>
<rect x="454.4" y="632.4" width="14" height="14.1" fill="#80ff80"/>
<rect x="468" y="632.4" width="14" height="14.1" fill="#40ff40"/>
<rect x="481.6" y="632.4" width="14" height="14.1" fill="#a6ffa6"/>
<rect x="495.2" y="632.4" width="14" height="14.1" fill="#40ff40"/>
<rect x="508.7" y="632.4" width="14" height="14.1" fill="#ffb2b2"/>
<rect x="522.3" y="632.4" width="14" height="14.1" fill="#f2fff2"/>
<rect x="535.9" y="632.4" width="14" height="14.1" fill="#ffe0e0"/>
<rect x="549.5" y="632.4" width="14" height="14.1" fill="#ffe0e0"/>
<rect x="563.1" y="632.4" width="14" height="14.1" fill="#ffa6a6"/>
<rect x="576.7" y="632.4" width="14" height="14.1" fill="#ff7373"/>
<rect x="590.3" y="632.4" width="14" height="14.1" fill="#fff2f2"/>
<rect x="603.9" y="632.4" width="14" height="14.1" fill="#ffe6e6"/>
<rect x="617.5" y="632.4" width="14" height="14.1" fill="#fff2f2"/>
<rect x="631.1" y="632.4" width="14" height="14.1" fill="#ffe6e6"/>
<rect x="644.6" y="632.4" width="14" height="14.1" fill="#ff6666"/>
<rect x="658.2" y="632.4" width="14" height="14.1" fill="#ff0000"/>
<rect x="671.8" y="632.4" width="14" height="14.1" fill="#ff8c8c"/>
<rect x="685.4" y="632.4" width="14" height="14.1" fill="#ffb2b2"/>
<rect x="454.4" y="646.1" width="14" height="14.1" fill="#d9ffd9"/>
<rect x="468" y="646.1" width="14" height="14.1" fill="#66ff66"/>
<rect x="481.6" y="646.1" width="14" height="14.1" fill="#ccffcc"/>
<rect x="495.2" y="646.1" width="14" height="14.1" fill="#ccffcc"/>
<rect x="508.7" y="646.1" width="14" height="14.1" fill="#ffd9d9"/>
<rect x="549.5" y="646.1" width="14" height="14.1" fill="#ffebeb"/>
<rect x="563.1" y="646.1" width="14" height="14.1" fill="#ffd9d9"/>
<rect x="576.7" y="646.1" width="14" height="14.1" fill="#ccffcc"/>
<rect x="617.5" y="646.1" width="14" height="14.1" fill="#ffa6a6"/>
<rect x="631.1" y="646.1" width="14" height="14.1" fill="#ffbfbf"/>
<rect x="644.6" y="646.1" width="14" height="14.1" fill="#ffa6a6"/>
<rect x="658.2" y="646.1" width="14" height="14.1" fill="#ff8c8c"/>
<rect x="671.8" y="646.1" width="14" height="14.1" fill="#ff0000"/>
<rect x="685.4" y="646.1" width="14" height="14.1" fill="#ff8080"/>
<rect x="440.8" y="659.9" width="14" height="14.1" fill="#e6ffe6"/>
<rect x="454.4" y="659.9" width="14" height="14.1" fill="#ffb2b2"/>
<rect x="468" y="659.9" width="14" height="14.1" fill="#ccffcc"/>
<rect x="481.6" y="659.9" width="14" height="14.1" fill="#ff5959"/>
<rect x="495.2" y="659.9" width="14" height="14.1" fill="#ffd9d9"/>
<rect x="508.7" y="659.9" width="14" height="14.1" fill="#ffd9d9"/>
<rect x="535.9" y="659.9" width="14" height="14.1" fill="#ffe6e6"/>
<rect x="549.5" y="659.9" width="14" height="14.1" fill="#fff2f2"/>
<rect x="563.1" y="659.9" width="14" height="14.1" fill="#fff2f2"/>
<rect x="576.7" y="659.9" width="14" height="14.1" fill="#f2fff2"/>
<rect x="617.5" y="659.9" width="14" height="14.1" fill="#ccffcc"/>
<rect x="631.1" y="659.9" width="14" height="14.1" fill="#ffd9d9"/>
<rect x="644.6" y="659.9" width="14" height="14.1" fill="#ffb2b2"/>
<rect x="658.2" y="659.9" width="14" height="14.1" fill="#ffb2b2"/>
<rect x="671.8" y="659.9" width="14" height="14.1" fill="#ff8080"/>
<rect x="685.4" y="659.9" width="14" height="14.1" fill="#ff0000"/>
<rect x="440.8" y="412.7" width="258.2" height="260.9" fill="none" stroke="#888" stroke-width="0.8"/>
<rect x="423" y="412.7" width="14.3" height="14" fill="#ff00ff"/>
<rect x="440.8" y="675.7" width="13.9" height="14.4" fill="#ff00ff"/>
<rect x="423" y="426.4" width="14.3" height="14" fill="#000000"/>
<rect x="454.4" y="675.7" width="13.9" height="14.4" fill="#000000"/>
<rect x="423" y="440.2" width="14.3" height="14" fill="#40e0d0"/>
<rect x="468" y="675.7" width="13.9" height="14.4" fill="#40e0d0"/>
<rect x="423" y="453.9" width="14.3" height="14" fill="#00ff00"/>
<rect x="481.6" y="675.7" width="13.9" height="14.4" fill="#00ff00"/>
<rect x="423" y="467.6" width="14.3" height="14" fill="#e0ffff"/>
<rect x="495.2" y="675.7" width="13.9" height="14.4" fill="#e0ffff"/>
<rect x="423" y="495.1" width="14.3" height="14" fill="#0000ff"/>
<rect x="522.3" y="675.7" width="13.9" height="14.4" fill="#0000ff"/>
<rect x="423" y="508.8" width="14.3" height="14" fill="#a52a2a"/>
<rect x="535.9" y="675.7" width="13.9" height="14.4" fill="#a52a2a"/>
<rect x="423" y="522.6" width="14.3" height="14" fill="#ff0000"/>
<rect x="549.5" y="675.7" width="13.9" height="14.4" fill="#ff0000"/>
<rect x="423" y="536.3" width="14.3" height="14" fill="#fa8072"/>
<rect x="563.1" y="675.7" width="13.9" height="14.4" fill="#fa8072"/>
<rect x="423" y="550" width="14.3" height="14" fill="#ffff00"/>
<rect x="576.7" y="675.7" width="13.9" height="14.4" fill="#ffff00"/>
<rect x="423" y="563.7" width="14.3" height="14" fill="#90ee90"/>
<rect x="590.3" y="675.7" width="13.9" height="14.4" fill="#90ee90"/>
<rect x="423" y="577.5" width="14.3" height="14" fill="#adff2f"/>
<rect x="603.9" y="675.7" width="13.9" height="14.4" fill="#adff2f"/>
<rect x="423" y="591.2" width="14.3" height="14" fill="#ffc0cb"/>
<rect x="617.5" y="675.7" width="13.9" height="14.4" fill="#ffc0cb"/>
<rect x="423" y="604.9" width="14.3" height="14" fill="#999999"/>
<rect x="631.1" y="675.7" width="13.9" height="14.4" fill="#999999"/>
<rect x="423" y="618.7" width="14.3" height="14" fill="#a020f0"/>
<rect x="644.6" y="675.7" width="13.9" height="14.4" fill="#a020f0"/>
<rect x="423" y="632.4" width="14.3" height="14" fill="#d2b48c"/>
<rect x="658.2" y="675.7" width="13.9" height="14.4" fill="#d2b48c"/>
<rect x="423" y="646.1" width="14.3" height="14" fill="#00ffff"/>
<rect x="671.8" y="675.7" width="13.9" height="14.4" fill="#00ffff"/>
<rect x="423" y="659.9" width="14.3" height="14" fill="#191970"/>
<rect x="685.4" y="675.7" width="13.9" height="14.4" fill="#191970"/>
<text x="436.7" y="492.6" font-size="10.5" text-anchor="end" fill="#222">weight</text>
<text x="520.6" y="679.2" font-size="10.5" text-anchor="end" fill="#222" transform="rotate(-90 520.6 679.2)">weight</text>
<defs><linearGradient id="lg" x1="0" y1="0" x2="0" y2="1"><stop offset="0" stop-color="#ff0000"/><stop offset="0.5" stop-color="#ffffff"/><stop offset="1" stop-color="#00ff00"/></linearGradient><radialGradient id="ng" cx="0.45" cy="0.4" r="0.6"><stop offset="0" stop-color="#c8ecb0"/><stop offset="0.5" stop-color="#7aa860"/><stop offset="1" stop-color="#3c5e2a"/></radialGradient></defs>
<rect x="717.7" y="425.4" width="12" height="235.6" fill="url(#lg)" stroke="#222" stroke-width="0.8"/>
<path d="M729.7 425.4H736" stroke="#222" stroke-width="1"/>
<text x="742.2" y="431" font-size="11" text-anchor="start" fill="#222">1.0</text>
<path d="M729.7 472.5H736" stroke="#222" stroke-width="1"/>
<text x="742.2" y="478.1" font-size="11" text-anchor="start" fill="#222">0.8</text>
<path d="M729.7 519.6H736" stroke="#222" stroke-width="1"/>
<text x="742.2" y="525.2" font-size="11" text-anchor="start" fill="#222">0.6</text>
<path d="M729.7 566.8H736" stroke="#222" stroke-width="1"/>
<text x="742.2" y="572.4" font-size="11" text-anchor="start" fill="#222">0.4</text>
<path d="M729.7 613.9H736" stroke="#222" stroke-width="1"/>
<text x="742.2" y="619.5" font-size="11" text-anchor="start" fill="#222">0.2</text>
<path d="M729.7 661H736" stroke="#222" stroke-width="1"/>
<text x="742.2" y="666.6" font-size="11" text-anchor="start" fill="#222">0.0</text>
<text x="209.7" y="728.5" font-size="13.9" font-weight="bold" text-anchor="middle" fill="#000" textLength="296.2" lengthAdjust="spacingAndGlyphs">E. Module membership vs. gene significance</text>
<text x="209" y="745" font-size="13.8" font-weight="bold" text-anchor="middle" fill="#000" textLength="93.8" lengthAdjust="spacingAndGlyphs">brown module</text>
<text x="211.4" y="762" font-size="13.8" font-weight="bold" text-anchor="middle" fill="#000" textLength="147.6" lengthAdjust="spacingAndGlyphs">cor=0.48 p=&lt;10^{-20}</text>
<rect x="58.6" y="768.3" width="301.8" height="259.7" fill="none" stroke="#222" stroke-width="1"/>
<path d="M101.9 1028.0V1035.0" stroke="#222" stroke-width="1"/>
<text x="101.9" y="1054.9" font-size="13.1" text-anchor="middle" fill="#222">0.4</text>
<path d="M148.3 1028.0V1035.0" stroke="#222" stroke-width="1"/>
<text x="148.3" y="1054.9" font-size="13.1" text-anchor="middle" fill="#222">0.5</text>
<path d="M194.7 1028.0V1035.0" stroke="#222" stroke-width="1"/>
<text x="194.7" y="1054.9" font-size="13.1" text-anchor="middle" fill="#222">0.6</text>
<path d="M241 1028.0V1035.0" stroke="#222" stroke-width="1"/>
<text x="241" y="1054.9" font-size="13.1" text-anchor="middle" fill="#222">0.7</text>
<path d="M287.4 1028.0V1035.0" stroke="#222" stroke-width="1"/>
<text x="287.4" y="1054.9" font-size="13.1" text-anchor="middle" fill="#222">0.8</text>
<path d="M333.8 1028.0V1035.0" stroke="#222" stroke-width="1"/>
<text x="333.8" y="1054.9" font-size="13.1" text-anchor="middle" fill="#222">0.9</text>
<path d="M52.6 1000.3H58.6" stroke="#222" stroke-width="1"/>
<text x="43.7" y="1000.3" font-size="13.1" text-anchor="middle" fill="#222" transform="rotate(-90 43.7 1000.3)">0.1</text>
<path d="M52.6 962.2H58.6" stroke="#222" stroke-width="1"/>
<text x="43.7" y="962.2" font-size="13.1" text-anchor="middle" fill="#222" transform="rotate(-90 43.7 962.2)">0.2</text>
<path d="M52.6 924.2H58.6" stroke="#222" stroke-width="1"/>
<text x="43.7" y="924.2" font-size="13.1" text-anchor="middle" fill="#222" transform="rotate(-90 43.7 924.2)">0.3</text>
<path d="M52.6 886.2H58.6" stroke="#222" stroke-width="1"/>
<text x="43.7" y="886.2" font-size="13.1" text-anchor="middle" fill="#222" transform="rotate(-90 43.7 886.2)">0.4</text>
<path d="M52.6 848.2H58.6" stroke="#222" stroke-width="1"/>
<text x="43.7" y="848.2" font-size="13.1" text-anchor="middle" fill="#222" transform="rotate(-90 43.7 848.2)">0.5</text>
<path d="M52.6 810.1H58.6" stroke="#222" stroke-width="1"/>
<text x="43.7" y="810.1" font-size="13.1" text-anchor="middle" fill="#222" transform="rotate(-90 43.7 810.1)">0.6</text>
<path d="M52.6 772.1H58.6" stroke="#222" stroke-width="1"/>
<text x="43.7" y="772.1" font-size="13.1" text-anchor="middle" fill="#222" transform="rotate(-90 43.7 772.1)">0.7</text>
<text x="209.5" y="1083" font-size="13.7" text-anchor="middle" fill="#222" textLength="231.2" lengthAdjust="spacingAndGlyphs">Module Membership in brown module</text>
<text x="15.5" y="893.6" font-size="13.9" text-anchor="middle" fill="#222" transform="rotate(-90 15.5 893.6)" textLength="205.2" lengthAdjust="spacingAndGlyphs">Gene significance for body weight</text>
<path d="M158.6 796.9a2.05 2.05 0 1 0-4.1 0a2.05 2.05 0 1 0 4.1 0M189.9 803.6a2.05 2.05 0 1 0-4.1 0a2.05 2.05 0 1 0 4.1 0M183.4 807.2a2.05 2.05 0 1 0-4.1 0a2.05 2.05 0 1 0 4.1 0M154 818.2a2.05 2.05 0 1 0-4.1 0a2.05 2.05 0 1 0 4.1 0M186.5 815.7a2.05 2.05 0 1 0-4.1 0a2.05 2.05 0 1 0 4.1 0M198.6 813.8a2.05 2.05 0 1 0-4.1 0a2.05 2.05 0 1 0 4.1 0M201.5 813.8a2.05 2.05 0 1 0-4.1 0a2.05 2.05 0 1 0 4.1 0M187.2 820.3a2.05 2.05 0 1 0-4.1 0a2.05 2.05 0 1 0 4.1 0M193 823.4a2.05 2.05 0 1 0-4.1 0a2.05 2.05 0 1 0 4.1 0M184.7 825.3a2.05 2.05 0 1 0-4.1 0a2.05 2.05 0 1 0 4.1 0M199.5 825.3a2.05 2.05 0 1 0-4.1 0a2.05 2.05 0 1 0 4.1 0M199.5 828a2.05 2.05 0 1 0-4.1 0a2.05 2.05 0 1 0 4.1 0M210.3 818.4a2.05 2.05 0 1 0-4.1 0a2.05 2.05 0 1 0 4.1 0M210.3 822.8a2.05 2.05 0 1 0-4.1 0a2.05 2.05 0 1 0 4.1 0M210.3 826.7a2.05 2.05 0 1 0-4.1 0a2.05 2.05 0 1 0 4.1 0M210.3 830.5a2.05 2.05 0 1 0-4.1 0a2.05 2.05 0 1 0 4.1 0M144.3 834.4a2.05 2.05 0 1 0-4.1 0a2.05 2.05 0 1 0 4.1 0M155.3 836.3a2.05 2.05 0 1 0-4.1 0a2.05 2.05 0 1 0 4.1 0M175.5 840.1a2.05 2.05 0 1 0-4.1 0a2.05 2.05 0 1 0 4.1 0M178.4 838.6a2.05 2.05 0 1 0-4.1 0a2.05 2.05 0 1 0 4.1 0M166.5 843a2.05 2.05 0 1 0-4.1 0a2.05 2.05 0 1 0 4.1 0M152.4 848.2a2.05 2.05 0 1 0-4.1 0a2.05 2.05 0 1 0 4.1 0M156.6 846.9a2.05 2.05 0 1 0-4.1 0a2.05 2.05 0 1 0 4.1 0M160.5 846.3a2.05 2.05 0 1 0-4.1 0a2.05 2.05 0 1 0 4.1 0M176.1 847.4a2.05 2.05 0 1 0-4.1 0a2.05 2.05 0 1 0 4.1 0M181.3 845.9a2.05 2.05 0 1 0-4.1 0a2.05 2.05 0 1 0 4.1 0M175.9 850.3a2.05 2.05 0 1 0-4.1 0a2.05 2.05 0 1 0 4.1 0M168.8 851.7a2.05 2.05 0 1 0-4.1 0a2.05 2.05 0 1 0 4.1 0M193.8 844.9a2.05 2.05 0 1 0-4.1 0a2.05 2.05 0 1 0 4.1 0M194.7 843a2.05 2.05 0 1 0-4.1 0a2.05 2.05 0 1 0 4.1 0M193.4 846.9a2.05 2.05 0 1 0-4.1 0a2.05 2.05 0 1 0 4.1 0M211.1 848.4a2.05 2.05 0 1 0-4.1 0a2.05 2.05 0 1 0 4.1 0M111.3 855.5a2.05 2.05 0 1 0-4.1 0a2.05 2.05 0 1 0 4.1 0M149.5 856.9a2.05 2.05 0 1 0-4.1 0a2.05 2.05 0 1 0 4.1 0M117.8 864.2a2.05 2.05 0 1 0-4.1 0a2.05 2.05 0 1 0 4.1 0M111.8 868.6a2.05 2.05 0 1 0-4.1 0a2.05 2.05 0 1 0 4.1 0M140.7 866.1a2.05 2.05 0 1 0-4.1 0a2.05 2.05 0 1 0 4.1 0M149.5 870.9a2.05 2.05 0 1 0-4.1 0a2.05 2.05 0 1 0 4.1 0M159.1 868.4a2.05 2.05 0 1 0-4.1 0a2.05 2.05 0 1 0 4.1 0M159.7 875.1a2.05 2.05 0 1 0-4.1 0a2.05 2.05 0 1 0 4.1 0M157.6 880.1a2.05 2.05 0 1 0-4.1 0a2.05 2.05 0 1 0 4.1 0M146.8 881.1a2.05 2.05 0 1 0-4.1 0a2.05 2.05 0 1 0 4.1 0M150.1 887.3a2.05 2.05 0 1 0-4.1 0a2.05 2.05 0 1 0 4.1 0M163.6 889.2a2.05 2.05 0 1 0-4.1 0a2.05 2.05 0 1 0 4.1 0M171.6 883a2.05 2.05 0 1 0-4.1 0a2.05 2.05 0 1 0 4.1 0M177.4 869.9a2.05 2.05 0 1 0-4.1 0a2.05 2.05 0 1 0 4.1 0M179.3 869.6a2.05 2.05 0 1 0-4.1 0a2.05 2.05 0 1 0 4.1 0M182.6 877.1a2.05 2.05 0 1 0-4.1 0a2.05 2.05 0 1 0 4.1 0M189.3 878.2a2.05 2.05 0 1 0-4.1 0a2.05 2.05 0 1 0 4.1 0M191.8 880.1a2.05 2.05 0 1 0-4.1 0a2.05 2.05 0 1 0 4.1 0M186.1 886.3a2.05 2.05 0 1 0-4.1 0a2.05 2.05 0 1 0 4.1 0M190.3 886.3a2.05 2.05 0 1 0-4.1 0a2.05 2.05 0 1 0 4.1 0M191.8 885.7a2.05 2.05 0 1 0-4.1 0a2.05 2.05 0 1 0 4.1 0M176.1 891.1a2.05 2.05 0 1 0-4.1 0a2.05 2.05 0 1 0 4.1 0M179.9 894a2.05 2.05 0 1 0-4.1 0a2.05 2.05 0 1 0 4.1 0M199.5 889.8a2.05 2.05 0 1 0-4.1 0a2.05 2.05 0 1 0 4.1 0M205.3 877.1a2.05 2.05 0 1 0-4.1 0a2.05 2.05 0 1 0 4.1 0M208.6 873.8a2.05 2.05 0 1 0-4.1 0a2.05 2.05 0 1 0 4.1 0M211.1 856.5a2.05 2.05 0 1 0-4.1 0a2.05 2.05 0 1 0 4.1 0M211.1 882.4a2.05 2.05 0 1 0-4.1 0a2.05 2.05 0 1 0 4.1 0M191.1 895.3a2.05 2.05 0 1 0-4.1 0a2.05 2.05 0 1 0 4.1 0M195.7 894.9a2.05 2.05 0 1 0-4.1 0a2.05 2.05 0 1 0 4.1 0M199.2 895.3a2.05 2.05 0 1 0-4.1 0a2.05 2.05 0 1 0 4.1 0M202.4 895.3a2.05 2.05 0 1 0-4.1 0a2.05 2.05 0 1 0 4.1 0M211.1 894.9a2.05 2.05 0 1 0-4.1 0a2.05 2.05 0 1 0 4.1 0M211.7 779.9a2.05 2.05 0 1 0-4.1 0a2.05 2.05 0 1 0 4.1 0M248.8 776.9a2.05 2.05 0 1 0-4.1 0a2.05 2.05 0 1 0 4.1 0M256.3 777.5a2.05 2.05 0 1 0-4.1 0a2.05 2.05 0 1 0 4.1 0M278.2 786.5a2.05 2.05 0 1 0-4.1 0a2.05 2.05 0 1 0 4.1 0M290.9 783.3a2.05 2.05 0 1 0-4.1 0a2.05 2.05 0 1 0 4.1 0M298.1 790.3a2.05 2.05 0 1 0-4.1 0a2.05 2.05 0 1 0 4.1 0M225.9 792.4a2.05 2.05 0 1 0-4.1 0a2.05 2.05 0 1 0 4.1 0M214.4 799a2.05 2.05 0 1 0-4.1 0a2.05 2.05 0 1 0 4.1 0M254.1 795.8a2.05 2.05 0 1 0-4.1 0a2.05 2.05 0 1 0 4.1 0M256.3 802.8a2.05 2.05 0 1 0-4.1 0a2.05 2.05 0 1 0 4.1 0M271.6 798.8a2.05 2.05 0 1 0-4.1 0a2.05 2.05 0 1 0 4.1 0M282.2 802.4a2.05 2.05 0 1 0-4.1 0a2.05 2.05 0 1 0 4.1 0M283.6 807.3a2.05 2.05 0 1 0-4.1 0a2.05 2.05 0 1 0 4.1 0M270.8 807a2.05 2.05 0 1 0-4.1 0a2.05 2.05 0 1 0 4.1 0M215 807.7a2.05 2.05 0 1 0-4.1 0a2.05 2.05 0 1 0 4.1 0M244.4 804.8a2.05 2.05 0 1 0-4.1 0a2.05 2.05 0 1 0 4.1 0M240.8 810.3a2.05 2.05 0 1 0-4.1 0a2.05 2.05 0 1 0 4.1 0M261.1 811.3a2.05 2.05 0 1 0-4.1 0a2.05 2.05 0 1 0 4.1 0M260.3 813.7a2.05 2.05 0 1 0-4.1 0a2.05 2.05 0 1 0 4.1 0M267.3 815.3a2.05 2.05 0 1 0-4.1 0a2.05 2.05 0 1 0 4.1 0M281.2 814.7a2.05 2.05 0 1 0-4.1 0a2.05 2.05 0 1 0 4.1 0M307.8 811.3a2.05 2.05 0 1 0-4.1 0a2.05 2.05 0 1 0 4.1 0M350.5 824.6a2.05 2.05 0 1 0-4.1 0a2.05 2.05 0 1 0 4.1 0M213 816.7a2.05 2.05 0 1 0-4.1 0a2.05 2.05 0 1 0 4.1 0M216 820.7a2.05 2.05 0 1 0-4.1 0a2.05 2.05 0 1 0 4.1 0M227.5 819.7a2.05 2.05 0 1 0-4.1 0a2.05 2.05 0 1 0 4.1 0M259.7 821.3a2.05 2.05 0 1 0-4.1 0a2.05 2.05 0 1 0 4.1 0M255.3 825.6a2.05 2.05 0 1 0-4.1 0a2.05 2.05 0 1 0 4.1 0M238.4 826.2a2.05 2.05 0 1 0-4.1 0a2.05 2.05 0 1 0 4.1 0M246.8 827.6a2.05 2.05 0 1 0-4.1 0a2.05 2.05 0 1 0 4.1 0M222.9 826.8a2.05 2.05 0 1 0-4.1 0a2.05 2.05 0 1 0 4.1 0M214 828.6a2.05 2.05 0 1 0-4.1 0a2.05 2.05 0 1 0 4.1 0M212 830.6a2.05 2.05 0 1 0-4.1 0a2.05 2.05 0 1 0 4.1 0M283.6 821.3a2.05 2.05 0 1 0-4.1 0a2.05 2.05 0 1 0 4.1 0M287.5 824.2a2.05 2.05 0 1 0-4.1 0a2.05 2.05 0 1 0 4.1 0M291.5 825.6a2.05 2.05 0 1 0-4.1 0a2.05 2.05 0 1 0 4.1 0M280 827.6a2.05 2.05 0 1 0-4.1 0a2.05 2.05 0 1 0 4.1 0M280 832.6a2.05 2.05 0 1 0-4.1 0a2.05 2.05 0 1 0 4.1 0M296.9 833.2a2.05 2.05 0 1 0-4.1 0a2.05 2.05 0 1 0 4.1 0M302 831.2a2.05 2.05 0 1 0-4.1 0a2.05 2.05 0 1 0 4.1 0M260.1 832a2.05 2.05 0 1 0-4.1 0a2.05 2.05 0 1 0 4.1 0M227.5 833.6a2.05 2.05 0 1 0-4.1 0a2.05 2.05 0 1 0 4.1 0M231.5 832.6a2.05 2.05 0 1 0-4.1 0a2.05 2.05 0 1 0 4.1 0M225.5 839.1a2.05 2.05 0 1 0-4.1 0a2.05 2.05 0 1 0 4.1 0M218 839.9a2.05 2.05 0 1 0-4.1 0a2.05 2.05 0 1 0 4.1 0M256.7 837.6a2.05 2.05 0 1 0-4.1 0a2.05 2.05 0 1 0 4.1 0M254.7 840.5a2.05 2.05 0 1 0-4.1 0a2.05 2.05 0 1 0 4.1 0M268.1 836.2a2.05 2.05 0 1 0-4.1 0a2.05 2.05 0 1 0 4.1 0M291.5 837.6a2.05 2.05 0 1 0-4.1 0a2.05 2.05 0 1 0 4.1 0M290.5 842.5a2.05 2.05 0 1 0-4.1 0a2.05 2.05 0 1 0 4.1 0M291.5 843.1a2.05 2.05 0 1 0-4.1 0a2.05 2.05 0 1 0 4.1 0M309 843.1a2.05 2.05 0 1 0-4.1 0a2.05 2.05 0 1 0 4.1 0M311.4 846.1a2.05 2.05 0 1 0-4.1 0a2.05 2.05 0 1 0 4.1 0M317.3 846.5a2.05 2.05 0 1 0-4.1 0a2.05 2.05 0 1 0 4.1 0M319.7 842.9a2.05 2.05 0 1 0-4.1 0a2.05 2.05 0 1 0 4.1 0M213 848.1a2.05 2.05 0 1 0-4.1 0a2.05 2.05 0 1 0 4.1 0M223.5 851.5a2.05 2.05 0 1 0-4.1 0a2.05 2.05 0 1 0 4.1 0M251.8 844.5a2.05 2.05 0 1 0-4.1 0a2.05 2.05 0 1 0 4.1 0M249.2 847.5a2.05 2.05 0 1 0-4.1 0a2.05 2.05 0 1 0 4.1 0M246.8 849.5a2.05 2.05 0 1 0-4.1 0a2.05 2.05 0 1 0 4.1 0M263.1 845.1a2.05 2.05 0 1 0-4.1 0a2.05 2.05 0 1 0 4.1 0M264.7 849.5a2.05 2.05 0 1 0-4.1 0a2.05 2.05 0 1 0 4.1 0M267.7 850.5a2.05 2.05 0 1 0-4.1 0a2.05 2.05 0 1 0 4.1 0M270.6 851.5a2.05 2.05 0 1 0-4.1 0a2.05 2.05 0 1 0 4.1 0M285.5 848.1a2.05 2.05 0 1 0-4.1 0a2.05 2.05 0 1 0 4.1 0M289.5 850.1a2.05 2.05 0 1 0-4.1 0a2.05 2.05 0 1 0 4.1 0M293.1 853.5a2.05 2.05 0 1 0-4.1 0a2.05 2.05 0 1 0 4.1 0M300.5 852.5a2.05 2.05 0 1 0-4.1 0a2.05 2.05 0 1 0 4.1 0M310 856a2.05 2.05 0 1 0-4.1 0a2.05 2.05 0 1 0 4.1 0M324.7 855.4a2.05 2.05 0 1 0-4.1 0a2.05 2.05 0 1 0 4.1 0M324.7 863.4a2.05 2.05 0 1 0-4.1 0a2.05 2.05 0 1 0 4.1 0M213 855.4a2.05 2.05 0 1 0-4.1 0a2.05 2.05 0 1 0 4.1 0M215 859.4a2.05 2.05 0 1 0-4.1 0a2.05 2.05 0 1 0 4.1 0M240.8 853.5a2.05 2.05 0 1 0-4.1 0a2.05 2.05 0 1 0 4.1 0M247.8 856a2.05 2.05 0 1 0-4.1 0a2.05 2.05 0 1 0 4.1 0M254.7 855.4a2.05 2.05 0 1 0-4.1 0a2.05 2.05 0 1 0 4.1 0M260.3 854a2.05 2.05 0 1 0-4.1 0a2.05 2.05 0 1 0 4.1 0M249.4 860.4a2.05 2.05 0 1 0-4.1 0a2.05 2.05 0 1 0 4.1 0M259.7 861a2.05 2.05 0 1 0-4.1 0a2.05 2.05 0 1 0 4.1 0M264.7 853.5a2.05 2.05 0 1 0-4.1 0a2.05 2.05 0 1 0 4.1 0M276.2 857.4a2.05 2.05 0 1 0-4.1 0a2.05 2.05 0 1 0 4.1 0M293.1 858a2.05 2.05 0 1 0-4.1 0a2.05 2.05 0 1 0 4.1 0M241.8 863a2.05 2.05 0 1 0-4.1 0a2.05 2.05 0 1 0 4.1 0M240.2 865.4a2.05 2.05 0 1 0-4.1 0a2.05 2.05 0 1 0 4.1 0M255.3 863.4a2.05 2.05 0 1 0-4.1 0a2.05 2.05 0 1 0 4.1 0M262.7 865.4a2.05 2.05 0 1 0-4.1 0a2.05 2.05 0 1 0 4.1 0M265.1 867.4a2.05 2.05 0 1 0-4.1 0a2.05 2.05 0 1 0 4.1 0M276.2 863.4a2.05 2.05 0 1 0-4.1 0a2.05 2.05 0 1 0 4.1 0M271 864.4a2.05 2.05 0 1 0-4.1 0a2.05 2.05 0 1 0 4.1 0M286.5 864a2.05 2.05 0 1 0-4.1 0a2.05 2.05 0 1 0 4.1 0M285.9 868.8a2.05 2.05 0 1 0-4.1 0a2.05 2.05 0 1 0 4.1 0M296.5 868.8a2.05 2.05 0 1 0-4.1 0a2.05 2.05 0 1 0 4.1 0M248.8 867.4a2.05 2.05 0 1 0-4.1 0a2.05 2.05 0 1 0 4.1 0M246.4 869.7a2.05 2.05 0 1 0-4.1 0a2.05 2.05 0 1 0 4.1 0M263.1 872.9a2.05 2.05 0 1 0-4.1 0a2.05 2.05 0 1 0 4.1 0M219.4 870.3a2.05 2.05 0 1 0-4.1 0a2.05 2.05 0 1 0 4.1 0M224.9 872.3a2.05 2.05 0 1 0-4.1 0a2.05 2.05 0 1 0 4.1 0M229.9 870.3a2.05 2.05 0 1 0-4.1 0a2.05 2.05 0 1 0 4.1 0M217 874.3a2.05 2.05 0 1 0-4.1 0a2.05 2.05 0 1 0 4.1 0M241.4 876.3a2.05 2.05 0 1 0-4.1 0a2.05 2.05 0 1 0 4.1 0M251.8 876.3a2.05 2.05 0 1 0-4.1 0a2.05 2.05 0 1 0 4.1 0M271 877.3a2.05 2.05 0 1 0-4.1 0a2.05 2.05 0 1 0 4.1 0M275 877.3a2.05 2.05 0 1 0-4.1 0a2.05 2.05 0 1 0 4.1 0M278.6 878.3a2.05 2.05 0 1 0-4.1 0a2.05 2.05 0 1 0 4.1 0M284.6 877.7a2.05 2.05 0 1 0-4.1 0a2.05 2.05 0 1 0 4.1 0M283.6 880.3a2.05 2.05 0 1 0-4.1 0a2.05 2.05 0 1 0 4.1 0M287.5 882.3a2.05 2.05 0 1 0-4.1 0a2.05 2.05 0 1 0 4.1 0M310 874.3a2.05 2.05 0 1 0-4.1 0a2.05 2.05 0 1 0 4.1 0M305.8 878.3a2.05 2.05 0 1 0-4.1 0a2.05 2.05 0 1 0 4.1 0M213 881.3a2.05 2.05 0 1 0-4.1 0a2.05 2.05 0 1 0 4.1 0M216 880.3a2.05 2.05 0 1 0-4.1 0a2.05 2.05 0 1 0 4.1 0M222 880.9a2.05 2.05 0 1 0-4.1 0a2.05 2.05 0 1 0 4.1 0M224.9 885.2a2.05 2.05 0 1 0-4.1 0a2.05 2.05 0 1 0 4.1 0M227.9 883.9a2.05 2.05 0 1 0-4.1 0a2.05 2.05 0 1 0 4.1 0M231.9 878.3a2.05 2.05 0 1 0-4.1 0a2.05 2.05 0 1 0 4.1 0M234.9 881.3a2.05 2.05 0 1 0-4.1 0a2.05 2.05 0 1 0 4.1 0M233.5 888.2a2.05 2.05 0 1 0-4.1 0a2.05 2.05 0 1 0 4.1 0M238.8 887.2a2.05 2.05 0 1 0-4.1 0a2.05 2.05 0 1 0 4.1 0M246.4 882.3a2.05 2.05 0 1 0-4.1 0a2.05 2.05 0 1 0 4.1 0M249.4 882.3a2.05 2.05 0 1 0-4.1 0a2.05 2.05 0 1 0 4.1 0M254.3 880.3a2.05 2.05 0 1 0-4.1 0a2.05 2.05 0 1 0 4.1 0M254.7 885.2a2.05 2.05 0 1 0-4.1 0a2.05 2.05 0 1 0 4.1 0M262.3 882.9a2.05 2.05 0 1 0-4.1 0a2.05 2.05 0 1 0 4.1 0M266.7 886.6a2.05 2.05 0 1 0-4.1 0a2.05 2.05 0 1 0 4.1 0M278.6 886.8a2.05 2.05 0 1 0-4.1 0a2.05 2.05 0 1 0 4.1 0M282.6 890.2a2.05 2.05 0 1 0-4.1 0a2.05 2.05 0 1 0 4.1 0M289.5 892.8a2.05 2.05 0 1 0-4.1 0a2.05 2.05 0 1 0 4.1 0M293.9 887.2a2.05 2.05 0 1 0-4.1 0a2.05 2.05 0 1 0 4.1 0M319.3 885.2a2.05 2.05 0 1 0-4.1 0a2.05 2.05 0 1 0 4.1 0M250.8 890.2a2.05 2.05 0 1 0-4.1 0a2.05 2.05 0 1 0 4.1 0M254.3 889.2a2.05 2.05 0 1 0-4.1 0a2.05 2.05 0 1 0 4.1 0M249.8 893.2a2.05 2.05 0 1 0-4.1 0a2.05 2.05 0 1 0 4.1 0M255.7 893.2a2.05 2.05 0 1 0-4.1 0a2.05 2.05 0 1 0 4.1 0M265.3 895.2a2.05 2.05 0 1 0-4.1 0a2.05 2.05 0 1 0 4.1 0M274.6 891.6a2.05 2.05 0 1 0-4.1 0a2.05 2.05 0 1 0 4.1 0M213 894.8a2.05 2.05 0 1 0-4.1 0a2.05 2.05 0 1 0 4.1 0M221.4 895.2a2.05 2.05 0 1 0-4.1 0a2.05 2.05 0 1 0 4.1 0M242.8 894.8a2.05 2.05 0 1 0-4.1 0a2.05 2.05 0 1 0 4.1 0M232.9 896.2a2.05 2.05 0 1 0-4.1 0a2.05 2.05 0 1 0 4.1 0M165.5 900.3a2.05 2.05 0 1 0-4.1 0a2.05 2.05 0 1 0 4.1 0M173 900.3a2.05 2.05 0 1 0-4.1 0a2.05 2.05 0 1 0 4.1 0M178.4 900.3a2.05 2.05 0 1 0-4.1 0a2.05 2.05 0 1 0 4.1 0M176.1 903.6a2.05 2.05 0 1 0-4.1 0a2.05 2.05 0 1 0 4.1 0M173.6 906.5a2.05 2.05 0 1 0-4.1 0a2.05 2.05 0 1 0 4.1 0M149.5 903a2.05 2.05 0 1 0-4.1 0a2.05 2.05 0 1 0 4.1 0M159.7 906.1a2.05 2.05 0 1 0-4.1 0a2.05 2.05 0 1 0 4.1 0M149.5 909a2.05 2.05 0 1 0-4.1 0a2.05 2.05 0 1 0 4.1 0M153.8 910.3a2.05 2.05 0 1 0-4.1 0a2.05 2.05 0 1 0 4.1 0M162 911.3a2.05 2.05 0 1 0-4.1 0a2.05 2.05 0 1 0 4.1 0M178.4 911.3a2.05 2.05 0 1 0-4.1 0a2.05 2.05 0 1 0 4.1 0M185.1 912.2a2.05 2.05 0 1 0-4.1 0a2.05 2.05 0 1 0 4.1 0M187.6 909.7a2.05 2.05 0 1 0-4.1 0a2.05 2.05 0 1 0 4.1 0M185.1 915.7a2.05 2.05 0 1 0-4.1 0a2.05 2.05 0 1 0 4.1 0M199.5 909.3a2.05 2.05 0 1 0-4.1 0a2.05 2.05 0 1 0 4.1 0M199.5 912.8a2.05 2.05 0 1 0-4.1 0a2.05 2.05 0 1 0 4.1 0M206.3 908.4a2.05 2.05 0 1 0-4.1 0a2.05 2.05 0 1 0 4.1 0M191.5 898.8a2.05 2.05 0 1 0-4.1 0a2.05 2.05 0 1 0 4.1 0M199.2 900.7a2.05 2.05 0 1 0-4.1 0a2.05 2.05 0 1 0 4.1 0M126.1 915.7a2.05 2.05 0 1 0-4.1 0a2.05 2.05 0 1 0 4.1 0M159.1 919.9a2.05 2.05 0 1 0-4.1 0a2.05 2.05 0 1 0 4.1 0M174.5 915.1a2.05 2.05 0 1 0-4.1 0a2.05 2.05 0 1 0 4.1 0M173.6 919.4a2.05 2.05 0 1 0-4.1 0a2.05 2.05 0 1 0 4.1 0M189.5 922.2a2.05 2.05 0 1 0-4.1 0a2.05 2.05 0 1 0 4.1 0M193.8 920.9a2.05 2.05 0 1 0-4.1 0a2.05 2.05 0 1 0 4.1 0M194.7 923.8a2.05 2.05 0 1 0-4.1 0a2.05 2.05 0 1 0 4.1 0M203.4 920.9a2.05 2.05 0 1 0-4.1 0a2.05 2.05 0 1 0 4.1 0M206.3 919.9a2.05 2.05 0 1 0-4.1 0a2.05 2.05 0 1 0 4.1 0M203.4 926.7a2.05 2.05 0 1 0-4.1 0a2.05 2.05 0 1 0 4.1 0M210.1 923.8a2.05 2.05 0 1 0-4.1 0a2.05 2.05 0 1 0 4.1 0M138.4 927.6a2.05 2.05 0 1 0-4.1 0a2.05 2.05 0 1 0 4.1 0M145.7 932.8a2.05 2.05 0 1 0-4.1 0a2.05 2.05 0 1 0 4.1 0M150.9 931.1a2.05 2.05 0 1 0-4.1 0a2.05 2.05 0 1 0 4.1 0M160.7 929.5a2.05 2.05 0 1 0-4.1 0a2.05 2.05 0 1 0 4.1 0M162 930.5a2.05 2.05 0 1 0-4.1 0a2.05 2.05 0 1 0 4.1 0M167.4 926.7a2.05 2.05 0 1 0-4.1 0a2.05 2.05 0 1 0 4.1 0M169.3 932.8a2.05 2.05 0 1 0-4.1 0a2.05 2.05 0 1 0 4.1 0M178.4 934a2.05 2.05 0 1 0-4.1 0a2.05 2.05 0 1 0 4.1 0M187 936.3a2.05 2.05 0 1 0-4.1 0a2.05 2.05 0 1 0 4.1 0M191.5 935.3a2.05 2.05 0 1 0-4.1 0a2.05 2.05 0 1 0 4.1 0M199.2 934.4a2.05 2.05 0 1 0-4.1 0a2.05 2.05 0 1 0 4.1 0M204.9 935.9a2.05 2.05 0 1 0-4.1 0a2.05 2.05 0 1 0 4.1 0M207.6 933.4a2.05 2.05 0 1 0-4.1 0a2.05 2.05 0 1 0 4.1 0M209.2 939.7a2.05 2.05 0 1 0-4.1 0a2.05 2.05 0 1 0 4.1 0M156.3 938.2a2.05 2.05 0 1 0-4.1 0a2.05 2.05 0 1 0 4.1 0M146.6 944.4a2.05 2.05 0 1 0-4.1 0a2.05 2.05 0 1 0 4.1 0M151.5 944a2.05 2.05 0 1 0-4.1 0a2.05 2.05 0 1 0 4.1 0M151.8 947.4a2.05 2.05 0 1 0-4.1 0a2.05 2.05 0 1 0 4.1 0M169.3 941.1a2.05 2.05 0 1 0-4.1 0a2.05 2.05 0 1 0 4.1 0M175.5 942a2.05 2.05 0 1 0-4.1 0a2.05 2.05 0 1 0 4.1 0M187 941.1a2.05 2.05 0 1 0-4.1 0a2.05 2.05 0 1 0 4.1 0M188 942.6a2.05 2.05 0 1 0-4.1 0a2.05 2.05 0 1 0 4.1 0M198.6 942.6a2.05 2.05 0 1 0-4.1 0a2.05 2.05 0 1 0 4.1 0M202.4 944a2.05 2.05 0 1 0-4.1 0a2.05 2.05 0 1 0 4.1 0M205.3 944.9a2.05 2.05 0 1 0-4.1 0a2.05 2.05 0 1 0 4.1 0M196.7 947.4a2.05 2.05 0 1 0-4.1 0a2.05 2.05 0 1 0 4.1 0M190.9 949.4a2.05 2.05 0 1 0-4.1 0a2.05 2.05 0 1 0 4.1 0M184.2 949.4a2.05 2.05 0 1 0-4.1 0a2.05 2.05 0 1 0 4.1 0M166.8 947.4a2.05 2.05 0 1 0-4.1 0a2.05 2.05 0 1 0 4.1 0M164.5 950.3a2.05 2.05 0 1 0-4.1 0a2.05 2.05 0 1 0 4.1 0M170.3 951.7a2.05 2.05 0 1 0-4.1 0a2.05 2.05 0 1 0 4.1 0M175.5 953.2a2.05 2.05 0 1 0-4.1 0a2.05 2.05 0 1 0 4.1 0M180.7 957.1a2.05 2.05 0 1 0-4.1 0a2.05 2.05 0 1 0 4.1 0M184.2 954.9a2.05 2.05 0 1 0-4.1 0a2.05 2.05 0 1 0 4.1 0M192.4 953.6a2.05 2.05 0 1 0-4.1 0a2.05 2.05 0 1 0 4.1 0M193.8 958a2.05 2.05 0 1 0-4.1 0a2.05 2.05 0 1 0 4.1 0M198.2 954.6a2.05 2.05 0 1 0-4.1 0a2.05 2.05 0 1 0 4.1 0M202.4 955.5a2.05 2.05 0 1 0-4.1 0a2.05 2.05 0 1 0 4.1 0M200.5 959.4a2.05 2.05 0 1 0-4.1 0a2.05 2.05 0 1 0 4.1 0M208.2 951.7a2.05 2.05 0 1 0-4.1 0a2.05 2.05 0 1 0 4.1 0M90.5 953.2a2.05 2.05 0 1 0-4.1 0a2.05 2.05 0 1 0 4.1 0M99.5 951.7a2.05 2.05 0 1 0-4.1 0a2.05 2.05 0 1 0 4.1 0M101.8 949.4a2.05 2.05 0 1 0-4.1 0a2.05 2.05 0 1 0 4.1 0M106.6 957.4a2.05 2.05 0 1 0-4.1 0a2.05 2.05 0 1 0 4.1 0M146.6 957.4a2.05 2.05 0 1 0-4.1 0a2.05 2.05 0 1 0 4.1 0M156.8 954.6a2.05 2.05 0 1 0-4.1 0a2.05 2.05 0 1 0 4.1 0M174.5 960.3a2.05 2.05 0 1 0-4.1 0a2.05 2.05 0 1 0 4.1 0M137 966.5a2.05 2.05 0 1 0-4.1 0a2.05 2.05 0 1 0 4.1 0M152.4 961.9a2.05 2.05 0 1 0-4.1 0a2.05 2.05 0 1 0 4.1 0M154 963.2a2.05 2.05 0 1 0-4.1 0a2.05 2.05 0 1 0 4.1 0M167.2 963.2a2.05 2.05 0 1 0-4.1 0a2.05 2.05 0 1 0 4.1 0M179 966.5a2.05 2.05 0 1 0-4.1 0a2.05 2.05 0 1 0 4.1 0M181.3 967.1a2.05 2.05 0 1 0-4.1 0a2.05 2.05 0 1 0 4.1 0M182.8 968a2.05 2.05 0 1 0-4.1 0a2.05 2.05 0 1 0 4.1 0M189.9 969.4a2.05 2.05 0 1 0-4.1 0a2.05 2.05 0 1 0 4.1 0M202 970.9a2.05 2.05 0 1 0-4.1 0a2.05 2.05 0 1 0 4.1 0M209.7 973.4a2.05 2.05 0 1 0-4.1 0a2.05 2.05 0 1 0 4.1 0M156.8 972.2a2.05 2.05 0 1 0-4.1 0a2.05 2.05 0 1 0 4.1 0M165.9 977.6a2.05 2.05 0 1 0-4.1 0a2.05 2.05 0 1 0 4.1 0M167.4 976.1a2.05 2.05 0 1 0-4.1 0a2.05 2.05 0 1 0 4.1 0M187 975.3a2.05 2.05 0 1 0-4.1 0a2.05 2.05 0 1 0 4.1 0M181.3 981.1a2.05 2.05 0 1 0-4.1 0a2.05 2.05 0 1 0 4.1 0M106.6 975.3a2.05 2.05 0 1 0-4.1 0a2.05 2.05 0 1 0 4.1 0M120.7 978a2.05 2.05 0 1 0-4.1 0a2.05 2.05 0 1 0 4.1 0M126.8 977.2a2.05 2.05 0 1 0-4.1 0a2.05 2.05 0 1 0 4.1 0M126.1 983.4a2.05 2.05 0 1 0-4.1 0a2.05 2.05 0 1 0 4.1 0M146.6 980.5a2.05 2.05 0 1 0-4.1 0a2.05 2.05 0 1 0 4.1 0M157.6 983a2.05 2.05 0 1 0-4.1 0a2.05 2.05 0 1 0 4.1 0M198.2 985.5a2.05 2.05 0 1 0-4.1 0a2.05 2.05 0 1 0 4.1 0M70.7 986.3a2.05 2.05 0 1 0-4.1 0a2.05 2.05 0 1 0 4.1 0M133.8 991.5a2.05 2.05 0 1 0-4.1 0a2.05 2.05 0 1 0 4.1 0M139.9 993a2.05 2.05 0 1 0-4.1 0a2.05 2.05 0 1 0 4.1 0M147.6 992.6a2.05 2.05 0 1 0-4.1 0a2.05 2.05 0 1 0 4.1 0M119.3 999.2a2.05 2.05 0 1 0-4.1 0a2.05 2.05 0 1 0 4.1 0M109.1 1005.9a2.05 2.05 0 1 0-4.1 0a2.05 2.05 0 1 0 4.1 0M137 1005.9a2.05 2.05 0 1 0-4.1 0a2.05 2.05 0 1 0 4.1 0M100.9 1016.1a2.05 2.05 0 1 0-4.1 0a2.05 2.05 0 1 0 4.1 0M136.4 1014.2a2.05 2.05 0 1 0-4.1 0a2.05 2.05 0 1 0 4.1 0M147.6 1014.2a2.05 2.05 0 1 0-4.1 0a2.05 2.05 0 1 0 4.1 0M159.1 1014.6a2.05 2.05 0 1 0-4.1 0a2.05 2.05 0 1 0 4.1 0M163.6 1017.1a2.05 2.05 0 1 0-4.1 0a2.05 2.05 0 1 0 4.1 0M216 900.9a2.05 2.05 0 1 0-4.1 0a2.05 2.05 0 1 0 4.1 0M228.5 898.6a2.05 2.05 0 1 0-4.1 0a2.05 2.05 0 1 0 4.1 0M234.9 899a2.05 2.05 0 1 0-4.1 0a2.05 2.05 0 1 0 4.1 0M238.8 900a2.05 2.05 0 1 0-4.1 0a2.05 2.05 0 1 0 4.1 0M247.8 898a2.05 2.05 0 1 0-4.1 0a2.05 2.05 0 1 0 4.1 0M243.8 901.9a2.05 2.05 0 1 0-4.1 0a2.05 2.05 0 1 0 4.1 0M246.8 901.9a2.05 2.05 0 1 0-4.1 0a2.05 2.05 0 1 0 4.1 0M238.8 904.5a2.05 2.05 0 1 0-4.1 0a2.05 2.05 0 1 0 4.1 0M270.2 900.6a2.05 2.05 0 1 0-4.1 0a2.05 2.05 0 1 0 4.1 0M288.1 899.6a2.05 2.05 0 1 0-4.1 0a2.05 2.05 0 1 0 4.1 0M220 904.9a2.05 2.05 0 1 0-4.1 0a2.05 2.05 0 1 0 4.1 0M219 907.9a2.05 2.05 0 1 0-4.1 0a2.05 2.05 0 1 0 4.1 0M227.9 906.5a2.05 2.05 0 1 0-4.1 0a2.05 2.05 0 1 0 4.1 0M221.4 909.9a2.05 2.05 0 1 0-4.1 0a2.05 2.05 0 1 0 4.1 0M224.9 911.9a2.05 2.05 0 1 0-4.1 0a2.05 2.05 0 1 0 4.1 0M232.5 911.3a2.05 2.05 0 1 0-4.1 0a2.05 2.05 0 1 0 4.1 0M235.3 912.9a2.05 2.05 0 1 0-4.1 0a2.05 2.05 0 1 0 4.1 0M243.4 908.5a2.05 2.05 0 1 0-4.1 0a2.05 2.05 0 1 0 4.1 0M246.8 912.5a2.05 2.05 0 1 0-4.1 0a2.05 2.05 0 1 0 4.1 0M256.3 909.9a2.05 2.05 0 1 0-4.1 0a2.05 2.05 0 1 0 4.1 0M268.7 908.5a2.05 2.05 0 1 0-4.1 0a2.05 2.05 0 1 0 4.1 0M275.6 906.5a2.05 2.05 0 1 0-4.1 0a2.05 2.05 0 1 0 4.1 0M274 911.5a2.05 2.05 0 1 0-4.1 0a2.05 2.05 0 1 0 4.1 0M296.9 906.5a2.05 2.05 0 1 0-4.1 0a2.05 2.05 0 1 0 4.1 0M295.1 911.5a2.05 2.05 0 1 0-4.1 0a2.05 2.05 0 1 0 4.1 0M216 914.5a2.05 2.05 0 1 0-4.1 0a2.05 2.05 0 1 0 4.1 0M222 915.9a2.05 2.05 0 1 0-4.1 0a2.05 2.05 0 1 0 4.1 0M226.9 917.8a2.05 2.05 0 1 0-4.1 0a2.05 2.05 0 1 0 4.1 0M218 918.8a2.05 2.05 0 1 0-4.1 0a2.05 2.05 0 1 0 4.1 0M222.9 920.2a2.05 2.05 0 1 0-4.1 0a2.05 2.05 0 1 0 4.1 0M214 916.8a2.05 2.05 0 1 0-4.1 0a2.05 2.05 0 1 0 4.1 0M256.7 919.8a2.05 2.05 0 1 0-4.1 0a2.05 2.05 0 1 0 4.1 0M269.6 916.4a2.05 2.05 0 1 0-4.1 0a2.05 2.05 0 1 0 4.1 0M272.2 916.4a2.05 2.05 0 1 0-4.1 0a2.05 2.05 0 1 0 4.1 0M281.2 918.4a2.05 2.05 0 1 0-4.1 0a2.05 2.05 0 1 0 4.1 0M284.6 922.4a2.05 2.05 0 1 0-4.1 0a2.05 2.05 0 1 0 4.1 0M212 924.4a2.05 2.05 0 1 0-4.1 0a2.05 2.05 0 1 0 4.1 0M235.9 922.8a2.05 2.05 0 1 0-4.1 0a2.05 2.05 0 1 0 4.1 0M229.9 927.2a2.05 2.05 0 1 0-4.1 0a2.05 2.05 0 1 0 4.1 0M234.5 929.2a2.05 2.05 0 1 0-4.1 0a2.05 2.05 0 1 0 4.1 0M278.6 928.4a2.05 2.05 0 1 0-4.1 0a2.05 2.05 0 1 0 4.1 0M271.6 934.7a2.05 2.05 0 1 0-4.1 0a2.05 2.05 0 1 0 4.1 0M280.6 934.7a2.05 2.05 0 1 0-4.1 0a2.05 2.05 0 1 0 4.1 0M219.4 936.1a2.05 2.05 0 1 0-4.1 0a2.05 2.05 0 1 0 4.1 0M246.8 936.3a2.05 2.05 0 1 0-4.1 0a2.05 2.05 0 1 0 4.1 0M246.8 940.7a2.05 2.05 0 1 0-4.1 0a2.05 2.05 0 1 0 4.1 0M231.3 942.1a2.05 2.05 0 1 0-4.1 0a2.05 2.05 0 1 0 4.1 0M262.3 938.3a2.05 2.05 0 1 0-4.1 0a2.05 2.05 0 1 0 4.1 0M254.1 948a2.05 2.05 0 1 0-4.1 0a2.05 2.05 0 1 0 4.1 0M240.8 951a2.05 2.05 0 1 0-4.1 0a2.05 2.05 0 1 0 4.1 0M219 952.2a2.05 2.05 0 1 0-4.1 0a2.05 2.05 0 1 0 4.1 0M221 967.1a2.05 2.05 0 1 0-4.1 0a2.05 2.05 0 1 0 4.1 0M215.4 978.9a2.05 2.05 0 1 0-4.1 0a2.05 2.05 0 1 0 4.1 0M221 975.9a2.05 2.05 0 1 0-4.1 0a2.05 2.05 0 1 0 4.1 0" stroke="#ad2e2e" stroke-width="1.25" fill="none"/>
<text x="449.9" y="748.5" font-size="14.2" text-anchor="start" fill="#2a2a2a" textLength="285.5" lengthAdjust="spacingAndGlyphs">F. Network connections in brown module</text>
<path d="M433.4 783.7L486.9 800M433.4 783.7L539.6 815.8M486.9 800L475.7 833.1M486.9 800L539.6 815.8M486.9 800L591.4 848.4M486.9 800L634.7 862.7M486.9 800L583.7 917.7M539.6 815.8L627 820.9M539.6 815.8L475.7 833.1M539.6 815.8L459.6 854M539.6 815.8L468.6 873.1M539.6 815.8L445.6 888.2M539.6 815.8L433.2 903.6M539.6 815.8L591.4 848.4M539.6 815.8L634.7 862.7M539.6 815.8L583.7 917.7M539.6 815.8L426.5 938.4M539.6 815.8L490.5 923.5M539.6 815.8L529.2 963.1M539.6 815.8L633.7 880.5M539.6 815.8L513.9 1029.3M627 820.9L591.4 848.4M627 820.9L634.7 862.7M627 820.9L583.7 917.7M627 820.9L475.7 833.1M627 820.9L459.6 854M627 820.9L633.7 880.5M627 820.9L637.2 904.5M627 820.9L529.2 963.1M475.7 833.1L634.7 862.7M475.7 833.1L591.4 848.4M475.7 833.1L583.7 917.7M591.4 848.4L459.6 854M591.4 848.4L468.6 873.1M591.4 848.4L634.7 862.7M591.4 848.4L583.7 917.7M591.4 848.4L426.5 938.4M591.4 848.4L433.2 903.6M591.4 848.4L445.6 888.2M591.4 848.4L513.9 1029.3M591.4 848.4L559.2 1089M459.6 854L445.6 888.2M459.6 854L433.2 903.6M459.6 854L426.5 938.4M459.6 854L634.7 862.7M459.6 854L583.7 917.7M459.6 854L529.2 963.1M459.6 854L513.9 1029.3M459.6 854L400.3 993.6M634.7 862.7L468.6 873.1M634.7 862.7L433.2 903.6M634.7 862.7L445.6 888.2M634.7 862.7L426.5 938.4M634.7 862.7L583.7 917.7M634.7 862.7L490.5 923.5M634.7 862.7L529.2 963.1M634.7 862.7L647.4 955.9M634.7 862.7L513.9 1029.3M634.7 862.7L559.2 1089M468.6 873.1L583.7 917.7M468.6 873.1L433.2 903.6M468.6 873.1L426.5 938.4M633.7 880.5L583.7 917.7M633.7 880.5L529.2 963.1M445.6 888.2L433.2 903.6M445.6 888.2L426.5 938.4M445.6 888.2L583.7 917.7M445.6 888.2L513.9 1029.3M433.2 903.6L583.7 917.7M433.2 903.6L426.5 938.4M433.2 903.6L490.5 923.5M433.2 903.6L529.2 963.1M433.2 903.6L513.9 1029.3M433.2 903.6L400.3 993.6M433.2 903.6L440 972.2M637.2 904.5L583.7 917.7M637.2 904.5L647.4 955.9M637.2 904.5L529.2 963.1M583.7 917.7L490.5 923.5M583.7 917.7L426.5 938.4M583.7 917.7L529.2 963.1M583.7 917.7L647.4 955.9M583.7 917.7L593.9 985M583.7 917.7L642.3 1001.8M583.7 917.7L513.9 1029.3M583.7 917.7L559.2 1089M583.7 917.7L440 972.2M583.7 917.7L639.8 928.9M490.5 923.5L529.2 963.1M490.5 923.5L426.5 938.4M490.5 923.5L513.9 1029.3M490.5 923.5L559.2 1089M639.8 928.9L647.4 955.9M639.8 928.9L529.2 963.1M426.5 938.4L440 972.2M426.5 938.4L400.3 993.6M426.5 938.4L529.2 963.1M426.5 938.4L513.9 1029.3M426.5 938.4L559.2 1089M426.5 938.4L593.9 985M647.4 955.9L529.2 963.1M647.4 955.9L593.9 985M647.4 955.9L642.3 1001.8M647.4 955.9L513.9 1029.3M529.2 963.1L593.9 985M529.2 963.1L440 972.2M529.2 963.1L400.3 993.6M529.2 963.1L513.9 1029.3M529.2 963.1L559.2 1089M529.2 963.1L642.3 1001.8M440 972.2L513.9 1029.3M440 972.2L400.3 993.6M593.9 985L642.3 1001.8M593.9 985L513.9 1029.3M593.9 985L559.2 1089M400.3 993.6L513.9 1029.3M642.3 1001.8L513.9 1029.3M513.9 1029.3L559.2 1089" stroke="#40e0d0" stroke-width="0.65" fill="none"/>
<circle cx="433.4" cy="783.7" r="4.2" fill="url(#ng)"/>
<text x="438.7" y="788.6" font-size="12.2" text-anchor="start" fill="#1a1a1a" textLength="87.9" lengthAdjust="spacingAndGlyphs">A330080J22RIK</text>
<circle cx="586.3" cy="778.6" r="4.2" fill="url(#ng)"/>
<text x="591.6" y="783.5" font-size="12.2" text-anchor="start" fill="#1a1a1a" textLength="90.4" lengthAdjust="spacingAndGlyphs">1110055L24RIK</text>
<circle cx="486.9" cy="800" r="4.2" fill="url(#ng)"/>
<text x="492.2" y="804.9" font-size="12.2" text-anchor="start" fill="#1a1a1a" textLength="59.1" lengthAdjust="spacingAndGlyphs">BC013481</text>
<circle cx="539.6" cy="815.8" r="4.2" fill="url(#ng)"/>
<text x="544.9" y="820.7" font-size="12.2" text-anchor="start" fill="#1a1a1a" textLength="47.6" lengthAdjust="spacingAndGlyphs">NOTCH1</text>
<circle cx="627" cy="820.9" r="4.2" fill="url(#ng)"/>
<text x="632.3" y="825.8" font-size="12.2" text-anchor="start" fill="#1a1a1a" textLength="91.9" lengthAdjust="spacingAndGlyphs">2410195B05RIK</text>
<circle cx="475.7" cy="833.1" r="4.2" fill="url(#ng)"/>
<text x="481" y="838" font-size="12.2" text-anchor="start" fill="#1a1a1a" textLength="91.5" lengthAdjust="spacingAndGlyphs">2810455K09RIK</text>
<circle cx="591.4" cy="848.4" r="4.2" fill="url(#ng)"/>
<text x="596.7" y="853.3" font-size="12.2" text-anchor="start" fill="#1a1a1a" textLength="91.5" lengthAdjust="spacingAndGlyphs">E130113K08RIK</text>
<circle cx="459.6" cy="854" r="4.2" fill="url(#ng)"/>
<text x="464.9" y="858.9" font-size="12.2" text-anchor="start" fill="#1a1a1a" textLength="90.4" lengthAdjust="spacingAndGlyphs">1700081L11RIK</text>
<circle cx="634.7" cy="862.7" r="4.2" fill="url(#ng)"/>
<text x="640" y="867.6" font-size="12.2" text-anchor="start" fill="#1a1a1a" textLength="22.5" lengthAdjust="spacingAndGlyphs">AK2</text>
<circle cx="468.6" cy="873.1" r="4.2" fill="url(#ng)"/>
<text x="473.9" y="878" font-size="12.2" text-anchor="start" fill="#1a1a1a" textLength="59.1" lengthAdjust="spacingAndGlyphs">AB041550</text>
<circle cx="633.7" cy="880.5" r="4.2" fill="url(#ng)"/>
<text x="639" y="885.4" font-size="12.2" text-anchor="start" fill="#1a1a1a" textLength="24.4" lengthAdjust="spacingAndGlyphs">UOX</text>
<circle cx="445.6" cy="888.2" r="4.2" fill="url(#ng)"/>
<text x="450.9" y="893.1" font-size="12.2" text-anchor="start" fill="#1a1a1a" textLength="32.6" lengthAdjust="spacingAndGlyphs">FMO2</text>
<circle cx="433.2" cy="903.6" r="4.2" fill="url(#ng)"/>
<text x="438.5" y="908.5" font-size="12.2" text-anchor="start" fill="#1a1a1a" textLength="92" lengthAdjust="spacingAndGlyphs">4921505C17RIK</text>
<circle cx="637.2" cy="904.5" r="4.2" fill="url(#ng)"/>
<text x="642.5" y="909.4" font-size="12.2" text-anchor="start" fill="#1a1a1a" textLength="92" lengthAdjust="spacingAndGlyphs">5730446C15RIK</text>
<circle cx="583.7" cy="917.7" r="4.2" fill="url(#ng)"/>
<text x="589" y="922.6" font-size="12.2" text-anchor="start" fill="#1a1a1a" textLength="33" lengthAdjust="spacingAndGlyphs">GCLM</text>
<circle cx="490.5" cy="923.5" r="4.2" fill="url(#ng)"/>
<text x="495.8" y="928.4" font-size="12.2" text-anchor="start" fill="#1a1a1a" textLength="37" lengthAdjust="spacingAndGlyphs">USP31</text>
<circle cx="639.8" cy="928.9" r="4.2" fill="url(#ng)"/>
<text x="645.1" y="933.8" font-size="12.2" text-anchor="start" fill="#1a1a1a" textLength="91.8" lengthAdjust="spacingAndGlyphs">5730455A04RIK</text>
<circle cx="426.5" cy="938.4" r="4.2" fill="url(#ng)"/>
<text x="431.8" y="943.3" font-size="12.2" text-anchor="start" fill="#1a1a1a" textLength="72.8" lengthAdjust="spacingAndGlyphs">4932441K18</text>
<circle cx="647.4" cy="955.9" r="4.2" fill="url(#ng)"/>
<text x="652.7" y="960.8" font-size="12.2" text-anchor="start" fill="#1a1a1a" textLength="94.1" lengthAdjust="spacingAndGlyphs">D930050H05RIK</text>
<circle cx="529.2" cy="963.1" r="4.2" fill="url(#ng)"/>
<text x="534.5" y="968" font-size="12.2" text-anchor="start" fill="#1a1a1a" textLength="87.3" lengthAdjust="spacingAndGlyphs">E130014J05RIK</text>
<circle cx="440" cy="972.2" r="4.2" fill="url(#ng)"/>
<text x="445.3" y="977.1" font-size="12.2" text-anchor="start" fill="#1a1a1a" textLength="41" lengthAdjust="spacingAndGlyphs">MKRN2</text>
<circle cx="593.9" cy="985" r="4.2" fill="url(#ng)"/>
<text x="599.2" y="989.9" font-size="12.2" text-anchor="start" fill="#1a1a1a" textLength="42.8" lengthAdjust="spacingAndGlyphs">PPAP2B</text>
<circle cx="400.3" cy="993.6" r="4.2" fill="url(#ng)"/>
<text x="405.6" y="998.5" font-size="12.2" text-anchor="start" fill="#1a1a1a" textLength="91.9" lengthAdjust="spacingAndGlyphs">4930550B20RIK</text>
<circle cx="642.3" cy="1001.8" r="4.2" fill="url(#ng)"/>
<text x="647.6" y="1006.7" font-size="12.2" text-anchor="start" fill="#1a1a1a" textLength="16.3" lengthAdjust="spacingAndGlyphs">NA</text>
<circle cx="513.9" cy="1029.3" r="4.2" fill="url(#ng)"/>
<text x="519.2" y="1034.2" font-size="12.2" text-anchor="start" fill="#1a1a1a" textLength="43" lengthAdjust="spacingAndGlyphs">ZFP307</text>
<circle cx="417.1" cy="1068" r="4.2" fill="url(#ng)"/>
<text x="422.4" y="1072.9" font-size="12.2" text-anchor="start" fill="#1a1a1a" textLength="28.6" lengthAdjust="spacingAndGlyphs">FVT1</text>
<circle cx="559.2" cy="1089" r="4.2" fill="url(#ng)"/>
<text x="564.5" y="1093.9" font-size="12.2" text-anchor="start" fill="#1a1a1a" textLength="48" lengthAdjust="spacingAndGlyphs">CDKN1C</text>
</svg></body></html>
